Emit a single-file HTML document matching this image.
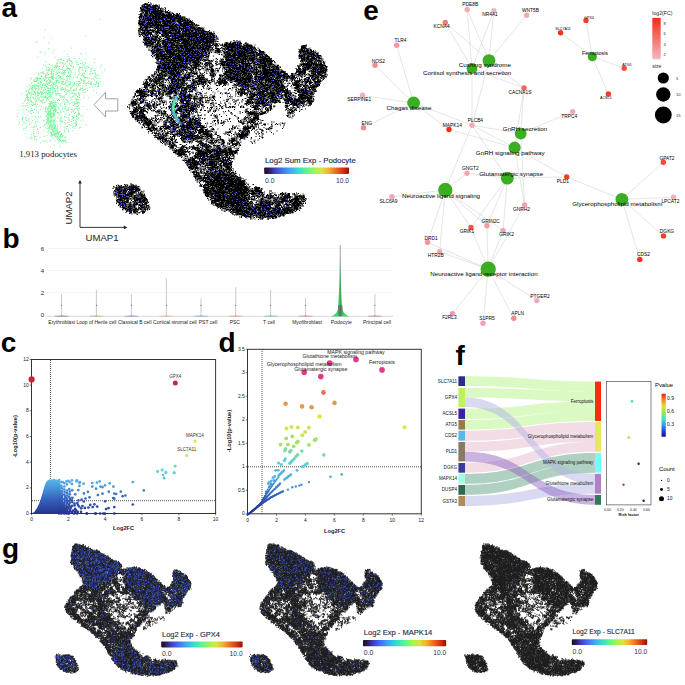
<!DOCTYPE html><html><head><meta charset="utf-8"><title>figure</title><style>html,body{margin:0;padding:0;background:#fff;width:685px;height:685px;overflow:hidden}</style></head><body><svg width="685" height="685" viewBox="0 0 685 685" style="position:absolute;left:0;top:0">
<defs>
<linearGradient id="turbo" x1="0" x2="1" y1="0" y2="0">
<stop offset="0" stop-color="#1c0f1c"/><stop offset="0.05" stop-color="#2a1a55"/><stop offset="0.12" stop-color="#3d3fc0"/>
<stop offset="0.2" stop-color="#4668f0"/><stop offset="0.3" stop-color="#3ea6f5"/><stop offset="0.4" stop-color="#35dcd0"/>
<stop offset="0.5" stop-color="#5af590"/><stop offset="0.6" stop-color="#a5f550"/><stop offset="0.68" stop-color="#d8e43a"/>
<stop offset="0.76" stop-color="#f5b030"/><stop offset="0.84" stop-color="#f07020"/><stop offset="0.92" stop-color="#d83a10"/>
<stop offset="1" stop-color="#8c1408"/></linearGradient>
<linearGradient id="redleg" x1="0" x2="0" y1="0" y2="1"><stop offset="0" stop-color="#ff2a1a"/><stop offset="1" stop-color="#f2b8c2"/></linearGradient>
<linearGradient id="pval" x1="0" x2="0" y1="0" y2="1"><stop offset="0" stop-color="#ff1a10"/><stop offset="0.15" stop-color="#f58a20"/><stop offset="0.3" stop-color="#e8e030"/><stop offset="0.45" stop-color="#90e860"/><stop offset="0.6" stop-color="#40e0d0"/><stop offset="0.75" stop-color="#3090f0"/><stop offset="0.9" stop-color="#2030d0"/><stop offset="1" stop-color="#101080"/></linearGradient>
<linearGradient id="cloud" x1="0" x2="0" y1="1" y2="0"><stop offset="0" stop-color="#27358f"/><stop offset="0.4" stop-color="#3460bd"/><stop offset="0.8" stop-color="#4a9bdc"/><stop offset="1" stop-color="#5ab6e6"/></linearGradient>
</defs>
<path id="um" d="M148 2.5h1M150 3h1M145 3.5h1m.5 0h1M144 4h1m1.5 0h1m3.5 0h1M143.5 4.5h5m.5 0h2M142 5h2m2 0h5.5m1.5 0h1m1 0h2m1.5 0h1M141.5 5.5h1m1.5 0h1m2 0h3m2.5 0h1m.5 0h2.5m.5 0h1M142 6h1.5m.5 0h1.5m.5 0h5m1 0h5.5m1.5 0h1M141.5 6.5h7.5m.5 0h2m1 0h4m1 0h1M142.5 7h2.5m.5 0h3.5m.5 0h5.5m1 0h4M140 7.5h1m.5 0h1m1.5 0h4m2.5 0h4m.5 0h1m1 0h2.5m5 0h1M141 8h3m1.5 0h2m1 0h7.5m.5 0h1m.5 0h2m1 0h1M140 8.5h2m1.5 0h1m1 0h4.5m.5 0h1m1 0h1.5m.5 0h2.5m.5 0h2m.5 0h1m1.5 0h1m1.5 0h1M140.5 9h1.5m.5 0h11m.5 0h1m1.5 0h1m4 0h1M141 9.5h4m1 0h2m.5 0h10m1.5 0h1m3.5 0h1M140.5 10h1.5m1.5 0h1.5m.5 0h6m.5 0h7.5m1 0h3.5M141 10.5h2m.5 0h8m.5 0h4m.5 0h5m3.5 0h1m2 0h1M140.5 11h10m1.5 0h5.5m2 0h3.5M139.5 11.5h1m4 0h4m.5 0h1m.5 0h8.5m.5 0h4m1 0h2m.5 0h1m1.5 0h1M141 12h2m.5 0h1m.5 0h3m1 0h1m.5 0h4m.5 0h9.5m.5 0h1m.5 0h1.5M142.5 12.5h1.5m1 0h3m.5 0h1.5m.5 0h7.5m.5 0h3.5m3 0h5m.5 0h1M145 13h2m.5 0h1m1 0h1m.5 0h1m.5 0h1m1.5 0h1.5m.5 0h5.5m5.5 0h1m3 0h1M140.5 13.5h1.5m1.5 0h17.5m.5 0h3m3.5 0h2m1.5 0h2.5m2.5 0h1m1.5 0h1M140 14h2.5m1 0h1m.5 0h3m1.5 0h1m1.5 0h1.5m.5 0h6m2.5 0h1.5m1 0h6m5 0h2m1 0h1M138.5 14.5h1m.5 0h2m2 0h2m1.5 0h1m1.5 0h3m1 0h13m1 0h4m1 0h2m1.5 0h2M139.5 15h3m1 0h2m.5 0h4m1.5 0h1m.5 0h2m.5 0h5m1 0h1.5m.5 0h1.5m1.5 0h2.5m.5 0h2m2 0h1m.5 0h4.5M140 15.5h2.5m1.5 0h3.5m.5 0h3m.5 0h7m.5 0h1m.5 0h12m.5 0h1m.5 0h4.5m1 0h1M140 16h3.5m.5 0h1m1 0h2.5m1.5 0h2m1.5 0h1.5m2 0h2m.5 0h3m1.5 0h5.5m.5 0h1.5m1 0h2m.5 0h5M139 16.5h3.5m.5 0h4m.5 0h1m.5 0h1m.5 0h1m.5 0h5m.5 0h3.5m1 0h2m.5 0h1.5m.5 0h4m.5 0h3.5m1.5 0h5m1.5 0h1M139.5 17h2.5m1.5 0h1.5m1 0h5m.5 0h1m.5 0h2m2 0h3.5m.5 0h12m.5 0h3m.5 0h2m2 0h1.5m1 0h2M138.5 17.5h2m.5 0h1m1 0h1m1.5 0h1m.5 0h2.5m1 0h4m.5 0h2.5m.5 0h2.5m.5 0h5m1 0h6.5m.5 0h3.5m1 0h3m.5 0h1m.5 0h1M139 18h1m.5 0h2.5m2 0h7.5m1.5 0h4.5m1 0h1m1.5 0h4.5m1 0h2.5m.5 0h1m.5 0h13.5M139 18.5h1m1.5 0h2.5m.5 0h5m.5 0h5.5m.5 0h1m.5 0h6m.5 0h1m.5 0h2m.5 0h5m.5 0h8.5m.5 0h1.5m.5 0h1m.5 0h1M139.5 19h1.5m1 0h6m1 0h3m.5 0h1.5m1 0h3.5m1 0h3m1.5 0h4.5m.5 0h2m.5 0h4m.5 0h9m.5 0h3m.5 0h1M139.5 19.5h1m1.5 0h2m.5 0h1m1.5 0h7.5m.5 0h5.5m.5 0h3m1 0h10.5m2.5 0h1m.5 0h6m1.5 0h1M139 20h5m.5 0h9.5m1 0h3m.5 0h3m.5 0h2m1.5 0h10.5m.5 0h2m.5 0h1m.5 0h1.5m.5 0h2m2 0h3M138.5 20.5h2m2 0h2.5m1 0h7.5m.5 0h1.5m.5 0h3m2.5 0h4m.5 0h10m.5 0h4.5m1 0h4.5m.5 0h2m.5 0h1.5M139 21h1m.5 0h1m.5 0h1m.5 0h6m1 0h10.5m1 0h13m.5 0h1m.5 0h3.5m1 0h4m1 0h2.5m3 0h1M139 21.5h3m.5 0h2.5m2 0h4m.5 0h1.5m1 0h4.5m.5 0h2m.5 0h3.5m.5 0h6m.5 0h2.5m1 0h10.5m.5 0h1.5m1 0h3M138 22h2.5m.5 0h4.5m1 0h2m.5 0h2m1 0h6.5m.5 0h1m.5 0h11.5m1 0h3m.5 0h5m1.5 0h4.5m.5 0h1m1.5 0h1M139 22.5h1m1.5 0h19.5m2.5 0h9m1.5 0h1.5m2.5 0h3.5m2 0h10M138 23h1.5m.5 0h3m.5 0h8m.5 0h3m2 0h1m.5 0h2.5m.5 0h1m.5 0h2.5m.5 0h3m.5 0h3.5m5.5 0h2.5m.5 0h1m.5 0h1.5m.5 0h3m3.5 0h2M138 23.5h5m.5 0h2m.5 0h2.5m.5 0h5m1 0h6m1 0h6.5m.5 0h2m2 0h2m3 0h4m1 0h6.5m1.5 0h1.5m1 0h1.5M138.5 24h7.5m.5 0h3m1.5 0h1.5m.5 0h3.5m.5 0h1m1 0h1.5m2 0h2.5m1 0h2m1 0h1m.5 0h2.5m1.5 0h3m1 0h7.5m.5 0h8.5M139 24.5h5.5m.5 0h1m.5 0h7.5m.5 0h5.5m.5 0h1.5m.5 0h1m.5 0h4.5m2 0h1m.5 0h2m1 0h2m.5 0h1.5m.5 0h4m.5 0h1m.5 0h7.5m.5 0h2m.5 0h1M138.5 25h2m2 0h11m.5 0h1.5m.5 0h2.5m.5 0h3m2.5 0h6.5m1 0h1.5m.5 0h4m3 0h2.5m.5 0h8m1.5 0h1m3 0h1M140 25.5h1m.5 0h3.5m.5 0h2m.5 0h1.5m.5 0h20m.5 0h2.5m.5 0h2.5m.5 0h3m.5 0h10.5m1.5 0h1.5m1.5 0h1.5m1 0h2M140 26h1m.5 0h1m1.5 0h1.5m.5 0h4m1 0h2.5m.5 0h8.5m.5 0h3m1 0h1m1 0h2.5m.5 0h1.5m.5 0h1m.5 0h1m.5 0h5.5m.5 0h12m1 0h2M140.5 26.5h2m1.5 0h8.5m1 0h1m.5 0h9.5m.5 0h2m.5 0h7m.5 0h3m1 0h1m2 0h10m.5 0h1m1 0h1M139.5 27h2.5m1 0h1m.5 0h7m2 0h2m.5 0h2m.5 0h1m2 0h3.5m2.5 0h2.5m.5 0h4.5m.5 0h2.5m.5 0h6m.5 0h8.5m2 0h1M140 27.5h2m.5 0h1m.5 0h4m1.5 0h1.5m.5 0h2m1.5 0h4m.5 0h2m1 0h1.5m5 0h2.5m.5 0h2.5m.5 0h2m.5 0h1m.5 0h1m.5 0h4m.5 0h1.5m.5 0h2m1 0h2.5m.5 0h2m1.5 0h1m.5 0h2m.5 0h1M140 28h4m1.5 0h4.5m4.5 0h2m1 0h2m.5 0h1m.5 0h2m1 0h4m.5 0h6.5m.5 0h4m.5 0h1m.5 0h7.5m.5 0h9m.5 0h1m1.5 0h1m.5 0h1M138.5 28.5h1.5m.5 0h3m1.5 0h2.5m6.5 0h1m.5 0h2.5m.5 0h3m1 0h1.5m.5 0h3.5m.5 0h7m1.5 0h9m.5 0h1m1 0h3m.5 0h4m1 0h5m.5 0h1M138.5 29h2.5m.5 0h1.5m1 0h4m1.5 0h1m2 0h1.5m3 0h7m.5 0h1m.5 0h7.5m.5 0h7m1 0h14m.5 0h1.5m1 0h3m1 0h1M139.5 29.5h6.5m.5 0h1m2.5 0h1m.5 0h1m2.5 0h1m1.5 0h1.5m1 0h2m.5 0h2.5m.5 0h1m2 0h2m1 0h5m.5 0h3m1 0h1.5m.5 0h1m1 0h4m.5 0h1.5m1.5 0h1m.5 0h6.5m.5 0h2M138.5 30h1m1 0h10m3.5 0h1m2 0h1m.5 0h1m1.5 0h6m.5 0h3.5m1 0h1.5m1 0h4m.5 0h1m2.5 0h1.5m1 0h1m.5 0h5m.5 0h2m1 0h1m1 0h7.5M138 30.5h1.5m2 0h4m.5 0h9.5m1 0h7.5m.5 0h3.5m2 0h10.5m.5 0h1m1 0h6m.5 0h3.5m.5 0h1m.5 0h1m.5 0h8m4.5 0h1M138 31h3m1 0h1m.5 0h1m.5 0h1m1 0h2m.5 0h1m6.5 0h9.5m.5 0h3m2 0h2.5m.5 0h5m2 0h6m.5 0h2m.5 0h3.5m.5 0h1m.5 0h1m1 0h3m.5 0h2m.5 0h1M138.5 31.5h1m4 0h2m1 0h3m2.5 0h2.5m.5 0h4.5m2.5 0h5m1.5 0h3m1 0h1m1.5 0h6m1 0h8.5m.5 0h2.5m1.5 0h2m.5 0h2m1.5 0h1.5m.5 0h4.5m.5 0h1M140 32h1m1.5 0h3m1 0h2.5m1.5 0h3.5m1 0h1.5m1 0h2m2 0h3.5m.5 0h6m2.5 0h6.5m1.5 0h1m1 0h3m.5 0h2.5m1 0h1m.5 0h2m.5 0h2.5m.5 0h1.5m.5 0h6m1 0h1.5m.5 0h1m.5 0h1m1.5 0h1.5M138.5 32.5h1m1.5 0h1.5m.5 0h2m.5 0h2.5m.5 0h3.5m1.5 0h1m1.5 0h5m2 0h4.5m.5 0h4.5m1 0h1m1 0h1m.5 0h3.5m2 0h1m1 0h2m2.5 0h2.5m1 0h5m1.5 0h1m.5 0h5m1 0h1m1.5 0h1.5m.5 0h1M139 33h1m.5 0h1m.5 0h3.5m.5 0h4m1 0h1m2.5 0h1.5m.5 0h2.5m.5 0h1m1 0h2m1 0h2.5m.5 0h6.5m.5 0h1m.5 0h4m1 0h3m1 0h15m.5 0h1m.5 0h1m3 0h5.5M138.5 33.5h1m2 0h4m.5 0h1.5m.5 0h4m4.5 0h1.5m1 0h2m1.5 0h1m.5 0h4m.5 0h7.5m.5 0h14.5m.5 0h11m.5 0h2m.5 0h1m.5 0h6.5m.5 0h1M142 34h1.5m.5 0h2m.5 0h1m.5 0h3m4 0h2.5m5 0h6.5m.5 0h2.5m.5 0h1.5m1 0h4.5m1 0h1m.5 0h2m.5 0h1m1.5 0h2m.5 0h2.5m.5 0h2m.5 0h3m.5 0h15M139 34.5h1m.5 0h1.5m2 0h4m1 0h3.5m3.5 0h1m4 0h2m.5 0h1m.5 0h2.5m.5 0h1m1 0h1m1.5 0h4m.5 0h3.5m1 0h1m.5 0h1m.5 0h3m.5 0h4.5m.5 0h1m.5 0h4.5m1 0h4m.5 0h4.5m.5 0h4M138.5 35h1m.5 0h1m1 0h2m1 0h1.5m.5 0h2.5m3 0h1m.5 0h1m1.5 0h2.5m2.5 0h1m1 0h5.5m1.5 0h6m.5 0h2m.5 0h5.5m.5 0h3.5m.5 0h10m.5 0h11m.5 0h4M142 35.5h1m2 0h3m2 0h1m1 0h1m4 0h1.5m3 0h7m1 0h2m.5 0h1.5m.5 0h4.5m.5 0h1.5m.5 0h22m.5 0h2.5m1 0h1m2 0h1.5m.5 0h3M140 36h1m3 0h4.5m1.5 0h1m1.5 0h2m.5 0h2m6 0h1m1 0h5.5m1 0h18.5m.5 0h6m1.5 0h1m1 0h5.5m1.5 0h4m1 0h1m.5 0h1.5m.5 0h1.5M139 36.5h1m3 0h1m.5 0h1m1.5 0h2m3.5 0h1.5m.5 0h3.5m1.5 0h1m1 0h3m.5 0h2m.5 0h1m.5 0h7.5m1 0h2.5m.5 0h3.5m.5 0h2m.5 0h10.5m1 0h13.5m1 0h1m2 0h1M143 37h4.5m.5 0h1.5m.5 0h3.5m.5 0h4m.5 0h1m.5 0h1m3.5 0h5m1 0h2.5m.5 0h3.5m.5 0h6.5m1 0h9m4 0h13m.5 0h4m1 0h1M145 37.5h5m1.5 0h1m2 0h3.5m1.5 0h1m4 0h1.5m.5 0h1.5m.5 0h1m2.5 0h1m1.5 0h8m.5 0h1m4 0h5m.5 0h1m.5 0h4m.5 0h9.5m.5 0h3m.5 0h2m.5 0h1M144 38h1m1 0h1m1 0h1.5m1.5 0h1m.5 0h1.5m.5 0h3m1 0h1m1 0h1m4 0h4m3 0h1.5m.5 0h11m.5 0h2m.5 0h9m1 0h1.5m1 0h9m.5 0h3m.5 0h1.5m2 0h1M143.5 38.5h3.5m.5 0h2m.5 0h3.5m1 0h1.5m2 0h2m1 0h1m1 0h1m2 0h4.5m1 0h7.5m1.5 0h3m1 0h1.5m1 0h5m1.5 0h1.5m.5 0h3m.5 0h8m.5 0h4.5m.5 0h1.5m2.5 0h1M144 39h3m.5 0h2m.5 0h4.5m.5 0h2m.5 0h1m.5 0h1m1.5 0h1m.5 0h1.5m1.5 0h2.5m1 0h3.5m.5 0h5m1 0h1m.5 0h1m1.5 0h2m.5 0h5m.5 0h3.5m.5 0h1.5m1.5 0h1.5m2.5 0h9m.5 0h3m1 0h2M143 39.5h1.5m.5 0h12m2 0h2m3 0h5.5m1 0h3m1 0h1.5m2 0h8.5m1 0h3m.5 0h1m1 0h2m1 0h3.5m.5 0h13.5m.5 0h1.5M144.5 40h2.5m.5 0h2.5m.5 0h3m.5 0h4.5m8 0h4.5m.5 0h1m.5 0h1m3.5 0h1m.5 0h2m.5 0h4m.5 0h2m.5 0h2.5m.5 0h5.5m.5 0h12.5m.5 0h4m1 0h1M143.5 40.5h2m.5 0h2m2 0h5.5m.5 0h1m.5 0h3m1 0h4m.5 0h1m.5 0h15m.5 0h16.5m.5 0h5.5m.5 0h3.5m.5 0h2.5m.5 0h1.5m19 0h1m2 0h1M145 41h11m5.5 0h5m1 0h1m.5 0h3m1 0h13.5m.5 0h2m1 0h1m.5 0h1.5m1.5 0h1m.5 0h2m1 0h2.5m.5 0h3m1.5 0h4.5m.5 0h1m.5 0h1m.5 0h2m17 0h1m5 0h1M145.5 41.5h1m.5 0h6.5m1.5 0h1m.5 0h1m.5 0h1m.5 0h2m1.5 0h1m.5 0h2m.5 0h1.5m.5 0h2m1.5 0h4m.5 0h1m1.5 0h1.5m2 0h5m.5 0h1.5m.5 0h10.5m.5 0h13m1 0h1m.5 0h1.5m12 0h1m7 0h1M142.5 42h1m.5 0h2.5m1 0h5.5m1.5 0h1m1.5 0h1m1 0h1m2 0h10m1 0h1.5m.5 0h2m.5 0h2m2.5 0h7.5m.5 0h2m1.5 0h2.5m.5 0h6m.5 0h4.5m.5 0h4.5m.5 0h1m.5 0h1m18.5 0h5m.5 0h1M143 42.5h1m1 0h2m.5 0h3.5m1 0h4m1 0h2m3 0h4.5m1 0h6m2 0h4m2 0h3m.5 0h5m1.5 0h1m.5 0h5m.5 0h3.5m.5 0h9m1 0h1.5m11.5 0h2m2.5 0h1m2 0h3m1 0h2.5m.5 0h1m4.5 0h1M144 43h2.5m2 0h5m3.5 0h1.5m.5 0h1.5m.5 0h2m.5 0h1m1 0h1m.5 0h4m2 0h4m.5 0h1m2.5 0h1m.5 0h4.5m1 0h2m1 0h1.5m1.5 0h7m.5 0h1m1 0h6.5m1 0h2m2 0h1m8.5 0h1m1 0h1m1 0h1m.5 0h1m.5 0h3.5m1.5 0h3m1 0h1m4 0h1M144 43.5h9.5m3.5 0h2m3 0h2m1 0h4m.5 0h1m.5 0h2m.5 0h1.5m2 0h1m.5 0h1.5m.5 0h5.5m.5 0h4m.5 0h2.5m.5 0h3.5m1 0h2.5m1 0h1m.5 0h6.5m.5 0h1m1.5 0h1.5m1.5 0h1m.5 0h1m7 0h6m.5 0h2.5m.5 0h1m1 0h1m.5 0h3.5m3 0h1m.5 0h1M145 44h1m.5 0h1m1.5 0h1.5m.5 0h1m1 0h1.5m.5 0h2m.5 0h1m.5 0h2m1 0h10.5m4 0h1m.5 0h1.5m.5 0h1.5m.5 0h6m.5 0h11.5m2 0h1m1.5 0h4m.5 0h2m1 0h2.5m.5 0h1m3 0h1m2 0h1m1.5 0h6m1.5 0h4.5m1 0h3m3.5 0h5M144.5 44.5h3m1 0h1m1 0h2.5m2.5 0h3m1.5 0h1m1.5 0h2m.5 0h3.5m2.5 0h4m1.5 0h1m1 0h1.5m.5 0h1m2 0h8.5m1 0h2.5m1.5 0h3m.5 0h6m.5 0h3.5m3 0h1m1 0h2.5m4 0h1m1 0h10m.5 0h3.5m.5 0h2m2.5 0h1m2 0h2M144 45h5m1 0h4m.5 0h4m.5 0h1m4 0h1m1 0h4m.5 0h10m3.5 0h5.5m.5 0h3.5m1.5 0h1m.5 0h1m.5 0h2m1 0h2m.5 0h6.5m2 0h2m.5 0h3.5m2 0h2m.5 0h1m.5 0h7m.5 0h1m.5 0h3.5m1 0h4.5m1 0h1m2.5 0h2m.5 0h3m2.5 0h1m50 0h1.5M146.5 45.5h5m3.5 0h1.5m.5 0h1m.5 0h2.5m.5 0h1m1 0h7m.5 0h6.5m1 0h7.5m.5 0h1m1 0h2.5m2 0h10m.5 0h4.5m.5 0h4.5m1 0h2.5m1 0h1.5m1.5 0h1m.5 0h1m1 0h16.5m3.5 0h8.5m50.5 0h3M146.5 46h2.5m1 0h1m1 0h1m1 0h2m1.5 0h1.5m.5 0h1.5m2 0h3.5m1 0h5m1 0h6.5m1 0h9.5m.5 0h1.5m1 0h1.5m1 0h16m4 0h1m6 0h1m.5 0h18m1 0h1m.5 0h6.5m49.5 0h6M146.5 46.5h1m2 0h1m1 0h2.5m.5 0h1m.5 0h4m.5 0h2m.5 0h5.5m.5 0h3.5m3 0h2m2.5 0h3m.5 0h5m1.5 0h1m.5 0h2.5m.5 0h4m.5 0h2.5m1 0h2m1 0h5m4.5 0h1m1.5 0h1m4 0h1m.5 0h11m.5 0h6m.5 0h2.5m1.5 0h4.5m.5 0h1.5m48.5 0h4M147 47h1m1.5 0h1m1.5 0h1m.5 0h1m.5 0h8.5m.5 0h6.5m.5 0h3m1 0h15m.5 0h1m.5 0h1m2 0h2.5m1.5 0h2m.5 0h1m.5 0h1m1 0h4m.5 0h1.5m2 0h1m1 0h2.5m7 0h4.5m.5 0h1.5m1 0h2m2.5 0h10.5m1 0h3m1 0h3m46.5 0h1m.5 0h3.5M152 47.5h1m1 0h2.5m4 0h3m1 0h5.5m.5 0h4.5m.5 0h3.5m.5 0h6m.5 0h2.5m.5 0h1m.5 0h5m1 0h2m.5 0h9m.5 0h2.5m.5 0h1m3 0h1m4.5 0h1.5m2.5 0h1.5m.5 0h9.5m.5 0h4.5m1 0h3.5m.5 0h2m1.5 0h3.5m.5 0h1m46 0h4.5M148.5 48h1m1.5 0h2m.5 0h6m.5 0h1.5m2 0h2m.5 0h5.5m.5 0h1m.5 0h2m1 0h3m1 0h3m.5 0h6.5m.5 0h1m.5 0h9m1 0h2m1 0h1m.5 0h3.5m.5 0h2m10.5 0h1m.5 0h1m1 0h13.5m.5 0h12.5m1.5 0h1m1.5 0h1m42.5 0h3.5m.5 0h1m3.5 0h1M153.5 48.5h1.5m.5 0h4m5 0h1.5m.5 0h2.5m.5 0h1.5m.5 0h2m3 0h2m.5 0h2m.5 0h8m.5 0h6m.5 0h4m.5 0h8m3 0h1m2 0h4.5m.5 0h1.5m1 0h2m1.5 0h7m1.5 0h1m.5 0h2m1 0h15.5m.5 0h1m45 0h3.5m.5 0h2.5m1 0h1M150.5 49h1m2 0h1m1.5 0h3m.5 0h1.5m1 0h13.5m.5 0h1m.5 0h5m.5 0h2.5m1 0h4m.5 0h5m.5 0h14m1 0h1m2 0h1m.5 0h3m3 0h1m1 0h3m2 0h8m1 0h2m1.5 0h8.5m.5 0h5m3 0h1m41 0h2m1.5 0h1.5m.5 0h1m.5 0h1M148.5 49.5h1m2.5 0h1m.5 0h9.5m2 0h1m1 0h20m.5 0h3.5m.5 0h2m5 0h1m1 0h5.5m.5 0h2.5m.5 0h1m1 0h1m.5 0h1m3 0h3m3.5 0h9.5m1.5 0h4.5m2 0h1m.5 0h5.5m.5 0h2m.5 0h2m2.5 0h1.5m2 0h1m38.5 0h1m1 0h2.5m1 0h1m1.5 0h1.5m1.5 0h2M152 50h1.5m2 0h1.5m1 0h1m1.5 0h2.5m.5 0h5m1 0h1m2 0h4m.5 0h1m.5 0h10m.5 0h1m1 0h5.5m.5 0h5m3 0h1.5m.5 0h2m1 0h2.5m4 0h1.5m.5 0h1.5m4.5 0h1.5m2 0h8.5m1 0h7m.5 0h1m.5 0h1.5m1 0h7m3 0h1m39.5 0h6M148.5 50.5h1m1 0h5m.5 0h4.5m4.5 0h6.5m1 0h1m.5 0h1.5m.5 0h1m.5 0h3m.5 0h1.5m1 0h1m.5 0h2m.5 0h9m.5 0h2m.5 0h1.5m1 0h1m.5 0h2.5m.5 0h2.5m.5 0h1m2 0h1m1.5 0h4.5m1 0h1m.5 0h1m5 0h6.5m.5 0h1.5m1 0h3.5m1 0h7.5m.5 0h1m.5 0h2.5m3.5 0h1m.5 0h2m38.5 0h1m.5 0h4m1 0h3m.5 0h2.5m1 0h1M150.5 51h3m.5 0h10m.5 0h4.5m.5 0h4m1.5 0h1m.5 0h1m1.5 0h1.5m.5 0h2.5m1.5 0h14m1 0h3.5m4.5 0h1m1 0h1.5m3 0h1m1 0h1m1 0h2.5m1.5 0h1m.5 0h2m.5 0h1.5m.5 0h2m2 0h13m.5 0h1m.5 0h2m.5 0h5.5m.5 0h1m2.5 0h1m38.5 0h2.5m.5 0h4.5m.5 0h1.5m4.5 0h1m1 0h1M151 51.5h3.5m.5 0h2.5m.5 0h1m.5 0h2m.5 0h2m.5 0h1m.5 0h11.5m.5 0h7.5m.5 0h11.5m.5 0h3m.5 0h4.5m.5 0h1m1 0h1m6 0h1m.5 0h3.5m2.5 0h1m2 0h4m.5 0h2.5m.5 0h11.5m.5 0h2.5m.5 0h1m1.5 0h3m1 0h1.5m2 0h5.5m34.5 0h3m.5 0h6.5m1 0h1m.5 0h3M151.5 52h3m.5 0h1m.5 0h1.5m3 0h1m.5 0h3m1.5 0h9m.5 0h1m.5 0h1.5m.5 0h4.5m.5 0h2m.5 0h2m.5 0h1.5m1 0h3.5m1 0h3m2.5 0h1m.5 0h1.5m1 0h1m1 0h1m1 0h1m1 0h1m1 0h1m1 0h3m1 0h1m2.5 0h1m2 0h3m2 0h12m.5 0h2m.5 0h2m.5 0h7.5m3 0h4.5m34.5 0h6.5m1.5 0h3.5m.5 0h1m1 0h2m.5 0h1M152 52.5h4m1 0h1m.5 0h4m1 0h1m1.5 0h8.5m4 0h2m1.5 0h1m.5 0h2.5m1 0h1.5m.5 0h1.5m.5 0h2m.5 0h3m.5 0h3m1 0h1m.5 0h4.5m.5 0h1m.5 0h1m1 0h1m2.5 0h2m1.5 0h1.5m1 0h1m2 0h5m.5 0h1m.5 0h1m1 0h1m.5 0h6m1 0h6m.5 0h1m.5 0h6m.5 0h2.5m1 0h5.5m35.5 0h1.5m1.5 0h1m1 0h1m.5 0h3m.5 0h2m1 0h1m1 0h1m1.5 0h1M151.5 53h2.5m1.5 0h1.5m.5 0h3.5m.5 0h1.5m1 0h1m2 0h8m1 0h2.5m1 0h4.5m.5 0h1m1.5 0h3m1 0h5m.5 0h5m.5 0h2m.5 0h1m.5 0h1m8.5 0h1m.5 0h1m.5 0h1.5m3.5 0h5.5m1 0h2.5m2.5 0h2m.5 0h1m.5 0h6m1.5 0h1m1 0h1.5m1 0h5m4 0h1.5m1 0h1.5m.5 0h1m33 0h2.5m.5 0h1m1 0h4m.5 0h5.5m.5 0h1M152.5 53.5h1.5m2 0h1.5m1 0h4m3 0h1m.5 0h1.5m.5 0h6.5m.5 0h3m.5 0h1m1 0h3m.5 0h13m1.5 0h3m2.5 0h2m1 0h2m14 0h1m2 0h3m.5 0h1m.5 0h4m.5 0h9m1 0h5.5m.5 0h2m1.5 0h1m.5 0h3m1 0h3.5m35 0h1m1.5 0h1m.5 0h2m1 0h4m.5 0h2.5m2 0h2.5M152 54h3m1.5 0h2m.5 0h1.5m1.5 0h4.5m.5 0h6.5m.5 0h3m1.5 0h1m.5 0h6.5m1.5 0h7m1.5 0h9.5m.5 0h1m1.5 0h1m12.5 0h1m2 0h5.5m2.5 0h12.5m.5 0h1m3 0h2.5m3.5 0h8.5m36 0h1m1 0h4.5m1.5 0h5.5m.5 0h2.5M152 54.5h1m2 0h4.5m.5 0h2.5m.5 0h4m.5 0h9.5m.5 0h2.5m1.5 0h2m1.5 0h6.5m.5 0h2m2 0h3m.5 0h5m1.5 0h1.5m11 0h1.5m1 0h1m2.5 0h2m.5 0h4.5m.5 0h10.5m.5 0h3.5m1 0h1m2 0h4.5m.5 0h2.5m.5 0h4.5m1 0h1m.5 0h1.5m32 0h1m2.5 0h2.5m.5 0h2m1 0h6.5m1 0h2M156 55h4.5m.5 0h8.5m1 0h4.5m1 0h1.5m.5 0h2m1 0h2m.5 0h1m1.5 0h2m.5 0h1m.5 0h1m1 0h11m.5 0h1m1 0h2m.5 0h1.5m12 0h1m2.5 0h6m1 0h1m.5 0h1m.5 0h7.5m1 0h1.5m.5 0h8.5m.5 0h1m.5 0h7m.5 0h1m.5 0h1.5m32.5 0h4.5m.5 0h1m.5 0h4.5m.5 0h3m.5 0h1m.5 0h3.5M151 55.5h1m1.5 0h2m.5 0h3m1 0h6m.5 0h1.5m1 0h5.5m.5 0h1m.5 0h5m.5 0h5.5m.5 0h4.5m.5 0h13.5m1.5 0h1m16 0h1m.5 0h1m.5 0h4.5m.5 0h13.5m1 0h2m.5 0h1m.5 0h4m1 0h3m2.5 0h1m2 0h3m30.5 0h4.5m.5 0h2m1 0h1m.5 0h1m1.5 0h6m.5 0h4M154 56h1m1 0h4m.5 0h7.5m2 0h3.5m1 0h8m.5 0h1m.5 0h1m2 0h6m1 0h1m3 0h1m1 0h2.5m3.5 0h1m1 0h1m3.5 0h1m9 0h2m1 0h2.5m1 0h4m.5 0h2.5m.5 0h7.5m.5 0h1m.5 0h6.5m2.5 0h1m.5 0h1m1 0h3.5m1 0h3.5m32.5 0h4.5m2 0h4.5m.5 0h5.5m.5 0h2.5m1 0h1M152 56.5h1m3 0h3m.5 0h12.5m.5 0h9m.5 0h1.5m.5 0h2m.5 0h2.5m.5 0h1.5m.5 0h2m1 0h1.5m.5 0h1m1 0h4m.5 0h1m1.5 0h3.5m15 0h1.5m.5 0h3.5m1 0h5m1.5 0h6m.5 0h4.5m.5 0h1m1 0h1.5m1.5 0h2m.5 0h1m2 0h2m1 0h2m1 0h4m29.5 0h4.5m1 0h1m2 0h5m.5 0h3.5m.5 0h1m.5 0h1.5m1 0h1M152.5 57h1m2 0h6m.5 0h3m1 0h5m1 0h1m.5 0h1m2 0h3.5m.5 0h2m.5 0h20m5 0h1m14 0h1m1 0h7m1 0h3m1 0h1m1 0h3.5m1.5 0h5m.5 0h1m.5 0h6m2 0h1m2 0h4.5m2.5 0h1m29.5 0h7m5 0h1.5m.5 0h2m.5 0h1.5m1 0h1M155.5 57.5h2.5m.5 0h1m.5 0h1m.5 0h5m1.5 0h4m1 0h8.5m1.5 0h1m1.5 0h1m.5 0h14.5m2 0h2.5m.5 0h1m17 0h1.5m.5 0h1m.5 0h3.5m.5 0h3.5m.5 0h4m1.5 0h1m.5 0h1.5m.5 0h1m1 0h1.5m.5 0h1.5m1.5 0h4m3 0h4m.5 0h3m.5 0h1m.5 0h1.5m30.5 0h5m.5 0h3.5m2 0h3.5m1 0h4M156.5 58h1m.5 0h10.5m.5 0h1m1.5 0h1m.5 0h10.5m2.5 0h2m.5 0h8m.5 0h1.5m.5 0h1m1 0h2.5m3 0h1m.5 0h1m14.5 0h1m.5 0h3.5m.5 0h1.5m1 0h5m2 0h7m1 0h1.5m1.5 0h3.5m1 0h1.5m.5 0h2.5m1.5 0h10m28.5 0h2m1 0h3m1 0h1m.5 0h2.5m1 0h3m.5 0h1m1.5 0h1m.5 0h4M155 58.5h1m.5 0h1m.5 0h2.5m.5 0h8m1 0h1m1 0h10.5m.5 0h1m1 0h3.5m1.5 0h2.5m.5 0h2m.5 0h6.5m14 0h1m9 0h1.5m.5 0h1m2.5 0h1m.5 0h3m.5 0h4.5m1.5 0h5m1 0h6m1 0h2m2 0h1m1.5 0h8.5m.5 0h1m27 0h1.5m.5 0h2.5m.5 0h1m1 0h4.5m1 0h5m1.5 0h3M156.5 59h2m.5 0h4m.5 0h5m1.5 0h1m1 0h8.5m1 0h3.5m.5 0h6.5m1 0h8.5m2 0h1m1 0h2.5m7.5 0h1m3.5 0h1m.5 0h1.5m2 0h1m.5 0h3m.5 0h2m.5 0h1.5m.5 0h8.5m1 0h1.5m1.5 0h2m.5 0h3m1.5 0h3m1 0h1.5m.5 0h11m30.5 0h13.5m1 0h1.5m1 0h1.5m.5 0h3M156.5 59.5h2.5m2.5 0h2.5m.5 0h1.5m.5 0h1.5m.5 0h2m.5 0h1m1 0h2m.5 0h1m1 0h6.5m.5 0h1m.5 0h2m1 0h1.5m1 0h2m.5 0h1m1 0h3m1.5 0h1m1 0h3m2 0h1m8.5 0h1m3 0h1m1 0h1m1.5 0h8.5m1.5 0h2.5m1.5 0h4.5m.5 0h3m1 0h1.5m.5 0h5m.5 0h2m.5 0h10.5m.5 0h2m29.5 0h1m.5 0h3.5m1 0h2m.5 0h3m1 0h2m.5 0h1M156.5 60h2.5m1 0h8m.5 0h2.5m3 0h1.5m.5 0h1m.5 0h8.5m.5 0h4m.5 0h4m3.5 0h2m1 0h2m.5 0h2.5m.5 0h1m5 0h1m7.5 0h2m2 0h5m2 0h3.5m.5 0h1m.5 0h1.5m.5 0h2.5m1 0h3m2 0h2m.5 0h3m3.5 0h2m1 0h1m.5 0h2m.5 0h1m.5 0h1m1 0h3.5m30 0h3m1.5 0h3.5m1 0h1.5m.5 0h1m1.5 0h2.5m.5 0h2m.5 0h1M157 60.5h2m1.5 0h1m1 0h2m2 0h4.5m.5 0h4m.5 0h2.5m.5 0h9m.5 0h4.5m.5 0h1m.5 0h4m1 0h1.5m.5 0h1m1.5 0h2.5m1 0h2m1 0h1m8.5 0h1.5m4 0h11m.5 0h2m2 0h2.5m1 0h1m1 0h2m1 0h4.5m1 0h1m1 0h1m1 0h12.5m.5 0h1.5m26.5 0h2.5m.5 0h2m.5 0h1m1.5 0h2m.5 0h2m2.5 0h1m.5 0h3.5m1 0h1M160 61h1m.5 0h12.5m1.5 0h2m1.5 0h5m.5 0h4.5m1 0h1m.5 0h1m.5 0h2m.5 0h1.5m1.5 0h1m4 0h1.5m2.5 0h5.5m3 0h1m2 0h1m1 0h2.5m1 0h1m.5 0h3m.5 0h14m3 0h2.5m4.5 0h1m1.5 0h2m.5 0h3.5m.5 0h1.5m2.5 0h1.5m.5 0h5m28 0h2m1 0h1m.5 0h6m.5 0h4m.5 0h4m1.5 0h1M156.5 61.5h1m.5 0h1m.5 0h2m2.5 0h1m.5 0h2.5m1.5 0h1.5m1 0h1m.5 0h2m1 0h1.5m.5 0h1m.5 0h3.5m.5 0h7m1.5 0h3.5m1.5 0h2m4 0h1m7 0h1m2.5 0h1m4 0h1.5m.5 0h5.5m1 0h1m1 0h5m.5 0h1m.5 0h1m.5 0h1.5m.5 0h5.5m1 0h1m2 0h1m.5 0h2m.5 0h1.5m1 0h2m.5 0h13.5m1 0h1m25 0h1m1 0h1m.5 0h1m1.5 0h1m1.5 0h4m2 0h1.5m.5 0h1m2 0h2m1.5 0h1M159 62h2m.5 0h1m1 0h1.5m.5 0h1m.5 0h2.5m.5 0h1.5m1 0h2m1 0h5m1 0h5m1.5 0h5.5m1 0h1m1 0h4m4.5 0h1m2.5 0h3m4 0h1m.5 0h1m1.5 0h6m1 0h1.5m1 0h5m.5 0h8.5m5 0h2.5m1 0h1.5m1.5 0h2m2 0h3m2 0h1m.5 0h1.5m.5 0h5m29 0h1m3 0h1.5m.5 0h1m.5 0h4m2.5 0h2m1 0h4m2.5 0h1M155.5 62.5h1m3 0h4m1 0h8.5m.5 0h8m.5 0h1m1 0h2.5m1.5 0h2.5m1.5 0h7.5m.5 0h1m4.5 0h2.5m.5 0h1.5m6.5 0h1m4 0h5m.5 0h9.5m1.5 0h6m1 0h1.5m1.5 0h1m2.5 0h2m.5 0h1.5m1 0h1m2 0h1.5m.5 0h5m.5 0h1m1.5 0h2.5m2.5 0h1m31.5 0h2m.5 0h3.5m1 0h1.5m2.5 0h2m.5 0h2m.5 0h1.5M156 63h9.5m.5 0h1m.5 0h3m2.5 0h5.5m.5 0h12m1.5 0h1m1.5 0h1m.5 0h2.5m1.5 0h2m3 0h3m.5 0h1m.5 0h1m9.5 0h2.5m.5 0h1m.5 0h10.5m.5 0h1.5m1.5 0h1m.5 0h5m1 0h1m.5 0h1m3 0h1m1.5 0h1m.5 0h1m.5 0h1m.5 0h3.5m4 0h4m.5 0h1m2 0h1m26.5 0h2m1 0h1m1 0h7m1 0h2m1.5 0h2m2.5 0h1M156.5 63.5h5m1.5 0h3m1.5 0h1.5m.5 0h1.5m.5 0h2m2.5 0h2m.5 0h2.5m.5 0h5.5m.5 0h2.5m.5 0h1m2.5 0h4m2 0h1m1 0h1m1.5 0h2.5m1 0h1m.5 0h2.5m3 0h1.5m3 0h5.5m1 0h2.5m.5 0h1.5m1 0h2m.5 0h4.5m2.5 0h11m1 0h2m2 0h1m.5 0h9m1 0h4m28.5 0h1.5m.5 0h2.5m.5 0h9.5m.5 0h1m1.5 0h3.5m1 0h2M157.5 64h1m2 0h11.5m.5 0h4m.5 0h7.5m1.5 0h2m.5 0h2m2 0h2m1 0h4.5m2 0h1m2 0h1m1 0h1.5m.5 0h1m1 0h1m4 0h1m1 0h2m1 0h2m1 0h3m.5 0h1m1 0h3m.5 0h3m.5 0h1m.5 0h2m1.5 0h1m1 0h1.5m.5 0h1m.5 0h1.5m1 0h1m1 0h1m3 0h1m2.5 0h1m.5 0h3.5m1 0h5.5m.5 0h1.5m27 0h1.5m2.5 0h2.5m1 0h2m.5 0h12m2 0h1.5M158 64.5h1.5m2 0h21m1 0h2m.5 0h1.5m1.5 0h1m2.5 0h1m1 0h5.5m1.5 0h1m1.5 0h1m1.5 0h1.5m1.5 0h1m1 0h1m4 0h1.5m2.5 0h4.5m.5 0h11m2 0h2m2 0h1.5m1 0h3m.5 0h2m3 0h1m.5 0h5.5m.5 0h1.5m1 0h5m.5 0h3m.5 0h2m26 0h11.5m1 0h1m.5 0h8.5M158.5 65h3m.5 0h3m.5 0h2.5m1.5 0h2m1 0h2m.5 0h7m.5 0h4.5m2.5 0h1.5m.5 0h1m1 0h2m2 0h1m1 0h1m4 0h5.5m2 0h1m2.5 0h1.5m5 0h13.5m.5 0h2m1.5 0h1m.5 0h6.5m2 0h1m3 0h1.5m.5 0h5m1 0h1m3 0h3m1 0h2m.5 0h2m1.5 0h1m1 0h1m21 0h1m.5 0h1m1 0h1.5m1 0h3m1 0h3.5m1 0h11.5M158.5 65.5h2.5m1 0h4.5m1.5 0h1m.5 0h1m.5 0h1.5m.5 0h3.5m1 0h6.5m.5 0h1.5m.5 0h1m2.5 0h2.5m.5 0h6.5m5.5 0h2m2 0h1m.5 0h1m1 0h1m6.5 0h1m.5 0h4m.5 0h12.5m.5 0h2m.5 0h1m.5 0h7.5m2.5 0h1.5m3 0h1m1.5 0h7m1 0h1m.5 0h1m3.5 0h1m2 0h2m18.5 0h1m2.5 0h1.5m.5 0h1m.5 0h3m.5 0h4m1 0h1m1 0h3.5m.5 0h7M157 66h2m.5 0h5m1 0h2m.5 0h2m.5 0h5m2 0h8m.5 0h2m1.5 0h3m1 0h6m.5 0h1m2 0h1m1 0h1m.5 0h1.5m4 0h2m8.5 0h2.5m.5 0h3.5m.5 0h5.5m.5 0h2.5m1.5 0h1m1 0h1m1 0h1m1 0h6.5m.5 0h3.5m2.5 0h7m2 0h4.5m.5 0h1m.5 0h2m.5 0h1.5m19 0h1m.5 0h2.5m2.5 0h1m.5 0h7m2.5 0h1m.5 0h2.5m1 0h4.5M157 66.5h3.5m3 0h13.5m1 0h1.5m.5 0h5.5m.5 0h1m4 0h1m1.5 0h1m.5 0h3.5m1 0h2m1 0h1m3 0h1m2 0h1m.5 0h2m15 0h1.5m.5 0h1m1.5 0h4m2 0h5.5m.5 0h3m1 0h1m1 0h1.5m1.5 0h1m1.5 0h1m1.5 0h2m.5 0h6.5m2 0h1m1 0h3m.5 0h3.5m1 0h1m17.5 0h1m.5 0h1m1.5 0h1m.5 0h1m.5 0h6.5m1 0h1m1 0h1m.5 0h1m.5 0h1m1 0h3.5m2 0h2.5M157 67h2m.5 0h2.5m.5 0h4m1 0h5.5m1 0h4m3.5 0h2m1.5 0h4m2 0h1m2.5 0h2.5m4.5 0h1m1.5 0h1.5m3.5 0h1m.5 0h2m7.5 0h1m2 0h1m1 0h1m1 0h3.5m.5 0h2m.5 0h4m1.5 0h1.5m1.5 0h6m.5 0h1.5m.5 0h1.5m1 0h1.5m1 0h2m.5 0h6m.5 0h3m.5 0h2.5m1.5 0h1m.5 0h2m1.5 0h1m24 0h8.5m1.5 0h3m.5 0h4m.5 0h2.5m.5 0h3m.5 0h1M157 67.5h5m.5 0h3.5m.5 0h5.5m.5 0h9.5m.5 0h5m.5 0h2m1.5 0h5.5m7.5 0h1m4 0h2m8 0h1m2.5 0h2m1 0h4.5m1 0h4m.5 0h5.5m.5 0h1.5m.5 0h3m1.5 0h1.5m1 0h2m.5 0h1m1 0h1.5m.5 0h8m1.5 0h3m.5 0h1.5m1.5 0h1m1 0h3.5m1 0h1m17 0h1.5m4 0h7m1 0h4.5m.5 0h1.5m1 0h5m.5 0h2.5M157 68h5.5m1.5 0h4m.5 0h2m.5 0h1m.5 0h1m1 0h6.5m.5 0h3m1 0h1.5m.5 0h3.5m1 0h1m1.5 0h1m.5 0h1m.5 0h2m2.5 0h1m1.5 0h1m1 0h1m3 0h2m10 0h1m2 0h2m1.5 0h2.5m2 0h3m1 0h12.5m.5 0h2.5m.5 0h1m.5 0h1m.5 0h1m2.5 0h5.5m1.5 0h1.5m3 0h4m1 0h3.5m19 0h1m4 0h1m1 0h2m1.5 0h1.5m.5 0h4m1 0h3.5m2.5 0h4.5M158 68.5h2.5m.5 0h15m1.5 0h1.5m1.5 0h3.5m.5 0h2m.5 0h1m2.5 0h1m1 0h2m.5 0h2.5m4 0h1m.5 0h1m3 0h1m3.5 0h1.5m3 0h1.5m1.5 0h1m4 0h1m3.5 0h2.5m1 0h18.5m.5 0h1.5m1.5 0h1.5m.5 0h1m2.5 0h1m1.5 0h4.5m2.5 0h1m3 0h1.5m1 0h3.5m16.5 0h1m1.5 0h3m1 0h2m.5 0h1.5m1 0h2m.5 0h1m.5 0h1m1 0h4m1 0h7m.5 0h1M156 69h1m.5 0h1m.5 0h9.5m.5 0h4m.5 0h1.5m1.5 0h6.5m.5 0h3m.5 0h1.5m1.5 0h2.5m.5 0h1m2 0h1m1 0h1m2.5 0h1m3 0h2.5m.5 0h2m.5 0h2.5m1.5 0h1m1 0h1m.5 0h1m2.5 0h1m.5 0h2.5m1.5 0h4m1 0h1m2 0h2m1.5 0h3m.5 0h6m.5 0h2.5m.5 0h2m.5 0h2.5m.5 0h1m1 0h1.5m1 0h1m.5 0h1m.5 0h3.5m1 0h1.5m.5 0h2.5m.5 0h1.5m1 0h2m17 0h1m1 0h1m.5 0h1m1.5 0h2.5m1 0h6m.5 0h1m.5 0h3.5m.5 0h4m.5 0h4.5M156 69.5h3m.5 0h1.5m1.5 0h9.5m.5 0h1.5m.5 0h2.5m.5 0h1m.5 0h1m1.5 0h4m3 0h3m1 0h1.5m1 0h1m2 0h3m5.5 0h1.5m.5 0h5.5m11 0h2m1.5 0h3.5m.5 0h1m.5 0h6.5m1.5 0h4.5m1 0h2m1 0h1m2.5 0h4m5 0h7m.5 0h4.5m.5 0h4m1 0h1m15 0h1.5m.5 0h1.5m.5 0h1m1.5 0h3.5m1 0h1m3.5 0h4m.5 0h2.5m.5 0h3m.5 0h4.5M156.5 70h1m.5 0h1m.5 0h2m.5 0h5.5m.5 0h4m1 0h5m.5 0h1.5m1 0h1m.5 0h1.5m1.5 0h1m2.5 0h1m8 0h1m.5 0h1m3 0h1m1 0h1m1 0h1m2 0h1m.5 0h1.5m12.5 0h3.5m1.5 0h2m1.5 0h1m.5 0h5.5m.5 0h1m.5 0h1m1.5 0h1.5m5.5 0h1.5m4 0h1m1.5 0h3m.5 0h7.5m.5 0h1.5m1 0h5m1.5 0h1m14 0h1.5m.5 0h3m1.5 0h2m1 0h2.5m3 0h3.5m.5 0h3.5m.5 0h1m.5 0h2.5m1 0h2.5M158 70.5h1m1.5 0h4m.5 0h14m1 0h1.5m.5 0h1m1.5 0h2m4 0h3m2 0h1m14 0h4m1 0h1m.5 0h2m7 0h1.5m.5 0h6m.5 0h1.5m4 0h9.5m.5 0h1m.5 0h1m1 0h1m.5 0h2.5m.5 0h1m1 0h1m1 0h1m.5 0h5m1 0h4.5m.5 0h1m.5 0h2.5m3 0h1m14 0h1m.5 0h3m1 0h4m4.5 0h1.5m1 0h1m1 0h3.5m.5 0h2m.5 0h3.5m.5 0h1.5M156 71h2m.5 0h1.5m.5 0h12.5m.5 0h6m.5 0h4m2 0h2m2 0h3.5m1.5 0h1m3 0h1m4.5 0h1m.5 0h1.5m.5 0h1m1.5 0h1m.5 0h1.5m8.5 0h1m1 0h1m1 0h1.5m1 0h3.5m.5 0h1.5m.5 0h6.5m1 0h3.5m.5 0h1m1 0h1m1 0h2m.5 0h4m1.5 0h3m1 0h17.5m.5 0h3.5m13 0h1.5m.5 0h2.5m.5 0h2.5m.5 0h1.5m3 0h1.5m1.5 0h1.5m1 0h3.5m1 0h3m.5 0h1m1 0h3M154.5 71.5h1m2.5 0h1m2 0h6m1 0h2.5m.5 0h5.5m1 0h2m1.5 0h1m1 0h1m7 0h1m1 0h1m2.5 0h1m13 0h3.5m.5 0h1m2 0h1m6.5 0h4.5m.5 0h6m.5 0h3.5m.5 0h4.5m1 0h2m1 0h1m.5 0h3.5m2 0h1m.5 0h3.5m.5 0h1m.5 0h4m.5 0h2m1.5 0h6m.5 0h2m1 0h4m11.5 0h7m.5 0h2.5m2.5 0h1.5m.5 0h5.5m1.5 0h6.5m.5 0h1.5M155.5 72h1m1.5 0h1m2 0h5m.5 0h1.5m.5 0h4m.5 0h1m1 0h3m1 0h3m4.5 0h1m3.5 0h1m2 0h1.5m15.5 0h1m.5 0h1m4 0h1m7 0h2.5m.5 0h10.5m2 0h2.5m.5 0h8.5m.5 0h2.5m1 0h7.5m.5 0h7.5m.5 0h4m.5 0h2m1.5 0h5m11.5 0h1m.5 0h2.5m1.5 0h1.5m7 0h1m.5 0h1m.5 0h1.5m.5 0h8m.5 0h2M154 72.5h1m1 0h1m1 0h1.5m1 0h2m.5 0h2m2.5 0h4.5m.5 0h8m1 0h1m3.5 0h1m1.5 0h3m1 0h1m2.5 0h1.5m2 0h1m3.5 0h1m4.5 0h1m1 0h1.5m12 0h2.5m.5 0h4.5m2 0h5m1 0h1m.5 0h4.5m3.5 0h1m.5 0h2m.5 0h4.5m2 0h1.5m.5 0h14m.5 0h2m1 0h5.5m10.5 0h2m.5 0h5m.5 0h2m5.5 0h1m.5 0h1m1 0h1m.5 0h5.5m.5 0h3.5M157.5 73h1m2.5 0h1m.5 0h1m1.5 0h2m.5 0h2.5m.5 0h10m2.5 0h1.5m3 0h2.5m1 0h4.5m4 0h1m5.5 0h1m4 0h1m1 0h2m.5 0h1m7 0h5m1 0h2m.5 0h2.5m.5 0h1.5m.5 0h4.5m1 0h7.5m.5 0h1m.5 0h1.5m.5 0h3.5m2 0h1.5m2 0h13.5m1 0h1m1.5 0h1.5m1.5 0h2m10 0h2m1 0h2.5m.5 0h1m.5 0h2.5m4.5 0h1m1 0h4.5m.5 0h4.5m.5 0h1m.5 0h3M154 73.5h1m.5 0h1m2.5 0h3.5m2.5 0h1m.5 0h1m.5 0h12m2.5 0h1m2 0h1m2.5 0h1.5m1.5 0h5.5m2.5 0h1m1.5 0h1m3 0h1m2 0h1.5m1.5 0h1m.5 0h1m8.5 0h3m3 0h8m1 0h3.5m1 0h4m1 0h3m2.5 0h2m.5 0h2m2 0h2m.5 0h6.5m.5 0h4m.5 0h2m.5 0h5.5m2 0h3.5m3.5 0h2m2 0h1m2.5 0h3m1.5 0h2.5m2 0h1m2.5 0h1m.5 0h1.5m.5 0h1.5m1 0h3.5m1 0h1.5m2.5 0h1M154 74h2m3 0h1m1 0h1m.5 0h1m.5 0h2.5m2.5 0h6m.5 0h3m.5 0h2m1 0h1m4.5 0h1m.5 0h2.5m2 0h2m.5 0h2m3 0h2m7.5 0h1m.5 0h2m9 0h1.5m.5 0h5.5m.5 0h1m1.5 0h7.5m.5 0h3.5m2 0h2.5m1.5 0h1m5.5 0h4m.5 0h5m1 0h6m.5 0h3.5m.5 0h3m1 0h2m.5 0h1.5m.5 0h1m4.5 0h2.5m.5 0h1m1.5 0h2.5m.5 0h3m.5 0h1m5.5 0h2.5m1 0h1.5m1 0h1m.5 0h1.5m.5 0h1m.5 0h1m.5 0h1M153.5 74.5h1.5m1.5 0h1.5m.5 0h2m.5 0h2m.5 0h1.5m1.5 0h1m2 0h1m.5 0h6m.5 0h4m3 0h2m.5 0h3m4 0h1.5m.5 0h1m4.5 0h1m7.5 0h1.5m1 0h1.5m1 0h1m3.5 0h1m3.5 0h3.5m.5 0h1m.5 0h2m1 0h8m.5 0h9.5m.5 0h1m1 0h1m.5 0h2.5m.5 0h3.5m.5 0h6.5m.5 0h1m.5 0h6.5m.5 0h4.5m1.5 0h3m.5 0h1.5m3.5 0h1.5m2.5 0h1m.5 0h3.5m1.5 0h1m1 0h1m1 0h1m1.5 0h1.5m2.5 0h4m1 0h4m3 0h2M151 75h2.5m3.5 0h2.5m.5 0h7.5m.5 0h12m1 0h1m1 0h1m.5 0h6m.5 0h1.5m6.5 0h2m3 0h1m5 0h6m3.5 0h1m.5 0h1m2.5 0h1m.5 0h2.5m.5 0h3m.5 0h1m1 0h1m1 0h6m2 0h1m1.5 0h3.5m.5 0h1m2 0h3.5m1 0h2.5m1 0h1.5m1 0h1m.5 0h7.5m.5 0h1m.5 0h2m.5 0h9m4 0h2m4.5 0h2m.5 0h3m2.5 0h1m1 0h2.5m.5 0h1m2.5 0h3.5m.5 0h4m2 0h1.5m1.5 0h1M152 75.5h1m4 0h6.5m.5 0h2.5m3.5 0h1.5m.5 0h1.5m.5 0h3m.5 0h1m1 0h1m3.5 0h1m.5 0h1m.5 0h3.5m2 0h1m3.5 0h1m.5 0h2m1 0h2.5m5.5 0h6m3.5 0h2.5m.5 0h2m2 0h2.5m1 0h1m2 0h1m1 0h4m.5 0h2m1 0h1m.5 0h2.5m.5 0h2m1 0h2.5m4 0h1m3.5 0h2m1.5 0h4.5m.5 0h5.5m2 0h1m.5 0h7m1.5 0h1m.5 0h1m1.5 0h3m.5 0h1.5m4 0h1m4 0h1m4 0h5.5m.5 0h1m1 0h1m.5 0h5.5M151.5 76h1m.5 0h2m.5 0h1m1 0h7m.5 0h3m.5 0h4.5m.5 0h6.5m4.5 0h5.5m1.5 0h2m4 0h1m1 0h1m.5 0h1m8.5 0h4.5m7.5 0h1m.5 0h1m.5 0h6.5m1 0h3m.5 0h1m1 0h3m2 0h6m1 0h1m.5 0h1m2 0h3.5m1.5 0h3.5m.5 0h6m2.5 0h9.5m1 0h6.5m.5 0h1m.5 0h3m1.5 0h1m.5 0h1.5m.5 0h1m1 0h2m8 0h2.5m.5 0h3m.5 0h1m.5 0h1m1.5 0h1.5m.5 0h2.5M149 76.5h1m1.5 0h1m.5 0h1m2 0h1m1.5 0h1m1 0h3.5m.5 0h1.5m3 0h10m.5 0h1.5m3 0h5m.5 0h2m1 0h1m1 0h1m1.5 0h3m1 0h1m.5 0h1m9 0h1.5m6 0h1.5m.5 0h1m2 0h1m.5 0h4.5m.5 0h5m.5 0h2m1 0h1m1.5 0h1m.5 0h2m.5 0h4.5m.5 0h1.5m1.5 0h7.5m.5 0h4m.5 0h3.5m1.5 0h3m.5 0h1m1 0h5m.5 0h3.5m.5 0h3m1.5 0h3.5m5.5 0h1.5m2 0h1.5m4 0h1.5m1 0h1.5m1 0h1m1 0h2.5m2 0h2.5m1 0h2M147.5 77h1.5m6.5 0h1m1.5 0h1m1 0h5m3 0h1.5m1 0h9m.5 0h4m1 0h5m2.5 0h1m5 0h2m1 0h1m.5 0h1.5m7 0h1m.5 0h1.5m4.5 0h2.5m2.5 0h7m.5 0h7.5m.5 0h11.5m.5 0h1m1.5 0h3.5m2 0h4m.5 0h1m.5 0h3m.5 0h1m.5 0h1.5m.5 0h4m.5 0h1.5m.5 0h2m2.5 0h3m.5 0h2.5m.5 0h1m.5 0h3m3 0h1m10 0h1m1.5 0h5.5m.5 0h1m1 0h1m1 0h6M149 77.5h1.5m2 0h1m1.5 0h2m.5 0h5.5m5 0h8.5m1 0h2m1 0h5.5m.5 0h4m6 0h1m.5 0h6.5m7 0h1m12 0h2m1 0h7.5m1 0h2.5m.5 0h1m.5 0h6.5m.5 0h1m.5 0h3m2.5 0h1.5m.5 0h1m.5 0h10m.5 0h4m2 0h4m.5 0h2m.5 0h1m.5 0h2m.5 0h1m.5 0h1m.5 0h1.5m1 0h4.5m.5 0h1m4.5 0h1m3.5 0h4m1 0h2m1 0h5m1 0h1.5m1.5 0h1M148 78h1m4.5 0h1m.5 0h2m1.5 0h4m6 0h5m1.5 0h1.5m.5 0h1m.5 0h1m2 0h7.5m3.5 0h1m4 0h1m1 0h5.5m6 0h1m7 0h1.5m1 0h2.5m1 0h2m1 0h7.5m.5 0h9m.5 0h4.5m2 0h1m.5 0h1m.5 0h2.5m1.5 0h10m.5 0h1m.5 0h1.5m.5 0h1m.5 0h5.5m2 0h6.5m.5 0h6.5m3.5 0h1m1.5 0h1m6 0h1m1.5 0h1m.5 0h3.5m.5 0h2m1.5 0h1m1.5 0h1m.5 0h1M148.5 78.5h1m.5 0h1m2.5 0h1m2 0h1m.5 0h7m2.5 0h4m.5 0h3m2 0h2m3 0h3m1 0h3m.5 0h1m4.5 0h6.5m1 0h1m2 0h1m7.5 0h1m3.5 0h2.5m2 0h1m2 0h3m1 0h3.5m.5 0h4m.5 0h3m.5 0h10.5m2 0h2.5m1 0h1m.5 0h6m.5 0h1.5m.5 0h2.5m.5 0h1m.5 0h1m1.5 0h4m.5 0h1.5m3 0h1m.5 0h3m2 0h5.5m1 0h1m1 0h1m4 0h2m2 0h2m1 0h2m1 0h2.5m.5 0h1.5m2.5 0h1m1.5 0h1M147 79h1m5.5 0h5m.5 0h1m1 0h3m1.5 0h1m1.5 0h1.5m1 0h1m.5 0h4m1 0h7m1.5 0h2m4 0h1.5m2.5 0h1m1.5 0h1m.5 0h1m.5 0h3.5m.5 0h1m1 0h1m3.5 0h1.5m5.5 0h1m1 0h1m.5 0h2m.5 0h1m1 0h1m.5 0h3m2 0h3m.5 0h6m.5 0h2.5m.5 0h2.5m1 0h1m1 0h1m1 0h2m1 0h1m1 0h1m.5 0h1m2 0h2m.5 0h3m.5 0h3m.5 0h1m1.5 0h6.5m1.5 0h1m2 0h1.5m2 0h6m9.5 0h3m.5 0h1m2 0h7.5m.5 0h1m1.5 0h2M145.5 79.5h1.5m.5 0h1m.5 0h2.5m.5 0h1m1 0h1.5m1.5 0h5.5m2 0h1m1.5 0h1m2.5 0h5m.5 0h1m1 0h3.5m.5 0h3m.5 0h2m5 0h2m4.5 0h4.5m.5 0h1m1 0h1m4 0h2.5m4.5 0h1.5m.5 0h1m.5 0h3.5m.5 0h1m3 0h11.5m1 0h9m3 0h3.5m.5 0h5.5m1 0h2m.5 0h8.5m.5 0h3.5m1.5 0h3m1.5 0h1.5m4.5 0h2.5m5 0h1m.5 0h1.5m1.5 0h2m1.5 0h2m.5 0h1m1.5 0h3.5m2 0h2m3.5 0h1M144.5 80h1m.5 0h1m2 0h1.5m2 0h4.5m.5 0h3m2.5 0h1.5m.5 0h2.5m3.5 0h11m1 0h1m2 0h2m1 0h1m3 0h2.5m2 0h3m1.5 0h3m.5 0h1m.5 0h1m6 0h1m3.5 0h2.5m.5 0h2.5m.5 0h1.5m1 0h2m.5 0h2m.5 0h1m1.5 0h5.5m1 0h2m1 0h9m2.5 0h2m1 0h1.5m.5 0h3.5m.5 0h11m.5 0h4m1.5 0h2m.5 0h1m1 0h2m4.5 0h1m.5 0h1m2 0h1m3.5 0h1m2.5 0h2m.5 0h1m1.5 0h1m2.5 0h1.5m3 0h1.5m.5 0h1M146 80.5h1m2 0h1m.5 0h2m.5 0h1m1.5 0h1.5m.5 0h1m.5 0h1.5m2 0h1m4.5 0h1m1.5 0h15m.5 0h1m3 0h1m1 0h1.5m2 0h1m1 0h3m.5 0h1m3.5 0h1m.5 0h1.5m.5 0h1.5m.5 0h1m.5 0h1m3.5 0h1m1.5 0h1m.5 0h5m1.5 0h1m1 0h2.5m3 0h8.5m1 0h2m.5 0h6.5m2 0h3m.5 0h1.5m1 0h1.5m1.5 0h6.5m.5 0h10m2.5 0h1.5m.5 0h1.5m2 0h1m1 0h1.5m1 0h1.5m1 0h1.5m.5 0h2.5m3 0h1m2 0h2m1 0h1m1.5 0h2m2.5 0h1m.5 0h1m.5 0h1M146 81h1.5m2 0h1.5m1.5 0h1.5m.5 0h5m1 0h1m1 0h1.5m2 0h1m1.5 0h1m2 0h1.5m.5 0h2m.5 0h9m4.5 0h1m1.5 0h3m1.5 0h1m.5 0h4.5m1.5 0h2m1 0h1.5m2.5 0h1m4.5 0h1m3 0h2.5m1.5 0h1.5m4 0h2.5m.5 0h1m1.5 0h1.5m.5 0h11.5m1.5 0h3m1.5 0h2.5m3.5 0h1m.5 0h1m1.5 0h2m.5 0h1m.5 0h1m.5 0h1m.5 0h4m1.5 0h2m2 0h2m2.5 0h1m7 0h5.5m2.5 0h1m2 0h1m.5 0h1m.5 0h3.5m2 0h2.5m1 0h5M145.5 81.5h2m2 0h1m.5 0h1m.5 0h5.5m.5 0h1.5m1 0h2m8 0h8m1.5 0h2m.5 0h2.5m7.5 0h1.5m.5 0h2m1 0h4m.5 0h4m2 0h1m2.5 0h1m.5 0h1m3.5 0h5m.5 0h3.5m2.5 0h1m3.5 0h5.5m.5 0h6.5m1.5 0h3m1 0h5.5m.5 0h2.5m.5 0h1m3.5 0h1.5m.5 0h12m.5 0h2m1 0h1m2.5 0h1m3.5 0h1m3 0h2.5m.5 0h2m.5 0h1m1 0h2m.5 0h5m.5 0h1m2.5 0h7M143 82h1m1 0h1m.5 0h1.5m2.5 0h1m1.5 0h1m1 0h2m1 0h2m1.5 0h1m.5 0h1m5 0h1m1 0h4.5m1 0h3m.5 0h1.5m.5 0h2m6.5 0h1m2 0h4.5m1.5 0h1m.5 0h6m1.5 0h1m4.5 0h1m2 0h1.5m.5 0h8.5m4.5 0h1m2 0h1m2 0h2.5m.5 0h1m1 0h7m1.5 0h4.5m.5 0h1m1 0h3m.5 0h1.5m1 0h2m2.5 0h10.5m9 0h1m2 0h1m3 0h3.5m2 0h1m.5 0h1m.5 0h4.5m.5 0h1.5m3 0h1m.5 0h5M144.5 82.5h2m.5 0h1.5m5.5 0h1m.5 0h1.5m3 0h1.5m2 0h1m.5 0h1m3 0h1m1 0h4m1.5 0h2.5m2 0h1m.5 0h1m.5 0h1m1.5 0h1m5 0h5.5m1.5 0h1m.5 0h5m2 0h3.5m5 0h1m1 0h3m.5 0h6m2 0h2m5.5 0h3m1 0h1.5m.5 0h4.5m.5 0h2m1 0h3m.5 0h1.5m.5 0h1m1.5 0h2.5m1 0h1m.5 0h2m1 0h1.5m.5 0h1.5m.5 0h7m1.5 0h2m.5 0h1m10 0h2m.5 0h3m.5 0h1m1.5 0h1m2.5 0h2.5m1 0h4m2 0h3m.5 0h1.5M146.5 83h1.5m.5 0h1m.5 0h1.5m3.5 0h1m.5 0h2m.5 0h1m2 0h1m4.5 0h1m2.5 0h3m1 0h1m.5 0h3m.5 0h1m1 0h2.5m6.5 0h5.5m1.5 0h7.5m1 0h1m7 0h1m.5 0h1m1 0h9.5m8.5 0h2m.5 0h3m1 0h2m1 0h2m.5 0h1m.5 0h2m3.5 0h2m2 0h2.5m.5 0h1m3 0h1m.5 0h2.5m.5 0h1.5m1 0h4.5m.5 0h4m.5 0h1m8.5 0h1m1 0h5m5.5 0h2.5m1.5 0h2m.5 0h1m2 0h7M143.5 83.5h4.5m1.5 0h1m2 0h1m1 0h4.5m.5 0h2.5m8 0h4.5m1 0h4m1.5 0h1m.5 0h1m1 0h2m5 0h1m.5 0h1.5m2.5 0h1m1 0h1m1.5 0h2.5m1.5 0h1m2.5 0h1m8 0h2.5m.5 0h1m1 0h3.5m7 0h1m2 0h5m1 0h5m5 0h2m1 0h1m1 0h5.5m1.5 0h1.5m2.5 0h5m1.5 0h4m2 0h1m2.5 0h1m2 0h1m.5 0h1.5m2 0h1m1 0h3m1.5 0h1m5 0h1m3 0h2m2.5 0h1m.5 0h2M143 84h1m2 0h1.5m1.5 0h1m2 0h1m.5 0h1.5m1.5 0h1.5m2.5 0h2m.5 0h1m4.5 0h1m2 0h2m1 0h2m1.5 0h3.5m.5 0h2m.5 0h1m.5 0h1m5.5 0h1m1 0h1m3 0h4m.5 0h1m1.5 0h1m3.5 0h1m3.5 0h2m2 0h3m2 0h3.5m1 0h1m8.5 0h2m.5 0h9.5m.5 0h2m2 0h1.5m1 0h1m1.5 0h1.5m2 0h3.5m1 0h1.5m.5 0h6m.5 0h5m1 0h1.5m4.5 0h1m3.5 0h1m.5 0h1.5m1.5 0h1m.5 0h1m1.5 0h3m1 0h1m.5 0h1m7 0h1m.5 0h4M142.5 84.5h2m1 0h4.5m1 0h1m1.5 0h1m1.5 0h1m2 0h1m.5 0h1m.5 0h2.5m6.5 0h2.5m.5 0h2m1 0h1.5m1 0h2m.5 0h1.5m2.5 0h1m4 0h1m1 0h1m3 0h2.5m2.5 0h2m1 0h1m13.5 0h2m2.5 0h1m9 0h2m.5 0h3m1 0h3.5m.5 0h5m1 0h1.5m3 0h2m.5 0h3m.5 0h3m1 0h3m.5 0h1m.5 0h2m1.5 0h1m.5 0h4m.5 0h1m.5 0h1.5m10 0h7m.5 0h1m.5 0h1m2.5 0h1m3 0h1.5m1.5 0h1.5m2 0h1m.5 0h3M144 85h1m.5 0h1.5m2.5 0h1m1 0h1m1 0h1m2 0h1m1.5 0h1m1 0h1.5m1 0h2.5m4 0h1m.5 0h1m.5 0h1m.5 0h9m.5 0h1m.5 0h1m1.5 0h1m.5 0h4m.5 0h1m1 0h1m4.5 0h1m4.5 0h1m15.5 0h2.5m1.5 0h1m5 0h1m.5 0h1m3 0h6.5m.5 0h2m1.5 0h5m1.5 0h1m1 0h1m1 0h2m.5 0h1m1 0h2.5m.5 0h1m.5 0h2m2.5 0h1m1 0h2m.5 0h2m1 0h3.5m9 0h1.5m.5 0h6m1 0h1m1 0h1.5m1 0h1m4.5 0h1m1.5 0h4M144 85.5h1m.5 0h2m.5 0h2m.5 0h1m.5 0h4m2.5 0h5.5m3 0h1m1 0h10.5m2 0h1m.5 0h2m1.5 0h5m.5 0h2.5m1 0h1m7 0h1.5m2.5 0h1.5m7 0h2.5m.5 0h1m3 0h1m1 0h1m6.5 0h1m2.5 0h2m2 0h3m2 0h1.5m.5 0h2.5m2 0h2.5m.5 0h1m2 0h2m1 0h1m1 0h6.5m.5 0h4m.5 0h1.5m.5 0h4m.5 0h3.5m3.5 0h1m2.5 0h1m1 0h7m2.5 0h2.5m1 0h2m2 0h2m.5 0h2.5m.5 0h3m.5 0h1M144 86h2m.5 0h3m2.5 0h2m.5 0h2m2.5 0h1m.5 0h1.5m.5 0h3m3 0h10.5m.5 0h2.5m5.5 0h6m4.5 0h1m5 0h1m28.5 0h3.5m1 0h3m1 0h4.5m1.5 0h2m1 0h3m.5 0h1m.5 0h2m1 0h4.5m.5 0h7.5m.5 0h5m.5 0h6.5m3 0h1m8.5 0h1m.5 0h1m.5 0h2.5m1.5 0h1m.5 0h1m1.5 0h2m.5 0h1.5m1 0h2.5m.5 0h2M144 86.5h1m.5 0h1.5m5 0h2m3 0h1m1.5 0h1m1.5 0h1m2 0h1m1.5 0h1m.5 0h4m.5 0h2m.5 0h2.5m.5 0h3m4.5 0h1.5m.5 0h2m.5 0h2m1 0h1m3 0h1m3 0h1.5m3.5 0h1m14 0h1m15.5 0h1m2 0h1m1 0h5m1 0h3.5m.5 0h1m2.5 0h1.5m1 0h1m1 0h4m3 0h3m2 0h2m.5 0h1m.5 0h1.5m.5 0h1m.5 0h4m1.5 0h1m3 0h1m4 0h4m.5 0h1m2 0h2m1.5 0h1m3 0h1m.5 0h6.5M144.5 87h2m.5 0h1m1.5 0h2.5m1.5 0h1m8 0h2m4.5 0h12m.5 0h3m1.5 0h3.5m.5 0h3.5m2.5 0h1m6 0h1m5.5 0h1m30 0h2m.5 0h6m1.5 0h1m1 0h2.5m2 0h2.5m1.5 0h2.5m.5 0h2m1 0h1m.5 0h2m.5 0h1m1 0h6m.5 0h4.5m.5 0h2.5m9.5 0h4m4 0h2.5m.5 0h2m1 0h3.5m.5 0h2M143.5 87.5h3.5m3 0h1m.5 0h2m3.5 0h2m2.5 0h1m.5 0h1m.5 0h2.5m1 0h1m.5 0h12m.5 0h2m.5 0h1.5m.5 0h9.5m7 0h1m28 0h1m1 0h1m.5 0h1.5m5.5 0h1m.5 0h2m2 0h1.5m1 0h1.5m1.5 0h1.5m.5 0h1m.5 0h1.5m1 0h2.5m1.5 0h7.5m1.5 0h1m1 0h3.5m.5 0h5m.5 0h1m9.5 0h5m2.5 0h1m1.5 0h2m1.5 0h7m.5 0h1M141.5 88h1m4 0h1.5m1.5 0h1m.5 0h1m2.5 0h1m2 0h1m2 0h1m1.5 0h3.5m.5 0h1.5m.5 0h1m1 0h6.5m6 0h1m1 0h1.5m1.5 0h6m1.5 0h1m9.5 0h1m.5 0h1m23 0h1.5m8 0h2.5m1 0h2m.5 0h1.5m1.5 0h2.5m1.5 0h4m1 0h2m.5 0h1m.5 0h1m.5 0h1.5m.5 0h2.5m1.5 0h1m.5 0h12.5m6.5 0h1m1 0h2.5m.5 0h2m6.5 0h2m.5 0h1m2.5 0h3m1.5 0h1M139 88.5h1m5 0h1m6.5 0h2m.5 0h1m2.5 0h2m1.5 0h1m3 0h1m.5 0h3m.5 0h6m.5 0h2.5m.5 0h2m1 0h3.5m.5 0h1m2 0h1m2 0h2m8 0h1m4.5 0h1m.5 0h1m5.5 0h1m11 0h2m6.5 0h1m1.5 0h1.5m.5 0h2m1.5 0h3.5m1.5 0h5.5m1.5 0h3m1 0h1m.5 0h5m1 0h1m.5 0h4m1.5 0h1.5m.5 0h2m.5 0h1m1 0h3m1.5 0h1m7 0h2.5m1 0h1.5m2.5 0h1m1 0h2m1 0h1m.5 0h1m1 0h1m1 0h1.5M139 89h2m4.5 0h2.5m4 0h2.5m3.5 0h1m2.5 0h2m.5 0h1m3 0h7m.5 0h3.5m2.5 0h1.5m.5 0h5m1 0h1m1.5 0h3m.5 0h1m10 0h1m17 0h1m10 0h1.5m3 0h1m1.5 0h2m6.5 0h5m.5 0h1m1 0h2m1 0h2m.5 0h1.5m.5 0h2.5m.5 0h2.5m1 0h1m2 0h1.5m.5 0h3.5m.5 0h2.5m10.5 0h1m1 0h1.5m1 0h3m1 0h3m1.5 0h1m2.5 0h5M139 89.5h1m1 0h1m1 0h2m1 0h2.5m5 0h1m4.5 0h2.5m2 0h1m1 0h1m1 0h2m.5 0h3.5m1.5 0h3m3 0h2m1 0h4m1 0h2m1 0h2m7 0h1m6 0h1.5m6.5 0h1m11 0h1m6.5 0h1m1.5 0h1.5m.5 0h7m.5 0h1m4.5 0h4.5m1 0h1.5m1 0h8m1.5 0h1m.5 0h1m.5 0h1.5m.5 0h3m1 0h4m1.5 0h3m8.5 0h1m.5 0h1m2 0h3m1 0h2m2 0h2m1 0h1m1 0h2M137 90h1m4.5 0h3m1 0h1m1 0h1m1.5 0h3.5m1 0h1m.5 0h1m3 0h1m1.5 0h2m.5 0h3m1 0h1.5m1 0h3m.5 0h1m4 0h1m1.5 0h1m.5 0h2.5m1.5 0h1m.5 0h1m.5 0h1m.5 0h2.5m.5 0h1m30.5 0h1m2.5 0h1m3.5 0h1m1 0h3.5m.5 0h3m1.5 0h1m.5 0h2m.5 0h2m1 0h1m1 0h1m.5 0h4m.5 0h5.5m1 0h2m1.5 0h1.5m.5 0h1m.5 0h4m.5 0h1m2 0h1.5m1.5 0h1m10.5 0h7m.5 0h1.5m4 0h1m.5 0h2.5m1 0h1M136.5 90.5h6m5.5 0h1m1 0h1m1.5 0h3m3.5 0h1m2.5 0h4m2.5 0h7m2 0h1.5m1.5 0h4.5m6 0h1m2 0h1m15.5 0h1m28.5 0h2m2 0h1m1.5 0h1m4.5 0h1m2.5 0h1m.5 0h2m2.5 0h3.5m.5 0h2m1.5 0h1.5m1.5 0h2m.5 0h2m1 0h10.5m1 0h1m3.5 0h2.5m1.5 0h1m.5 0h1m.5 0h3.5m.5 0h3m.5 0h1m3 0h1.5m.5 0h1M136 91h1m.5 0h3.5m.5 0h2.5m1.5 0h1.5m1 0h5m1.5 0h1m2 0h2.5m2 0h1m.5 0h3.5m2 0h2.5m.5 0h1.5m.5 0h4m.5 0h1m1 0h1m.5 0h5m1.5 0h1m.5 0h2m25.5 0h1m17 0h2m3 0h1.5m.5 0h2.5m2.5 0h3m3 0h1m3 0h3.5m1 0h4.5m.5 0h1m2 0h4.5m1 0h1m.5 0h1m.5 0h1m.5 0h8.5m.5 0h1m5.5 0h1m.5 0h3.5m1.5 0h5m1 0h3m2.5 0h2m.5 0h1M135.5 91.5h9.5m.5 0h1m1 0h2m1.5 0h2.5m1 0h2m1 0h1.5m1.5 0h1m2.5 0h2.5m1 0h9m2 0h1m1 0h1m1.5 0h1m1.5 0h1.5m1 0h5m2.5 0h1m41 0h1m.5 0h1m1.5 0h1.5m1 0h1m3.5 0h1m.5 0h1m1 0h1m2.5 0h1m3 0h8m2.5 0h1.5m3 0h1m.5 0h5m1.5 0h6m.5 0h1m7 0h3m.5 0h2m.5 0h3.5m1 0h1m1 0h1m.5 0h1m1.5 0h3M138 92h8.5m.5 0h1m.5 0h1m1 0h1m1 0h1m2.5 0h1m1.5 0h2.5m1.5 0h3.5m1.5 0h1m1 0h1m.5 0h1m.5 0h1.5m.5 0h1m5 0h3m1 0h1.5m3.5 0h1m1 0h1.5m4.5 0h1m14 0h1m21.5 0h1m2 0h6m3 0h2.5m1 0h1.5m4.5 0h8.5m1 0h1m1 0h1.5m.5 0h4m1 0h5m.5 0h1m.5 0h2.5m1 0h4m.5 0h1m11.5 0h1m.5 0h7m.5 0h1.5M136 92.5h2m.5 0h5m1 0h1m2.5 0h1m1 0h1m.5 0h2m4.5 0h2.5m2 0h1m2 0h1m1 0h5.5m1 0h3.5m2.5 0h2.5m1 0h1m1 0h2m10 0h1m1 0h1m20 0h1m4 0h1m10.5 0h1m.5 0h1.5m.5 0h2.5m1 0h1m.5 0h1m3.5 0h1m.5 0h1m1 0h2m1 0h1m.5 0h2m.5 0h4m2.5 0h1.5m.5 0h6m1.5 0h2m3.5 0h1m1 0h5m.5 0h1m1 0h1m1 0h1m3 0h11m2.5 0h2.5M134.5 93h1m1.5 0h3.5m2 0h2.5m1 0h1m3.5 0h3.5m1.5 0h1.5m1.5 0h2m1 0h1m.5 0h1m3 0h2m1 0h2m6 0h1m1 0h6.5m2.5 0h1m6.5 0h1m1.5 0h2m5 0h1m7.5 0h1m9 0h1m.5 0h1m2 0h1m8 0h1m.5 0h6.5m.5 0h2.5m1 0h1m5.5 0h2m.5 0h5m2 0h1m.5 0h7m3 0h2.5m1 0h1m3 0h4m1 0h1m3.5 0h1m5 0h3m.5 0h5.5m.5 0h3.5m.5 0h1M135 93.5h1m3.5 0h6m5.5 0h2.5m.5 0h1m.5 0h1m1.5 0h2m2.5 0h1m2.5 0h6m.5 0h1m1 0h2.5m3 0h3.5m.5 0h2m9 0h2m3 0h2m2.5 0h1m14.5 0h1m4 0h1m1.5 0h1.5m8.5 0h1.5m1.5 0h1.5m.5 0h2m.5 0h3m2.5 0h2.5m.5 0h1.5m2 0h4m.5 0h2.5m.5 0h2m1 0h7.5m1 0h3.5m1.5 0h1m2.5 0h4.5m.5 0h1m.5 0h1m3 0h2m5.5 0h6m1 0h3M134.5 94h1.5m3 0h1m.5 0h2.5m.5 0h3m.5 0h1m5 0h2.5m3.5 0h2m.5 0h3m.5 0h1m1 0h2.5m.5 0h1m5.5 0h2.5m.5 0h3m.5 0h1m.5 0h1.5m.5 0h1m1.5 0h1m32 0h1m3.5 0h1m7.5 0h1.5m3.5 0h3m1 0h2m.5 0h1m1.5 0h2m.5 0h1m.5 0h3.5m3 0h1.5m.5 0h2.5m.5 0h2m.5 0h3m1 0h1m.5 0h1.5m.5 0h1m1 0h1m.5 0h1m.5 0h1m4 0h1m.5 0h1m2 0h2m8 0h5.5m.5 0h1m.5 0h2m.5 0h1m.5 0h3.5M135 94.5h1m3 0h3.5m1 0h3.5m1.5 0h1m1.5 0h2m1 0h1m.5 0h1m1.5 0h1.5m1 0h1m1 0h1m2.5 0h2m.5 0h1m1 0h1m4 0h1m2.5 0h3.5m.5 0h3m2.5 0h2.5m5 0h1m1.5 0h1m11 0h1m26.5 0h1m.5 0h1m.5 0h1m2 0h1.5m1.5 0h1m1.5 0h8.5m1 0h2.5m.5 0h3m.5 0h1m1 0h1.5m.5 0h1m1 0h4m1 0h1m1.5 0h1m.5 0h2m1.5 0h3.5m1 0h3m1 0h1m4.5 0h6.5m.5 0h3m1.5 0h1.5m1.5 0h1M134.5 95h1.5m2.5 0h6.5m2 0h2m1 0h1m3.5 0h1.5m4.5 0h1m.5 0h1m2 0h1m1 0h1m1 0h1m3.5 0h3.5m2.5 0h1m.5 0h5.5m.5 0h3.5m.5 0h2.5m1.5 0h1.5m1 0h1m1.5 0h2.5m11.5 0h1m15 0h1m9 0h3m3.5 0h1.5m1 0h8m.5 0h4.5m.5 0h2m2 0h1m1.5 0h6.5m1.5 0h2.5m.5 0h2.5m.5 0h4m1 0h1m.5 0h1.5m8 0h1.5m.5 0h9m1 0h2.5M134.5 95.5h1m1.5 0h4m.5 0h4m1 0h3m.5 0h2.5m1 0h1m1.5 0h2m1 0h1m2.5 0h1.5m10 0h2.5m2 0h1m.5 0h2m.5 0h1m.5 0h1.5m2 0h4m10 0h1m3 0h1m33.5 0h1m5.5 0h1m3.5 0h4.5m.5 0h1m1 0h1m1 0h3m.5 0h4m2 0h1m.5 0h4.5m1 0h2m2.5 0h2m1.5 0h3m.5 0h1m.5 0h1m2 0h2m3.5 0h1m1 0h7.5m.5 0h2m.5 0h1M136 96h2.5m1.5 0h4.5m3 0h1.5m6 0h3m3.5 0h1m4 0h2.5m1 0h1m2 0h1m5.5 0h6.5m.5 0h1m1 0h3.5m2 0h1m1 0h1m7 0h1m4.5 0h1m1.5 0h2m13 0h1m7 0h1m3.5 0h2.5m7.5 0h4.5m.5 0h1m1.5 0h1m1 0h3.5m1 0h1m.5 0h1.5m.5 0h4.5m.5 0h2m1 0h1.5m.5 0h2m2.5 0h1.5m.5 0h4m3 0h2m2.5 0h1m3 0h5.5m.5 0h2m1.5 0h2M133.5 96.5h1.5m1 0h1m3 0h7m4 0h2m3 0h1m4.5 0h1m6.5 0h2m8 0h2.5m.5 0h8.5m.5 0h1m.5 0h1m1 0h1m1.5 0h1m3.5 0h1m10 0h2.5m14 0h1m1.5 0h1m5 0h1m12 0h4.5m2 0h1m1 0h2m.5 0h4.5m2 0h2.5m.5 0h2.5m.5 0h2m2 0h1m.5 0h3m2.5 0h2m1 0h2m4.5 0h2m2.5 0h4.5m1 0h2m.5 0h1m1.5 0h3m1 0h1M132.5 97h1m.5 0h1m5.5 0h3.5m1.5 0h1m12 0h1m.5 0h2.5m7.5 0h1m.5 0h1m1.5 0h1m3.5 0h4m.5 0h2m1 0h2.5m1 0h1m1 0h1m1 0h3m3 0h1m1.5 0h1m4 0h1m3.5 0h1m2 0h1m14.5 0h1m15.5 0h1.5m.5 0h5m2.5 0h2m1.5 0h1m1 0h3.5m1 0h1.5m.5 0h2m.5 0h3.5m1.5 0h1m2 0h1m1 0h1m.5 0h1.5m2.5 0h1.5m1.5 0h1m.5 0h1m1 0h1m5 0h1.5m1.5 0h1m1.5 0h3m.5 0h2m.5 0h3.5M133.5 97.5h1m5.5 0h1.5m1.5 0h1m12 0h1m2.5 0h2m8 0h1.5m.5 0h1m4.5 0h1m1 0h7m1 0h3.5m3 0h1m5.5 0h1m.5 0h3m1 0h2m1.5 0h1m2 0h2m6 0h1m27 0h1m.5 0h4m2 0h1m.5 0h1m.5 0h6.5m2.5 0h1m.5 0h1m1 0h6m4.5 0h1m2.5 0h3.5m.5 0h2.5m6.5 0h11m.5 0h1m.5 0h1M137.5 98h1m1.5 0h3m1.5 0h1m13 0h1m.5 0h1m1.5 0h1m7.5 0h1m1 0h2m7.5 0h2m.5 0h6.5m2.5 0h2.5m.5 0h1m.5 0h4m1 0h1m.5 0h1m4 0h1m.5 0h1m1.5 0h1m12.5 0h1m3 0h1m16.5 0h1.5m.5 0h3m7 0h3.5m.5 0h1m1 0h7.5m.5 0h2.5m1 0h1.5m.5 0h1m1 0h1m2 0h1m.5 0h1m1 0h3m1.5 0h2.5m2.5 0h9.5m1 0h3M137 98.5h1m1 0h1.5m.5 0h1.5m2 0h1m8.5 0h1m.5 0h1m1 0h5m7 0h1.5m.5 0h1m5 0h1.5m2 0h1m.5 0h1m1 0h2.5m.5 0h4.5m.5 0h5m1 0h1m1 0h2m6 0h1m3.5 0h1m15.5 0h1m14 0h2m3 0h1m1 0h3m1.5 0h1m.5 0h4.5m1.5 0h1.5m1.5 0h1m1.5 0h4m1.5 0h4m1 0h2.5m1.5 0h1m2.5 0h3.5m.5 0h2m1 0h1.5m3 0h2m.5 0h1m.5 0h3.5m.5 0h6m.5 0h1M132.5 99h1m3 0h1m1.5 0h2.5m.5 0h2m12.5 0h1m1.5 0h1.5m1 0h1m7 0h1m.5 0h1m2.5 0h1m2.5 0h1m1 0h3.5m.5 0h2m1.5 0h3.5m4.5 0h1m2 0h1m1 0h2m4.5 0h1m40.5 0h9m1.5 0h5.5m.5 0h1m1.5 0h1m1 0h2m1 0h3m1 0h1.5m4.5 0h2.5m.5 0h4m1 0h1m3 0h1m.5 0h8m.5 0h2m1 0h4M131.5 99.5h1m2 0h2m2 0h2.5m1.5 0h2m8 0h1m4.5 0h2m17.5 0h1m2.5 0h2.5m.5 0h1.5m2.5 0h1m4 0h2.5m2 0h1m1.5 0h1m8.5 0h1m3.5 0h1m11.5 0h1m.5 0h1m3.5 0h1m8.5 0h1m4 0h1m.5 0h1m.5 0h2m.5 0h1.5m1 0h2.5m.5 0h1m1 0h2m1 0h1.5m1 0h3m1.5 0h1m.5 0h4.5m.5 0h1m7 0h3m.5 0h5m1.5 0h5.5m.5 0h3m1 0h1m1.5 0h4m2 0h1M137.5 100h3.5m1.5 0h2m1 0h1m8.5 0h1m2.5 0h1m1.5 0h1m10.5 0h1m1 0h1m3 0h8.5m1 0h1m.5 0h1.5m5 0h1.5m1 0h2m.5 0h2m2 0h1m3.5 0h1m1 0h1m13.5 0h2.5m5.5 0h1m1.5 0h2.5m3.5 0h1m4.5 0h3m.5 0h1m1 0h2m1 0h2.5m.5 0h7.5m.5 0h1m1.5 0h1m1.5 0h3m3 0h2m4 0h4m.5 0h1m.5 0h2m.5 0h3m1 0h3.5m1.5 0h2m.5 0h1m1.5 0h3.5m.5 0h1.5m1 0h1M133 100.5h1m2 0h1.5m1.5 0h1m3 0h1.5m2 0h1m13.5 0h1m.5 0h1m16.5 0h1m.5 0h5m.5 0h4m3 0h1.5m3.5 0h3m5 0h2.5m2 0h2m1.5 0h1m7.5 0h1m11 0h1m10.5 0h3m1 0h1m5 0h1m1.5 0h1m1 0h6.5m2.5 0h1m.5 0h7.5m4.5 0h7.5m2 0h6.5m.5 0h1m2 0h1m1.5 0h4m.5 0h2M131.5 101h2m1 0h2m4 0h4m.5 0h1m5 0h2m6 0h2m3 0h1m.5 0h1m8.5 0h1m1 0h1m2.5 0h4m.5 0h5.5m10 0h2m2.5 0h2m34.5 0h1m3 0h3.5m.5 0h2.5m2.5 0h10m.5 0h1.5m2.5 0h6m2 0h1m1 0h1m5.5 0h2m1 0h6.5m1.5 0h4.5m1 0h3.5m.5 0h1m.5 0h4.5m1 0h1M131.5 101.5h1m.5 0h3m.5 0h1m2.5 0h1m.5 0h2.5m5 0h1m3.5 0h1m2 0h1m2 0h1m1 0h1.5m7 0h1m1.5 0h1m6.5 0h1m.5 0h2.5m2 0h3m5 0h1m1.5 0h1m2 0h1m1.5 0h1m23 0h2m7.5 0h1m9 0h1m1 0h3.5m1 0h1m3.5 0h1m.5 0h6.5m1.5 0h1m1 0h1m1.5 0h3m1.5 0h2m1 0h1m.5 0h1m5.5 0h3m1 0h3.5m.5 0h1.5m.5 0h6m.5 0h2m.5 0h1m1.5 0h6M130.5 102h1m.5 0h2.5m6 0h2.5m13.5 0h1m4.5 0h1.5m.5 0h1m.5 0h1m2.5 0h1m.5 0h1m.5 0h1m1 0h1m6.5 0h2.5m1.5 0h2.5m.5 0h2m1 0h1m3 0h1m.5 0h1m.5 0h1m.5 0h1m.5 0h2m2.5 0h1m.5 0h2m3 0h1m6.5 0h1m12 0h2m.5 0h1m5 0h1m3.5 0h5.5m.5 0h1.5m.5 0h3m.5 0h2.5m.5 0h1m.5 0h1.5m1.5 0h1m3.5 0h4.5m.5 0h1m3 0h1m5 0h2.5m1 0h1.5m.5 0h2.5m1 0h5m2 0h4m1 0h1m1 0h2.5m.5 0h2.5M131 102.5h5.5m1 0h1m1.5 0h3.5m1.5 0h1m.5 0h1.5m3 0h1m2 0h1m7 0h3m10.5 0h1m4 0h3.5m2 0h2.5m5 0h1.5m3 0h1m.5 0h1m2 0h1m1.5 0h1.5m6 0h1m11 0h1m21 0h5m.5 0h2.5m1 0h1.5m.5 0h8.5m1 0h2.5m.5 0h1m1.5 0h5m1.5 0h2m1.5 0h1m1.5 0h1m.5 0h1m.5 0h1m1 0h7m.5 0h2m.5 0h3m1 0h1m3.5 0h2.5M131 103h1m1 0h2m2 0h1m1.5 0h1m1 0h1m1 0h1m2 0h1m2 0h1m5 0h1m2 0h1m.5 0h1.5m1 0h2m1.5 0h1m5.5 0h1m5.5 0h1m.5 0h1m.5 0h1.5m3 0h6m1 0h1m2 0h1m1 0h1m.5 0h1m1.5 0h1m4 0h1m2.5 0h1.5m3 0h1m12 0h1m9.5 0h1m7 0h3.5m.5 0h2m2 0h6.5m1 0h1m.5 0h3m4.5 0h1m14 0h1m3 0h7m.5 0h2m1.5 0h3m3.5 0h1m1.5 0h1.5M130.5 103.5h6.5m2.5 0h1.5m6.5 0h1m.5 0h1m4 0h1m18 0h1m1 0h1m1 0h1m2.5 0h1m1 0h7m2 0h2m1 0h2m3.5 0h1.5m8.5 0h2m3.5 0h1m4 0h1m3 0h1m9.5 0h1m9 0h3.5m1.5 0h1m1 0h1m1.5 0h10.5m1 0h1.5m1 0h1m1 0h1m3 0h1m9.5 0h4m2 0h6m1.5 0h4.5m.5 0h1m3 0h1m.5 0h3M132.5 104h2m.5 0h2m.5 0h1m6.5 0h4m3 0h2m.5 0h1m.5 0h1m2 0h1.5m10.5 0h3m2 0h1.5m6 0h3.5m3 0h1m1 0h1m2 0h1m.5 0h1m1.5 0h1.5m11 0h3m15.5 0h1m13 0h1m4.5 0h1m.5 0h1m1 0h1m2 0h1m.5 0h1m1 0h1m2 0h2m1 0h1m1 0h1m17 0h1m2.5 0h1m2 0h8.5m1.5 0h2m2 0h1m2 0h3M128.5 104.5h1m2 0h5m1.5 0h1.5m5 0h4m1 0h1m2.5 0h2m2 0h1m.5 0h2m2.5 0h1m1.5 0h1m4 0h1.5m1.5 0h1m1.5 0h1.5m5 0h1m.5 0h2m1 0h3.5m3.5 0h1m1 0h1m3.5 0h3m14.5 0h2m5 0h1m8.5 0h1m10 0h1.5m1 0h1.5m7.5 0h1.5m1 0h1m1 0h2m1 0h5m1.5 0h1m18 0h7.5m.5 0h1m4.5 0h1m6 0h1M129 105h2m.5 0h5m1 0h2m6 0h2m.5 0h2.5m1.5 0h2.5m1.5 0h1m1.5 0h1m11 0h2m.5 0h1m.5 0h1m.5 0h2m2.5 0h1.5m2 0h3.5m.5 0h1m2 0h3.5m1.5 0h2m.5 0h1.5m10 0h1m2 0h1m11.5 0h1m11.5 0h1m7.5 0h1m5.5 0h1m1 0h3.5m3 0h1m2 0h1.5m.5 0h4.5m15.5 0h1.5m5 0h1m.5 0h1.5m.5 0h1m.5 0h1.5m.5 0h1.5m3 0h2.5m.5 0h1m.5 0h2M132 105.5h2m.5 0h1m2.5 0h1.5m4.5 0h1m.5 0h1m.5 0h4m.5 0h1m.5 0h1m.5 0h1m1.5 0h1m5 0h1m7 0h2.5m2 0h1m.5 0h2m2.5 0h3.5m1 0h3m.5 0h1m.5 0h2.5m1 0h2m1 0h1m2.5 0h2.5m10 0h1m5.5 0h1m2.5 0h1m22 0h1m3 0h1m.5 0h1m1.5 0h2.5m.5 0h2.5m2.5 0h6m1 0h2m13.5 0h3m.5 0h1.5m2.5 0h1m.5 0h1m.5 0h2.5m3 0h1m1 0h1m5.5 0h1M131.5 106h1m5.5 0h1m5.5 0h1m.5 0h2.5m.5 0h1.5m3 0h1m1.5 0h1m12 0h5m.5 0h3m2.5 0h1m.5 0h7m2.5 0h5m2.5 0h1.5m2.5 0h1m7.5 0h1m7 0h1m5 0h1m15 0h1m.5 0h1m10 0h3.5m.5 0h1m4 0h1m.5 0h1.5m5 0h1.5m1 0h2.5m9 0h1.5m1 0h1m4.5 0h1.5m2 0h1m5.5 0h1m4.5 0h1M127 106.5h1m4.5 0h1m2.5 0h1.5m2 0h1m2.5 0h1.5m2 0h3m2 0h1m.5 0h1m14 0h2m1.5 0h1m.5 0h3.5m.5 0h1m1.5 0h9.5m.5 0h1m.5 0h5m1 0h1m4.5 0h1m.5 0h1m7.5 0h1m2.5 0h1m3.5 0h1m.5 0h1m6 0h1.5m1.5 0h2m6 0h1m2 0h1m6 0h1m2 0h1m.5 0h4m1 0h2m2 0h2m4 0h2.5m1.5 0h1m11.5 0h2.5m8.5 0h1m.5 0h1m4 0h1M129 107h1m8 0h2.5m6.5 0h3.5m.5 0h1m1 0h3.5m3.5 0h1m9 0h1.5m.5 0h1.5m1 0h2m1.5 0h1m1.5 0h1.5m2 0h3m1 0h3.5m4.5 0h1m2 0h1m14.5 0h1m9.5 0h2m3 0h1m.5 0h1.5m.5 0h2m5.5 0h1m9.5 0h1m2 0h4m4 0h1m5.5 0h1m.5 0h1.5m1.5 0h1m11 0h1m.5 0h1m4.5 0h1.5m3.5 0h1m1 0h1m1.5 0h1M127.5 107.5h1m5 0h2m.5 0h1.5m1.5 0h4m.5 0h1m3.5 0h2.5m2.5 0h1m2 0h1m6.5 0h1m1.5 0h1m1.5 0h7.5m3 0h7.5m1.5 0h1.5m.5 0h4m3.5 0h1m8.5 0h1m2 0h3m8 0h1m4.5 0h1m.5 0h1.5m.5 0h1m1 0h1m1 0h1m5 0h1m1.5 0h2m7 0h7m4.5 0h1m2 0h1m1.5 0h1m.5 0h1.5m13.5 0h1.5m4 0h1m1.5 0h2m2 0h2M129 108h1m2.5 0h1m2 0h4.5m.5 0h1m1 0h1m.5 0h1.5m2.5 0h1m5 0h1m6.5 0h1m3.5 0h1m2 0h1.5m.5 0h3m3 0h1m.5 0h1.5m1.5 0h15m4.5 0h1.5m.5 0h1m3 0h1m8.5 0h1m5 0h1m30.5 0h3m4.5 0h1m2.5 0h1m.5 0h1m3 0h1m14.5 0h2m2.5 0h1m.5 0h2m1.5 0h1m2.5 0h1M134.5 108.5h2.5m1 0h1.5m1 0h1m1.5 0h1.5m1 0h1m1 0h1m.5 0h1m.5 0h1.5m2 0h1m6 0h1m3.5 0h1m2.5 0h1m1.5 0h1m.5 0h1m4 0h4m3 0h1m.5 0h8.5m1 0h1m14 0h1m4 0h1m2 0h1m1.5 0h1.5m24.5 0h1m5.5 0h2.5m1 0h1m.5 0h1m5 0h1m1 0h1.5m1 0h2.5m16 0h1m6.5 0h1M129 109h1m3.5 0h2m.5 0h1m2 0h3.5m.5 0h2.5m4 0h1.5m3.5 0h1.5m12.5 0h1m1.5 0h2m2.5 0h1m1 0h6m1 0h4.5m.5 0h6.5m13 0h1m3.5 0h1m1.5 0h1.5m29 0h1m6.5 0h1m.5 0h3.5m1.5 0h1m.5 0h1m2 0h1m.5 0h2m2.5 0h1.5m14 0h1m2.5 0h1m.5 0h2m1 0h1m9.5 0h1M133 109.5h1m1 0h3.5m2 0h1.5m.5 0h1.5m3 0h1m2 0h1m19.5 0h1m.5 0h3m2 0h3m.5 0h1m1 0h6m1.5 0h5m1.5 0h1m3 0h1.5m8.5 0h1m22.5 0h1m10.5 0h1m3.5 0h1m2.5 0h5.5m1 0h1m4 0h1m1 0h1.5m1.5 0h1m15 0h1m1.5 0h2m.5 0h1m2.5 0h2m4.5 0h1.5M133.5 110h4m.5 0h1m1 0h1.5m.5 0h1m5 0h1m3.5 0h1.5m4 0h3m9.5 0h1m2 0h1m1.5 0h1m1 0h4m1.5 0h5m2 0h3.5m1 0h1m.5 0h1m3 0h1m8.5 0h1m4 0h1m2 0h1m26.5 0h2m10.5 0h1.5m6.5 0h3.5m15.5 0h1m4 0h1m3.5 0h2m3 0h1M133 110.5h3.5m.5 0h2m1 0h2.5m.5 0h3m5 0h1m2 0h1m2 0h1m6 0h1m5 0h3.5m.5 0h6.5m.5 0h1m1.5 0h5.5m.5 0h4.5m1.5 0h1m3.5 0h1.5m2.5 0h2m3.5 0h1m3 0h1m.5 0h1.5m11.5 0h1m23.5 0h1m7 0h1m4.5 0h3m1 0h1m16.5 0h1m1.5 0h1m.5 0h1.5m1 0h1m1 0h1M134.5 111h1.5m6 0h1m1 0h2m5.5 0h1m.5 0h1m2.5 0h1.5m.5 0h2m.5 0h1.5m.5 0h1m7 0h4.5m3.5 0h4.5m1 0h5.5m.5 0h1m1 0h2m13 0h2m35 0h3m7 0h1m.5 0h1m5 0h1m2.5 0h1m1 0h1.5m18.5 0h1m.5 0h1m1 0h3.5M129.5 111.5h2m.5 0h6m1 0h3.5m.5 0h1m.5 0h1m.5 0h1.5m7.5 0h1.5m1 0h2.5m1 0h1m1.5 0h3m5 0h2.5m.5 0h1m.5 0h1m2 0h3m.5 0h1m2.5 0h1m2 0h2m1 0h1.5m1 0h1m.5 0h1m12.5 0h1m2.5 0h1m1 0h1m7 0h1m1 0h1m2.5 0h1m10 0h1m5 0h3.5m1 0h1.5m1 0h1m.5 0h1m.5 0h1m1 0h1m2 0h2m2 0h1.5m25 0h3m5 0h1M130.5 112h1m1 0h4.5m.5 0h1m.5 0h2m.5 0h1.5m3 0h1m8.5 0h1m.5 0h1m1.5 0h1m3.5 0h1m6.5 0h2m.5 0h3.5m6 0h1.5m1 0h1m.5 0h1m8.5 0h1m9.5 0h1m5.5 0h1m31 0h1m1 0h1m1 0h1m.5 0h1m1 0h1m6 0h1m.5 0h1m.5 0h1m2 0h2m19 0h1m.5 0h1m1 0h2M131.5 112.5h1m.5 0h3m3 0h1.5m.5 0h2.5m3.5 0h1m10.5 0h1m1.5 0h1m3 0h1m5.5 0h2m.5 0h4m2.5 0h1m1 0h2.5m1 0h1.5m.5 0h2m1 0h1m3 0h1m.5 0h1m2 0h1m7.5 0h1m22 0h1m10 0h1m2 0h1m2 0h7m.5 0h1m2.5 0h1m2.5 0h3.5m22.5 0h3m2 0h1M130.5 113h3.5m.5 0h4m.5 0h4.5m3.5 0h1m8.5 0h1m.5 0h1m1.5 0h5m7 0h1m1 0h2m.5 0h1m3 0h1m.5 0h1.5m1 0h1.5m.5 0h2m2 0h1m1 0h1m29.5 0h1m5.5 0h1m8.5 0h1.5m6 0h11.5m1 0h1m.5 0h5m21 0h2m1 0h3M130 113.5h4.5m2.5 0h1.5m.5 0h1.5m1 0h2.5m15 0h1m1 0h5.5m5 0h4m2 0h1m1 0h1m2 0h1.5m3 0h3m22 0h1m18.5 0h1m14 0h1m.5 0h10m.5 0h1m.5 0h5m.5 0h1m23 0h1.5m1.5 0h1M131 114h2m3.5 0h1m2 0h4.5m17 0h1m1 0h2m.5 0h1m9.5 0h1.5m2.5 0h1.5m.5 0h3m3 0h1m1.5 0h1m.5 0h1.5m3.5 0h1m50.5 0h2m1.5 0h7.5m.5 0h3.5m24 0h1m1 0h1M131.5 114.5h2m.5 0h2m.5 0h1m2 0h1m1 0h1m.5 0h2m17.5 0h1m1 0h1m1.5 0h1m3 0h1m1.5 0h1m7 0h8.5m29 0h1m11.5 0h1m16 0h1m.5 0h3m.5 0h2m.5 0h1m.5 0h1m1 0h3M132 115h2m.5 0h2m2.5 0h2.5m.5 0h3.5m11.5 0h1.5m2 0h2m4.5 0h1m1.5 0h1m3 0h1m.5 0h1m4.5 0h3.5m.5 0h2m2 0h2m7.5 0h1m2 0h1m2 0h1.5m5.5 0h1m1.5 0h1.5m1 0h1m29.5 0h2m5 0h4m2 0h1m27.5 0h1m.5 0h1m2 0h1m.5 0h1M131.5 115.5h1m.5 0h1m2 0h2m.5 0h4.5m.5 0h1.5m9.5 0h2m2 0h1m1.5 0h1m1.5 0h1m1 0h2m2.5 0h1m1 0h1m1.5 0h1m.5 0h1m4.5 0h6.5m.5 0h1.5m4.5 0h1m2 0h1.5m.5 0h1.5m9.5 0h1m3.5 0h1m10 0h1m7 0h1m14 0h1m4 0h5m27.5 0h2M132 116h1.5m2.5 0h3.5m.5 0h5.5m9.5 0h1m1 0h1m5 0h1m3.5 0h2m5 0h1m4.5 0h2.5m.5 0h2.5m1 0h3.5m2.5 0h1m4 0h1m15 0h1m.5 0h1m1 0h1m17 0h1m12 0h1m1.5 0h2m.5 0h1m.5 0h4.5m33 0h1M132 116.5h2m2 0h4.5m.5 0h4m10 0h1m7 0h1m1.5 0h1.5m1 0h1m3.5 0h1m1 0h1m5 0h7m.5 0h1.5m4.5 0h1m19.5 0h1.5m.5 0h1m3.5 0h1m23 0h1m9 0h1.5m.5 0h1.5m28.5 0h1.5m4 0h1M132 117h1m1.5 0h2.5m.5 0h5.5m.5 0h3.5m8.5 0h1m10 0h3.5m1 0h1m1 0h1m1.5 0h1m1 0h2m.5 0h1m.5 0h7m.5 0h1m1.5 0h2.5m4 0h1.5m15.5 0h1m20.5 0h1m9.5 0h1m1 0h1m4 0h4.5m31 0h1.5M132.5 117.5h1.5m1 0h3m.5 0h1m1 0h6.5m8 0h1m4 0h2m5 0h2.5m.5 0h1.5m5 0h1m1.5 0h1m2 0h4.5m1 0h1m1 0h1m3 0h1m21.5 0h1m21 0h1m5.5 0h1m.5 0h2m2 0h1m2 0h5.5m30 0h1M134.5 118h4m1 0h7m4.5 0h1m.5 0h1.5m9.5 0h1m3 0h2.5m.5 0h1.5m.5 0h2.5m3 0h2.5m1 0h1m.5 0h1.5m.5 0h3m.5 0h1.5m5 0h1.5m1.5 0h1.5m.5 0h1m13.5 0h1m28.5 0h1m3 0h1m4.5 0h3m.5 0h2m32.5 0h1M135.5 118.5h1m1.5 0h4m.5 0h5.5m4.5 0h1.5m.5 0h1m.5 0h1m1 0h1m4 0h2m1.5 0h1.5m2.5 0h2.5m4.5 0h1m1 0h1m1.5 0h2m4 0h1m1 0h1m1 0h2m1 0h3m4 0h1m1.5 0h1m7 0h1m3 0h1m11.5 0h1.5m7.5 0h1m6 0h1m2 0h1m1.5 0h1m1.5 0h6M134.5 119h4.5m1.5 0h1.5m1.5 0h5m.5 0h1m1 0h1m8.5 0h1.5m5 0h3.5m1 0h1m4.5 0h1m1.5 0h6m.5 0h1.5m2 0h2.5m.5 0h1m1 0h2m1.5 0h2.5m3.5 0h1m12 0h1m19 0h1m5 0h4.5m1.5 0h1m1 0h3m.5 0h1m.5 0h2.5M135 119.5h1m.5 0h1.5m2.5 0h1.5m.5 0h2m1 0h3m2.5 0h1m3 0h1m1 0h1m.5 0h1m.5 0h1m5.5 0h1.5m2.5 0h3m6 0h3m1.5 0h1m4 0h2.5m.5 0h3.5m3 0h1m26 0h1m2.5 0h1m11.5 0h1m1.5 0h1m5 0h1m.5 0h1m.5 0h2.5m1.5 0h2.5M137.5 120h1m1 0h2m3 0h1m.5 0h3m.5 0h1.5m1 0h1m2.5 0h1m5.5 0h1m2.5 0h1m4 0h1.5m1 0h1m6.5 0h5m1 0h1m1.5 0h2m.5 0h1m1 0h2.5m.5 0h1m1 0h1m18.5 0h1m8 0h1m16.5 0h1m2.5 0h1m.5 0h1m1.5 0h4.5m.5 0h1m2 0h1M137 120.5h2.5m1 0h3m.5 0h4m.5 0h2.5m1 0h1.5m1.5 0h2m8.5 0h1m.5 0h1.5m1.5 0h2m1 0h1m.5 0h1m2 0h1m1 0h5.5m4 0h2.5m1 0h2m1 0h3m1.5 0h1m12.5 0h2.5m1 0h1.5m2.5 0h1m16 0h1m1 0h1m5 0h1m2.5 0h1m.5 0h2m.5 0h1.5m1.5 0h1m4 0h2M135.5 121h1m.5 0h1m3.5 0h4m1 0h2m.5 0h2m3 0h1.5m3.5 0h1m.5 0h1m2.5 0h1.5m.5 0h2m1.5 0h1m1 0h3m4.5 0h1m1.5 0h1.5m.5 0h1.5m1.5 0h9.5m.5 0h4m13.5 0h1m2 0h1m5.5 0h1m15.5 0h2.5m.5 0h1.5m1.5 0h1m3 0h3m.5 0h1M137 121.5h1m3.5 0h1m2 0h3m.5 0h3.5m4.5 0h1m6.5 0h1m1 0h1m2 0h3m1 0h2.5m.5 0h1m3 0h1m.5 0h2m2 0h2m2 0h8.5m16.5 0h1m8.5 0h1m3 0h1m1.5 0h1m7 0h1m.5 0h1m4 0h1m2 0h1m.5 0h1m1 0h2.5m1.5 0h1m2 0h1M138.5 122h1.5m3.5 0h1.5m.5 0h1.5m.5 0h4.5m.5 0h1m1 0h1m2.5 0h1.5m4 0h1m4 0h6.5m4.5 0h4.5m.5 0h2m.5 0h2m3 0h6.5m.5 0h1m12 0h1.5m3.5 0h2m2 0h1m1 0h1m14.5 0h1m1.5 0h1m1 0h1.5m2.5 0h1m.5 0h4.5m.5 0h1.5m5.5 0h1m9.5 0h1.5m1 0h1M139 122.5h1m1 0h1.5m2 0h4.5m.5 0h2.5m5 0h1m7 0h2.5m1 0h2m1 0h2m.5 0h2m3 0h3m1.5 0h2.5m.5 0h14m17.5 0h1m3.5 0h1.5m15.5 0h3m5 0h3m.5 0h4M138.5 123h1.5m3 0h1m.5 0h6.5m.5 0h1m1.5 0h1m2.5 0h1m4.5 0h1.5m.5 0h1m3.5 0h1m1.5 0h3.5m2 0h5.5m4 0h2m1 0h3.5m.5 0h3.5m.5 0h1m1 0h1m6 0h1m10 0h1m1.5 0h2.5m1 0h1m16 0h1m.5 0h2m2.5 0h1m7 0h1m1 0h1m1.5 0h1m.5 0h1m18.5 0h1m.5 0h1m1.5 0h1M143.5 123.5h8.5m13.5 0h1m4 0h2m3.5 0h1m1.5 0h1m1 0h1.5m.5 0h2m1.5 0h1m.5 0h1m.5 0h5.5m.5 0h1m.5 0h5m3.5 0h1m4.5 0h1m3.5 0h1m4.5 0h1.5m20 0h2m.5 0h1m1.5 0h1m2 0h1m2 0h1m.5 0h1m1 0h1m2 0h1m4 0h1m10.5 0h1m5 0h1.5M140 124h1m4.5 0h8m2 0h1m7.5 0h3m3 0h1m.5 0h5.5m.5 0h1m2 0h1m.5 0h1m3 0h6.5m.5 0h2.5m.5 0h5m5.5 0h1m10 0h1m4.5 0h1m18 0h1.5m3 0h2m3 0h1m3 0h3m5 0h1m3 0h1m3 0h1m6 0h1m4 0h1.5M142.5 124.5h2m1 0h5.5m1 0h1m.5 0h1m9 0h3m3 0h3m.5 0h3.5m.5 0h2m2 0h3m2.5 0h10m.5 0h2m1 0h1m41.5 0h1m8 0h1.5m1 0h3.5m5.5 0h3m5 0h1m3 0h1m1 0h1M142.5 125h1.5m1.5 0h1m.5 0h3m2 0h2.5m1 0h1m8 0h2m3.5 0h4.5m1 0h1m.5 0h1m2.5 0h2m.5 0h2m.5 0h1m.5 0h4m.5 0h3m1.5 0h1m.5 0h3.5m11.5 0h1m1.5 0h1m34.5 0h1m3 0h2.5m.5 0h1.5m21 0h1M143 125.5h1.5m2 0h3.5m2 0h2.5m1 0h1m8 0h1.5m.5 0h1m3.5 0h3m1.5 0h3m1.5 0h1m.5 0h3.5m.5 0h9.5m2.5 0h5m19.5 0h1m9.5 0h1m13.5 0h1m4 0h1m8.5 0h1m2 0h1m6 0h1m11 0h1M144 126h1m2 0h2.5m1 0h3m1 0h1m7 0h2.5m2 0h2m.5 0h5.5m1.5 0h1m.5 0h1.5m2 0h6.5m2 0h4m1 0h1m.5 0h4.5m.5 0h3.5m1 0h1m29 0h1m1.5 0h1m5 0h2m.5 0h2m.5 0h4m1 0h1M144 126.5h1m3 0h1m2.5 0h1m.5 0h1m4 0h1m1.5 0h5.5m.5 0h1m.5 0h4.5m.5 0h2.5m3 0h1m.5 0h10.5m.5 0h1.5m.5 0h1m1 0h1m.5 0h1m.5 0h2.5m1 0h2.5m6 0h2m20 0h1m10.5 0h1m.5 0h1m1 0h1.5m2 0h3m2 0h1m15 0h1M141.5 127h1m5 0h2m3 0h2m5 0h1m2.5 0h1m1 0h3m.5 0h3m1 0h1.5m1 0h3.5m2 0h4.5m.5 0h1m1 0h4m2.5 0h3.5m1 0h1.5m.5 0h2.5m6 0h1m22 0h1.5m.5 0h2m7 0h1m.5 0h2m.5 0h1.5m1 0h3m.5 0h2.5m.5 0h1m1 0h1m11 0h2.5m10.5 0h1M142 127.5h1m1.5 0h1m.5 0h1m.5 0h1.5m.5 0h1m.5 0h4m5 0h1m2 0h1m1.5 0h4m.5 0h1m2 0h1m.5 0h5m2 0h12m.5 0h5.5m.5 0h6.5m27 0h1m9 0h3.5m.5 0h3.5m2 0h1.5m9 0h1m4.5 0h1M141.5 128h1m7 0h1m.5 0h1m.5 0h2.5m1 0h1.5m4 0h1m2 0h1m.5 0h4.5m2 0h4m1 0h1m3 0h4m.5 0h11m3 0h1m.5 0h3m7.5 0h1m19 0h1m1 0h2m1 0h1m5 0h4.5m.5 0h1.5m3 0h2m3.5 0h1m9.5 0h1M148 128.5h3m.5 0h1m.5 0h4.5m2.5 0h2.5m1.5 0h6m2.5 0h4m4 0h3.5m2.5 0h4.5m.5 0h3.5m.5 0h1.5m3.5 0h2.5m10 0h1m17 0h1m2 0h1m2.5 0h1m4 0h3m.5 0h5m2 0h2m10.5 0h1m2 0h1m.5 0h2.5m9.5 0h1M147.5 129h3m1.5 0h1m.5 0h1m.5 0h1m4 0h2m1.5 0h1m.5 0h2.5m1.5 0h3.5m1 0h1m1 0h1m2 0h1m1 0h2.5m.5 0h2m.5 0h7m1 0h1m1.5 0h1.5m4 0h2m3 0h1m3 0h1m.5 0h1m4 0h1m10.5 0h1m2 0h1m.5 0h1m5 0h1m2.5 0h6m2.5 0h2m.5 0h1m4.5 0h1m6.5 0h2m1.5 0h1M146.5 129.5h5m1.5 0h1m.5 0h2.5m3 0h2m3.5 0h1m2 0h1.5m2.5 0h3.5m3 0h1m.5 0h5.5m.5 0h4.5m.5 0h5.5m2 0h4.5m1 0h3m4.5 0h2.5m14.5 0h1m1.5 0h1m11.5 0h4.5m3.5 0h1m3.5 0h1m2 0h1.5m.5 0h1m3.5 0h1m1 0h1.5M149.5 130h2m2.5 0h4m.5 0h3m2 0h1m5.5 0h1m.5 0h1m.5 0h2.5m3 0h1m2 0h1m.5 0h1m.5 0h1.5m2 0h1m4 0h1m.5 0h1m1.5 0h1m.5 0h5m1.5 0h2.5m3 0h1m2 0h1m28 0h2m1.5 0h1m14.5 0h1M150 130.5h3.5m.5 0h1m1.5 0h1m1 0h1m2.5 0h1m1 0h1m7 0h2.5m2 0h2m.5 0h1.5m1 0h2m.5 0h1m1.5 0h2m1 0h1m4 0h1.5m1 0h7m1.5 0h1m2 0h1m29 0h2.5m1.5 0h1m1 0h1.5m1.5 0h2m1.5 0h1m3.5 0h1m5 0h2M149.5 131h1m.5 0h2m11 0h1m2 0h1m2 0h1.5m.5 0h2m1 0h1m3 0h2m.5 0h2m.5 0h2m1 0h2.5m2 0h1m3.5 0h1m1 0h1.5m.5 0h4m1 0h7.5m17.5 0h1m.5 0h1m8.5 0h1m1 0h1m.5 0h1m1 0h2m.5 0h1m12.5 0h1m6 0h1m6 0h1M148 131.5h1m1.5 0h1.5m5.5 0h1m3 0h1.5m1.5 0h1m3 0h2m2 0h2.5m1 0h1.5m1 0h2.5m.5 0h1m1 0h3m2 0h2.5m.5 0h2.5m1 0h1.5m2 0h8m.5 0h2.5m1 0h1m.5 0h1m16 0h1.5m8.5 0h1m2 0h1m1 0h1m1 0h1m.5 0h2m12 0h1M154 132h1m1 0h1m1 0h1.5m1 0h2m5 0h1m1.5 0h3m4 0h4.5m2.5 0h3.5m.5 0h1m.5 0h1m3 0h1m4 0h2m.5 0h2.5m1 0h4m1 0h1m2 0h1m1 0h1m.5 0h1m8 0h2m.5 0h2.5m5 0h1m4 0h1m.5 0h8.5m4 0h1m2 0h2m7 0h1M152.5 132.5h1m2 0h1m8 0h1m1 0h2m2 0h2.5m.5 0h1m4.5 0h1m1 0h2.5m.5 0h5m.5 0h3.5m1 0h1m.5 0h1.5m1 0h6.5m1 0h3m18.5 0h1m.5 0h2.5m10.5 0h2.5m3 0h1m1 0h1m11 0h1m9 0h1M148 133h1m3 0h1m1 0h1m1 0h1m2 0h1m3 0h1m3 0h1m4 0h1m2.5 0h2.5m.5 0h3.5m1.5 0h1m1 0h3m1 0h6m3.5 0h2m2 0h1m.5 0h4m1 0h1m4.5 0h2m8.5 0h1m1 0h1.5m5.5 0h2m4.5 0h2m.5 0h1m.5 0h2m1.5 0h1.5m11.5 0h1M151.5 133.5h1m1.5 0h3.5m.5 0h1m3 0h1m2 0h4.5m1 0h1m5.5 0h3.5m1 0h1m.5 0h1.5m.5 0h3m.5 0h7m3 0h2.5m2 0h3m.5 0h2.5m2 0h1m11.5 0h1m1 0h1m4.5 0h1m5.5 0h1m.5 0h1m1 0h7.5m7 0h1m2.5 0h1M155 134h1m.5 0h1m.5 0h3m2 0h1m6.5 0h1m2.5 0h3.5m.5 0h4.5m1 0h1m.5 0h3m.5 0h6.5m3 0h1.5m2 0h6.5m.5 0h2m4 0h1.5m19.5 0h1m1 0h2m1 0h1m.5 0h4.5m.5 0h1m8 0h1m1 0h1m2.5 0h2.5m9 0h1M157.5 134.5h1.5m1 0h1m1 0h1m2.5 0h1.5m3 0h1.5m.5 0h2m.5 0h1m.5 0h7m1 0h3m1 0h1.5m.5 0h1m.5 0h1m.5 0h1m3 0h1m3.5 0h1m.5 0h6.5m.5 0h2.5m2 0h1m.5 0h1m7.5 0h1m1.5 0h1m5 0h1m2 0h1.5m.5 0h10.5M155 135h1m2.5 0h1m1 0h4.5m.5 0h2.5m5 0h1.5m.5 0h5.5m.5 0h2m1 0h1m1 0h4.5m.5 0h2.5m3.5 0h1m2 0h1m2.5 0h1m.5 0h2m1.5 0h1m1 0h1m16.5 0h2m4 0h1m2.5 0h1m1 0h8.5m.5 0h1M153.5 135.5h2.5m.5 0h1m.5 0h1m1.5 0h1m1.5 0h1.5m1 0h1.5m6 0h2m5 0h4m.5 0h1m1 0h7m.5 0h3m.5 0h1m1.5 0h1m.5 0h1m3.5 0h2.5m.5 0h3m.5 0h1m3.5 0h2m10 0h1m6.5 0h1.5m1 0h8.5M155 136h2.5m5.5 0h4m.5 0h1m6 0h1m1.5 0h1m3 0h4m.5 0h5m.5 0h5m.5 0h2.5m2 0h1.5m1.5 0h1m1.5 0h5m7.5 0h1m11 0h1m5.5 0h1m1 0h1.5m1 0h5.5m11.5 0h1m1.5 0h1.5M158.5 136.5h2.5m.5 0h2m1.5 0h1m4 0h1m1 0h3.5m3 0h1.5m1.5 0h1m1 0h7m1 0h3.5m.5 0h1m.5 0h1m.5 0h1.5m1.5 0h2.5m.5 0h1.5m1 0h5.5m7.5 0h1m14.5 0h1m.5 0h1.5m.5 0h5.5m1 0h1m9 0h1m3 0h1M154.5 137h1.5m2 0h1m1 0h3m.5 0h1m6 0h1m.5 0h1m9.5 0h3m.5 0h7m.5 0h3m.5 0h4.5m4.5 0h1m2.5 0h3m4.5 0h1m.5 0h1m.5 0h1m13 0h1m2.5 0h1m1 0h3m.5 0h4M154.5 137.5h1m.5 0h8.5m9.5 0h1m6 0h2.5m.5 0h3.5m.5 0h2.5m.5 0h2m2 0h3.5m1 0h3m3 0h1m.5 0h1.5m1.5 0h2.5m6 0h1m16 0h1m3 0h4m3.5 0h1m3 0h1m9.5 0h2M157 138h1m.5 0h1m1.5 0h4.5m.5 0h1.5m1 0h4.5m8 0h2m.5 0h8m.5 0h5.5m.5 0h2m.5 0h1m.5 0h1m.5 0h1m2 0h1.5m2.5 0h2m4.5 0h1m1.5 0h1.5m10.5 0h3m1.5 0h2.5m1.5 0h5m6 0h1m10 0h1M157.5 138.5h7.5m.5 0h1m1 0h1m.5 0h1m1.5 0h1.5m1 0h1m5 0h2.5m.5 0h4m.5 0h1.5m1.5 0h5m.5 0h1m.5 0h2.5m.5 0h1.5m.5 0h1m2 0h1m1.5 0h1.5m1.5 0h1.5m.5 0h1.5m5.5 0h1m10 0h1m.5 0h1m.5 0h1m5.5 0h2m16.5 0h1M157 139h3m1.5 0h1.5m.5 0h3.5m4 0h2.5m8 0h1m.5 0h3m2 0h1.5m1 0h1m1 0h2.5m.5 0h1m.5 0h2.5m1 0h2m1 0h2m1 0h1m1 0h1m4 0h1m1 0h1.5m3.5 0h1m7 0h1m1 0h1m.5 0h5m3 0h1m2.5 0h2m5 0h1M160 139.5h1m1 0h1.5m.5 0h3m3 0h3.5m1 0h1m.5 0h1m4 0h1m.5 0h1.5m.5 0h1m.5 0h1m1 0h1m.5 0h1.5m.5 0h1m.5 0h1m1 0h1.5m7 0h1m2.5 0h1m2.5 0h1m1 0h1m4.5 0h1m.5 0h2m.5 0h1.5m8 0h3.5m4.5 0h1.5M158.5 140h1m5 0h2m1.5 0h1m2 0h2m9.5 0h2m3 0h1m1.5 0h1m2 0h2m2 0h1m2.5 0h1m4.5 0h2.5m3 0h1m.5 0h1m3 0h1m1.5 0h1m.5 0h2.5m5.5 0h1m1.5 0h3.5m1 0h1.5m1.5 0h2m13.5 0h1m2 0h1M160.5 140.5h1m.5 0h1m1.5 0h3m3.5 0h1.5m2.5 0h1m5.5 0h1.5m8.5 0h1m.5 0h1m6.5 0h1m1 0h1m6 0h1.5m.5 0h1.5m1.5 0h3m2 0h1m1 0h3m4 0h1m1 0h5M163 141h1m3.5 0h4m.5 0h1m1.5 0h2m5.5 0h2m.5 0h2m.5 0h1m.5 0h1m2 0h1.5m2.5 0h2.5m.5 0h3m4.5 0h1m4 0h2m1.5 0h1m1 0h1m.5 0h1m3 0h2m5 0h5m1 0h2.5m16 0h1M160 141.5h1m1 0h1m.5 0h1m.5 0h1m1 0h1m1 0h2m3.5 0h1m8 0h2m3 0h3m4 0h2m.5 0h4m3.5 0h1m1 0h1m2 0h2m1.5 0h1m1 0h1m4.5 0h3m5 0h4.5m3.5 0h1m12 0h1m2.5 0h1M160 142h1m2 0h2.5m.5 0h1m1.5 0h2m1.5 0h1.5m.5 0h2m6.5 0h3.5m2.5 0h1m.5 0h1m1 0h1m4.5 0h1m1 0h1.5m.5 0h1m6.5 0h1m2 0h1m1 0h1m.5 0h2m1 0h1m2.5 0h1.5m6 0h2m2.5 0h1m1 0h1m.5 0h1.5m1.5 0h1M161 142.5h1m1 0h1m2.5 0h1m1.5 0h1.5m1 0h2m2.5 0h2m6 0h1m1.5 0h1m1.5 0h1m7.5 0h1m2 0h2m5.5 0h1m1 0h2m.5 0h2m1 0h1m2.5 0h1.5m1 0h3.5m2.5 0h1m2.5 0h2m4 0h1.5m1 0h1m11 0h1M165.5 143h1.5m1.5 0h2m1.5 0h1m1.5 0h1m13.5 0h1m1 0h1m6.5 0h2m.5 0h3m2 0h1m2 0h5m1 0h1m2 0h1m2.5 0h2.5m12 0h3m15.5 0h1M162 143.5h1m6 0h2m1 0h2m25 0h2.5m.5 0h2m1.5 0h1m4 0h1m1 0h1.5m7.5 0h3m3 0h1m.5 0h1.5m1 0h2m1 0h3m1.5 0h1m12 0h1M164 144h2.5m.5 0h1m.5 0h2m1 0h3m25 0h1m.5 0h1m2 0h2m4.5 0h1m1.5 0h1.5m5 0h1m2 0h1m3.5 0h1m1 0h1m2.5 0h6M168.5 144.5h1.5m.5 0h1m2 0h2m4 0h2m4.5 0h1m11 0h1m1 0h3m.5 0h3.5m1 0h1m2.5 0h1m8.5 0h1m.5 0h1m5 0h1.5m2 0h4m.5 0h1m2 0h1M165 145h1.5m3 0h2.5m.5 0h1m.5 0h1.5m22 0h1.5m2 0h4m1.5 0h2m5.5 0h1m1.5 0h1m4 0h1m1 0h1m11 0h2m1 0h1.5M169.5 145.5h1m.5 0h4m.5 0h1m5.5 0h1m1.5 0h1m7.5 0h1m2.5 0h2m2 0h4.5m.5 0h2m1 0h2m2.5 0h3m1.5 0h2.5m3 0h1m.5 0h1m5 0h2.5m2 0h2m2.5 0h1.5M169.5 146h1.5m.5 0h2.5m1.5 0h1.5m5.5 0h3m6 0h1m1 0h1m7 0h2.5m1 0h3m5 0h1m1.5 0h3m1 0h1m6 0h1m5.5 0h1m1.5 0h1M168 146.5h1m.5 0h1m.5 0h2m.5 0h1m1 0h1m5 0h2.5m5 0h1m3 0h1.5m5 0h1m1.5 0h1.5m.5 0h1m1 0h5.5m5 0h2m1 0h1m2 0h1m1 0h1m4 0h1m3.5 0h1M171 147h2.5m2.5 0h1m4 0h2m1 0h1m.5 0h1m4 0h3.5m2.5 0h2m4 0h1m1.5 0h1m.5 0h3m.5 0h2m2 0h1.5m.5 0h1m1 0h1m3.5 0h1m1 0h1m2 0h1m1 0h2m2.5 0h1m3.5 0h1M169.5 147.5h4.5m3.5 0h1m1 0h1m.5 0h1m1 0h1m1 0h2m1.5 0h1m1 0h1m.5 0h6.5m1.5 0h1m.5 0h1m2 0h2.5m.5 0h2m6.5 0h4.5m5.5 0h1m5.5 0h1M170 148h3.5m6.5 0h1m.5 0h3m2.5 0h1m1.5 0h1m1.5 0h1m.5 0h1.5m.5 0h2m.5 0h1.5m2.5 0h1m2 0h4m1.5 0h1m1 0h2m2.5 0h2.5m2 0h1m1 0h1m1 0h2m.5 0h3.5m5 0h1M172.5 148.5h1m1.5 0h1m4.5 0h3m2.5 0h1m2 0h1m2 0h1m.5 0h3m.5 0h3m2 0h1.5m2.5 0h1.5m2 0h1m4 0h1m1 0h4.5m3 0h2m2 0h3.5m3 0h1m2.5 0h1M169.5 149h1m1 0h2m1 0h1m3 0h4.5m3 0h3m3.5 0h2.5m3 0h2m1 0h1m3 0h4.5m3 0h1m1.5 0h1.5m.5 0h3m.5 0h1m2 0h1m.5 0h1.5m1 0h4m4.5 0h2.5M176 149.5h1m1.5 0h4.5m.5 0h2m5.5 0h1.5m2 0h2m.5 0h1.5m5.5 0h1m1 0h3.5m1.5 0h2.5m.5 0h2m.5 0h1m1 0h3m1 0h1m1 0h2m1 0h4M172.5 150h1m.5 0h1m2 0h4.5m.5 0h2.5m.5 0h1m9 0h1m1 0h1m.5 0h3.5m1 0h1m.5 0h2.5m.5 0h1.5m.5 0h8.5m1.5 0h1m.5 0h3m.5 0h2.5m.5 0h3m.5 0h1m5 0h1M172.5 150.5h1m1 0h2.5m.5 0h6.5m3 0h1m8 0h6m3 0h1.5m.5 0h4m1 0h6m1 0h4.5m.5 0h3m1.5 0h3.5m.5 0h1m1 0h4.5M174 151h11.5m11.5 0h14m.5 0h2m.5 0h5m.5 0h2.5m.5 0h9m.5 0h1.5m3 0h1M173.5 151.5h1m.5 0h2.5m.5 0h3m.5 0h1.5m.5 0h5m.5 0h1.5m7.5 0h6.5m1 0h1m.5 0h1m.5 0h4.5m.5 0h2m.5 0h11m.5 0h9.5M176.5 152h1m.5 0h7.5m2 0h1m4 0h1m3 0h2.5m.5 0h4.5m.5 0h1m.5 0h5m1 0h1m.5 0h1m3.5 0h5.5m.5 0h3.5m.5 0h8m.5 0h1M173 152.5h3.5m1 0h3m.5 0h3m.5 0h2m1.5 0h1.5m2 0h1m3 0h1m1 0h3.5m.5 0h6m.5 0h4m2.5 0h1m.5 0h5.5m.5 0h4m.5 0h6.5m1.5 0h3M174.5 153h1m2.5 0h4.5m.5 0h1.5m8.5 0h1m2 0h1m1 0h2.5m.5 0h3.5m1.5 0h1.5m1 0h1m1 0h1m1.5 0h1.5m1.5 0h1.5m1.5 0h5m2 0h1.5m1 0h8.5M175.5 153.5h1m.5 0h5m.5 0h2.5m4.5 0h1m2 0h1m1.5 0h1m1 0h11m1 0h2m3 0h2.5m.5 0h4.5m3.5 0h3m1 0h1.5m.5 0h2.5m.5 0h2M175.5 154h5m.5 0h4m.5 0h1m2.5 0h1.5m4.5 0h1m1.5 0h8m.5 0h2m1 0h1.5m1.5 0h1m.5 0h7m.5 0h2.5m.5 0h2.5m.5 0h1m.5 0h5.5m3 0h1M177 154.5h8.5m.5 0h1m8.5 0h10m.5 0h1m.5 0h1.5m1.5 0h2.5m.5 0h1m.5 0h2.5m.5 0h2.5m1 0h1m1.5 0h4m1 0h2.5m.5 0h2M177.5 155h4.5m.5 0h1.5m.5 0h2m2.5 0h1m5 0h10.5m1.5 0h1m3 0h4m.5 0h2.5m.5 0h3m1 0h1m1 0h1m1 0h2.5m.5 0h1m1.5 0h2.5M178.5 155.5h3m12.5 0h2m1 0h1m.5 0h2.5m.5 0h3.5m1 0h2m1.5 0h4m2 0h6m1 0h1.5m1.5 0h3m1.5 0h1m2 0h1M179 156h3.5m1.5 0h2.5m.5 0h1m5.5 0h3m.5 0h2m.5 0h2.5m.5 0h2m.5 0h1m1.5 0h1m1.5 0h9m2 0h2m2.5 0h1m.5 0h1m3.5 0h3M177.5 156.5h1m6.5 0h1.5m.5 0h1m6.5 0h3m.5 0h7m.5 0h9m.5 0h3.5m.5 0h1m4.5 0h1m.5 0h1.5m1.5 0h1M181.5 157h1m4.5 0h1m4 0h1m.5 0h1m.5 0h1m.5 0h1m1 0h1m.5 0h1m1 0h1m1 0h1m3.5 0h2m1 0h1m1 0h6m1.5 0h2m.5 0h1m3 0h1m2 0h1m2 0h1.5M181 157.5h1m8 0h1m.5 0h1.5m2 0h3m.5 0h1m.5 0h1m1 0h3m2 0h1.5m1 0h7m1 0h2.5m2.5 0h5.5m1 0h1M183.5 158h1m1 0h1m2 0h1m.5 0h2m2 0h1.5m1.5 0h1.5m1.5 0h1m2 0h1.5m.5 0h1.5m1 0h1m1 0h4.5m.5 0h4.5m1 0h1.5m1 0h1.5m4 0h2m3 0h1M185 158.5h1.5m1 0h1m3.5 0h2m.5 0h2m1 0h1m.5 0h5.5m.5 0h2m2 0h1m1 0h1m2.5 0h1m.5 0h4m.5 0h1m.5 0h1.5m1.5 0h1m1.5 0h6M184.5 159h1m4 0h5.5m2.5 0h3m2 0h2.5m2.5 0h3m.5 0h1.5m.5 0h2m1 0h3m.5 0h1.5m.5 0h1m2.5 0h1m1 0h2.5m1.5 0h1m1.5 0h1M188 159.5h3m.5 0h3.5m4 0h1m1 0h5m.5 0h8m.5 0h4.5m2.5 0h2m.5 0h1.5m.5 0h3M182.5 160h1m.5 0h1.5m.5 0h1.5m1 0h6.5m5.5 0h1m.5 0h11m1 0h3m.5 0h3.5m.5 0h1m.5 0h3m.5 0h1m.5 0h2M182.5 160.5h1.5m1 0h2m.5 0h3.5m.5 0h3.5m.5 0h1m2.5 0h7m1 0h1m1.5 0h1m1 0h1m1 0h1m4 0h1m.5 0h2.5m.5 0h5m1 0h2M184 161h1m1 0h5m.5 0h6m1.5 0h6m1.5 0h1m3 0h8.5m3.5 0h1m2 0h1m4 0h1M187 161.5h3.5m1.5 0h1.5m.5 0h3.5m.5 0h1.5m1 0h3.5m.5 0h1m3.5 0h4.5m.5 0h2m.5 0h1m1 0h6m.5 0h4m1.5 0h1m.5 0h1M186 162h7.5m.5 0h5.5m.5 0h1m1 0h2m.5 0h1.5m.5 0h10.5m.5 0h1.5m1.5 0h1m1 0h3m6 0h1M185 162.5h2.5m1 0h5.5m.5 0h4m1.5 0h4m1 0h1.5m1.5 0h7m.5 0h1m1 0h1m3 0h3m.5 0h2m1.5 0h3.5M185 163h10m.5 0h4m1 0h2m.5 0h1m3 0h1m.5 0h1m.5 0h5.5m.5 0h2m.5 0h1m1.5 0h1m.5 0h1.5m.5 0h7M187.5 163.5h8.5m.5 0h3.5m1.5 0h3.5m.5 0h10m.5 0h1m3 0h2m1 0h4.5m.5 0h2m.5 0h1.5M187.5 164h1m1.5 0h1.5m.5 0h2m1 0h5.5m1.5 0h1m3 0h2.5m.5 0h6m1.5 0h1m.5 0h2.5m3.5 0h6.5M186.5 164.5h1m1 0h4m.5 0h5m.5 0h3m1.5 0h1m1.5 0h1m1 0h1m.5 0h8m1.5 0h1m.5 0h1.5m1.5 0h6.5m.5 0h2M186.5 165h2.5m.5 0h2.5m.5 0h6m1.5 0h1m3 0h1m.5 0h1m1 0h1m1.5 0h2.5m.5 0h1.5m2 0h1m1 0h1m2 0h1m.5 0h1m.5 0h4.5m.5 0h1M187 165.5h2m1 0h1.5m1 0h1m.5 0h2m.5 0h1m2.5 0h1m4 0h8m1 0h3m2.5 0h2m1 0h2.5m.5 0h1m.5 0h1.5m1 0h2M187.5 166h1m1 0h1m.5 0h4.5m.5 0h1m2.5 0h2m.5 0h1m2 0h1m.5 0h1m3.5 0h6m2 0h3m1 0h4m.5 0h1m1.5 0h1M189 166.5h6m.5 0h2m4.5 0h1m.5 0h1m.5 0h1m6 0h3.5m1.5 0h2m1 0h2.5m2 0h5.5m1 0h1M188 167h4m.5 0h4m4.5 0h1m.5 0h2m.5 0h1m1 0h1m.5 0h1m.5 0h5m.5 0h1m1.5 0h1m.5 0h1m.5 0h1m2.5 0h5M188 167.5h6m.5 0h3.5m.5 0h1m7 0h3m.5 0h8m3 0h1m3.5 0h5m.5 0h1M188.5 168h6m.5 0h2m.5 0h1.5m1 0h1m3.5 0h1m1.5 0h4m2 0h1m3.5 0h6m1.5 0h4m1.5 0h1M189 168.5h1m.5 0h3.5m.5 0h4m6 0h1.5m2.5 0h1m1 0h3m1.5 0h1m.5 0h2m2.5 0h1m1 0h1m3 0h4m1.5 0h1M189.5 169h1m.5 0h2.5m3 0h2m.5 0h5m6 0h5m.5 0h2.5m1 0h3m1 0h1m.5 0h1m.5 0h1m1 0h1.5m.5 0h1.5M190.5 169.5h1m.5 0h1m1.5 0h1.5m7 0h1m.5 0h1m2.5 0h6m.5 0h1m3.5 0h1m.5 0h1m1 0h1.5m.5 0h1m.5 0h4.5m.5 0h1M190.5 170h1m2 0h1m2.5 0h1.5m1.5 0h2m2 0h1m.5 0h2m1.5 0h3.5m.5 0h1m.5 0h2m.5 0h1.5m1.5 0h1m1.5 0h1m1 0h4m.5 0h1m.5 0h1m1.5 0h1M189 170.5h1m5.5 0h1m7 0h1m3 0h1m1.5 0h2.5m2.5 0h1m2 0h4.5m1 0h1.5m.5 0h1m2.5 0h1m.5 0h2M194.5 171h1m.5 0h1.5m1 0h1m.5 0h2m8 0h3.5m1.5 0h2m2.5 0h2m1 0h1m.5 0h2.5m1.5 0h3M192.5 171.5h2.5m.5 0h1.5m3 0h1m5 0h3.5m1 0h1m2 0h1m.5 0h3.5m.5 0h1m.5 0h3m.5 0h3.5m.5 0h1m.5 0h1m4.5 0h1M190.5 172h1m2.5 0h1m.5 0h1m3.5 0h5m1 0h1m7 0h1m.5 0h2m1 0h1m1 0h4m1.5 0h1m1 0h1m.5 0h1m1.5 0h1.5M192 172.5h3.5m.5 0h3.5m1 0h1.5m2 0h1m2 0h1m.5 0h1m.5 0h1m.5 0h2m.5 0h2m.5 0h1m1 0h2.5m1 0h2.5m2.5 0h3m1 0h3M193 173h1m.5 0h1m.5 0h2.5m2.5 0h1.5m1.5 0h3m2.5 0h1m.5 0h1m.5 0h2m1 0h1m2.5 0h4.5m1.5 0h1.5m.5 0h2.5m2.5 0h2m.5 0h1.5M193.5 173.5h1m1.5 0h1m.5 0h2m1 0h1m1 0h1m1 0h3m.5 0h2.5m.5 0h2m1.5 0h1m.5 0h1m.5 0h3.5m1 0h3m1.5 0h1m2 0h2.5m2.5 0h2M193.5 174h1m3.5 0h2m3 0h1.5m1 0h5m.5 0h1m1 0h3m.5 0h2m.5 0h7m.5 0h1.5m.5 0h2m2 0h2M193.5 174.5h3.5m.5 0h1.5m6 0h1.5m3 0h6.5m1 0h5m.5 0h5.5m.5 0h2.5m.5 0h1m1 0h1.5M193.5 175h1m.5 0h5m6 0h3m.5 0h5m.5 0h2m1.5 0h1m1 0h4m2 0h5m2.5 0h2m3 0h1M195.5 175.5h2.5m.5 0h2m2 0h1m.5 0h2m.5 0h2.5m.5 0h3m.5 0h2m1 0h5m1 0h8m1 0h3m1 0h1.5M194 176h3m1.5 0h4m1.5 0h1m.5 0h1m1 0h1.5m1 0h1m.5 0h1m.5 0h14m1 0h3m.5 0h2.5m2 0h1M193.5 176.5h8m2 0h1.5m2 0h1m.5 0h1.5m1 0h2.5m1 0h6m.5 0h1.5m2.5 0h4m1 0h6m.5 0h1.5M195 177h2.5m.5 0h1m.5 0h2m5.5 0h3m.5 0h11m1.5 0h1.5m.5 0h6.5m2.5 0h1m.5 0h1.5m.5 0h1m1 0h1.5M194.5 177.5h2m3 0h1m.5 0h1m.5 0h6.5m.5 0h5.5m.5 0h8m.5 0h2m.5 0h6m1 0h1m1 0h1m.5 0h3.5M196 178h6.5m1 0h2m.5 0h6m.5 0h18m.5 0h1.5m.5 0h2m2 0h3m.5 0h1M195 178.5h1m1.5 0h4.5m.5 0h4.5m.5 0h3.5m2.5 0h9m1 0h14m1 0h1m1 0h1m1 0h1M198 179h1.5m1.5 0h1.5m.5 0h1m1 0h1.5m.5 0h2.5m.5 0h2.5m1 0h4m.5 0h1m1.5 0h1.5m1 0h3.5m1.5 0h4.5m.5 0h1m1 0h1m.5 0h5M196.5 179.5h1.5m1.5 0h1m1 0h1m.5 0h1m1 0h1.5m.5 0h4m.5 0h2m.5 0h5m.5 0h2m2 0h10.5m.5 0h2m.5 0h2.5m.5 0h1m4.5 0h1M195 180h1m1 0h1.5m1 0h1m1.5 0h2m.5 0h1m1.5 0h3.5m.5 0h1m2.5 0h6.5m.5 0h1.5m.5 0h1.5m1.5 0h1m1.5 0h8m1.5 0h2m3 0h1M196.5 180.5h1m3 0h3m1 0h2m3.5 0h2.5m.5 0h11.5m.5 0h1m.5 0h3m.5 0h11.5m.5 0h3M199 181h2.5m1 0h5.5m1 0h2.5m.5 0h3m.5 0h4.5m.5 0h1.5m1.5 0h1.5m1 0h4m.5 0h3m.5 0h1m.5 0h1.5m1.5 0h1.5m.5 0h3.5m.5 0h1M200 181.5h1m2.5 0h12m1 0h4m.5 0h3m.5 0h2m2 0h9m.5 0h4m.5 0h2M196.5 182h2m4.5 0h1m1 0h1m1 0h2m.5 0h5m1.5 0h1m1 0h1.5m1 0h4m1 0h1m.5 0h4.5m.5 0h13.5M199 182.5h1m6 0h4m.5 0h1m.5 0h6m.5 0h4m1 0h2m1.5 0h2m.5 0h1m.5 0h6m1 0h7M205 183h2.5m.5 0h1m.5 0h4m.5 0h10m.5 0h2m.5 0h1m1 0h5m.5 0h8.5m.5 0h1.5m1 0h1M130.5 183.5h1m68 0h1m6.5 0h7m.5 0h1m.5 0h1m.5 0h2.5m.5 0h1.5m1 0h22.5M205 184h1m1 0h2m.5 0h8m.5 0h6.5m1 0h2m.5 0h2.5m.5 0h2m.5 0h3.5m.5 0h2.5m1.5 0h3m3 0h1M124 184.5h1m1.5 0h1m3 0h1m1 0h1m66.5 0h1m.5 0h1m1.5 0h1m.5 0h7m.5 0h1m.5 0h11.5m.5 0h1m1.5 0h17m1.5 0h1m4 0h1.5M117.5 185h1m6.5 0h1m5 0h2m2.5 0h1m63.5 0h1m4 0h10m.5 0h9.5m2 0h5.5m.5 0h2m.5 0h1.5m1 0h2m.5 0h1m1.5 0h1m4 0h1M116 185.5h1m1 0h1m2 0h1m3 0h1m1 0h1m3.5 0h3m66 0h1.5m1 0h2m.5 0h3m1.5 0h7m.5 0h6.5m2 0h7m.5 0h2.5m.5 0h8M118 186h3m3.5 0h4m1 0h4.5m.5 0h2.5m62 0h2m3.5 0h1.5m1 0h2m1 0h2.5m1 0h3m1.5 0h1m.5 0h11.5m.5 0h8m.5 0h5.5m.5 0h1M113.5 186.5h1m4 0h1.5m.5 0h1m1.5 0h1m.5 0h1m3.5 0h1.5m.5 0h3.5m.5 0h1m.5 0h1m.5 0h1.5m61 0h1.5m.5 0h2m1 0h1m1 0h3m1.5 0h1.5m1 0h4.5m1 0h10.5m.5 0h1.5m.5 0h2.5m.5 0h3.5m.5 0h3m.5 0h2.5m.5 0h1m2 0h1m5 0h1M113 187h1m2 0h2m.5 0h1m.5 0h8.5m.5 0h2m.5 0h1.5m1 0h4m.5 0h1m64 0h2.5m1 0h2m.5 0h1m1.5 0h1m1 0h20.5m1 0h5.5m.5 0h3.5m.5 0h2m1 0h1m5.5 0h1M114.5 187.5h1m.5 0h2.5m.5 0h1m.5 0h3m1.5 0h1m2 0h1.5m1 0h1.5m.5 0h4.5m66 0h6m2 0h3m.5 0h1m.5 0h1.5m.5 0h3m.5 0h8m.5 0h3.5m.5 0h8m1 0h4.5m1 0h1m4.5 0h1m.5 0h4.5M115.5 188h7.5m.5 0h15.5m65.5 0h1.5m1 0h3m.5 0h1m1 0h2.5m2 0h7.5m.5 0h3m.5 0h4.5m.5 0h1.5m.5 0h3m.5 0h1m2 0h6m6 0h1m1.5 0h2.5M112.5 188.5h1m2.5 0h2m1 0h1m.5 0h1m2.5 0h1m.5 0h1.5m1 0h1m.5 0h1m.5 0h8m65 0h3m.5 0h1.5m.5 0h5.5m1 0h1.5m1 0h5m1 0h3.5m.5 0h2m.5 0h1m1.5 0h1m.5 0h1m.5 0h6.5m1 0h4.5m3 0h1.5m2 0h2m.5 0h2.5m1 0h1M115 189h1m.5 0h2.5m1.5 0h1.5m.5 0h1m.5 0h4m1.5 0h3m.5 0h5m1 0h1.5m63.5 0h1m1 0h2.5m.5 0h4m.5 0h2.5m1 0h5.5m.5 0h1m1 0h2.5m.5 0h1m.5 0h11.5m1.5 0h2m.5 0h2.5m.5 0h2.5m2 0h1m.5 0h1m.5 0h3m2 0h2.5M115.5 189.5h4.5m.5 0h1m1 0h1m1 0h2m.5 0h8.5m.5 0h2.5m.5 0h1m63.5 0h5.5m1.5 0h3.5m2.5 0h5m.5 0h1m1.5 0h24.5m5.5 0h4.5M115 190h6.5m.5 0h5m2 0h2m2 0h1m.5 0h1.5m.5 0h4m62 0h5m1 0h1m1 0h5m.5 0h3.5m1 0h6m1 0h1m1 0h2m.5 0h10.5m.5 0h3m4 0h3m2 0h6.5M114 190.5h1m2 0h2.5m1 0h6.5m2 0h1m.5 0h1.5m.5 0h1m1.5 0h2.5m.5 0h2m63.5 0h2.5m.5 0h4.5m1 0h4.5m.5 0h1.5m.5 0h3m.5 0h2m1 0h1m1.5 0h2m.5 0h11.5m.5 0h2.5m.5 0h2.5m.5 0h1.5m1 0h2m.5 0h7m.5 0h1M114.5 191h2m.5 0h1.5m.5 0h3m1.5 0h4m1.5 0h4m2.5 0h1m.5 0h1m.5 0h1m1 0h1m2 0h1m59.5 0h4.5m1 0h5m2 0h7m1 0h2m.5 0h1m.5 0h2m.5 0h1m.5 0h2.5m1.5 0h2.5m.5 0h2m.5 0h1m.5 0h1m1 0h3.5m1 0h6m1 0h2.5m1 0h1m7.5 0h3M113.5 191.5h1m.5 0h6.5m1 0h3m.5 0h1m1 0h1m1.5 0h5.5m.5 0h1m4 0h1m61 0h1m.5 0h3m1 0h2.5m1 0h8.5m.5 0h4.5m.5 0h1m.5 0h10.5m1 0h3m.5 0h4m1 0h1m.5 0h1m.5 0h3m1 0h6.5M115 192h8m1 0h2m2 0h1m.5 0h1m1.5 0h2m.5 0h2.5m1 0h1m2 0h1m.5 0h1m62 0h6.5m1.5 0h6m1 0h5.5m.5 0h1m1 0h3.5m1 0h2.5m2.5 0h2m.5 0h6.5m1 0h2m.5 0h1m3 0h1.5m1 0h1m.5 0h3.5m2 0h1M115.5 192.5h1m.5 0h3m.5 0h1.5m1 0h1m.5 0h2m2.5 0h7m2 0h1m1 0h1m62.5 0h8m1 0h1m1.5 0h13m.5 0h1.5m2 0h3.5m.5 0h12m.5 0h1m2.5 0h3m1.5 0h7m18.5 0h1M113 193h1m.5 0h6m.5 0h2m.5 0h1m2.5 0h1.5m2 0h6m1.5 0h1m.5 0h1m2 0h1m60 0h1m.5 0h2.5m.5 0h3.5m.5 0h5m.5 0h7m.5 0h1.5m1 0h1m2 0h4m.5 0h13m3 0h1m.5 0h1.5m1.5 0h5m8.5 0h1m1.5 0h2m1 0h1m6 0h1m2 0h2m9.5 0h1M114.5 193.5h1m2 0h4.5m1 0h3m1.5 0h6m5 0h3m63.5 0h4m1 0h9.5m1 0h4.5m1.5 0h8m1 0h2m.5 0h7.5m1 0h1.5m1 0h7.5m1.5 0h2.5m1 0h1.5m7 0h1.5m8.5 0h2.5m.5 0h1m1 0h1m2 0h2m2.5 0h1m.5 0h1m3 0h1M114 194h7m1 0h1m1.5 0h2m1 0h1m1 0h4m2.5 0h1.5m3 0h1m.5 0h1m1 0h1m59.5 0h1m1 0h14m1 0h1.5m.5 0h2m.5 0h1.5m1 0h1m.5 0h3m.5 0h2m.5 0h5m1 0h5m.5 0h2m1.5 0h2m.5 0h1m1 0h3.5m2.5 0h1m1 0h1.5m4.5 0h1.5m10.5 0h1.5m.5 0h1m2.5 0h2.5m4.5 0h1m1.5 0h1m5 0h1M116 194.5h1m.5 0h4m2 0h9m6 0h2m.5 0h1.5m1 0h1.5m60 0h5m.5 0h2.5m.5 0h3m1 0h4m1 0h4m3 0h5.5m1 0h3.5m1.5 0h3.5m1 0h1m1 0h2m1.5 0h3m.5 0h1m3 0h1.5m.5 0h1.5m1 0h1m3 0h1m2.5 0h1m2.5 0h1m.5 0h1m3.5 0h1m1 0h2m1.5 0h1m1 0h2.5m2.5 0h1m1 0h1M113.5 195h1m.5 0h2m1.5 0h3m1.5 0h1m.5 0h5.5m.5 0h2m.5 0h1m1.5 0h7.5m62 0h4m1 0h1m.5 0h1.5m.5 0h2.5m1 0h4.5m.5 0h3m1.5 0h2m1 0h17m.5 0h2m3 0h1m1.5 0h2m2 0h1m2 0h2m5 0h1.5m8 0h2m.5 0h2.5m1 0h3m.5 0h2m4 0h2m1 0h1.5m2 0h1m2.5 0h1M116.5 195.5h1m.5 0h8.5m.5 0h2m.5 0h3m1.5 0h2.5m1 0h1m2 0h4.5m60 0h4m2 0h1.5m1.5 0h8m.5 0h3m1 0h7m.5 0h1.5m.5 0h3.5m1 0h3m.5 0h4m1 0h1m3.5 0h1m1.5 0h2m2 0h1m.5 0h2m2.5 0h6.5m.5 0h1m1 0h2m5 0h1m2 0h1m.5 0h3.5m4.5 0h1m3.5 0h1m.5 0h1m1 0h1.5M114 196h1m3 0h8m.5 0h1m1 0h1m.5 0h2m.5 0h1m1.5 0h1m.5 0h1m1 0h7m60 0h1m2.5 0h2m1 0h1m2 0h4m1 0h1.5m.5 0h1.5m.5 0h2m1 0h2m.5 0h7.5m.5 0h8.5m1.5 0h1m.5 0h1m2.5 0h1.5m.5 0h1m.5 0h1m.5 0h1.5m.5 0h1m2.5 0h1.5m3.5 0h1m.5 0h3m1 0h1m7 0h1m1.5 0h3.5m.5 0h2m5 0h2.5m.5 0h1.5m1.5 0h1.5m1 0h1M116.5 196.5h1m1 0h8.5m2 0h3m2 0h1m2.5 0h1m2.5 0h2.5m62.5 0h3m2 0h3.5m.5 0h6m.5 0h4m.5 0h2m.5 0h11.5m1 0h2m1 0h2m2.5 0h1m1.5 0h1m.5 0h3m1 0h1m.5 0h2.5m1 0h2m2.5 0h1m.5 0h1m1 0h2m.5 0h1.5m4.5 0h1m2.5 0h1m1 0h4.5m.5 0h3m4 0h7m.5 0h1.5M116 197h1m.5 0h6m1 0h5m2 0h5.5m.5 0h2m1 0h3m.5 0h1.5m64 0h1m.5 0h1m1 0h3.5m1 0h4m.5 0h1.5m.5 0h4m.5 0h2.5m1 0h3m.5 0h2.5m.5 0h3.5m.5 0h5m.5 0h2.5m1.5 0h1m4.5 0h2.5m2 0h1m1.5 0h1m.5 0h1m.5 0h2m.5 0h1.5m.5 0h1.5m2.5 0h1m3 0h1.5m1.5 0h1m1.5 0h3m3.5 0h1m1 0h2m1 0h1.5m.5 0h6M117.5 197.5h4m1 0h2m1 0h2m6.5 0h3.5m3 0h1m.5 0h3.5m64 0h2m1 0h2m1 0h6.5m.5 0h3m.5 0h1m.5 0h3m1 0h1.5m.5 0h12m.5 0h1.5m1 0h1m1 0h1m2.5 0h1m2 0h1m1.5 0h1m3.5 0h3m1 0h1m1 0h2.5m2 0h1m1.5 0h2.5m1 0h1.5m1.5 0h4m.5 0h2m.5 0h1m3.5 0h3m1.5 0h5.5M118.5 198h2m.5 0h9m.5 0h1m.5 0h6.5m.5 0h2m.5 0h4.5m61 0h1m2.5 0h3.5m1 0h1.5m.5 0h3m.5 0h2.5m.5 0h2m1 0h2.5m1 0h3.5m1.5 0h1m1 0h5.5m.5 0h4.5m.5 0h2.5m11 0h2.5m.5 0h2m.5 0h1m1 0h7.5m1.5 0h1m1 0h1m1 0h6m2 0h1m2.5 0h1m1 0h1m.5 0h1m.5 0h4M119 198.5h2.5m.5 0h7.5m.5 0h1.5m1.5 0h14m60 0h1.5m2.5 0h5.5m1 0h4m1.5 0h16.5m.5 0h2.5m1 0h6m1.5 0h1.5m1 0h1m1.5 0h1m4 0h2.5m4.5 0h1m.5 0h1.5m2.5 0h2m1 0h1.5m1.5 0h1m1 0h3.5m.5 0h1m.5 0h1m.5 0h1m4.5 0h5m1 0h4m1 0h1M116 199h1m1 0h1m.5 0h1m.5 0h7m.5 0h1.5m4 0h1.5m1 0h4m1 0h1m1 0h3.5m63.5 0h1m2 0h3.5m.5 0h8m.5 0h1.5m.5 0h7.5m.5 0h1m.5 0h10m1 0h1m4.5 0h2m2 0h1m1 0h1m6 0h1m.5 0h2.5m3 0h2m3 0h1m.5 0h6m3 0h1m1.5 0h2m.5 0h2m1.5 0h3m1.5 0h2.5m1 0h1M117 199.5h5m1 0h3.5m1 0h1m3 0h1m1 0h2m.5 0h5m.5 0h1m.5 0h2m.5 0h2m62.5 0h1.5m2.5 0h11m1.5 0h2m1 0h3m.5 0h1.5m.5 0h1m.5 0h1m.5 0h10.5m.5 0h1.5m.5 0h3.5m6 0h2.5m.5 0h1.5m.5 0h1m7 0h4m2 0h1m.5 0h2.5m.5 0h1.5m1 0h1m1.5 0h1m1 0h8m1.5 0h5M117.5 200h3m1 0h2m2.5 0h3m5 0h6.5m.5 0h7m60 0h1m.5 0h1m1.5 0h1m2 0h2m1.5 0h1m.5 0h1m.5 0h14.5m1 0h2m1 0h3m.5 0h4m.5 0h1m2 0h1.5m1 0h1m4.5 0h1.5m2 0h1.5m4 0h1.5m2 0h1m1 0h2m2 0h1.5m.5 0h1m.5 0h3m1 0h3m3.5 0h1.5m.5 0h7m1 0h1m1 0h1M116 200.5h1.5m2 0h3m1 0h1m2 0h2m2.5 0h1m2 0h7.5m.5 0h4m65.5 0h9m.5 0h8.5m.5 0h1m.5 0h8.5m.5 0h5.5m1 0h1m5.5 0h1m1 0h1m1 0h1m2 0h1.5m3 0h2.5m3 0h1m1.5 0h2m.5 0h1.5m1.5 0h1m2.5 0h5m.5 0h1m.5 0h3.5m1 0h1m.5 0h2.5m.5 0h1m2.5 0h1m2.5 0h1M116.5 201h8.5m.5 0h1m.5 0h2m5.5 0h1.5m3.5 0h1m.5 0h7m63 0h5.5m.5 0h5m1 0h7.5m.5 0h12.5m.5 0h4.5m8 0h1m2 0h1m1 0h8m.5 0h1m3 0h1.5m.5 0h2m2.5 0h2.5m3 0h2.5m1 0h4m1 0h2.5m.5 0h1m2.5 0h1.5m.5 0h2.5M117 201.5h1m.5 0h1m1.5 0h2m1 0h4m4.5 0h2m.5 0h1m3 0h2m.5 0h3.5m2 0h1m63.5 0h1.5m1 0h5.5m1.5 0h2m.5 0h1m2 0h5.5m.5 0h6.5m1 0h2m.5 0h2m1 0h3.5m1 0h2.5m4 0h1m1 0h1m1 0h1.5m.5 0h1m.5 0h1m1 0h1.5m1 0h2m2 0h1m1.5 0h1m1.5 0h8m.5 0h1.5m.5 0h1.5m.5 0h3m1 0h7m1 0h3M116 202h1.5m3 0h3m.5 0h3m1 0h1m1 0h1m1.5 0h5m.5 0h1m1 0h4m.5 0h1m1 0h2m62.5 0h1m1 0h4m2 0h1m1 0h2m.5 0h4.5m.5 0h13.5m.5 0h7m1.5 0h1m6.5 0h1m.5 0h7.5m.5 0h1m1 0h2m1.5 0h5m.5 0h5m1 0h1m1.5 0h1m2 0h1.5m1.5 0h8m1.5 0h1M117.5 202.5h2.5m.5 0h5m.5 0h2.5m2 0h1m3 0h1m.5 0h1.5m1 0h3m1 0h1.5m.5 0h3m.5 0h1m62.5 0h4.5m3.5 0h4.5m.5 0h1m.5 0h15.5m.5 0h1m1 0h3.5m1.5 0h1m.5 0h1m.5 0h1m2.5 0h1.5m2.5 0h4m1.5 0h6m.5 0h1.5m1 0h1m2 0h1m.5 0h1m1 0h3m1.5 0h1m1 0h1m1 0h2.5m1.5 0h5m1 0h2.5M118.5 203h3m.5 0h1m.5 0h1.5m3.5 0h2.5m1.5 0h1m1 0h1m.5 0h2.5m2.5 0h1.5m1.5 0h1.5m.5 0h1m64 0h1m2 0h2m.5 0h1m.5 0h1.5m.5 0h4m1 0h8.5m1 0h1m1 0h2.5m.5 0h1.5m.5 0h6m2 0h2.5m7.5 0h1m2 0h7.5m1.5 0h9m1 0h1.5m2 0h2m1.5 0h2m1 0h1.5m1 0h3.5m1 0h1m.5 0h1m.5 0h1m2.5 0h1M116 203.5h1m2 0h2m.5 0h1m.5 0h3m3.5 0h1m3.5 0h1.5m.5 0h2m4 0h1m1.5 0h3m63.5 0h1m.5 0h1m2 0h3m.5 0h1m.5 0h3m1.5 0h1.5m.5 0h12m.5 0h1m.5 0h1.5m.5 0h6.5m.5 0h2m.5 0h1m4 0h1m1.5 0h3.5m2 0h2.5m.5 0h1.5m2 0h2m1 0h6.5m4 0h2m4 0h11m.5 0h1m1 0h1M119 204h2m1 0h6.5m.5 0h1m1 0h1m1 0h1m1.5 0h2.5m1.5 0h1.5m.5 0h1m1.5 0h3m64.5 0h2.5m.5 0h3.5m.5 0h13m1 0h3m1.5 0h5.5m3 0h2m.5 0h3m1.5 0h1m2 0h2m.5 0h7m.5 0h4.5m1 0h1.5m.5 0h1m1.5 0h1m.5 0h4m1 0h2m2 0h1m1.5 0h1.5m1.5 0h1.5m.5 0h8M118.5 204.5h2.5m.5 0h2m1 0h2m2 0h2.5m1.5 0h1m.5 0h4m.5 0h1.5m.5 0h1m.5 0h2m.5 0h2m68.5 0h1m.5 0h6m.5 0h1m.5 0h2m1 0h2.5m.5 0h4m1.5 0h4.5m.5 0h1.5m.5 0h3m1 0h3.5m1 0h1m2 0h1m.5 0h3m1 0h4m.5 0h8.5m3.5 0h4m4 0h4m.5 0h2.5m.5 0h3.5m1 0h3m2 0h1M120 205h7m1.5 0h2m.5 0h1m.5 0h2m1 0h1.5m1.5 0h1m4 0h1m4 0h1m65.5 0h7.5m.5 0h1.5m1 0h5m.5 0h3m1.5 0h1.5m.5 0h7.5m.5 0h5m1.5 0h1m1 0h2m2 0h12m1.5 0h1.5m1 0h1.5m.5 0h1m.5 0h1m.5 0h2m3 0h1m1 0h3m4 0h4.5m1.5 0h1m2 0h1M118 205.5h1m.5 0h1m.5 0h3m1 0h1.5m3 0h2m1.5 0h2.5m3 0h4.5m1.5 0h1m.5 0h3m64.5 0h1m1 0h3.5m1 0h2m.5 0h2m.5 0h3.5m1 0h7m.5 0h3m.5 0h8m3 0h1.5m2 0h1.5m1 0h1m.5 0h11.5m5 0h6m1.5 0h2m1.5 0h3m1 0h2m.5 0h8.5m1 0h1M122 206h2.5m.5 0h1m.5 0h4.5m1 0h1m.5 0h2m6.5 0h2.5m1.5 0h1m1 0h1m68 0h1m.5 0h3m1 0h1m1 0h2m2 0h1m1 0h22.5m2.5 0h1m1 0h1m1.5 0h4.5m.5 0h2m1 0h3m4 0h3.5m.5 0h1m1 0h1m1 0h1m4 0h1.5m1.5 0h4.5m.5 0h3.5M120 206.5h1m1 0h2m1.5 0h6.5m1.5 0h2m4.5 0h2.5m1.5 0h1m1.5 0h1m1 0h1m67 0h2m.5 0h7.5m1.5 0h1m1.5 0h1m.5 0h2.5m.5 0h4m1 0h1.5m.5 0h1.5m3 0h3m1 0h1m.5 0h3.5m.5 0h2.5m1 0h1m1.5 0h3m.5 0h5.5m4 0h1.5m1 0h1.5m2 0h1m1.5 0h1m2 0h1m4.5 0h1m1 0h3m.5 0h1.5m1.5 0h1m1 0h1M119.5 207h1m1.5 0h9m.5 0h3.5m3 0h1m2 0h1.5m.5 0h4m1.5 0h1m68.5 0h3.5m.5 0h2.5m1 0h3m1 0h2m1 0h1m1.5 0h1.5m.5 0h3m.5 0h3.5m1.5 0h1.5m.5 0h3m1 0h5.5m1 0h1.5m1.5 0h8.5m.5 0h1m2.5 0h5m2.5 0h2m1 0h2m.5 0h3m2 0h1m.5 0h1m.5 0h1.5m.5 0h1m1 0h1M120.5 207.5h1m.5 0h3m2.5 0h2m1 0h1m1 0h1m.5 0h1.5m3.5 0h1m.5 0h4m1.5 0h1m.5 0h1m69.5 0h1m2 0h1.5m3 0h3m.5 0h1.5m1.5 0h6m.5 0h3m.5 0h5m.5 0h1m.5 0h2.5m1 0h3m.5 0h5.5m.5 0h2m.5 0h2.5m.5 0h1.5m.5 0h2.5m.5 0h1m2 0h3m.5 0h1.5m.5 0h2m1 0h3.5m.5 0h4.5m1.5 0h4m2 0h1M122.5 208h6.5m.5 0h2m.5 0h1m1 0h1m.5 0h1.5m1 0h3.5m2 0h3m1 0h3m66.5 0h1m2 0h1.5m.5 0h1.5m.5 0h1.5m1 0h1m2 0h1m.5 0h14m.5 0h1.5m1 0h1.5m.5 0h1m1 0h4m1.5 0h4.5m.5 0h9.5m.5 0h1m1.5 0h3m5 0h2.5m1 0h2.5m.5 0h1.5m1.5 0h1m.5 0h2.5m1 0h3.5M123 208.5h5m1 0h3.5m.5 0h1m1 0h2m1 0h1m.5 0h2m1 0h1m1 0h1m1.5 0h1m72 0h1m1.5 0h2m.5 0h1m1.5 0h1m2.5 0h3.5m.5 0h3m1 0h2m.5 0h2m.5 0h1.5m1 0h11m.5 0h3m1 0h8.5m1 0h9.5m1.5 0h1.5m.5 0h5m1 0h1m2 0h4.5m2.5 0h1M122.5 209h1m1 0h2m1 0h3m.5 0h1m1.5 0h1.5m.5 0h2m.5 0h1m1 0h2m.5 0h1m.5 0h2.5m1 0h1m75 0h4m2 0h4.5m.5 0h8.5m.5 0h1m1 0h1.5m1 0h5m.5 0h5m1 0h1m2.5 0h2.5m1.5 0h4m1.5 0h1.5m.5 0h2m.5 0h3.5m1.5 0h11.5m1 0h1m1 0h1.5m1.5 0h1M122 209.5h1m2 0h1m.5 0h4.5m1 0h2.5m.5 0h1m.5 0h1.5m.5 0h1m.5 0h3m1 0h2.5m.5 0h1m1 0h1m71.5 0h1m3.5 0h3m.5 0h14.5m.5 0h1m.5 0h1m.5 0h10m.5 0h2.5m1 0h2m1.5 0h5.5m3 0h5m.5 0h2m1 0h4m.5 0h4m.5 0h2m.5 0h2m.5 0h2.5M122.5 210h1m2 0h7m1 0h5m3.5 0h2.5m.5 0h1m1 0h1m77.5 0h6m.5 0h6m.5 0h4m3.5 0h2.5m1 0h1m1 0h4m.5 0h5.5m.5 0h4m.5 0h1m.5 0h2m1.5 0h2.5m.5 0h2.5m.5 0h4.5m.5 0h7m1.5 0h1m1.5 0h2M126.5 210.5h4m.5 0h1m.5 0h3m2 0h1m83 0h1m3.5 0h1m2.5 0h1.5m1 0h3.5m.5 0h7m.5 0h4m1 0h1.5m.5 0h1m.5 0h5.5m.5 0h3.5m.5 0h3.5m1 0h1m.5 0h1m2 0h10.5m1 0h4m.5 0h5m.5 0h2m1.5 0h1m2 0h1M126.5 211h1m2 0h3m2 0h2.5m4 0h3m.5 0h1.5m77.5 0h2m3 0h1m3.5 0h1m1.5 0h8.5m2 0h1m2.5 0h1m1 0h3m.5 0h1.5m3 0h2.5m3 0h18.5m.5 0h7.5m.5 0h1M126 211.5h1m.5 0h1m.5 0h1m.5 0h1m1.5 0h2m.5 0h2.5m2.5 0h1m.5 0h1.5m.5 0h1m79.5 0h1m4 0h1m.5 0h1.5m1 0h1m1 0h6m.5 0h7.5m.5 0h6.5m2 0h3m1 0h1.5m1 0h1.5m.5 0h1m.5 0h3.5m1.5 0h2m.5 0h4m1 0h2.5m.5 0h1m.5 0h6m.5 0h1m.5 0h1m.5 0h1M129 212h3m1.5 0h4m5 0h2.5m86 0h2m.5 0h2.5m3 0h4m.5 0h1.5m.5 0h5m1 0h6m.5 0h7.5m1 0h2m.5 0h2m.5 0h1m1 0h5.5m1 0h9.5m.5 0h2M125.5 212.5h1m3.5 0h1.5m1.5 0h3m1.5 0h1m.5 0h1.5m1.5 0h3m85 0h1.5m1.5 0h6m2 0h9m1 0h1.5m1.5 0h3.5m.5 0h5m.5 0h2.5m2 0h1m.5 0h1m.5 0h2m.5 0h2m.5 0h4m.5 0h2m1 0h4.5m.5 0h1m1 0h1m.5 0h1.5M129.5 213h2.5m1.5 0h1.5m3.5 0h1m2.5 0h1.5m88.5 0h1.5m2 0h7m.5 0h12m.5 0h1m1.5 0h5.5m3.5 0h1.5m1 0h2.5m.5 0h2m1.5 0h4.5m1 0h4m.5 0h1.5m2 0h2m1 0h1M129 213.5h1m5.5 0h1m6 0h1m88 0h1m4.5 0h1.5m.5 0h2m.5 0h6.5m.5 0h1m.5 0h3m.5 0h2.5m1 0h3.5m1.5 0h4.5m.5 0h3.5m1 0h1.5m1.5 0h3m.5 0h1m1 0h2.5m.5 0h2.5m.5 0h3m.5 0h1M131.5 214h1m4.5 0h1m94.5 0h1m1.5 0h7m.5 0h6.5m1.5 0h3m2 0h1.5m1 0h1.5m1 0h2.5m.5 0h5.5m1 0h2.5m.5 0h3.5m1 0h1m.5 0h5m.5 0h1M136.5 214.5h1m95 0h1m3 0h2m.5 0h3m.5 0h3m2 0h1m.5 0h4m1.5 0h1m1 0h3m.5 0h1m1.5 0h3.5m1 0h1.5m.5 0h1m2.5 0h2m1.5 0h1m1 0h1m1 0h1m1 0h2m.5 0h1M234 215h1m.5 0h2m1 0h1m1 0h1m.5 0h1m1 0h5.5m1 0h1m1 0h2m1 0h6.5m.5 0h3.5m.5 0h1m1 0h2.5m1 0h1m.5 0h2.5m.5 0h1.5m.5 0h1m.5 0h3.5M241.5 215.5h6m2.5 0h1.5m2 0h2m.5 0h1m2.5 0h5.5m1.5 0h1m.5 0h1m1.5 0h2m1.5 0h2m1.5 0h1m1 0h3m.5 0h1.5M242.5 216h1m.5 0h2.5m1.5 0h1.5m.5 0h4m1 0h3m.5 0h1.5m1.5 0h1m1 0h2m1 0h1.5m1 0h5m.5 0h2m3 0h1.5m1.5 0h2M241 216.5h1m2 0h1m.5 0h5.5m6.5 0h1m1.5 0h1.5m.5 0h1m1 0h1m.5 0h11.5m1.5 0h2M239 217h1.5m4.5 0h1.5m3 0h2m1 0h1m2.5 0h1m2.5 0h1m1.5 0h4m1.5 0h6m.5 0h3.5m1 0h1M241 217.5h1m3.5 0h1m2 0h1m.5 0h1m3 0h1m1 0h1m.5 0h4m1 0h1m1 0h2m1 0h1m3 0h2.5m1 0h2M246.5 218h1m2.5 0h2m1 0h1m5 0h2m.5 0h1m.5 0h1m3.5 0h1m1 0h1m2 0h1m2 0h1M262 218.5h1m4.5 0h1m1 0h1m1.5 0h2m.5 0h1M250 219h1m.5 0h1m2 0h1m4.5 0h2m6 0h1M258 219.5h1m8.5 0h1" stroke="#000" stroke-width="1" fill="none"/>
<path d="M146 5.5h2M144 8.5h1m5 0h2M156 9.5h1M150 10.5h1m1 0h1M142 13.5h1m9 0h1m14 0h1m2 0h1M148 15.5h1m5 0h1M144 16.5h1m3 0h1M144 17.5h1M164 18.5h1m7 0h1m10 0h1M152 19.5h1m14 0h1m15 0h1m1 0h1M142 20.5h2m8 0h1m4 0h1m7 0h1m9 0h1M176 21.5h1m6 0h2M145 22.5h1m20 0h1m6 0h2M144 23.5h1m12 0h1m18 0h1m5 0h1M144 24.5h1m33 0h1M148 25.5h1m40 0h1M149 26.5h1m5 0h1m12 0h1m18 0h2M151 27.5h1m12 0h1m10 0h1M162 28.5h1m15 0h1m9 0h2M144 29.5h1m17 0h1m7 0h1m21 0h2m5 0h1M184 30.5h1m11 0h1M138 31.5h1m1 0h1m1 0h1m34 0h1m9 0h1M197 32.5h1m6 0h1M147 33.5h1m43 0h1m16 0h1M146 34.5h1m2 0h1m2 0h1m20 0h1m3 0h1M165 35.5h1m24 0h1M148 36.5h1m18 0h1m3 0h1m26 0h1m6 0h1m6 0h1M190 37.5h1m11 0h1m5 0h1m6 0h1M166 38.5h1m23 0h1m9 0h1m10 0h1M164 39.5h1m22 0h1m11 0h1m8 0h1M153 40.5h1m26 0h1m8 0h1m6 0h1M152 41.5h1m15 0h2m24 0h1m6 0h1M181 42.5h1m15 0h1m40 0h1M156 43.5h1m3 0h1m7 0h1m59 0h1M155 44.5h1m13 0h1m29 0h1m8 0h1m18 0h1M151 45.5h2m45 0h1m2 0h1m26 0h1M168 46.5h1m14 0h1m11 0h1m3 0h1m25 0h1m10 0h1m1 0h1M162 47.5h1m3 0h1m16 0h1m6 0h1m16 0h1m33 0h1M156 48.5h1m13 0h1m13 0h1m16 0h1m28 0h1m2 0h1m12 0h1m5 0h1M154 49.5h1m11 0h1m7 0h1m2 0h1m1 0h2m55 0h1m3 0h1m1 0h1m10 0h1m54 0h1M153 50.5h1m40 0h1m3 0h1m1 0h1m37 0h1m4 0h1M152 51.5h1m2 0h1m27 0h1m36 0h1m8 0h1m6 0h1m13 0h1M162 52.5h1m19 0h1m10 0h1m42 0h1M165 53.5h1m24 0h1m45 0h1m25 0h1M152 54.5h1m43 0h1m7 0h1m32 0h1m13 0h1m64 0h1M165 55.5h1m5 0h1m14 0h1m12 0h1m105 0h1m6 0h1M173 56.5h2m7 0h1m54 0h1m21 0h1m1 0h1M167 57.5h1m8 0h1m5 0h1m63 0h1m4 0h1m14 0h2m34 0h1M192 58.5h1m7 0h1m29 0h1m78 0h1M182 59.5h1m5 0h1m44 0h1m22 0h1m11 0h1M158 60.5h1m1 0h1m88 0h1m15 0h1M158 61.5h1m37 0h1m36 0h1m2 0h1m3 0h1m14 0h1m6 0h1m52 0h1M161 62.5h1m26 0h2m63 0h1m2 0h1m46 0h1m17 0h1M159 63.5h1m5 0h1m4 0h1m9 0h1m42 0h1m11 0h1m22 0h1m7 0h1m43 0h1m12 0h1M158 64.5h1m19 0h1m4 0h1m41 0h1m4 0h1m1 0h1m7 0h1m20 0h1m5 0h1M169 65.5h1m27 0h1m53 0h1M162 66.5h2m2 0h1m67 0h1m9 0h1m16 0h1m43 0h1M171 67.5h1m10 0h1m78 0h1M160 68.5h1m22 0h2m56 0h1m5 0h2m70 0h1M164 69.5h1m2 0h1m42 0h1m24 0h1m16 0h1m71 0h1M163 70.5h1m1 0h1m1 0h1m13 0h1m45 0h1m10 0h1m4 0h1m11 0h1m21 0h1m21 0h1m16 0h1M161 71.5h1m12 0h1m56 0h1m53 0h1M154 72.5h1m14 0h1m19 0h1m46 0h1m42 0h1m17 0h1M175 73.5h1m59 0h1m36 0h2M176 74.5h1m1 0h1m60 0h1m1 0h1m3 0h1m1 0h1m26 0h1m5 0h1M161 75.5h1m1 0h1m6 0h1m43 0h1m62 0h1m36 0h1m4 0h1M159 76.5h1m3 0h1m22 0h1m49 0h1m8 0h1m15 0h2m10 0h1m8 0h1M177 77.5h2m59 0h1m6 0h1m11 0h1m11 0h1m5 0h1M161 78.5h1m23 0h1m3 0h1m34 0h1m34 0h1m34 0h1m9 0h1M163 79.5h1m20 0h1m1 0h1m48 0h1m28 0h1m14 0h1m6 0h1m6 0h1M174 80.5h1m2 0h1m3 0h1m6 0h1m14 0h1m43 0h1m3 0h1m20 0h1M180 81.5h2m60 0h1m10 0h1m23 0h1M195 82.5h1m4 0h1m54 0h1m15 0h1M154 83.5h2m4 0h1m34 0h1m6 0h1m34 0h1m14 0h1m3 0h1m2 0h1m51 0h1m4 0h1M169 84.5h1m6 0h1m2 0h1m15 0h1m58 0h1m14 0h1M172 85.5h1m18 0h1m3 0h1m54 0h1m10 0h1m14 0h1M173 86.5h1m1 0h1m13 0h1m54 0h1m8 0h2m16 0h1m7 0h1M155 87.5h1m6 0h1m12 0h1m11 0h1m56 0h1m6 0h2m12 0h1m12 0h1m36 0h1M169 88.5h1m6 0h1m85 0h1m8 0h1m29 0h1M146 89.5h1m26 0h1m2 0h1m5 0h1m4 0h1m76 0h1m4 0h1m2 0h1M158 90.5h1m13 0h1m22 0h1m69 0h1m11 0h1m1 0h1m24 0h1M157 91.5h1m127 0h1m3 0h1m20 0h1M182 92.5h1m86 0h1m10 0h1m20 0h1M154 93.5h1m6 0h1m22 0h1m62 0h1m27 0h1M154 94.5h1m12 0h1m13 0h1m16 0h1m52 0h1m29 0h1M180 95.5h1m71 0h1m9 0h1m43 0h1M260 96.5h1m19 0h1m1 0h1m4 0h1m7 0h1m7 0h1M141 97.5h1m16 0h1m20 0h1m82 0h1m1 0h1m4 0h1M142 98.5h1m36 0h1m8 0h1m86 0h1m14 0h1M193 99.5h1m70 0h2m5 0h1m38 0h1M201 100.5h1m47 0h1m36 0h1M192 101.5h1m67 0h1m9 0h1M260 102.5h1m30 0h1m3 0h1M141 103.5h1m158 0h1M133 104.5h1m12 0h1m25 0h1m25 0h1m67 0h1m1 0h1m23 0h1M175 105.5h1m123 0h1M150 106.5h1m32 0h1m8 0h1M178 107.5h1m19 0h1m57 0h1M185 108.5h1M187 109.5h1M173 110.5h1m10 0h1M185 111.5h1m37 0h1M156 112.5h1m20 0h1M187 113.5h1M140 114.5h1M187 115.5h2M171 116.5h1m79 0h1M161 117.5h2M143 118.5h1m44 0h2M146 120.5h1m38 0h1M192 121.5h3M193 122.5h1m2 0h1M183 123.5h1m9 0h1M163 124.5h1m29 0h1M168 125.5h1m22 0h1m1 0h1M170 126.5h1m14 0h1m2 0h1M175 127.5h1M159 128.5h1m14 0h1m7 0h1m20 0h1M188 129.5h2M173 130.5h1m1 0h1M177 131.5h1M238 132.5h1M186 133.5h2m5 0h1M185 134.5h1m2 0h1M158 137.5h1m1 0h1m23 0h1M186 138.5h1m1 0h2M240 139.5h1M222 142.5h1M223 144.5h1M170 145.5h1m60 0h1M216 147.5h2M215 149.5h1M221 150.5h1M214 152.5h1m4 0h1M213 154.5h1M199 155.5h1M215 157.5h1M203 158.5h1M191 159.5h1M201 160.5h1M190 161.5h1m36 0h1M208 162.5h1M188 163.5h1m2 0h1m7 0h1m8 0h1M192 167.5h1M211 169.5h1M212 170.5h1M210 171.5h1M218 172.5h1M216 173.5h1M221 176.5h1m5 0h1M196 177.5h1m14 0h1M230 178.5h1m4 0h1M200 180.5h1M209 183.5h1M132 185.5h1M225 186.5h1M117 187.5h1m7 0h1m104 0h1M118 188.5h1m9 0h1M126 189.5h1m78 0h1M122 190.5h1M116 191.5h1m5 0h1m109 0h1m9 0h1M115 192.5h2m18 0h1m121 0h2M117 193.5h2m20 0h1M119 194.5h2m3 0h1m81 0h1m6 0h2M115 195.5h1m6 0h1m7 0h1m98 0h1m39 0h1M126 196.5h1m110 0h1M119 197.5h1m19 0h1m74 0h1m1 0h1m11 0h1m12 0h1M119 198.5h1m15 0h1m7 0h1m131 0h1m25 0h1M125 199.5h1m4 0h1m106 0h1m7 0h1m18 0h1m9 0h1m27 0h1M141 200.5h1m90 0h1M119 201.5h1m1 0h1m114 0h1m9 0h1M120 202.5h1m123 0h1m18 0h1m21 0h1m1 0h1M123 203.5h1m146 0h1M120 204.5h1m3 0h1m124 0h1m16 0h2m27 0h1M126 205.5h1m156 0h2M123 206.5h2m2 0h1m119 0h1m6 0h1m13 0h1M126 207.5h2m126 0h1m38 0h1M127 208.5h1m104 0h1m20 0h1m3 0h1m6 0h1M132 209.5h1m9 0h1m99 0h1m34 0h1M128 210.5h1m14 0h1m112 0h1m23 0h1m1 0h1M259 211.5h1m6 0h1m1 0h1M133 212.5h1m109 0h1M263 213.5h1M246 214.5h1m10 0h1m12 0h1M255 215.5h1M273 217.5h1" stroke="#3238c8" stroke-width="1.0" fill="none"/>
<path d="M150 4.5h1M157 7.5h1M144 8.5h1M146 9.5h1M144 13.5h1m3 0h1M165 14.5h1M161 16.5h1M151 17.5h1M142 18.5h1M154 19.5h1m13 0h2M160 20.5h1m10 0h1M147 21.5h1m1 0h1M146 22.5h1m6 0h1M145 23.5h1m13 0h1m18 0h1M151 24.5h1M159 26.5h1m17 0h1m8 0h1M181 27.5h2M141 28.5h1m36 0h1M143 29.5h1m22 0h1m34 0h1M177 30.5h1M143 31.5h1m15 0h1m33 0h1M160 32.5h1M181 33.5h1M170 34.5h1m7 0h1m22 0h1M199 35.5h1M145 36.5h1m1 0h1m28 0h1M193 37.5h1M150 38.5h1m63 0h1M150 39.5h1m67 0h1M152 40.5h1m13 0h1m37 0h1M176 41.5h1m15 0h1M144 42.5h1M208 43.5h1m29 0h1M168 44.5h1m10 0h1m25 0h1M167 45.5h1m1 0h1M151 46.5h1m6 0h1m2 0h1M146 47.5h1m41 0h1m15 0h1m36 0h1M168 48.5h1m11 0h1m48 0h1M155 49.5h1m26 0h1m1 0h1m8 0h1m31 0h1m24 0h1M194 50.5h1m58 0h1m4 0h1M172 51.5h1m18 0h1m7 0h1m56 0h1M204 52.5h1M232 53.5h1m31 0h1M188 54.5h1m11 0h1m2 0h1m48 0h1M167 55.5h1m138 0h1M173 56.5h1m16 0h1m123 0h1M160 57.5h1m2 0h1m68 0h1m15 0h1m6 0h1M184 58.5h1m8 0h1M165 59.5h1m36 0h1m36 0h1M184 60.5h1M167 61.5h1m9 0h1m1 0h1m8 0h1M159 62.5h1m24 0h1m41 0h1m92 0h1M189 63.5h1m48 0h1m20 0h1m41 0h1m17 0h1M170 64.5h1m14 0h1m47 0h1m29 0h1M184 65.5h1m59 0h1M171 66.5h1m31 0h1m18 0h1m30 0h1M244 67.5h1m80 0h1M181 68.5h2m72 0h1M160 69.5h1m1 0h1m7 0h1M168 70.5h1m8 0h1m1 0h1m94 0h1m1 0h1m42 0h1M174 71.5h1m4 0h1m91 0h1M175 72.5h1m74 0h1M188 73.5h1m92 0h1m1 0h1M169 74.5h1m71 0h1m19 0h1m41 0h1M180 75.5h1m5 0h2M171 76.5h2m4 0h1m2 0h1m94 0h1M172 77.5h1m2 0h1m68 0h1m69 0h1M151 78.5h1m87 0h1m14 0h1m57 0h1M223 79.5h1m52 0h1m1 0h1M165 80.5h1m7 0h1m60 0h1m21 0h1m16 0h1m48 0h1M177 81.5h1m84 0h1M173 82.5h1m17 0h1M171 83.5h1m15 0h1m58 0h1m22 0h2M161 84.5h1m10 0h1m19 0h1m47 0h1M175 85.5h1m75 0h1M161 86.5h1m9 0h1m100 0h2m11 0h1M174 87.5h1m16 0h1m42 0h1m17 0h1m18 0h1M192 88.5h1m53 0h1M157 89.5h1m5 0h1m15 0h1m83 0h1M144 90.5h1m20 0h1m6 0h1m84 0h1M177 91.5h1m24 0h1M275 92.5h1m32 0h1M150 93.5h1m22 0h1m5 0h1M175 94.5h1m82 0h1m46 0h1m3 0h1M186 95.5h1M182 96.5h1m91 0h1m1 0h1M179 97.5h1m2 0h2M253 98.5h1m2 0h1M189 99.5h1m6 0h1m4 0h1M232 100.5h1m31 0h1M185 101.5h1M298 102.5h1m8 0h1M170 103.5h1M145 104.5h1m31 0h1m6 0h1M170 105.5h1M183 106.5h1M181 107.5h1m7 0h1M187 108.5h1M175 110.5h1M173 111.5h1m88 0h1M265 113.5h1M182 114.5h1M166 115.5h1M135 116.5h1M217 117.5h1M175 118.5h1M193 120.5h1M170 121.5h1m54 0h1M164 122.5h1M192 123.5h1M171 124.5h1M178 125.5h1m15 0h1M198 126.5h1M195 127.5h1M169 128.5h1m20 0h1M194 129.5h1M172 130.5h1M192 132.5h1M244 133.5h1M178 134.5h1M194 137.5h1M164 138.5h1m22 0h1M230 141.5h1M201 144.5h1M228 146.5h1M202 149.5h1M228 151.5h1M233 153.5h1M202 156.5h1M207 158.5h1M200 160.5h1M225 161.5h1M215 162.5h1M189 163.5h1M188 165.5h1M220 169.5h1M225 171.5h1M227 176.5h1M210 177.5h1M210 178.5h1M233 180.5h1M234 183.5h1M207 186.5h1M117 187.5h1m113 0h1M134 188.5h1M126 189.5h1M127 190.5h1M117 191.5h1m11 0h1M115 192.5h1m5 0h1m114 0h1M117 193.5h1M224 194.5h1m7 0h1m12 0h1M124 195.5h1M122 196.5h1M119 197.5h1m18 0h1m161 0h1M129 198.5h1m95 0h1m21 0h1M123 199.5h1m102 0h1m59 0h1m13 0h1M138 200.5h1M121 201.5h1m15 0h1M243 202.5h1m29 0h1M277 203.5h1m2 0h1M229 204.5h1m13 0h1m18 0h1M135 205.5h1M253 206.5h2m12 0h1M140 207.5h1m92 0h1m51 0h1M133 208.5h1m118 0h1m23 0h1M256 209.5h1m8 0h1M254 210.5h1m21 0h1M250 211.5h1m37 0h1M245 213.5h1M246 214.5h1M281 215.5h1M262 219.5h1" stroke="#4c5ee8" stroke-width="1.0" fill="none"/>
<path d="M176.5 97C173 102 171.8 107.5 173 112C175 117 177.5 120.5 181 124" stroke="#4f9af0" stroke-width="2.8" fill="none" stroke-linecap="round" opacity="0.75" stroke-dasharray="2.5 0.8"/>
<path d="M176 98.5C173.4 103 172.4 107.5 173.4 111.5C174.4 114.5 175.5 116.5 177 118.5" stroke="#3cd0c4" stroke-width="2.3" fill="none" stroke-linecap="round"/>
<path d="M175.4 100.5C173.6 104 173 107.5 173.6 111" stroke="#5af08c" stroke-width="2.0" fill="none" stroke-linecap="round"/>
<path d="M76.5 543.38h1M74.5 543.88h1.5M74.5 544.38h3.5m.5 0h2m2.5 0h1M74.5 544.88h3m1 0h1m2.5 0h1.5M74 545.38h4.5m.5 0h3.5m.5 0h1M73 545.88h2m1 0h8m1 0h1M72 546.38h14M72.5 546.88h7.5m.5 0h5m2.5 0h1M72.5 547.38h13.5M72.5 547.88h10m.5 0h6M72.5 548.38h9.5m.5 0h5.5m.5 0h2.5M72 548.88h1.5m1 0h15m.5 0h1M72 549.38h2m.5 0h7.5m.5 0h7m.5 0h2M71.5 549.88h1m1 0h15.5m1 0h3m.5 0h1m1.5 0h1.5M72 550.38h8.5m.5 0h6m2 0h4m2.5 0h2M73 550.88h2m.5 0h13.5m.5 0h5.5m.5 0h3M73 551.38h4.5m.5 0h6.5m1 0h14.5M71.5 551.88h18.5m.5 0h9.5M71.5 552.38h28.5M71.5 552.88h29.5M71.5 553.38h1m.5 0h12m.5 0h8.5m1 0h7M71 553.88h10m.5 0h13.5m.5 0h7.5m.5 0h1M71 554.38h2m1 0h3m.5 0h27M71 554.88h1.5m.5 0h9m.5 0h12.5m.5 0h8.5M70.5 555.38h2.5m.5 0h21.5m1 0h1m.5 0h8.5M71 555.88h4m.5 0h10.5m.5 0h6.5m1 0h12.5m.5 0h1.5M70.5 556.38h21.5m.5 0h3m.5 0h6m1 0h2m1.5 0h2M71.5 556.88h6.5m.5 0h17.5m.5 0h8.5m.5 0h1.5m.5 0h1M71 557.38h1.5m1 0h17.5m.5 0h4m.5 0h11.5m.5 0h1M72 557.88h4.5m1.5 0h3m.5 0h14.5m1.5 0h13M71.5 558.38h3.5m1 0h1.5m1.5 0h1.5m2 0h28.5M71 558.88h8m1 0h2.5m1 0h4.5m.5 0h8.5m1 0h9m.5 0h1.5m.5 0h1.5M71 559.38h9m.5 0h10m1.5 0h1.5m.5 0h2m.5 0h12m.5 0h3.5M71.5 559.88h9.5m.5 0h4.5m.5 0h3m.5 0h1m.5 0h4.5m.5 0h10m1 0h5.5M71 560.38h7m.5 0h18.5m1 0h4m.5 0h11.5M70.5 560.88h2m1 0h2.5m.5 0h13.5m.5 0h7.5m.5 0h3m.5 0h10.5m1 0h3.5M71 561.38h4.5m1 0h9m.5 0h2.5m.5 0h3.5m.5 0h22m.5 0h1m1.5 0h1M70.5 561.88h7.5m.5 0h2m1 0h7m.5 0h4m.5 0h12m.5 0h1m.5 0h1m.5 0h5.5m.5 0h2.5m.5 0h1M70 562.38h1.5m1 0h6m1.5 0h4.5m1 0h7m.5 0h6m.5 0h11.5m.5 0h8M70 562.88h9.5m3 0h37.5M71 563.38h1.5m.5 0h6.5m1 0h4m1 0h2m.5 0h10m1.5 0h5.5m.5 0h14.5M71 563.88h9.5m1 0h1.5m1 0h1m.5 0h1.5m.5 0h13.5m.5 0h9.5m.5 0h1m.5 0h8M71 564.38h1.5m.5 0h2m1.5 0h2m.5 0h7m.5 0h2m.5 0h17m.5 0h15M75 564.88h3m.5 0h4m.5 0h2m.5 0h1m1 0h18.5m1 0h3m.5 0h11M73.5 565.38h14m.5 0h13m.5 0h6m1 0h12m.5 0h1M73 565.88h3m.5 0h10m.5 0h34.5M74 566.38h1m1 0h7m.5 0h12.5m.5 0h6m.5 0h9m.5 0h10M74 566.88h1m.5 0h11.5m.5 0h18m.5 0h6m.5 0h4.5m.5 0h3m.5 0h1m11.5 0h1.5m1 0h1M73.5 567.38h1m1 0h8m.5 0h3.5m.5 0h4.5m.5 0h6m.5 0h12m1 0h5m1.5 0h2.5m5 0h1m4.5 0h3.5m.5 0h1M73.5 567.88h24.5m.5 0h2m.5 0h10m.5 0h8m.5 0h1m6.5 0h1m.5 0h4m1 0h2.5m1 0h2.5M74 568.38h3m1 0h3.5m1.5 0h8m1 0h24.5m1 0h3m3 0h1m3 0h3.5m.5 0h3.5m.5 0h1.5m1.5 0h2M74 568.88h1m.5 0h10m2 0h5m1 0h13.5m.5 0h12.5m1 0h1m3.5 0h2m.5 0h8m1 0h4M74.5 569.38h1m.5 0h29m.5 0h11.5m.5 0h6.5m.5 0h2.5m.5 0h14m.5 0h1m1 0h1M75.5 569.88h11.5m.5 0h9m.5 0h27.5m.5 0h11m.5 0h3.5m.5 0h3m.5 0h2m28 0h1m.5 0h2M77 570.38h1m.5 0h1.5m.5 0h44m.5 0h19.5m1.5 0h1m27.5 0h3.5M76 570.88h7m.5 0h10.5m.5 0h12.5m.5 0h11.5m.5 0h1m1.5 0h1.5m1.5 0h7.5m1.5 0h11m28 0h4m.5 0h1m.5 0h1M78.5 571.38h15m1.5 0h12.5m.5 0h4m.5 0h1.5m1 0h3m1 0h2m.5 0h23.5m.5 0h1m27 0h5.5m1 0h1M78.5 571.88h26.5m2.5 0h10.5m1.5 0h7m.5 0h17.5m.5 0h3m25 0h7.5M78 572.38h7m.5 0h10.5m.5 0h10.5m1 0h6.5m.5 0h3m.5 0h4m.5 0h1m.5 0h2m.5 0h22.5m23.5 0h2m.5 0h2m2.5 0h1M77.5 572.88h1m1.5 0h7m.5 0h20m1 0h9m1.5 0h5.5m1 0h1m.5 0h19.5m.5 0h2.5m23 0h5.5m.5 0h1m.5 0h2M78.5 573.38h14.5m.5 0h10.5m.5 0h11m.5 0h1.5m.5 0h4m.5 0h17m.5 0h5.5m1 0h2m.5 0h2.5m21 0h11M79.5 573.88h8m.5 0h18.5m.5 0h3m.5 0h2m.5 0h5.5m.5 0h1.5m.5 0h9m1 0h14m.5 0h3.5m.5 0h2.5m20.5 0h12M79 574.38h18m.5 0h5m.5 0h11.5m1.5 0h1.5m3.5 0h1m.5 0h2m1 0h3m1.5 0h13.5m1 0h7m21.5 0h2m.5 0h8M78.5 574.88h3.5m.5 0h6m1 0h10.5m1.5 0h16.5m3.5 0h2.5m.5 0h4.5m.5 0h22m21.5 0h9m.5 0h1.5m1 0h1M79.5 575.38h4m.5 0h16m.5 0h14m.5 0h2m5.5 0h1m1 0h5.5m.5 0h9.5m.5 0h1m.5 0h2.5m1 0h5.5m.5 0h2.5m18.5 0h9.5m2 0h3M80 575.88h4.5m1 0h15.5m.5 0h14m.5 0h1m8.5 0h28m18.5 0h6.5m1 0h7.5M80 576.38h2m.5 0h29m1.5 0h2m1 0h1m7 0h18m.5 0h10.5m.5 0h1m17.5 0h5m1 0h9.5M79.5 576.88h1.5m1.5 0h3m.5 0h3.5m.5 0h6.5m1.5 0h17.5m1 0h1m5.5 0h1.5m.5 0h4.5m.5 0h16.5m.5 0h8m18.5 0h14M81.5 577.38h1m1.5 0h31.5m1.5 0h1m2 0h1m1 0h1m.5 0h1m.5 0h9.5m.5 0h7m2.5 0h1m.5 0h8.5m19 0h4m.5 0h4.5m.5 0h5M81.5 577.88h10m2 0h4m.5 0h11m.5 0h1.5m.5 0h1m3 0h2m2.5 0h1m1.5 0h2.5m1 0h2m.5 0h3.5m.5 0h16.5m.5 0h6m17.5 0h1m.5 0h10.5m.5 0h2.5M82 578.38h1m.5 0h4m.5 0h23.5m2 0h4m6 0h7.5m.5 0h13.5m.5 0h3m.5 0h7m17 0h4.5m1 0h9.5M82 578.88h1m2 0h12m.5 0h6.5m.5 0h9m.5 0h4.5m3 0h1m.5 0h17m.5 0h16m16.5 0h6m.5 0h8.5M82.5 579.38h1m.5 0h6m1 0h1.5m.5 0h18.5m.5 0h5m.5 0h1m.5 0h1m1 0h1m1.5 0h14.5m.5 0h1m1 0h1m.5 0h8.5m.5 0h6.5m15.5 0h16M82 579.88h1m.5 0h3m.5 0h7m1.5 0h15.5m2 0h1m.5 0h3.5m2 0h1m1.5 0h8.5m.5 0h8m.5 0h6.5m.5 0h11m16 0h9.5m.5 0h5M82.5 580.38h10m.5 0h4m.5 0h1.5m.5 0h7m.5 0h9.5m3.5 0h2.5m.5 0h2.5m.5 0h17.5m.5 0h1m.5 0h11.5m.5 0h1m15 0h1m.5 0h1.5m.5 0h13M81.5 580.88h1m1 0h6.5m.5 0h12m.5 0h8m1 0h1.5m.5 0h3.5m1 0h3m2 0h12.5m.5 0h6m1 0h1.5m.5 0h11m2.5 0h1m13 0h10.5m.5 0h4m1 0h1M82.5 581.38h11.5m.5 0h3m.5 0h5m.5 0h1m2 0h4.5m1 0h6.5m1 0h1.5m2 0h9.5m.5 0h4m.5 0h16m.5 0h1m.5 0h2m14.5 0h3m1 0h5.5m.5 0h7m.5 0h1M83 581.88h2m.5 0h4m.5 0h2m.5 0h4.5m.5 0h5m.5 0h1.5m.5 0h5.5m.5 0h6.5m4.5 0h6.5m.5 0h15m1 0h8.5m.5 0h2.5m1.5 0h1m12.5 0h3m.5 0h7m.5 0h8.5M82.5 582.38h22.5m.5 0h3.5m.5 0h1m1 0h6.5m5 0h14.5m.5 0h11.5m.5 0h8m.5 0h2m11.5 0h1m.5 0h1m1 0h7m1.5 0h4.5m.5 0h2M82.5 582.88h1m.5 0h16.5m.5 0h1m.5 0h8.5m2 0h5.5m4.5 0h2m1 0h7m1.5 0h8m1 0h9m1 0h1m.5 0h1m.5 0h5.5m9.5 0h2m.5 0h8.5m.5 0h7.5M83 583.38h16.5m.5 0h2m1 0h2m.5 0h5m1 0h7.5m5.5 0h1m.5 0h15.5m.5 0h2.5m.5 0h9.5m.5 0h4m.5 0h1.5m10 0h1m.5 0h19M83.5 583.88h13.5m.5 0h9.5m.5 0h2m.5 0h2.5m1 0h6.5m5 0h11.5m1 0h5m1.5 0h2.5m.5 0h14.5m11.5 0h1m.5 0h4m.5 0h12M82.5 584.38h1m1.5 0h16.5m.5 0h6m1 0h2m2.5 0h4m1 0h2m1 0h1m2 0h37.5m8.5 0h9m1 0h10M83.5 584.88h22m.5 0h1m.5 0h3m3.5 0h1.5m1.5 0h5m2.5 0h5m1.5 0h4.5m.5 0h4.5m.5 0h3m.5 0h5m.5 0h13m7 0h8m1 0h2m1.5 0h7m.5 0h1.5M82 585.38h1.5m1 0h13m1 0h3m1 0h1m.5 0h3m1 0h3.5m2 0h2.5m.5 0h3.5m5 0h10m1 0h6.5m1 0h5m.5 0h2m.5 0h4.5m.5 0h6.5m1 0h1m5.5 0h10m1 0h6.5m.5 0h2.5M81.5 585.88h8m.5 0h4m.5 0h5.5m3 0h2m.5 0h1m1 0h1m4.5 0h7m5.5 0h3.5m.5 0h6.5m.5 0h5.5m1 0h8m.5 0h6m.5 0h1.5m.5 0h4.5m5.5 0h5.5m1 0h1m.5 0h1m.5 0h10m.5 0h1M80.5 586.38h9m1 0h11m.5 0h7m2.5 0h2m1.5 0h1m.5 0h2m2.5 0h1.5m2.5 0h7m.5 0h4.5m1 0h5.5m1.5 0h14m1 0h3m.5 0h1.5m4.5 0h1m1 0h5.5m1 0h2.5m.5 0h10M79.5 586.88h2.5m1 0h16m1 0h6m.5 0h2m1.5 0h2m3 0h2m1 0h2m1 0h1m.5 0h2m1 0h7.5m1 0h5m.5 0h4.5m1 0h4.5m1.5 0h3m.5 0h4m.5 0h7m1.5 0h1m.5 0h1m.5 0h11m.5 0h7.5M79.5 587.38h2.5m.5 0h16.5m.5 0h3.5m.5 0h2m.5 0h3m.5 0h3m2.5 0h5.5m.5 0h1m.5 0h1.5m1 0h17m1 0h15.5m.5 0h6.5m1.5 0h3.5m.5 0h5m.5 0h4m.5 0h1.5m.5 0h4m.5 0h2m.5 0h1M79.5 587.88h2.5m.5 0h22.5m1.5 0h1m2.5 0h3m3 0h4m2 0h2m1 0h11m.5 0h1.5m.5 0h1.5m.5 0h1m.5 0h22.5m2 0h21m.5 0h1.5M78.5 588.38h9m.5 0h1m1 0h1m.5 0h7m1 0h7m1 0h1m.5 0h4m2.5 0h4.5m2.5 0h11.5m.5 0h3.5m.5 0h15.5m.5 0h18m1 0h5.5m.5 0h4.5m3 0h3M81 588.88h24.5m1.5 0h1m2 0h2.5m3 0h1m.5 0h3m2 0h1m1 0h9.5m1 0h12.5m.5 0h5.5m1 0h1.5m.5 0h14m.5 0h1m.5 0h5.5m1.5 0h5.5m.5 0h1.5m1 0h2m1 0h1M77.5 589.38h1m1 0h3m.5 0h13m1 0h3.5m.5 0h2.5m.5 0h1m2.5 0h2m.5 0h3.5m2.5 0h4.5m1.5 0h7m.5 0h13.5m1 0h18.5m2 0h6.5m1 0h1m.5 0h2.5m.5 0h2m2 0h5.5m.5 0h3.5M76 589.88h5.5m1.5 0h1m.5 0h4.5m.5 0h10.5m.5 0h6m1 0h7m2.5 0h1.5m3.5 0h21m.5 0h4.5m.5 0h22m3 0h1m1.5 0h7.5m1 0h2.5m1.5 0h1M76 590.38h11.5m1 0h2.5m1 0h11.5m1.5 0h2m1 0h1m.5 0h3m.5 0h2.5m2 0h2.5m2 0h5.5m.5 0h32m.5 0h10m.5 0h1m1 0h1m1.5 0h9.5m.5 0h2.5M75.5 590.88h13m1.5 0h9.5m.5 0h2.5m1 0h1m1.5 0h7m1.5 0h1m1.5 0h1.5m1 0h1m2 0h1m1 0h2.5m1 0h11m.5 0h2m.5 0h1.5m.5 0h1.5m.5 0h1.5m.5 0h11.5m.5 0h1.5m1.5 0h3m.5 0h7.5m1 0h12.5M74.5 591.38h1m.5 0h6m.5 0h3.5m1 0h1.5m1 0h1m1 0h7.5m.5 0h1m1 0h1m2 0h5m.5 0h5.5m1.5 0h4m.5 0h1m.5 0h5m1 0h21.5m.5 0h11.5m1.5 0h2m1.5 0h5.5m1 0h1m1 0h3m1.5 0h1m.5 0h5.5M74.5 591.88h11.5m5 0h10m.5 0h1m1.5 0h15.5m.5 0h2.5m1 0h2m.5 0h2m1 0h1m.5 0h16m1 0h4m2.5 0h7.5m3.5 0h11m.5 0h5.5m.5 0h5M74 592.38h1.5m.5 0h3.5m1 0h6.5m4 0h8.5m.5 0h2m2 0h4.5m1 0h7m2 0h11m2 0h2.5m.5 0h12m.5 0h4m.5 0h3.5m.5 0h9m1 0h3m.5 0h6m.5 0h1m.5 0h2m.5 0h2.5m.5 0h4M74 592.88h3.5m2.5 0h3.5m.5 0h4.5m3 0h4m.5 0h6m2 0h5.5m.5 0h7m3 0h7.5m.5 0h1m.5 0h1m1 0h2m.5 0h11.5m.5 0h8.5m.5 0h8.5m3 0h1m.5 0h7.5m1 0h10.5M74.5 593.38h5m1.5 0h1.5m3 0h2m1 0h1m1 0h1.5m.5 0h1m.5 0h4m.5 0h2m.5 0h1m2 0h10.5m5.5 0h9m2.5 0h24m.5 0h6.5m2 0h2.5m2 0h4.5m3 0h8m.5 0h1M74 593.88h1m.5 0h2m1.5 0h9.5m1.5 0h7.5m1.5 0h1.5m2.5 0h3m.5 0h4m1 0h3m.5 0h1m5.5 0h2m1.5 0h1.5m.5 0h3m.5 0h16m1 0h10m.5 0h6.5m3.5 0h3.5m.5 0h3.5m.5 0h1.5m.5 0h4m1 0h3M75 594.38h1.5m.5 0h1.5m1.5 0h3m.5 0h1.5m.5 0h4.5m1 0h6.5m.5 0h2m1 0h7.5m2.5 0h2.5m1 0h1m.5 0h2m4.5 0h2m1.5 0h1m2.5 0h1m.5 0h11m.5 0h5m.5 0h4m.5 0h1m1 0h2.5m.5 0h7.5m.5 0h2m1 0h2.5m1 0h2.5m.5 0h1.5m.5 0h5m.5 0h2.5m.5 0h1M73.5 594.88h1m1.5 0h2.5m1 0h6.5m1.5 0h13.5m.5 0h7m1 0h1m1.5 0h1.5m1.5 0h1m1 0h1m4.5 0h1m5.5 0h2m.5 0h1.5m2 0h5m.5 0h2m.5 0h12m.5 0h9m.5 0h1m2 0h1m2.5 0h8m.5 0h1m1.5 0h2.5M74 595.38h2.5m.5 0h1.5m.5 0h3m.5 0h1m1 0h2.5m1.5 0h5m.5 0h2.5m1 0h1m.5 0h1m.5 0h6m.5 0h1.5m3 0h2.5m16 0h1m.5 0h2m2 0h5m.5 0h4m.5 0h11m1.5 0h6.5m3.5 0h2.5m1 0h3m1 0h10M72 595.88h14m1 0h11.5m.5 0h8m1 0h1m4 0h2m1 0h1.5m2 0h1m.5 0h1.5m3 0h1m5 0h1m.5 0h7.5m.5 0h25m1.5 0h2m.5 0h8m1.5 0h5M71.5 596.38h4m1 0h1.5m1.5 0h2.5m1.5 0h2m.5 0h1.5m.5 0h10m.5 0h4.5m.5 0h5m4.5 0h1m14.5 0h2m2 0h1m.5 0h19m1.5 0h11m5 0h1m3 0h10M70 596.88h4.5m.5 0h1.5m.5 0h1m2.5 0h1m1 0h3.5m.5 0h2m1 0h4.5m.5 0h3m.5 0h5m2 0h3m7 0h1.5m.5 0h1m10 0h1m2.5 0h1.5m.5 0h1m.5 0h5m1 0h3.5m.5 0h21.5m2.5 0h14.5M69.5 597.38h3.5m.5 0h6.5m.5 0h1m1 0h2m.5 0h1.5m1.5 0h2m.5 0h5m1 0h1m.5 0h4.5m.5 0h3m1 0h1m8.5 0h1m1.5 0h1m5.5 0h1m2 0h2m1 0h4.5m.5 0h6.5m.5 0h3.5m1 0h18m4 0h14.5M70.5 597.88h5m1 0h1m2 0h1.5m1 0h4.5m1.5 0h2m.5 0h5m1 0h5.5m1.5 0h2.5m3 0h2m5 0h3m9.5 0h3m1.5 0h6m.5 0h5m.5 0h6.5m1 0h6m.5 0h9m3 0h1m1 0h7.5m.5 0h2.5M69.5 598.38h10.5m.5 0h2.5m.5 0h19m.5 0h4.5m.5 0h1.5m6 0h4.5m3 0h1m2.5 0h1m1 0h1m4.5 0h13m.5 0h5m.5 0h14.5m3.5 0h1m.5 0h10.5M69 598.88h14.5m.5 0h4.5m.5 0h3m.5 0h1.5m.5 0h2m.5 0h5.5m.5 0h1.5m1.5 0h4.5m.5 0h1m4.5 0h3m2.5 0h1m1 0h2m2 0h3m2.5 0h6m1 0h3m.5 0h2m.5 0h13.5m.5 0h1m.5 0h5m3.5 0h1m.5 0h1m.5 0h9M69.5 599.38h1m.5 0h8.5m.5 0h3m2 0h11m.5 0h5.5m1 0h1.5m3 0h2m4.5 0h1m4 0h1.5m4.5 0h7m.5 0h9m.5 0h9.5m1 0h1m.5 0h8.5m.5 0h5m1 0h8.5m.5 0h4.5M67.5 599.88h2.5m.5 0h6m.5 0h1m.5 0h1m.5 0h1.5m1 0h5.5m1 0h3.5m.5 0h1m.5 0h7.5m1 0h1.5m1 0h1m1 0h2.5m.5 0h1m1.5 0h2m3 0h2.5m4.5 0h3m1 0h1.5m2 0h1m1 0h1.5m.5 0h18.5m.5 0h11.5m.5 0h2m1 0h1m1 0h6m.5 0h1.5m.5 0h1.5M68 600.38h13.5m1 0h2.5m2 0h1m.5 0h6.5m1 0h6m1.5 0h1.5m.5 0h3.5m1 0h1.5m.5 0h2m4 0h3m6 0h1m2 0h1m4.5 0h2m4 0h16.5m1 0h2.5m.5 0h9m1.5 0h9.5M71 600.88h5.5m2 0h1m1.5 0h1m.5 0h2.5m.5 0h2m1 0h3m1.5 0h2m.5 0h1.5m.5 0h7.5m1.5 0h2m.5 0h6m.5 0h3m.5 0h1m9.5 0h1.5m8 0h11.5m1 0h1m.5 0h5.5m.5 0h9.5m2.5 0h10m.5 0h1M68 601.38h2m1 0h4.5m4 0h2m2.5 0h3.5m.5 0h1m.5 0h5m2 0h16m1.5 0h5.5m7 0h2m.5 0h2m6 0h1m1.5 0h1.5m1 0h17m.5 0h3.5m.5 0h5.5m2 0h8m.5 0h1m.5 0h1M66.5 601.88h1m1.5 0h7.5m6.5 0h2m.5 0h1m2 0h1m.5 0h4.5m2 0h8.5m.5 0h8.5m.5 0h1m2 0h1.5m4 0h1m6 0h1m6 0h1m1.5 0h40m.5 0h2.5M68.5 602.38h7.5m5.5 0h1m1 0h3.5m3 0h1m2 0h1m1 0h1m1.5 0h7m1.5 0h2m1.5 0h4m1 0h2.5m.5 0h2m8.5 0h2.5m1 0h2.5m2.5 0h1m.5 0h1m.5 0h3m.5 0h7.5m.5 0h12m2 0h4m.5 0h1.5m.5 0h11M67.5 602.88h3m.5 0h4.5m2.5 0h1m1.5 0h1m1 0h1m.5 0h2.5m1.5 0h1m.5 0h1m2 0h2.5m2.5 0h7m1 0h6m.5 0h1m1.5 0h1m.5 0h1.5m1 0h1m9 0h1.5m2.5 0h1m4 0h1m.5 0h3m1.5 0h3.5m.5 0h5m1 0h6.5m2.5 0h5m.5 0h7m.5 0h8.5M66 603.38h4.5m1 0h4m1 0h1m.5 0h1m1.5 0h1.5m1.5 0h1m8.5 0h1m1 0h1m.5 0h1m.5 0h3.5m1 0h4m1 0h1m.5 0h1m1 0h3m11.5 0h1m1.5 0h1m1 0h2.5m4 0h9.5m.5 0h1m1 0h13m2 0h1m.5 0h2.5m.5 0h14M65.5 603.88h4.5m.5 0h5.5m1 0h1m.5 0h1m.5 0h2.5m1 0h6m3.5 0h2m1.5 0h8m1.5 0h1m.5 0h3m2.5 0h1.5m1.5 0h1.5m2.5 0h1m2.5 0h1m1 0h1m.5 0h1.5m2 0h2m.5 0h1m5 0h3.5m1 0h1m.5 0h15.5m3 0h1m1 0h16M66.5 604.38h5m.5 0h5.5m1.5 0h1m2.5 0h1m1 0h2.5m1 0h4.5m.5 0h1m1 0h1m1.5 0h8m1 0h1m1 0h2m.5 0h2m3 0h2.5m.5 0h3.5m2 0h1m2.5 0h2m2.5 0h1m5 0h12m.5 0h1.5m2 0h5m5 0h2m.5 0h7.5m.5 0h2m1 0h4M65.5 604.88h6m1 0h3m.5 0h1m1 0h3m1.5 0h1m1.5 0h2m.5 0h3m.5 0h2.5m1 0h1.5m2 0h5.5m.5 0h5m1.5 0h1.5m4.5 0h2m.5 0h1.5m2.5 0h1m2 0h2m6.5 0h1m2.5 0h2m1 0h3.5m.5 0h5.5m.5 0h6m2 0h2m3 0h12.5m1 0h4.5M64.5 605.38h1.5m.5 0h3m1 0h3.5m1.5 0h1.5m.5 0h1m.5 0h1m1.5 0h1m1 0h1m.5 0h1m1.5 0h1.5m3 0h5m.5 0h1m1 0h7.5m1 0h1.5m2 0h1m4 0h2m1 0h1.5m1.5 0h2.5m1.5 0h1m10.5 0h1m.5 0h2.5m1 0h10.5m12 0h2.5m.5 0h8.5m1 0h2.5M66 605.88h2m.5 0h4.5m1 0h1.5m.5 0h4.5m.5 0h1.5m1 0h1m.5 0h1.5m5 0h5.5m.5 0h8m.5 0h6.5m4 0h1m1 0h1m2.5 0h1.5m2.5 0h1m3.5 0h1m2 0h2m3.5 0h1m.5 0h1m3.5 0h3m.5 0h7m1 0h2m6 0h3m1 0h6m1 0h6M65 606.38h7.5m3 0h3m.5 0h3m4 0h1m3 0h13.5m.5 0h3.5m1 0h1m.5 0h1m1.5 0h1.5m3.5 0h1m1 0h1m1.5 0h2.5m.5 0h1.5m2 0h1m2.5 0h1.5m4.5 0h1m1 0h1.5m1 0h6m.5 0h7m8.5 0h1m.5 0h1.5m2 0h4.5m.5 0h1.5m2 0h3.5M64 606.88h5m.5 0h1m.5 0h1m4 0h4.5m1 0h1m2.5 0h2m2.5 0h2m1.5 0h15m2 0h1m.5 0h1m1.5 0h1m2.5 0h3m.5 0h1m.5 0h1m.5 0h1.5m1.5 0h1m2.5 0h1m2.5 0h4.5m1 0h2m1 0h1m.5 0h7m1 0h1m1 0h2.5m8 0h1m2.5 0h3m1 0h1m4.5 0h1M64 607.38h4.5m.5 0h5m1 0h1m.5 0h3m1 0h2m2.5 0h1m.5 0h1m2 0h1m1 0h3m1 0h1.5m1 0h5m1 0h2m1.5 0h1.5m2 0h3.5m2 0h2.5m.5 0h1m1 0h3m3 0h1.5m1.5 0h3m1.5 0h1m8 0h3.5m3 0h5.5m9 0h1m1 0h2.5m1.5 0h2.5m1.5 0h1M66 607.88h2.5m.5 0h2.5m2 0h9.5m6 0h4.5m.5 0h13m.5 0h1.5m1.5 0h1.5m.5 0h1m1 0h1.5m1 0h1.5m1 0h2m2 0h3.5m4.5 0h1m.5 0h1m3 0h1.5m1 0h1m2 0h8m.5 0h1m.5 0h3.5m8.5 0h6m.5 0h1.5m1.5 0h1M66.5 608.38h8m2 0h1m1 0h3.5m3 0h1m.5 0h1m.5 0h5.5m2 0h12m11.5 0h1m2.5 0h1.5m.5 0h3m4.5 0h2m.5 0h1m.5 0h1m.5 0h1m.5 0h1m1.5 0h1m2 0h2.5m.5 0h5m.5 0h3m8.5 0h7M65 608.88h11.5m.5 0h1m2 0h2.5m.5 0h1m2.5 0h1m2.5 0h1m.5 0h2.5m.5 0h1m.5 0h7m1.5 0h3.5m1.5 0h2m1 0h1m.5 0h1.5m.5 0h2m.5 0h2.5m2 0h2m1.5 0h2m10.5 0h1.5m1.5 0h1m1.5 0h1m1 0h9m9.5 0h1m1 0h4.5m2.5 0h1M65 609.38h11.5m.5 0h1m3.5 0h3.5m1.5 0h1m4.5 0h3m.5 0h1m1 0h4.5m.5 0h1m.5 0h1m1 0h2.5m1 0h1.5m4 0h1m3.5 0h3.5m2 0h1.5m12 0h1m5 0h2.5m1 0h1.5m.5 0h5.5m10.5 0h5m1.5 0h1M65.5 609.88h5m.5 0h6.5m2.5 0h1m.5 0h3m1 0h2m3.5 0h3m.5 0h10.5m.5 0h2.5m1.5 0h2m2 0h1m1 0h2.5m4 0h1.5m.5 0h2.5m2.5 0h1m8 0h1m1.5 0h5.5m.5 0h1m4 0h3m10.5 0h5M66 610.38h11.5m4 0h2.5m.5 0h1.5m1.5 0h1m4 0h15m1 0h1.5m4.5 0h3m.5 0h1.5m2 0h3.5m5 0h2m6.5 0h1.5m1 0h1m1 0h3.5m1 0h6.5m13.5 0h4m.5 0h1M65.5 610.88h1.5m1 0h1m2 0h4m1 0h1.5m6.5 0h5m3 0h3.5m2 0h2.5m1.5 0h2.5m2.5 0h1m3 0h1m3.5 0h2.5m.5 0h1.5m2.5 0h3m13.5 0h3.5m.5 0h2.5m.5 0h3.5m1 0h2.5m13 0h3.5m.5 0h1M66 611.38h5m.5 0h4m.5 0h1m6.5 0h1m.5 0h1m1 0h2m4 0h2.5m.5 0h1m2 0h1m.5 0h4m2 0h3.5m1 0h1m.5 0h1m.5 0h3m1 0h2m1 0h1m1 0h1m.5 0h2m4 0h1m5 0h13.5m.5 0h1.5m16 0h3.5M66 611.88h5.5m.5 0h1.5m.5 0h2.5m1 0h1m2.5 0h1m.5 0h5m.5 0h2.5m1 0h5m.5 0h5m.5 0h1m9 0h1m2 0h2m1.5 0h1m.5 0h1m15 0h1m1 0h2.5m.5 0h9m2 0h1m12 0h2M66 612.38h3.5m.5 0h1m.5 0h4.5m4.5 0h8m.5 0h3m.5 0h2m.5 0h1m1.5 0h8.5m2.5 0h1m3 0h1m5 0h1m2.5 0h1.5m16 0h1m.5 0h5.5m1 0h1.5m1.5 0h1m14.5 0h1m2.5 0h1M68 612.88h1.5m.5 0h7m3 0h1m1 0h2.5m.5 0h7m.5 0h2.5m2.5 0h1m.5 0h7m1.5 0h1m4.5 0h1m3.5 0h3.5m.5 0h2m17 0h7.5m17 0h3.5M67 613.38h8.5m5 0h2.5m1.5 0h1.5m.5 0h7m.5 0h2m1.5 0h7.5m.5 0h2.5m.5 0h1.5m1 0h1m7.5 0h1m2.5 0h1m5 0h1m3.5 0h1m4.5 0h2m1.5 0h6m17 0h1m2.5 0h1M69 613.88h8m3.5 0h2m2.5 0h1.5m2 0h5m1.5 0h1m.5 0h9.5m.5 0h3.5m.5 0h1.5m7 0h1m.5 0h1m7 0h1m5 0h1m2.5 0h5.5m1 0h3.5M68 614.38h11.5m.5 0h1m1.5 0h1m2 0h1m2 0h5m2 0h6m1 0h5m.5 0h1.5m.5 0h1m.5 0h1m6 0h1m1 0h1m.5 0h1m5.5 0h1m1.5 0h1m1.5 0h2m2.5 0h3.5m.5 0h5.5M69 614.88h9m5 0h1m.5 0h3m1 0h3.5m.5 0h1m4 0h1m.5 0h2m.5 0h8.5m.5 0h1m.5 0h1m5.5 0h1m1 0h1m1 0h1m7 0h1m4.5 0h6m.5 0h5m1 0h1M72.5 615.38h1.5m.5 0h5m1 0h3.5m1 0h1m1.5 0h3m.5 0h1.5m1 0h1m2.5 0h3.5m.5 0h9.5m.5 0h1m7.5 0h1.5m.5 0h2m2.5 0h1.5m3.5 0h1m2.5 0h1m1 0h3.5m.5 0h6m.5 0h1M70 615.88h1m.5 0h7.5m1.5 0h1m2 0h1m2.5 0h1.5m.5 0h6.5m1.5 0h3.5m.5 0h1m1.5 0h4m.5 0h3.5m6 0h1m4 0h2.5m2 0h1m2 0h1m3 0h1m.5 0h2.5m.5 0h8m2 0h1M70.5 616.38h1.5m1 0h7m.5 0h2m1.5 0h1.5m1.5 0h10.5m.5 0h12.5m2.5 0h1.5m2.5 0h3m1 0h1m1.5 0h1m.5 0h3m1 0h1m4 0h4.5m3 0h3.5m1.5 0h1m1 0h1M70 616.88h3m.5 0h6.5m2 0h1m1.5 0h1m1.5 0h3m.5 0h4.5m.5 0h1.5m.5 0h13m6.5 0h2m1 0h4.5m.5 0h1m2 0h1m6 0h1m.5 0h1.5m4 0h1.5m1.5 0h1.5m12 0h1m2 0h1m.5 0h1M74 617.38h6.5m7 0h2.5m.5 0h20m3 0h1m8 0h3.5m3.5 0h1m4 0h4m.5 0h3m.5 0h3.5m.5 0h2m1.5 0h1m.5 0h1.5m5.5 0h1m2.5 0h1M71 617.88h1m1.5 0h7.5m6.5 0h8.5m1 0h4.5m.5 0h9m4 0h1m2 0h1m5 0h1m9 0h1m1 0h4.5m.5 0h2m2 0h7.5m10.5 0h1M72.5 618.38h9m4 0h1m1 0h1.5m.5 0h4m.5 0h1.5m.5 0h2m1 0h15.5m16 0h1m2.5 0h1m2 0h2m1 0h1m1 0h1m1 0h2.5m5 0h1m1.5 0h1.5m1.5 0h1m1.5 0h2.5M72.5 618.88h9m1.5 0h1m2.5 0h10m1.5 0h17.5m1.5 0h1m6.5 0h1m5.5 0h1m6.5 0h7.5m1 0h1m2.5 0h2m2.5 0h1m5.5 0h1m1.5 0h1M73.5 619.38h3.5m.5 0h5.5m1.5 0h28.5m2.5 0h1m14 0h3m.5 0h1m2.5 0h4m.5 0h4m2.5 0h1m1.5 0h1m3.5 0h2m2.5 0h1M74.5 619.88h1m1.5 0h4.5m.5 0h15.5m.5 0h14.5m5.5 0h1m11 0h1m.5 0h1m1 0h1m3 0h3.5m.5 0h3.5m4 0h1m3 0h1m.5 0h1m1.5 0h1M77 620.38h13.5m1 0h3.5m2 0h15.5m.5 0h1m5 0h1m9 0h5.5m2.5 0h5.5m.5 0h1.5m.5 0h1m2.5 0h1m5 0h1m8 0h1M77.5 620.88h1.5m1.5 0h3m1 0h7.5m.5 0h2m1 0h6m1 0h11m3.5 0h2m10.5 0h5m2.5 0h7.5m3.5 0h1m.5 0h1m1 0h1m3.5 0h1M77 621.38h2m.5 0h3.5m1.5 0h10.5m1 0h3m1 0h1m.5 0h7.5m.5 0h7m.5 0h2m8.5 0h1m2 0h1.5m.5 0h3m1 0h5.5m3.5 0h1m.5 0h4m.5 0h1m.5 0h1.5M77 621.88h1.5m.5 0h3m.5 0h5.5m1 0h6m1 0h1m.5 0h4m.5 0h1m2 0h1.5m.5 0h1m.5 0h3m1.5 0h2.5m.5 0h1m.5 0h2m8 0h1m1.5 0h1m3.5 0h2m.5 0h5m.5 0h2.5m3.5 0h2m1.5 0h1M76.5 622.38h1.5m.5 0h4.5m1 0h1.5m.5 0h1m.5 0h3m.5 0h3m2 0h9.5m.5 0h10.5m.5 0h3m3 0h1m2 0h2.5m1.5 0h1.5m3 0h7.5m4 0h1m1 0h3m3.5 0h1M79 622.88h6m.5 0h1m.5 0h1.5m.5 0h3.5m.5 0h23m1.5 0h1m.5 0h2.5m.5 0h1m2.5 0h4m3.5 0h1.5m.5 0h5m.5 0h2m4 0h1m.5 0h2m4.5 0h1m1 0h1M78.5 623.38h1m1.5 0h5.5m2 0h2.5m1 0h3m.5 0h12.5m1 0h8.5m.5 0h3m2 0h1m1.5 0h4m5 0h6.5m4.5 0h2.5m1 0h1m5.5 0h1M80.5 623.88h1m1 0h3.5m1 0h2m1.5 0h1m.5 0h13m.5 0h2.5m.5 0h8m2.5 0h1.5m1 0h1.5m3.5 0h2.5m.5 0h1m1.5 0h1m1.5 0h7m8 0h1m2 0h1M81 624.38h7m1 0h1.5m1 0h18.5m.5 0h9m6 0h1m2 0h2m1.5 0h1m.5 0h1m1.5 0h4m.5 0h1m6 0h1m.5 0h1.5M81.5 624.88h5.5m.5 0h1m.5 0h1.5m1 0h12.5m.5 0h2m.5 0h4m3.5 0h4.5m.5 0h1.5m.5 0h1m3 0h1.5m1 0h2.5m.5 0h1m.5 0h2m.5 0h5.5m4.5 0h1m6 0h1M81 625.38h8.5m1.5 0h7m.5 0h3.5m1 0h6.5m.5 0h8m3 0h1.5m7.5 0h1m.5 0h2m.5 0h6m7.5 0h3M81 625.88h8.5m2 0h3m4 0h5m.5 0h6m.5 0h1m1 0h2m1 0h3m2.5 0h1m.5 0h1m5.5 0h2m1 0h1m1.5 0h4.5m.5 0h1m5 0h1m2 0h1M80.5 626.38h1m.5 0h1m.5 0h4m.5 0h1m1 0h1m.5 0h1m5 0h15m.5 0h2m.5 0h3m.5 0h1m1.5 0h1.5m.5 0h1m5.5 0h1m.5 0h3m.5 0h4.5m10.5 0h1M83 626.88h6.5m.5 0h2m1 0h1m3.5 0h6.5m1 0h4.5m.5 0h1m.5 0h1m2 0h5m.5 0h1m2.5 0h1.5m4 0h4.5m1 0h3m5.5 0h2m2 0h1M83.5 627.38h7m1.5 0h2.5m4 0h3.5m1 0h4m1.5 0h2.5m.5 0h1m2.5 0h4m1 0h2m.5 0h1m.5 0h2m3.5 0h4.5m1 0h1.5m8 0h1M85 627.88h3m1 0h1m.5 0h2m1 0h2m2.5 0h7.5m1.5 0h3m.5 0h2m.5 0h1m1 0h1m.5 0h5m1 0h1m.5 0h1.5m2.5 0h1m1 0h7m6 0h3M85.5 628.38h2.5m1 0h3.5m.5 0h3m3 0h5.5m1.5 0h3.5m.5 0h3.5m1.5 0h11m2 0h1m.5 0h7m6.5 0h2m.5 0h1M86.5 628.88h2.5m.5 0h1.5m.5 0h5m3 0h4m.5 0h1m2.5 0h1m.5 0h4m1 0h2m.5 0h6.5m.5 0h3m1 0h9m8 0h1m.5 0h1M87 629.38h5.5m1 0h2.5m5 0h4m1.5 0h3m1 0h2m.5 0h1m2.5 0h3.5m.5 0h2.5m.5 0h2m2.5 0h3.5m1.5 0h4m6 0h1M87.5 629.88h1m.5 0h6m2 0h3.5m6 0h1m2 0h5.5m1.5 0h2m1 0h1m2.5 0h1m2.5 0h3m1 0h3.5m1 0h1m7.5 0h1M89.5 630.38h5m3 0h2m2.5 0h1m1 0h3m.5 0h1m1 0h5m1.5 0h3.5m.5 0h1m.5 0h1m.5 0h1m.5 0h1m1 0h1.5m2 0h3m1 0h3M88.5 630.88h1m1.5 0h2.5m1 0h1.5m1 0h4m4 0h2.5m.5 0h4.5m.5 0h6m1 0h1.5m4 0h1m.5 0h4m1 0h1.5m1 0h1M90.5 631.38h5.5m1.5 0h3.5m.5 0h1m2.5 0h5.5m.5 0h7.5m.5 0h7m1.5 0h1.5m.5 0h1.5m1 0h1m2 0h1M90 631.88h5.5m.5 0h5.5m3 0h5.5m1.5 0h6m1.5 0h3m.5 0h1.5m.5 0h6.5m1.5 0h2m.5 0h1M91.5 632.38h4.5m.5 0h5.5m.5 0h4.5m.5 0h4m1 0h4.5m1.5 0h1.5m.5 0h2.5m.5 0h7.5m1.5 0h3M91 632.88h9.5m.5 0h4.5m1.5 0h4m.5 0h5m1.5 0h13m2.5 0h1.5M91.5 633.38h9.5m1.5 0h1m.5 0h2m.5 0h5m.5 0h15.5m.5 0h5m1 0h1M93.5 633.88h9.5m3.5 0h4.5m.5 0h10.5m.5 0h12M93.5 634.38h7m.5 0h1m4 0h1m.5 0h17m1 0h8.5M94 634.88h11m1.5 0h9m.5 0h1.5m1.5 0h14m.5 0h1M94 635.38h7.5m2.5 0h1.5m1.5 0h6m2.5 0h1m.5 0h2m1 0h12.5m.5 0h2M95 635.88h9m1 0h13.5m1 0h14m.5 0h1M96 636.38h6.5m.5 0h1m2 0h2.5m.5 0h10m.5 0h14M95 636.88h3.5m1 0h1m1 0h1.5m3 0h10.5m.5 0h10.5m.5 0h3m1.5 0h1M95 637.38h1m.5 0h2m2.5 0h27.5m1.5 0h2.5M96.5 637.88h1m1.5 0h2m.5 0h9m.5 0h1.5m1 0h18.5M98 638.38h1.5m.5 0h4m.5 0h3.5m.5 0h1m.5 0h4m.5 0h8.5m.5 0h2m.5 0h6M100.5 638.88h2m1 0h3.5m.5 0h1m1 0h2m.5 0h3m.5 0h7.5m.5 0h3m.5 0h3m1.5 0h1M100 639.38h1.5m1.5 0h4m1.5 0h11.5m.5 0h2m1 0h5M101 639.88h7.5m1 0h4.5m.5 0h12m.5 0h3.5M99.5 640.38h1m.5 0h20.5m.5 0h3.5m.5 0h4.5M100 640.88h9.5m.5 0h17.5m1 0h2M99.5 641.38h9.5m.5 0h4.5m1 0h15.5M101.5 641.88h20m.5 0h8.5M100.5 642.38h12.5m.5 0h11.5m.5 0h5M101 642.88h10m.5 0h1m.5 0h1m.5 0h16.5M102 643.38h5.5m2.5 0h1.5m1.5 0h11m.5 0h4m.5 0h1M102 643.88h6m2.5 0h1.5m.5 0h1.5m3 0h11.5m1 0h2.5M103 644.38h7m.5 0h1m.5 0h2m1 0h6.5m.5 0h7.5M103.5 644.88h1.5m.5 0h6.5m.5 0h5m.5 0h5m1 0h8M103 645.38h6.5m.5 0h1m1.5 0h1.5m1 0h7.5m.5 0h4.5m.5 0h1.5m.5 0h2M105 645.88h2m1 0h2m.5 0h1.5m.5 0h3m1.5 0h6m1 0h7.5M105.5 646.38h5.5m1 0h3.5m2.5 0h12m.5 0h1.5M105 646.88h2.5m1 0h1m.5 0h3.5m1 0h4m.5 0h1m.5 0h5.5m1 0h5m.5 0h1M105 647.38h6.5m.5 0h1.5m1.5 0h2.5m1 0h2.5m1 0h2m.5 0h5.5m1.5 0h1.5M104.5 647.88h2m.5 0h14.5m.5 0h10m.5 0h1.5M106 648.38h1.5m.5 0h2.5m1.5 0h9m.5 0h1.5m.5 0h1.5m1 0h7M106 648.88h4.5m2 0h10m.5 0h7.5m.5 0h2.5m.5 0h1M106 649.38h6m.5 0h18.5m.5 0h3M106.5 649.88h5m.5 0h3.5m1 0h18m1 0h1M107 650.38h8.5m.5 0h8m.5 0h7m1 0h3M107 650.88h30.5M107 651.38h6m.5 0h1.5m1.5 0h5m.5 0h16M107.5 651.88h3.5m1 0h3m.5 0h3m.5 0h4.5m1 0h12m.5 0h1m1.5 0h1M107.5 652.38h3m1 0h3m.5 0h16m.5 0h3m.5 0h4M108.5 652.88h3.5m1 0h19.5m.5 0h6.5M107.5 653.38h1.5m.5 0h1.5m1.5 0h5m.5 0h2m.5 0h17.5m4.5 0h1M58 653.88h1m49.5 0h3m.5 0h1m1 0h9m.5 0h3.5m.5 0h12M56 654.38h1m11.5 0h1m39 0h1m.5 0h1.5m1 0h1.5m.5 0h15m.5 0h9m.5 0h1M56 654.88h2.5m.5 0h1.5m2 0h1m1 0h4.5m40.5 0h3m1 0h27.5M55.5 655.38h2m2 0h1m1 0h1m.5 0h7.5m39 0h9m.5 0h2m.5 0h18m1.5 0h1M56.5 655.88h3.5m1.5 0h1m.5 0h7.5m1 0h1m37.5 0h11.5m.5 0h10.5m.5 0h5m.5 0h4m3 0h3M56 656.38h5.5m.5 0h11.5m38 0h3m.5 0h1m.5 0h3m.5 0h1m.5 0h5m.5 0h9.5m.5 0h4m3.5 0h3.5M54.5 656.88h1m.5 0h4.5m.5 0h13m38.5 0h17m1 0h6m1 0h3m.5 0h1.5m2 0h2.5m1 0h1.5M56 657.38h14.5m.5 0h2m39.5 0h12m.5 0h11.5m1 0h2.5m1 0h7.5m1 0h1M55 657.88h18m38.5 0h19m.5 0h4.5m.5 0h6.5m1 0h7.5M56.5 658.38h7m1 0h10.5m36 0h1m.5 0h14.5m.5 0h12.5m.5 0h8.5M56 658.88h8m.5 0h1m.5 0h2.5m.5 0h2m1.5 0h1.5m37.5 0h37.5m.5 0h1m4.5 0h1m8.5 0h1M56 659.38h8.5m1 0h3.5m1 0h2.5m.5 0h2m36.5 0h7m.5 0h9m.5 0h4.5m1 0h4.5m.5 0h4.5m.5 0h5.5m1.5 0h1m1 0h1m.5 0h1.5m9 0h1M55.5 659.88h9.5m.5 0h4m2 0h3.5m38.5 0h14m1 0h6.5m.5 0h4.5m.5 0h4m.5 0h6.5m2.5 0h2.5m2.5 0h1m1.5 0h2.5m.5 0h1m2 0h1m1 0h1M56 660.38h12m3 0h1m1.5 0h2m36.5 0h6.5m.5 0h9m.5 0h10m.5 0h12.5m2 0h4m.5 0h1m2 0h2m2.5 0h3m1 0h1m1 0h1m1 0h1.5M56 660.88h1m1 0h12m1.5 0h1m.5 0h3.5m36.5 0h14m.5 0h20m1.5 0h2m3.5 0h2.5m.5 0h2m2 0h13m.5 0h2M57.5 661.38h12.5m.5 0h5.5m37.5 0h31.5m1 0h2m.5 0h2m.5 0h7m.5 0h5m.5 0h6.5m.5 0h2m1.5 0h1.5M55.5 661.88h3m1 0h10m1 0h5.5m38 0h27m.5 0h15.5m1 0h1m1.5 0h2m1 0h4.5m1.5 0h7.5M56 662.38h1m.5 0h15m.5 0h2.5m39.5 0h1.5m1 0h2m.5 0h2.5m.5 0h4.5m.5 0h11.5m1.5 0h2m.5 0h3m1.5 0h1m2 0h1m2 0h5m.5 0h6m.5 0h10.5M56.5 662.88h1m1 0h13.5m.5 0h4m37.5 0h1m1 0h29.5m1 0h5.5m1 0h6.5m.5 0h7m1 0h2.5m.5 0h6.5M57 663.38h3m.5 0h5.5m2 0h5m.5 0h4m36.5 0h2m.5 0h2.5m.5 0h1m.5 0h22.5m1.5 0h9m.5 0h2.5m1.5 0h7.5m1 0h2m1 0h7M57 663.88h9.5m1.5 0h4.5m1 0h3.5m38 0h1m.5 0h11m.5 0h6m.5 0h10m1 0h1m.5 0h1.5m.5 0h3m.5 0h1m.5 0h23.5M56 664.38h6.5m1 0h1m.5 0h1m1 0h4m1 0h1.5m.5 0h2.5m39.5 0h6.5m1.5 0h8.5m.5 0h9m.5 0h1m1 0h7m.5 0h12.5m2 0h8.5m.5 0h1.5M56.5 664.88h9m.5 0h3.5m.5 0h1m.5 0h2.5m.5 0h3m39 0h7m.5 0h9m.5 0h6.5m.5 0h2.5m1 0h1.5m1 0h1m.5 0h2.5m.5 0h9.5m.5 0h5m.5 0h8.5m1 0h1M57 665.38h19.5m.5 0h1.5m38 0h1m.5 0h4m.5 0h18m.5 0h2.5m1 0h2m.5 0h3m.5 0h16.5m2 0h7m.5 0h1M57.5 665.88h3m.5 0h10m1.5 0h5.5m39 0h1.5m.5 0h3m.5 0h38.5m.5 0h2.5m.5 0h1.5m1 0h10.5M59 666.38h9m1.5 0h4m2 0h1.5m40.5 0h16m1 0h9.5m.5 0h2m.5 0h13.5m.5 0h6m.5 0h2m1 0h5.5m1.5 0h1M57.5 666.88h14m.5 0h3m.5 0h1.5m41.5 0h3m.5 0h20.5m1 0h2m1 0h1.5m.5 0h28M58.5 667.38h6m1.5 0h1m.5 0h5.5m1 0h4.5m39.5 0h1m.5 0h5m.5 0h4.5m.5 0h12.5m.5 0h4m1 0h7.5m.5 0h5m2.5 0h2m.5 0h4.5m1 0h3.5M59 667.88h8m.5 0h4.5m1.5 0h5.5m41 0h1.5m.5 0h6m.5 0h13.5m.5 0h2.5m.5 0h9.5m.5 0h5.5m.5 0h2m.5 0h11M60 668.38h10m1 0h5.5m44.5 0h1m.5 0h5.5m1 0h46.5M59.5 668.88h7m1 0h3m1.5 0h6.5m42 0h1.5m.5 0h1m.5 0h3.5m.5 0h3.5m.5 0h11.5m.5 0h2m1.5 0h1.5m1 0h7.5m.5 0h4m.5 0h4m2 0h6M60 669.38h2m1 0h8.5m1 0h3.5m.5 0h1m.5 0h1m41.5 0h1m.5 0h1m1 0h3.5m1 0h2m.5 0h6m1 0h2m.5 0h2m.5 0h3m1 0h2.5m.5 0h21.5m.5 0h3M63 669.88h1.5m.5 0h2m1 0h5.5m1 0h4m43.5 0h2m1 0h3.5m1 0h26m.5 0h17M62.5 670.38h1.5m.5 0h6.5m.5 0h1.5m.5 0h2m1 0h1.5m45.5 0h3.5m.5 0h10m.5 0h3.5m.5 0h16m.5 0h14M63.5 670.88h2.5m.5 0h2.5m.5 0h8m48 0h1m.5 0h3m.5 0h16.5m.5 0h8m.5 0h16.5M63 671.38h2m.5 0h5m1 0h5m48.5 0h1m2 0h8m.5 0h6.5m.5 0h7m.5 0h4m.5 0h15M65 671.88h4.5m1.5 0h1m1.5 0h3m54 0h7m.5 0h3m.5 0h25m.5 0h2M66 672.38h1.5m.5 0h1m.5 0h1.5m1.5 0h2.5m50.5 0h1m5 0h11.5m.5 0h23.5m1 0h1.5M70 672.88h1.5m3 0h1m55 0h2m1.5 0h3m.5 0h2m1 0h6m.5 0h1m1.5 0h16m.5 0h1.5M71.5 673.38h1m59.5 0h1.5m1 0h3m1 0h6m.5 0h4.5m.5 0h13.5m.5 0h1M130.5 673.88h1m.5 0h1m.5 0h14.5m.5 0h1m.5 0h10.5m.5 0h2.5M135 674.38h1m1.5 0h3m3.5 0h5.5m.5 0h1m.5 0h10M138 674.88h6m2 0h2.5m.5 0h3m1 0h8M141 675.38h2.5m1.5 0h1m2.5 0h2.5m1.5 0h1m1.5 0h2.5m1 0h1M147.5 675.88h2m3 0h1.5M147 676.38h1" stroke="#000" stroke-width="0.75" fill="none"/>
<path d="M80.5 545.88h1M77.5 546.38h1m1 0h1M72.5 546.88h1m9.5 0h1M77.5 547.38h1m8.5 0h1M74.5 547.88h2m6 0h1m4.5 0h1M81.5 548.38h1M77.5 548.88h1m9.5 0h1M78.5 549.38h2m4 0h1.5M75.5 549.88h1m11 0h1M82 550.38h1m10.5 0h1M72.5 550.88h1m5 0h1m2 0h1m9 0h1M82 551.38h1m13 0h1M71.5 551.88h1.5m7.5 0h1m2.5 0h1m2 0h1m1 0h1m3 0h1.5m.5 0h1M72 552.38h1m9.5 0h1m1.5 0h1M73 552.88h1m1.5 0h1.5m3 0h3.5M73 553.38h1m.5 0h1m1.5 0h1m10 0h1m6 0h1.5m3.5 0h1M71 553.88h1m9 0h1.5m7 0h1m1 0h1.5m1 0h1m2 0h3M75 554.38h1.5m1 0h1m.5 0h1m1 0h1m1.5 0h1m5.5 0h1m.5 0h1m9.5 0h1M74.5 554.88h1m5 0h1m3.5 0h1m2 0h1.5m5 0h1m.5 0h1m5.5 0h1M78 555.38h1m4.5 0h1m4 0h1m.5 0h1m8.5 0h1M79.5 555.88h1m6.5 0h1m1 0h1m7 0h1m2 0h1M72 556.38h1m6.5 0h1m6 0h2m2.5 0h1m1.5 0h1m4 0h1m1.5 0h1m3 0h1M71 556.88h2m1 0h1m7.5 0h1m2 0h1m7 0h1m6 0h1m.5 0h1.5m1 0h1M71.5 557.38h1m3.5 0h1m6 0h1m.5 0h1m6.5 0h1m3 0h1m4.5 0h1m1 0h1.5M76 557.88h1m2.5 0h1m3.5 0h2.5m3 0h2.5m11 0h1.5m2.5 0h1M72.5 558.38h1m3 0h1m4.5 0h1m2 0h1m4.5 0h1m2 0h2m1 0h1M75 558.88h1.5m9 0h1m4 0h1m8 0h1m.5 0h2M73 559.38h1m6.5 0h1m6 0h1m7 0h1m4 0h1m5 0h1.5m1.5 0h1M77.5 559.88h1m3.5 0h1m12 0h1m1.5 0h1M77.5 560.38h1m12.5 0h1m7.5 0h1m8.5 0h1M70.5 560.88h1m2 0h1m7.5 0h1m.5 0h2m1 0h1m9 0h1m.5 0h1m.5 0h1m4.5 0h1m1 0h1m1 0h1M71.5 561.38h1m5 0h1m9 0h2m4 0h4m4 0h1m4 0h1M71.5 561.88h1m4 0h1m.5 0h1m7.5 0h1m6 0h1m1 0h1.5m1 0h1m2.5 0h1.5m3.5 0h1m6 0h1M75 562.38h2.5m6 0h1m3 0h1m2.5 0h1m1 0h1m2.5 0h1.5m1 0h2m5.5 0h1m7 0h1m2.5 0h1M79.5 562.88h1m7.5 0h1m1 0h2m3 0h1m7.5 0h1.5m3 0h1.5m4.5 0h1.5m2 0h1M77.5 563.38h1m8.5 0h2m1.5 0h1m1.5 0h2m2 0h1m6.5 0h1m5.5 0h1m4.5 0h1M89 563.88h1m3.5 0h3m8.5 0h1m3.5 0h1m3 0h1M77.5 564.38h1m.5 0h1m13.5 0h1m6 0h1m10 0h1M75 564.88h1m6.5 0h1m7.5 0h1m4.5 0h1m8 0h1.5m9 0h2.5M81.5 565.38h1m8 0h1m6.5 0h2.5m5 0h1m1.5 0h1m1 0h1m3.5 0h1.5m.5 0h1M76 565.88h1m17 0h1.5m2.5 0h2m14.5 0h1.5m2.5 0h1M85 566.38h2.5m4 0h1m8 0h1m3 0h1m7.5 0h3M78 566.88h1m2.5 0h1.5m10 0h1m.5 0h1m3 0h1m2.5 0h1m7 0h1.5m1.5 0h1.5M76.5 567.38h2m.5 0h1.5m3 0h1m3.5 0h2m1 0h1m9 0h1m3.5 0h1m4.5 0h1m.5 0h1m1 0h1m3.5 0h2M86 567.88h1m.5 0h3m9.5 0h1m5 0h1m5.5 0h2m2 0h1m.5 0h1m13.5 0h1M75 568.38h1m2 0h1m2 0h1m7 0h1.5m1.5 0h1m5 0h1m2 0h1m.5 0h1m.5 0h1m2.5 0h1m20 0h1m4.5 0h1M77.5 568.88h1m2 0h1m1 0h1m10 0h1m1 0h1m1.5 0h1m4 0h1m6 0h1m.5 0h1m.5 0h1m1 0h1m1.5 0h1m10 0h1m1 0h1M79 569.38h1m8.5 0h1m2.5 0h1m.5 0h1m3.5 0h2.5m1.5 0h1.5m1.5 0h1.5m1.5 0h2m3.5 0h1m9.5 0h1m4 0h1m2.5 0h1M75.5 569.88h1m.5 0h1m4 0h1m4.5 0h1m3 0h1m1.5 0h1m2 0h1m.5 0h2.5m6.5 0h2m1 0h1m4 0h2M82.5 570.38h1m1 0h1m2.5 0h2.5m.5 0h1m1 0h1m4.5 0h1m11.5 0h1.5m1 0h2m1 0h1m2 0h1m5 0h1m3 0h1m2 0h1M82 570.88h1m16.5 0h2m4 0h1m1.5 0h1m1 0h1m3 0h1m1 0h1.5m10.5 0h1m9 0h1m2.5 0h1M80.5 571.38h1m6.5 0h1m9 0h1.5m.5 0h2m.5 0h1m23.5 0h1m.5 0h1m4.5 0h3m.5 0h1m36 0h2.5m1.5 0h1M83 571.88h1.5m6.5 0h1m2 0h2.5m2.5 0h1m5.5 0h1m2 0h1m1 0h1m15.5 0h1m.5 0h1m3.5 0h1m5.5 0h3m.5 0h1m3 0h1M83.5 572.38h1m1 0h1m3.5 0h1m8.5 0h1m3.5 0h1m10 0h1m12 0h1m15 0h1m1.5 0h1m25.5 0h1m5.5 0h1M83.5 572.88h1m7.5 0h1m3 0h2m6 0h1m4.5 0h1m.5 0h1m10 0h1m2.5 0h1m1 0h1m11.5 0h1M84.5 573.38h2.5m16 0h2m1 0h2m13.5 0h1m2.5 0h1m2.5 0h1m3 0h1m1 0h1m1.5 0h1m7 0h1m30 0h1M82.5 573.88h1m11 0h1m5 0h1m2 0h1m5 0h1m22.5 0h1m3.5 0h1m2 0h1m1 0h1m6.5 0h1m21.5 0h1m3 0h1m.5 0h1M82.5 574.38h1.5m4 0h1m8 0h1m5 0h1m2.5 0h1m1 0h2m23.5 0h1m1.5 0h1m2.5 0h1m1.5 0h1m4 0h1m26 0h1.5m5.5 0h1M80 574.88h1m2 0h1m8 0h1m.5 0h1m8 0h1m2 0h1.5m1 0h1m1.5 0h1m.5 0h1m.5 0h1m.5 0h1m6 0h1m2.5 0h1m1.5 0h1m4 0h1m4 0h1m4.5 0h1m33 0h1m2 0h1M83 575.38h1m.5 0h1m4 0h1m6 0h1m3.5 0h1m3.5 0h1m21.5 0h1m4.5 0h1m.5 0h1m14.5 0h1.5m21 0h1m9 0h1m.5 0h1M91.5 575.88h1m2.5 0h1m.5 0h1m.5 0h1m1 0h1m1 0h1m2.5 0h1m2 0h1m23 0h1m.5 0h1m7 0h1.5m3.5 0h1m25 0h2m7 0h1m1 0h1M94.5 576.38h1.5m1.5 0h2.5m1 0h1m10.5 0h1m16.5 0h1.5m3.5 0h1m1 0h2.5m9.5 0h1m31 0h1m.5 0h1M89 576.88h1m1.5 0h1m1.5 0h1m1 0h2m2 0h1m5 0h2m19 0h1m4.5 0h1m3 0h1m.5 0h1m4.5 0h1m4.5 0h1m3 0h1m21 0h1m1 0h1M82.5 577.38h1m4 0h1.5m6 0h1m2 0h3m2.5 0h1m1 0h1.5m21.5 0h1m8 0h1m.5 0h1m2.5 0h1m1.5 0h1m7 0h1m20 0h1m1 0h1m2.5 0h1M92 577.88h1m1.5 0h1m5 0h1m6 0h1m27 0h1m1.5 0h1m2.5 0h1m37 0h2M85.5 578.38h1m2.5 0h1m10.5 0h1m2.5 0h1m3.5 0h1.5m23 0h1m.5 0h1m14.5 0h2m27.5 0h1.5m.5 0h1M92 578.88h2m1.5 0h1m1 0h1m.5 0h1m8 0h1m.5 0h2m15.5 0h1m1 0h1m3 0h1m8 0h1m10.5 0h1m20.5 0h1m5.5 0h1m3 0h1M84.5 579.38h1m.5 0h1m4.5 0h1m14.5 0h1m1.5 0h1m16 0h1m3.5 0h1m4.5 0h1m2.5 0h1m1.5 0h1m4.5 0h1m2 0h1.5m24 0h1M84 579.88h2.5m1.5 0h3m3.5 0h1m9 0h1m21 0h2m4 0h1m12 0h1m1.5 0h1m25.5 0h1m2 0h2m2 0h1M85 580.38h1m3 0h2m2.5 0h1m.5 0h1m8 0h1m.5 0h2m18.5 0h2m2 0h1m2.5 0h1m5.5 0h1m5 0h1m7 0h2m25.5 0h1m1.5 0h1M82.5 580.88h1m14.5 0h1m16.5 0h1m10.5 0h1m10 0h1m4 0h1m9 0h1.5m1 0h1m17 0h1m11 0h1M95 581.38h1m5 0h1m4.5 0h1m1 0h1m17.5 0h1m3.5 0h1m8 0h1m6.5 0h1m3 0h1m27 0h1M96 581.88h1m3 0h1m.5 0h1m1.5 0h1m19 0h1m3 0h1m2 0h1m2 0h1m.5 0h2m1 0h1m7.5 0h2m28 0h1m1 0h1m3.5 0h1m1.5 0h1m.5 0h1M84.5 582.38h1m3.5 0h1m.5 0h1m.5 0h2m9.5 0h1m10 0h1m10.5 0h1m3.5 0h1m5.5 0h1m5.5 0h1m8.5 0h1m20 0h1m11 0h1.5M84.5 582.88h1m1.5 0h1m6.5 0h1m3.5 0h1m1 0h1m24.5 0h1m2.5 0h1.5m6.5 0h1.5m2 0h1m34.5 0h1M83 583.38h1m7 0h2m3.5 0h1m3 0h1m28.5 0h1m4 0h1m8.5 0h1m10.5 0h1.5m26 0h1m3.5 0h1M85.5 583.88h1m5.5 0h1m1.5 0h1m4.5 0h1m27 0h2m14 0h1m1.5 0h1m3.5 0h1m3 0h1m19 0h1m6 0h3.5m3.5 0h1M87 584.38h1m.5 0h1m39 0h1m.5 0h1m9 0h1m9.5 0h2m24.5 0h1m5.5 0h1m2.5 0h2M85.5 584.88h1m2 0h1m3 0h2m1 0h1m40.5 0h2m2 0h1m11 0h1m1.5 0h1m14.5 0h1.5m2.5 0h1m8.5 0h1m2 0h1M86 585.38h1m.5 0h1m3 0h1m2 0h1m35 0h2m1 0h1m2 0h1m10 0h1m8.5 0h2.5m16.5 0h1m4 0h1m5 0h1M89 585.88h1m.5 0h1m2 0h2m48.5 0h1m8 0h1m2.5 0h1m15.5 0h1M90 586.38h1.5m.5 0h1m35.5 0h1m5 0h1m3.5 0h1m11.5 0h1m3.5 0h1m18 0h1m6 0h1m3 0h1m1.5 0h1M80 586.88h1m11 0h1m1 0h1m.5 0h1m34.5 0h1m.5 0h2m1 0h1m4 0h1m6 0h1m1 0h1m3 0h1m27.5 0h1m1 0h1M86 587.38h1m5 0h1m3 0h1m21.5 0h1m26 0h1m5 0h1m10.5 0h1m9.5 0h2m3.5 0h1m4.5 0h1m.5 0h1M92 587.88h1m38 0h1m4.5 0h1.5m1 0h1m15 0h1m2 0h1m17 0h1m8.5 0h1m3 0h1M91 588.38h1m13 0h1m22.5 0h1m12 0h1m4.5 0h1m20.5 0h1m11 0h1m4.5 0h1M129.5 588.88h1m3 0h1m.5 0h1m1 0h1m1 0h1m6.5 0h1m1.5 0h1m2 0h1m.5 0h1m2.5 0h1m2.5 0h1m4 0h1m17.5 0h1m1 0h1M90 589.38h1m5 0h1m11.5 0h1m22 0h1m3.5 0h1m4.5 0h1m13.5 0h1m7 0h1.5m17.5 0h2M134.5 589.88h1m3.5 0h1m2 0h1m5 0h1m.5 0h1m1 0h1m5 0h1m9.5 0h1m13 0h1m5.5 0h1M109 590.38h1m1 0h1m26 0h1m1.5 0h1m8 0h2m1 0h1m2 0h1.5m8 0h1m5 0h1m2 0h1m1 0h1M93.5 590.88h1m15.5 0h1m18 0h1.5m5 0h1m3.5 0h1.5m3 0h1m1.5 0h1m5.5 0h1m6.5 0h1m6 0h1m3 0h1m.5 0h1m3 0h1.5m2.5 0h1m.5 0h1M111.5 591.38h1m26.5 0h1m7 0h1m.5 0h2m17 0h1m3.5 0h1m4.5 0h1m6 0h1M121.5 591.88h1m26 0h1m7 0h1.5m13.5 0h1m10.5 0h1M106.5 592.38h1m8 0h1m24 0h1m14.5 0h1m1.5 0h1m10 0h1m3 0h1m3 0h1m4 0h2M96.5 592.88h1m36 0h1m13 0h1m4 0h1m2 0h1m21 0h1m2.5 0h1m.5 0h1M136 593.38h1.5m19 0h1m12 0h1m6.5 0h1m4 0h1M109.5 593.88h1m.5 0h1m25.5 0h1m1 0h1m3 0h1m1.5 0h1m2 0h1m1.5 0h1m2 0h1m4 0h1M74 594.38h1m62 0h1m11.5 0h1m3.5 0h1m5 0h1m1.5 0h1m7 0h1M140 594.88h1m18 0h2m24 0h1M93.5 595.38h1m43 0h1m2.5 0h1m8 0h1m1.5 0h1m3 0h1m.5 0h1m3.5 0h2m12.5 0h1M104.5 595.88h1m28 0h1m13.5 0h1m2.5 0h1m5 0h2m3 0h1m8.5 0h1M100 596.38h1m45 0h1m3.5 0h1m.5 0h1m1 0h2m1.5 0h1.5m1 0h1m11.5 0h1M92 596.88h1m10.5 0h1m33 0h1m6.5 0h1m2.5 0h1m12 0h1m9 0h2m1.5 0h1m2 0h1M94 597.38h1m45.5 0h1m3.5 0h1m4.5 0h3m26 0h1m1 0h1M98.5 597.88h1m.5 0h1m2.5 0h1m50 0h1m1 0h1.5m1.5 0h1m2 0h1m7.5 0h1m2 0h1.5M136 598.38h1m6.5 0h1.5m22 0h1m3 0h1m3.5 0h1.5M136 598.88h1m12.5 0h1m8 0h1m15.5 0h1M78 599.38h1m56.5 0h1m6 0h1m7 0h1m11 0h1m12 0h1M75 599.88h1m59.5 0h1m15 0h1m1.5 0h2.5m.5 0h1m8.5 0h1m14 0h1M143 600.38h2.5m21 0h1m6 0h1m1 0h1m2 0h1m2 0h1M72.5 600.88h1m75.5 0h1m1.5 0h1m10 0h1m1 0h1m10 0h1.5m1 0h1M126.5 601.38h1m20.5 0h1m27.5 0h1m4 0h1M84.5 601.88h1m5.5 0h1m51.5 0h1m4.5 0h2m3 0h1m1 0h1m2.5 0h1m5.5 0h1m5.5 0h1m2.5 0h1m1 0h1M93 602.38h1m7 0h1m46 0h1m7 0h1M71 602.88h1m79.5 0h1m1.5 0h1m1 0h1m.5 0h1m9.5 0h1m6.5 0h1m1.5 0h1m1 0h1M104 603.38h1m63 0h1m3 0h2M73 603.88h1m37 0h1m30.5 0h1m3.5 0h1m7 0h1m13 0h1m.5 0h1m1.5 0h1M150 604.38h1m5.5 0h1m10 0h1.5m3 0h1m7 0h1M148.5 604.88h1m8 0h1m1 0h1m12.5 0h1m3 0h1m.5 0h1M145.5 605.38h1m26 0h1M169 605.88h1M93.5 606.38h1M170.5 606.88h1M68.5 607.38h1m1.5 0h1m14.5 0h1m7.5 0h1m52 0h1M93 607.88h1m8 0h1M99 608.88h1m5.5 0h1m65 0h1M154 609.38h1M147 610.88h1m2 0h1M149 611.38h1M104.5 612.38h1m39.5 0h1M67.5 612.88h1M142.5 613.38h1M103.5 614.38h1M76 615.38h1m26 0h1M102.5 615.88h1M76 616.88h1M99 617.38h1m2 0h1m40.5 0h1M99.5 618.88h1M98 619.38h1.5m2.5 0h1m7.5 0h1M89 619.88h1M108 620.88h2M139 621.38h1M94.5 621.88h1m20 0h1m20.5 0h1M79 622.38h1m33 0h1M100.5 622.88h1m4 0h1M103.5 623.38h1m1.5 0h1M84 623.88h1M136 624.38h1M138 624.88h1M135 625.38h1M85.5 625.88h1m.5 0h1m13.5 0h1m4.5 0h1m5 0h1M86 626.38h1M122 626.88h1M94 627.38h1M110.5 628.88h1m18.5 0h1M103.5 629.38h1M119 629.88h1M95 630.38h1M92.5 631.88h1M114 632.38h1M114 633.38h1m.5 0h1M94.5 634.38h1.5m4 0h1m9.5 0h1m7.5 0h1M95.5 634.88h1m33.5 0h1M111.5 635.88h1m12.5 0h1M98.5 636.38h1M108 637.88h1m4.5 0h1m15 0h1M106.5 638.38h1m5 0h1M119.5 639.38h1m.5 0h1m.5 0h1m1 0h1M106 639.88h1m20 0h1M104 640.88h1m14 0h1M108 641.38h1m9.5 0h1M116.5 641.88h1m1.5 0h1M110.5 642.38h1m6 0h1M122.5 642.88h1.5M119 643.38h1m4 0h1M123.5 643.88h1m3.5 0h1M117 644.38h1m2.5 0h1m5.5 0h2.5M124.5 645.38h1M117.5 645.88h1m2 0h1M119 646.38h1M122 646.88h1M118.5 647.38h2m7.5 0h1M108.5 648.88h1m18 0h1m.5 0h1M123.5 649.38h1m3 0h1M116.5 649.88h1m2.5 0h1m6.5 0h1M118.5 650.38h1m1 0h1m1 0h1m3 0h1m3.5 0h1M123 650.88h2m6.5 0h1m1 0h1M117 651.38h1m1 0h1.5m1.5 0h1m6 0h1M114 651.88h1m6 0h1m8.5 0h1m5.5 0h1M121.5 652.38h1.5m6 0h1m4 0h1.5M115.5 652.88h1m7.5 0h1m.5 0h1m9 0h1M120.5 653.38h2m11.5 0h1m.5 0h1M118.5 653.88h1.5m3 0h1m10 0h1M122.5 654.38h1m7.5 0h2M113.5 654.88h1m2 0h1m5 0h1.5m9.5 0h1m1.5 0h1m1 0h1M113.5 655.38h1m1 0h1m1.5 0h2m3.5 0h1M67.5 655.88h1m45.5 0h1m5 0h1M55.5 656.38h1m1 0h1.5m4 0h1m2 0h1m55 0h1m8 0h1M57.5 656.88h1.5m.5 0h1m4.5 0h1.5m1.5 0h1m60 0h1m6 0h1M57 657.38h1.5m6 0h1m2 0h1m45.5 0h1m1.5 0h1m17.5 0h1m9 0h1.5M56 657.88h1m1 0h1m3.5 0h2m51.5 0h1.5m7.5 0h1m2.5 0h1M57 658.38h1m.5 0h1m1.5 0h1m.5 0h1m6.5 0h1m42.5 0h1m1 0h2m8.5 0h1m14 0h1m6 0h1M57.5 658.88h1m.5 0h1m.5 0h1m2 0h1m59.5 0h1m.5 0h1m5.5 0h1m12 0h1M57.5 659.38h1m9 0h1m45.5 0h1m9 0h1m3.5 0h1m6.5 0h2M57 659.88h1m10 0h1m3 0h1m49 0h1.5m1 0h1m5.5 0h1m1 0h1m3 0h1m6 0h1M66 660.38h1m5.5 0h1m42.5 0h1m.5 0h1m6 0h1m11.5 0h1m1.5 0h1.5M58 660.88h1m1 0h1m2 0h1m2 0h1m2 0h1m44 0h1m4.5 0h1m22.5 0h1m21.5 0h1m1 0h1M74 661.38h1m39 0h1m.5 0h1m12.5 0h1m6 0h1m.5 0h1m12.5 0h1M60 661.88h1m1 0h1m5 0h1.5m3.5 0h1m58.5 0h1m.5 0h1m11 0h1m7.5 0h2m8.5 0h1m6 0h1M65.5 662.38h1m1 0h1.5m46 0h1m.5 0h1m.5 0h1m16.5 0h1m12 0h1m14.5 0h1M70 662.88h1.5m50.5 0h1.5m12 0h1.5m.5 0h1m12.5 0h1M70.5 663.38h1m46 0h1m7 0h1m8 0h1m1.5 0h1m1.5 0h1m20 0h2m2 0h1m9.5 0h1M58 663.88h1m2.5 0h1m.5 0h1m8.5 0h2m45 0h1m1 0h1.5m10.5 0h1m1 0h1m2 0h1m10 0h1m16.5 0h1m6.5 0h1M58 664.38h1m2 0h2m10 0h1m48.5 0h1m3 0h1m6 0h1m17.5 0h1m7.5 0h2.5m8.5 0h1M59.5 664.88h3m56 0h1m4.5 0h1m1 0h1m7.5 0h1m1.5 0h1.5m2 0h1m8 0h1m13 0h1M67.5 665.38h1m1 0h1m2 0h1m49 0h1m4.5 0h1m23.5 0h1m17.5 0h1m2.5 0h1M59.5 665.88h1.5m.5 0h1m7.5 0h1.5m1 0h1m2 0h1m53 0h1m3 0h1m4 0h1m1.5 0h1m11.5 0h1M59 666.38h1m10.5 0h1m50.5 0h1m10.5 0h2m1.5 0h1m11 0h1m5.5 0h1m3.5 0h1m3 0h1m.5 0h1m5.5 0h1M66 666.88h1m4 0h1m50 0h1m6 0h1m20.5 0h1m1 0h1.5m4 0h1M63.5 667.38h3m60 0h1m.5 0h1m5 0h1m5 0h1m8 0h1.5m3.5 0h1m5.5 0h1m11.5 0h1M62 667.88h1m1.5 0h1m6 0h1m49 0h1m2 0h1m3 0h1m3 0h2m7 0h1m5 0h1m8.5 0h1.5m12.5 0h1M69 668.38h1m72.5 0h1m8.5 0h1m4.5 0h1m8.5 0h1M63 668.88h2m63 0h1m2 0h1m20.5 0h1m8 0h1m2 0h1M62.5 669.38h1m61.5 0h1m7 0h1m22.5 0h1m8 0h1M64 669.88h1m61 0h1m8.5 0h1m2 0h1m2 0h1m9 0h1m3 0h1m1 0h1m11 0h1M64.5 670.38h1m61 0h1m21 0h1m12.5 0h1M148.5 670.88h1m2.5 0h1m5.5 0h1m1.5 0h1m2.5 0h1.5M65.5 671.38h1m73.5 0h2m9.5 0h1m7.5 0h1m3.5 0h1M66.5 671.88h1m73.5 0h1m9 0h2m1 0h1m2.5 0h1m2.5 0h1m.5 0h1M135 672.38h2.5m11.5 0h1m3 0h1m.5 0h1m1.5 0h1m6 0h1m2 0h1M159.5 672.88h1M137 673.38h1m6.5 0h1m11 0h2M138.5 673.88h1m5 0h1M150 674.38h1M140.5 674.88h1" stroke="#2c3fc4" stroke-width="0.75" fill="none"/>
<path d="M78.5 544.88h1M76 546.88h1m7 0h1M78 547.88h1M77.5 548.88h1M80 549.38h1m3 0h1M90 550.38h1M81.5 550.88h1M78 551.38h1m12 0h1M77 551.88h2m10 0h1M84 552.38h1M75.5 552.88h1m11 0h1m.5 0h1M84 553.38h1m13.5 0h1M74.5 553.88h1m13 0h1m1.5 0h1m7 0h1M75 554.38h1m10 0h1m13.5 0h1M81 554.88h1m6 0h1m7 0h1M78 555.38h1M96.5 555.88h2M77 556.38h1m5.5 0h1m4.5 0h1M79 556.88h1m2 0h1.5M77.5 557.38h1m7.5 0h1m.5 0h1M77.5 557.88h1m21 0h2m2 0h1M75 558.38h1m16 0h1m12 0h1M71 558.88h1m18.5 0h1m13 0h1M81 559.38h1m28 0h1M85.5 559.88h1m9.5 0h1M94.5 560.38h1m13.5 0h1M76.5 560.88h1m18.5 0h1m6.5 0h1M85.5 561.38h2m11.5 0h1m6 0h1m.5 0h1M72 561.88h1m.5 0h1m24 0h1m2.5 0h1M86.5 562.38h1m3 0h1.5m15 0h1M77 562.88h1m7.5 0h1m7 0h1.5m19.5 0h1m1 0h1M90.5 563.38h1m11.5 0h1m10 0h1m1.5 0h1M106.5 563.88h1m10 0h1M77.5 564.38h1m25.5 0h1m1 0h1M88 564.88h1m24 0h1M82 565.38h1m27.5 0h1m1 0h1m4.5 0h1M76 565.88h1m3 0h1m28 0h1m6 0h1M80.5 566.38h1m15.5 0h1m19.5 0h1M78.5 566.88h1m19 0h1m6 0h1M80 567.38h1m5.5 0h1m7.5 0h1m3.5 0h1M81.5 567.88h1m6.5 0h1m25.5 0h1m14.5 0h1M77.5 568.38h1m3.5 0h1m23 0h1m24.5 0h1M82 568.88h1m25 0h2m5 0h1m13 0h1M102 569.38h1m.5 0h1m10.5 0h1m10.5 0h1m2.5 0h1m2.5 0h1M91 569.88h1m8 0h1m1.5 0h1m4.5 0h1m10.5 0h1m14 0h1M98.5 570.38h2m.5 0h1m31.5 0h1m6 0h1M83.5 570.88h1m11.5 0h1m4.5 0h1m13.5 0h1m15.5 0h1m41 0h1M89.5 571.38h1m15 0h1m20 0h1m19.5 0h1m29 0h1M80.5 571.88h1m23.5 0h1m.5 0h1m20.5 0h1m9 0h1m35 0h1.5M85 572.38h1m20 0h1m9 0h1M92.5 572.88h1m16 0h1m32.5 0h1M102.5 573.38h1m1.5 0h1m1 0h1m17 0h1m10 0h1m2.5 0h1M82 573.88h1m2.5 0h1m16 0h1m30.5 0h1m14.5 0h1M79.5 574.38h2m1 0h1m30.5 0h1m10 0h1m4 0h1m5 0h1M82 574.88h1m15 0h1m5.5 0h1m5.5 0h1m26 0h1.5M93.5 575.38h1m43.5 0h1m42 0h1M83 575.88h1m19 0h1m2 0h1m35.5 0h1m9 0h1m30 0h1M86.5 576.38h2m.5 0h1m14.5 0h1m21.5 0h1m7.5 0h1m47 0h1M84.5 576.88h1m4.5 0h1m36 0h2m1.5 0h1m42 0h1m4.5 0h1M84.5 577.38h1m7.5 0h1m15 0h1m.5 0h1m41 0h1M94.5 577.88h1m10 0h1m3.5 0h1m23 0h1M83.5 578.38h1m51.5 0h1m37 0h2M95 578.88h1m3.5 0h1m3.5 0h1m30 0h1m45.5 0h1M109 579.38h1m28 0h1m4.5 0h1m33.5 0h1m5.5 0h1m.5 0h1M86 579.88h1m1.5 0h1.5m1.5 0h1m2.5 0h1m38 0h1m6 0h1M87 580.38h1m4 0h1m9.5 0h1.5m11.5 0h1m29.5 0h1m29 0h1M98.5 580.88h2m54 0h1M97.5 581.38h1m7 0h1m1.5 0h1M91.5 581.88h1m2 0h1m31.5 0h1m10.5 0h1m41.5 0h1.5M85.5 582.38h1m41.5 0h1m19 0h1m25.5 0h1m7.5 0h1M86 582.88h1m11.5 0h1m6.5 0h1m31.5 0h1m37.5 0h1M89.5 583.38h1m55.5 0h1m12 0h1m25 0h1M98 583.88h1m6 0h1m44 0h1m36.5 0h2M85 584.38h1m12 0h1m76.5 0h1.5M89 584.88h1m.5 0h1m46.5 0h1m5.5 0h1m44 0h1M86 585.38h1m33 0h1m18 0h1m11.5 0h1m33.5 0h1M96 585.88h1m36.5 0h1m46 0h1m3 0h1M96 586.38h1m36 0h1m20 0h1m28.5 0h1M87 586.88h1m7 0h1m35 0h1m21 0h1m20.5 0h1M133 587.38h1m17.5 0h1m3.5 0h1m14.5 0h1M93.5 587.88h1m59.5 0h1m7.5 0h1m18.5 0h1M92.5 588.38h1m48 0h1m41.5 0h1M96.5 588.88h1m40 0h1m19.5 0h1m1 0h1M94 589.38h1m33 0h1m51.5 0h1M84.5 589.88h1m62 0h1m5 0h1m27.5 0h1M136.5 590.38h1m1.5 0h1m13.5 0h1m26.5 0h1m3 0h1M98 590.88h1m40.5 0h1m6 0h1m2 0h1m7.5 0h1m26.5 0h1M181.5 591.38h1M136.5 591.88h1m49 0h1M146 592.38h1m10.5 0h1m20.5 0h1m4.5 0h1M158.5 592.88h1m24 0h1.5M137.5 593.38h1m13.5 0h1M156.5 593.88h1m.5 0h1m1 0h1M146 594.38h1m25.5 0h1M132.5 594.88h1m20.5 0h1m14 0h1M144 595.38h1m27 0h1M102.5 595.88h1m49 0h1m26.5 0h1M101 596.38h1m38.5 0h1m7 0h1m3.5 0h1M105.5 596.88h1m36.5 0h1m31 0h1m6 0h1M141 597.38h1m32.5 0h1M144.5 597.88h1m2.5 0h1m6 0h1m26 0h1M99 598.38h1m58 0h1M71 598.88h1m84 0h1M151.5 599.38h1M141.5 599.88h1m6 0h1m10 0h1m21 0h1M82 600.38h1m91 0h2M159.5 600.88h1m6.5 0h1M153 601.38h1M67.5 601.88h1m74.5 0h1m13.5 0h1m14 0h1M144 602.38h1m10 0h1M119 602.88h1m31 0h1.5M164.5 603.38h1m15 0h1M73.5 603.88h1m100.5 0h1m3 0h1M142.5 604.38h1m27 0h1M148.5 604.88h1m22.5 0h1M152 605.88h1M85.5 606.88h1M148.5 607.38h1M95 607.88h1M152 608.88h1M92 609.38h1M102 611.88h1M69 612.88h1M106 615.38h1M104.5 616.88h1M99.5 618.38h1M87 619.38h1M93.5 620.88h1M110.5 621.38h1M97.5 621.88h1M91.5 622.88h1M113.5 623.38h1M104.5 624.88h1M116 625.88h1M134.5 626.38h1M102.5 627.38h1M133.5 629.38h1M119 631.88h1M111 633.88h1M99 634.38h1M96.5 634.88h1M128 635.88h1M117 637.88h1M129 638.38h1M127.5 639.38h1M111.5 640.38h1M103.5 641.38h1M121 641.88h1M105 642.88h1M119 643.38h1M127.5 644.38h1M117 644.88h1M125 645.88h1M119.5 647.38h1m2 0h1M115.5 648.88h1M117 649.38h1M113.5 649.88h1M132 650.38h1M118 650.88h1m11.5 0h1M128.5 651.38h1M121.5 651.88h1m9.5 0h1M127.5 652.38h1M115.5 652.88h1m18.5 0h1M116 653.38h1M116.5 653.88h1m3.5 0h1M119 654.38h1M59 654.88h1m62 0h2M118.5 655.38h1M130.5 655.88h1M56.5 656.38h2m8 0h1M59.5 656.88h1m8.5 0h1m43.5 0h1M58 657.38h1m4 0h1m70 0h1M59.5 657.88h1m61 0h1m11.5 0h1M58 658.38h1m63 0h1m16.5 0h2M66.5 658.88h1m46.5 0h1m31.5 0h1M60 659.38h1M59.5 659.88h1m12 0h1m41 0h1m5 0h1M59 660.38h1m54.5 0h2m15.5 0h1M63.5 660.88h1m59.5 0h1M60 661.38h1m3.5 0h1m4.5 0h1M63 661.88h1m71.5 0h1m2 0h1m29 0h1M62.5 662.38h1m63.5 0h1m8 0h1m16.5 0h1M64 662.88h1m68.5 0h1m39.5 0h1M65 663.38h1m73.5 0h1m15 0h1M61 663.88h1m12.5 0h1m74.5 0h1m18.5 0h1M60 664.38h2.5m5 0h1m70.5 0h1M62.5 664.88h1m64.5 0h1m5 0h1m1.5 0h1M70 665.38h1m58 0h1m9.5 0h1M73 665.88h1m53 0h1m1.5 0h1m8.5 0h1m10 0h1M68.5 666.38h1m68 0h1m4 0h1m17 0h1M135 666.88h1m4 0h1M60 667.38h1.5m88 0h1m3.5 0h1m3 0h1M76 667.88h1m56 0h1m7 0h1m8 0h1M64.5 668.38h1m94.5 0h1M73.5 668.88h1m90 0h1M62 669.38h1m8 0h1m55.5 0h1M152 669.88h1m11.5 0h1M157.5 670.38h1M130 670.88h1m19 0h1M133 671.38h1m30 0h1m1.5 0h1M68 671.88h1m81 0h1M150.5 672.38h1m8.5 0h1m2 0h1M156 672.88h1M137.5 673.38h1M149 674.38h1" stroke="#4672e2" stroke-width="0.75" fill="none"/>
<path d="M269 543.88h2.5m1 0h2M268.5 544.38h1.5m.5 0h2m1 0h1M267.5 544.88h2m.5 0h2m.5 0h4m.5 0h2M268 545.38h1.5m1 0h9M267 545.88h1.5m.5 0h10M268 546.38h11.5M267.5 546.88h1m.5 0h1.5m.5 0h8m1.5 0h2M267 547.38h11.5m.5 0h1m2 0h1.5M267 547.88h8m.5 0h3.5m.5 0h1m.5 0h1M267.5 548.38h8m.5 0h4m.5 0h2m.5 0h2M267.5 548.88h16m1.5 0h1M266 549.38h8.5m.5 0h6.5m.5 0h4.5M268 549.88h18.5M266.5 550.38h1m1 0h6.5m1 0h4m.5 0h2.5m.5 0h2m1.5 0h4.5M266 550.88h4.5m1 0h3m.5 0h6.5m.5 0h5.5m1 0h1m.5 0h2M266.5 551.38h7m1.5 0h11.5m.5 0h6M266.5 551.88h27.5M266 552.38h1.5m1 0h17.5m.5 0h6m.5 0h1.5m1 0h1M266.5 552.88h28.5M265.5 553.38h2m.5 0h5m.5 0h7m.5 0h2.5m.5 0h13M266.5 553.88h2.5m.5 0h7.5m.5 0h3.5m.5 0h12m1.5 0h1m1 0h1M269 554.38h11m.5 0h4m.5 0h12.5M266.5 554.88h1m.5 0h14.5m.5 0h4m.5 0h1m1 0h1m.5 0h7m.5 0h1M265 555.38h14m.5 0h17m.5 0h3M265 555.88h1m.5 0h20.5m.5 0h4.5m.5 0h5m.5 0h1m.5 0h2M267 556.38h3m.5 0h31M265.5 556.88h11.5m.5 0h4.5m.5 0h1m.5 0h14m1 0h2.5M265.5 557.38h16m1 0h21.5M265.5 557.88h8.5m.5 0h1m.5 0h5.5m.5 0h4m.5 0h2.5m1.5 0h14M265.5 558.38h37m1 0h1.5M265 558.88h14m.5 0h2.5m1 0h4m.5 0h12m.5 0h2.5m1 0h2M266.5 559.38h7m1 0h1.5m1 0h7m.5 0h12.5m.5 0h3m1 0h4M266.5 559.88h6m.5 0h20.5m.5 0h11.5m.5 0h1.5M266 560.38h6m.5 0h6m2 0h12m.5 0h5m1 0h9.5M265.5 560.88h1m.5 0h3.5m.5 0h1m.5 0h7.5m.5 0h14.5m.5 0h6m.5 0h5.5m.5 0h1m1.5 0h1M265.5 561.38h2.5m1 0h36m.5 0h2m.5 0h2m.5 0h1M265.5 561.88h4m.5 0h5m1 0h25m.5 0h2m.5 0h1.5m.5 0h3m.5 0h3.5M265 562.38h1.5m.5 0h8.5m.5 0h1m.5 0h30.5m.5 0h5M266 562.88h9m.5 0h7.5m.5 0h13m.5 0h16.5M266 563.38h2.5m1 0h4.5m.5 0h5.5m.5 0h11.5m.5 0h9m.5 0h5.5m.5 0h5M265 563.88h1.5m1.5 0h1m.5 0h6.5m1 0h6.5m1 0h9.5m.5 0h2m.5 0h14m1 0h2.5M265.5 564.38h3.5m.5 0h27.5m.5 0h15.5m.5 0h1M266 564.88h1m1.5 0h1.5m.5 0h1.5m1.5 0h2m.5 0h19m.5 0h5m.5 0h1m.5 0h1m.5 0h9.5M266 565.38h1m1.5 0h4.5m.5 0h10.5m.5 0h4.5m.5 0h5m2.5 0h18M269 565.88h24m1 0h9m.5 0h10.5M268 566.38h9m1 0h1m.5 0h3m.5 0h31.5M268.5 566.88h11m1 0h10.5m.5 0h22m.5 0h2m10 0h1.5M268.5 567.38h8m.5 0h3.5m1 0h32m10.5 0h1.5m2 0h3M269 567.88h7.5m.5 0h24m.5 0h4.5m.5 0h4.5m1.5 0h1.5m6.5 0h2.5m.5 0h6m1 0h1M270 568.38h6m.5 0h2.5m.5 0h10m.5 0h11.5m1 0h5.5m.5 0h5.5m4 0h1m1 0h6m1 0h2m2 0h1.5M269.5 568.88h10m.5 0h7.5m.5 0h6.5m.5 0h11m.5 0h2.5m.5 0h3m1.5 0h2m1.5 0h1.5m.5 0h11.5m.5 0h2.5M270.5 569.38h10m1 0h32.5m3.5 0h12m1 0h6.5m30 0h3.5M269.5 569.88h4.5m1.5 0h25.5m.5 0h9.5m.5 0h3.5m.5 0h1m1.5 0h1.5m.5 0h11.5m.5 0h6m27 0h1m1 0h1m1 0h1M270.5 570.38h2.5m.5 0h1m.5 0h6m.5 0h9.5m.5 0h4.5m.5 0h3m.5 0h15.5m.5 0h21m28 0h4.5M271.5 570.88h19.5m.5 0h17m.5 0h6.5m1 0h21m27.5 0h4m1 0h1M273.5 571.38h1m.5 0h4.5m1 0h3.5m1 0h5.5m.5 0h7.5m2 0h8m.5 0h2m1 0h22.5m.5 0h2.5m28.5 0h2m1.5 0h1M273.5 571.88h8.5m.5 0h31.5m1 0h1m2 0h2m.5 0h8.5m.5 0h1m.5 0h10m23.5 0h1m.5 0h3m2.5 0h1M271.5 572.38h2m.5 0h6m.5 0h8m.5 0h8m.5 0h11.5m1 0h1m1.5 0h2m1 0h1.5m.5 0h20m.5 0h1.5m1 0h1.5m24 0h1.5m2 0h3.5M273 572.88h8.5m.5 0h29m.5 0h4m.5 0h4.5m.5 0h1m1 0h5.5m.5 0h1.5m.5 0h11.5m22 0h4.5m.5 0h3.5M273.5 573.38h15.5m.5 0h15m.5 0h6.5m.5 0h7.5m.5 0h7.5m.5 0h15m22 0h4.5m.5 0h3.5M273.5 573.88h2m1 0h13m.5 0h13m.5 0h6m1.5 0h1.5m1 0h1m.5 0h1.5m1 0h2m.5 0h19m.5 0h5m20 0h4m.5 0h4m.5 0h3M274 574.38h6.5m.5 0h2.5m.5 0h20m1 0h5.5m2.5 0h25m.5 0h3.5m.5 0h1m21.5 0h5m.5 0h3.5m.5 0h1M273.5 574.88h3.5m.5 0h6m.5 0h21m.5 0h5m4.5 0h2.5m.5 0h15.5m1 0h7.5m.5 0h1.5m21 0h9.5m.5 0h2M273.5 575.38h1m1.5 0h6m.5 0h25.5m.5 0h2m5 0h2.5m.5 0h5.5m.5 0h17m.5 0h1.5m1 0h1m19 0h4.5m.5 0h6m.5 0h1m.5 0h1M274.5 575.88h20m.5 0h10.5m.5 0h4.5m5.5 0h1m1 0h1.5m.5 0h5m.5 0h8.5m.5 0h2.5m.5 0h8.5m18.5 0h2.5m.5 0h10.5M274 576.38h1m.5 0h3m.5 0h1m.5 0h8m.5 0h6m.5 0h6.5m1 0h4.5m.5 0h2m8 0h5m.5 0h15m1.5 0h6m18.5 0h4.5m.5 0h9M274.5 576.88h6m.5 0h6.5m.5 0h19m.5 0h2m7.5 0h9.5m.5 0h5m.5 0h3.5m.5 0h10m.5 0h1m17 0h13.5M276 577.38h2.5m.5 0h28m1.5 0h1.5m3 0h1m2.5 0h1m.5 0h1m.5 0h4m.5 0h23.5m17.5 0h5.5m2.5 0h1m1 0h4M275.5 577.88h5.5m.5 0h4.5m1 0h10.5m1 0h7.5m2 0h2m3 0h1m1.5 0h1m.5 0h11m.5 0h1m.5 0h2m1 0h6.5m.5 0h8m16.5 0h1m.5 0h5m.5 0h8.5M276 578.38h21m.5 0h7.5m.5 0h2m2 0h1m4 0h1m.5 0h1.5m.5 0h14m.5 0h4m.5 0h11m18.5 0h7.5m.5 0h5.5M277.5 578.88h10.5m.5 0h12m.5 0h2m.5 0h3.5m.5 0h4m3.5 0h1.5m.5 0h1.5m.5 0h9.5m.5 0h2m.5 0h1.5m.5 0h1.5m.5 0h4.5m.5 0h9m16 0h14.5M276.5 579.38h7.5m1 0h1.5m.5 0h1m.5 0h9.5m.5 0h3.5m2 0h8m.5 0h3m1.5 0h2.5m.5 0h12m.5 0h2.5m1 0h2m1.5 0h1m1 0h8m16.5 0h2.5m.5 0h5m.5 0h5.5M276.5 579.88h11m.5 0h16.5m.5 0h3m.5 0h2m.5 0h1m.5 0h1m2 0h1m.5 0h3m.5 0h8m1 0h7.5m.5 0h11.5m18 0h4.5m.5 0h2m.5 0h6M276.5 580.38h3.5m.5 0h10m.5 0h12m.5 0h1m.5 0h6.5m3.5 0h13.5m.5 0h7.5m.5 0h11m2 0h1m14.5 0h3.5m.5 0h5.5m1 0h5.5M276 580.88h1m.5 0h26m.5 0h1m3 0h4m1 0h2m.5 0h6.5m.5 0h3.5m.5 0h7.5m.5 0h5.5m1 0h1.5m.5 0h3.5m.5 0h3m16 0h4.5m.5 0h3.5m.5 0h6M278.5 581.38h2m.5 0h16m.5 0h15m1 0h1m1.5 0h19.5m.5 0h1m.5 0h12.5m15 0h1m.5 0h15M277.5 581.88h8.5m1.5 0h6.5m.5 0h1m1 0h3.5m.5 0h4.5m1 0h1m.5 0h4.5m1 0h1.5m3 0h18.5m.5 0h3m.5 0h8m1 0h3.5m11 0h1m.5 0h1m.5 0h15.5M278 582.38h10m1 0h8m.5 0h1.5m.5 0h5m1 0h4.5m6 0h3.5m.5 0h2m.5 0h15m.5 0h12.5m.5 0h2m10.5 0h18M277.5 582.88h17m.5 0h3.5m.5 0h1m.5 0h2.5m.5 0h1.5m1 0h1m1 0h2m1 0h1m5.5 0h10m.5 0h16m.5 0h8.5m11.5 0h2.5m.5 0h5.5m1 0h8.5M277 583.38h25m.5 0h1.5m1.5 0h4m1.5 0h1.5m1.5 0h1m1 0h9m.5 0h13.5m1 0h13.5m10 0h15m.5 0h3.5M277.5 583.88h18m.5 0h5.5m7 0h3.5m.5 0h2m2 0h1m1 0h9m.5 0h8.5m.5 0h2.5m.5 0h6.5m1.5 0h5.5m9 0h6.5m.5 0h13M276.5 584.38h1.5m.5 0h17m1.5 0h3m1 0h4m1 0h5m1.5 0h3.5m2.5 0h19m1 0h14.5m1 0h1m7.5 0h19.5M276.5 584.88h2m1 0h7.5m.5 0h12m.5 0h1m1 0h1.5m.5 0h2m1 0h1m.5 0h4.5m.5 0h2m2.5 0h1m.5 0h17m.5 0h1.5m1 0h15.5m7.5 0h9.5m.5 0h10M276.5 585.38h5m.5 0h1m.5 0h12m1.5 0h3.5m.5 0h1m5 0h3m.5 0h2.5m4 0h1m.5 0h22.5m.5 0h10.5m1 0h3m7.5 0h6m.5 0h7m.5 0h5M275.5 585.88h13m.5 0h5m2.5 0h4.5m.5 0h1m3 0h1m.5 0h2m1 0h3.5m3.5 0h1m.5 0h12.5m.5 0h3m1 0h5.5m.5 0h15m6 0h6.5m.5 0h11.5M275.5 586.38h2m1 0h14.5m4 0h2m.5 0h1.5m.5 0h2m.5 0h1m3 0h1m1.5 0h2.5m1.5 0h1.5m.5 0h1m.5 0h6.5m.5 0h6.5m1 0h4.5m.5 0h1m.5 0h14m.5 0h2.5m.5 0h1m3 0h2m.5 0h7m.5 0h4m.5 0h1.5m.5 0h4M274.5 586.88h7m.5 0h1m1 0h12m1 0h1m1.5 0h2m2.5 0h1.5m4 0h1.5m.5 0h2.5m1 0h1m1.5 0h11m.5 0h4m1 0h7m.5 0h9m1 0h5m4 0h1m1 0h11m.5 0h8M274 587.38h2.5m.5 0h2m.5 0h1.5m1 0h3.5m.5 0h3.5m.5 0h2m2 0h8.5m1 0h3.5m1.5 0h5m1.5 0h2.5m1 0h15m1 0h5m.5 0h10m.5 0h1m.5 0h7.5m.5 0h2.5m1 0h6.5m.5 0h1m.5 0h7.5m.5 0h1.5M273.5 587.88h3m.5 0h3.5m.5 0h2m.5 0h7.5m.5 0h2.5m.5 0h5.5m1 0h1m3 0h2m1 0h1.5m.5 0h4m1.5 0h1m1.5 0h3m.5 0h3m1 0h4m1 0h1m.5 0h2.5m.5 0h4m.5 0h3.5m.5 0h8m.5 0h6.5m.5 0h9.5m1 0h1m.5 0h11.5M272 588.38h1m1 0h4m.5 0h17m.5 0h3.5m.5 0h1m1 0h4m3 0h4m5 0h11.5m.5 0h6m.5 0h9.5m.5 0h16m.5 0h1m1 0h1m.5 0h2m.5 0h9.5m.5 0h2m.5 0h1M271.5 588.88h1.5m1 0h8.5m.5 0h16.5m1 0h6.5m2.5 0h3m2.5 0h1m1 0h1.5m1 0h19m.5 0h2m.5 0h25.5m1.5 0h1.5m1.5 0h5m.5 0h5M271.5 589.38h1m1 0h1.5m.5 0h6.5m1 0h2m.5 0h2m1 0h3m.5 0h7m2 0h2.5m.5 0h3m7.5 0h23.5m.5 0h20m1 0h3.5m3 0h1.5m.5 0h11m.5 0h2M270.5 589.88h2.5m.5 0h8.5m1 0h4m1 0h3.5m.5 0h7.5m1 0h1m.5 0h5m.5 0h1m4 0h1m6.5 0h42.5m.5 0h1m1.5 0h5.5m.5 0h9M270.5 590.38h3m1 0h8.5m1.5 0h1m.5 0h10.5m.5 0h1.5m1 0h8m3 0h1m.5 0h1m1.5 0h17.5m.5 0h3.5m1.5 0h20.5m1 0h4m.5 0h3m2 0h1.5m.5 0h1m.5 0h2.5m.5 0h5.5M269.5 590.88h9.5m1 0h1.5m.5 0h1.5m.5 0h11m1.5 0h12.5m1.5 0h2.5m1 0h1m2 0h3.5m.5 0h2m.5 0h18.5m.5 0h11.5m.5 0h3m2.5 0h7m1 0h11M269.5 591.38h6.5m.5 0h6m1.5 0h1m.5 0h9.5m.5 0h1m1 0h4m1 0h5m2 0h1m.5 0h2m1 0h35.5m.5 0h5m.5 0h3m1 0h1m2.5 0h3m2 0h1m.5 0h5.5m.5 0h3.5M269 591.88h6m1 0h3m.5 0h2m4 0h9.5m2.5 0h2m.5 0h4.5m.5 0h5m1.5 0h1m.5 0h10.5m.5 0h13m.5 0h2.5m1.5 0h14m1 0h1m1.5 0h1.5m1 0h6m.5 0h11.5M268 592.38h1m1 0h2m.5 0h8m.5 0h1m3 0h6m.5 0h3.5m2.5 0h11m.5 0h2.5m.5 0h9.5m2.5 0h1m.5 0h3.5m.5 0h1m.5 0h1m1 0h2.5m.5 0h16.5m.5 0h2m3.5 0h1m.5 0h6m.5 0h1.5m1.5 0h3m2 0h4.5M268.5 592.88h9m.5 0h3m.5 0h1m2 0h7.5m.5 0h3m1 0h1m1 0h10m1 0h2.5m1.5 0h8.5m2.5 0h1m.5 0h1m1 0h8m.5 0h5.5m1 0h13m4 0h5m.5 0h1.5m2.5 0h4m.5 0h4M269 593.38h3.5m1.5 0h4.5m2 0h1.5m1 0h1m1.5 0h11m1 0h2m2.5 0h2m.5 0h5.5m3 0h5.5m.5 0h2.5m1 0h1m1.5 0h9.5m1 0h1m.5 0h8m.5 0h8.5m6 0h1.5m.5 0h11m1 0h3.5M268 593.88h1m.5 0h7m.5 0h6m.5 0h14m.5 0h5m1.5 0h2m1 0h3m4 0h2.5m1 0h1.5m4.5 0h10m.5 0h10m1 0h1.5m.5 0h9.5m3 0h2m.5 0h4m1 0h2.5m1.5 0h1m1 0h5M267.5 594.38h5.5m1 0h3m2 0h4m.5 0h8.5m.5 0h2m1.5 0h7.5m1.5 0h1m2.5 0h2m2.5 0h1m1.5 0h2m1 0h1m2 0h1m.5 0h1m.5 0h3.5m1.5 0h6.5m.5 0h8m1 0h11m1 0h1.5m1.5 0h6m.5 0h3m.5 0h2m1.5 0h2M267.5 594.88h1.5m1 0h2.5m1.5 0h1.5m.5 0h17m.5 0h2.5m.5 0h4.5m3.5 0h1.5m1 0h1m1 0h2m12 0h1m.5 0h2m.5 0h7m.5 0h3.5m.5 0h2m1 0h2.5m1 0h13m1.5 0h1m1 0h3.5m1.5 0h3m.5 0h7.5M270 595.38h3m.5 0h2.5m.5 0h2.5m.5 0h3.5m2 0h8.5m.5 0h9m3.5 0h1m.5 0h1m7 0h1m10 0h2m.5 0h10m1 0h5m1 0h1m.5 0h9.5m2 0h1m1 0h4.5m.5 0h9.5M265.5 595.88h2m.5 0h3m1 0h1m.5 0h4.5m1.5 0h22.5m7 0h1m11 0h1.5m6.5 0h1m1 0h1m.5 0h6m.5 0h19m2 0h1m.5 0h15.5M266.5 596.38h2.5m1 0h3m.5 0h3m1 0h2m1.5 0h11m.5 0h4m2 0h3m6 0h1.5m1 0h1m11 0h1.5m1.5 0h1m.5 0h1m1 0h27.5m.5 0h1m.5 0h1m3.5 0h5m.5 0h2m1 0h4.5M265.5 596.88h3.5m1.5 0h2.5m1 0h2.5m4 0h1m1.5 0h10m.5 0h1.5m.5 0h7m4.5 0h2m11.5 0h1m1.5 0h1m.5 0h9.5m1 0h14m1.5 0h5.5m1.5 0h1m1 0h1m.5 0h3m.5 0h7m1 0h3M265 597.38h5.5m.5 0h9.5m.5 0h7.5m.5 0h2m.5 0h3m.5 0h3.5m2 0h1m3.5 0h1m3 0h2m4 0h1m4 0h1m4 0h2m.5 0h7m2 0h2.5m.5 0h14.5m.5 0h3.5m.5 0h1m3.5 0h6m1 0h5.5M264.5 597.88h11m.5 0h7.5m1.5 0h5.5m1 0h5m.5 0h3.5m1 0h1m8 0h1.5m3.5 0h1m9.5 0h7m1 0h4m.5 0h1.5m.5 0h6m.5 0h1.5m1 0h10m2.5 0h2m1 0h8m1 0h1M264.5 598.38h26m.5 0h8.5m5.5 0h1.5m1 0h1m2 0h1.5m1.5 0h1m2 0h1m1.5 0h1m1 0h1m2 0h1.5m.5 0h2m1.5 0h4.5m1 0h21.5m.5 0h3m2 0h4.5m.5 0h2.5m.5 0h3.5m1 0h1M265 598.88h2.5m.5 0h2.5m.5 0h3.5m.5 0h2m.5 0h4m.5 0h5.5m1 0h2m.5 0h5m1 0h1m1.5 0h6.5m5 0h1m2 0h1m1.5 0h1m2 0h4.5m4.5 0h2m.5 0h3m.5 0h3m.5 0h13m.5 0h8m2 0h3m1.5 0h5.5m1 0h1M263.5 599.38h1.5m.5 0h7m1 0h5m1 0h2m1.5 0h16m3 0h1m.5 0h1.5m4.5 0h1m2 0h1m5.5 0h2.5m.5 0h1.5m2.5 0h11.5m.5 0h1m.5 0h3.5m1.5 0h10m.5 0h1m.5 0h6.5m.5 0h6m.5 0h1m.5 0h2M263 599.88h4.5m.5 0h9m2 0h6m.5 0h1m2 0h2m.5 0h7m.5 0h1m3.5 0h2.5m1.5 0h1m1.5 0h2.5m6.5 0h1m3.5 0h1.5m1 0h1m.5 0h1m2 0h14.5m.5 0h1m.5 0h5m.5 0h1m.5 0h8.5m2 0h4.5m.5 0h1.5m1 0h2.5M263 600.38h7.5m1.5 0h1.5m.5 0h8m1 0h2.5m1.5 0h3m.5 0h8.5m1.5 0h2m1.5 0h1m1 0h1m2 0h1.5m9.5 0h1m3 0h1m1 0h2m1 0h1m1 0h3m.5 0h24.5m.5 0h1m1 0h2m.5 0h10.5M263.5 600.88h1m.5 0h1m.5 0h1.5m1 0h1m1 0h4.5m1 0h1m.5 0h1.5m.5 0h1.5m2 0h2.5m.5 0h1.5m.5 0h1m1 0h5m.5 0h3m1.5 0h1.5m1 0h9.5m7.5 0h1m11.5 0h7m.5 0h4m1.5 0h5.5m1 0h8m.5 0h1m2 0h7m.5 0h1m.5 0h2M263 601.38h7m3 0h1m1.5 0h1m.5 0h2.5m3.5 0h1.5m.5 0h3m2 0h9m.5 0h3m1 0h3m1 0h2.5m.5 0h2.5m7 0h1.5m5 0h1.5m1.5 0h1m1.5 0h7m2 0h2.5m1.5 0h9m.5 0h2m.5 0h5m1 0h9.5M261.5 601.88h1.5m.5 0h2m1 0h1.5m.5 0h1.5m7 0h1m.5 0h2m4 0h1m.5 0h1.5m3 0h7.5m1 0h1.5m.5 0h2m.5 0h2.5m1 0h1m.5 0h1m2 0h1.5m9.5 0h1.5m2.5 0h2m4.5 0h1m.5 0h4m1 0h11.5m.5 0h5m1 0h5m.5 0h1m1 0h1.5m.5 0h7.5M261.5 602.38h1m1.5 0h6m8 0h1m.5 0h2.5m2.5 0h1.5m1 0h1m1 0h4m1 0h2m1 0h1m1 0h8.5m1.5 0h1m.5 0h2m7.5 0h1m1 0h1m.5 0h1m2 0h2m1.5 0h2m.5 0h14.5m.5 0h7.5m.5 0h5m.5 0h13.5M260.5 602.88h1m.5 0h1m.5 0h1.5m1 0h4.5m2 0h2m1 0h1m1 0h2.5m11 0h1m1 0h5.5m1 0h1m1 0h4m1 0h2m2.5 0h2m10.5 0h1m1.5 0h1.5m3 0h9.5m1 0h5m.5 0h6m3 0h15.5m.5 0h3M261.5 603.38h3.5m.5 0h2m.5 0h1.5m.5 0h1m1 0h1m2 0h2m.5 0h2.5m2.5 0h1m.5 0h1m3 0h1m.5 0h6.5m.5 0h4.5m.5 0h5.5m2 0h1.5m4 0h1m4.5 0h1m1.5 0h1m1 0h1m1 0h1m5 0h5m1 0h6m.5 0h4.5m.5 0h1.5m1 0h1m2 0h3.5m.5 0h2m1 0h3.5m1 0h2.5m.5 0h3M260.5 603.88h1m.5 0h3.5m.5 0h4m4.5 0h4.5m1 0h1m.5 0h1.5m.5 0h1m.5 0h1m2 0h1m1.5 0h8.5m1.5 0h1.5m1.5 0h2m1 0h1m1.5 0h4m1 0h1m.5 0h1m7.5 0h1m.5 0h1.5m2 0h1m1 0h5m.5 0h2m.5 0h8m1 0h3m1 0h1m3 0h4m2 0h3.5m3.5 0h1.5m.5 0h1.5M260.5 604.38h5m.5 0h4m2 0h1m1 0h2m1.5 0h4.5m1 0h1m2 0h1m.5 0h2.5m1 0h2.5m.5 0h4m.5 0h7.5m3.5 0h2m.5 0h2.5m1.5 0h1m1 0h2m4.5 0h3m.5 0h1m2.5 0h7m1 0h12m4.5 0h17M260.5 604.88h3.5m1 0h1m.5 0h1m1.5 0h1.5m.5 0h5.5m1.5 0h3.5m.5 0h1m.5 0h1.5m3 0h2m1.5 0h7m1 0h2m.5 0h5m4 0h3m4.5 0h1m1 0h1m3 0h1.5m5 0h16m.5 0h2m.5 0h2.5m3.5 0h14.5m1 0h1.5M260 605.38h7.5m1.5 0h2.5m3.5 0h1.5m4.5 0h2m3 0h4m1.5 0h14.5m1.5 0h2m.5 0h1m6 0h1m.5 0h2m3.5 0h1.5m1 0h1m4 0h2.5m2 0h2m.5 0h5.5m2 0h2.5m.5 0h1m6.5 0h1m.5 0h15.5M262 605.88h1.5m.5 0h1.5m1 0h1m1.5 0h4.5m1.5 0h2m1 0h2m.5 0h1m4 0h2m.5 0h2m2 0h9.5m.5 0h4m1 0h1m2.5 0h2m.5 0h1m1.5 0h1.5m5 0h2m1 0h1.5m5 0h3.5m2 0h1m.5 0h2.5m.5 0h6.5m.5 0h1m8.5 0h1m1 0h4.5m.5 0h4m2.5 0h2.5M260 606.38h4m1 0h1m.5 0h1m1 0h1m1 0h4m.5 0h3m3 0h1m3.5 0h1m.5 0h3.5m1 0h1m.5 0h9m.5 0h4m3.5 0h1.5m3.5 0h3m.5 0h1.5m8 0h1m.5 0h1m2.5 0h2m2.5 0h4.5m.5 0h6m7.5 0h1.5m1 0h6.5m.5 0h1m.5 0h1.5m2 0h2.5M259.5 606.88h8.5m1 0h5m1.5 0h1m2.5 0h1m.5 0h2m.5 0h1m1 0h8m.5 0h3m.5 0h5m1.5 0h1m1 0h1m1 0h1m2.5 0h2m1 0h3m5.5 0h4m.5 0h2m1 0h1m2.5 0h2m1 0h6m.5 0h5m8 0h3m1.5 0h1.5m1.5 0h2m1.5 0h1m.5 0h2m1.5 0h1M262 607.38h2m.5 0h1.5m.5 0h1m.5 0h1.5m.5 0h4m1 0h1m4.5 0h1m2.5 0h3m.5 0h2.5m.5 0h12m1 0h1m1 0h1.5m4 0h1m1 0h3m.5 0h1m5.5 0h3m1.5 0h3m5 0h1.5m1.5 0h2m2 0h2m.5 0h3.5m.5 0h1m7.5 0h1.5m1.5 0h2m1.5 0h1m1 0h1M259.5 607.88h1m2 0h1.5m.5 0h4m.5 0h2m.5 0h3m.5 0h3m3 0h1m.5 0h6.5m.5 0h11.5m.5 0h1m1.5 0h1m6 0h3m2 0h2m1 0h1m.5 0h1m4 0h1m1 0h1.5m3.5 0h8.5m2 0h3m.5 0h2m9 0h2m1.5 0h3m.5 0h1m2 0h1M259.5 608.38h2m1 0h1.5m.5 0h5.5m1.5 0h1m2 0h2.5m.5 0h1m.5 0h1.5m2.5 0h2.5m.5 0h1.5m2.5 0h6m1 0h4.5m2 0h3m1.5 0h1m1 0h1m1.5 0h2.5m.5 0h1m.5 0h1m1.5 0h1m3.5 0h3m9 0h2.5m1.5 0h3m.5 0h4.5m8.5 0h7m1 0h1.5M261 608.88h1.5m1 0h1m1.5 0h4.5m2.5 0h2m.5 0h1.5m1.5 0h1m4.5 0h5m.5 0h8.5m.5 0h3m4.5 0h1m2 0h3.5m3 0h1.5m7 0h1.5m4.5 0h2.5m.5 0h2.5m1.5 0h1.5m3.5 0h6.5m9.5 0h6.5m.5 0h1M259.5 609.38h1.5m.5 0h3.5m1 0h1m.5 0h3m3.5 0h2m1 0h1m.5 0h4m3 0h3m1.5 0h2m1 0h1m.5 0h4m.5 0h2.5m.5 0h1m5 0h1.5m.5 0h1m4 0h2.5m1 0h1m12.5 0h2m3 0h1.5m.5 0h2m1.5 0h4.5m11 0h4m.5 0h2m1 0h1M261 609.88h7.5m1 0h2.5m5.5 0h5m3 0h3m1 0h4m.5 0h4.5m1 0h5.5m5.5 0h1m1 0h5m5 0h2m7.5 0h2m.5 0h1.5m2 0h2m.5 0h2m2 0h3.5m8.5 0h8.5M261 610.38h9.5m.5 0h1m4 0h3m1 0h3.5m2 0h4.5m.5 0h1m1.5 0h5.5m1 0h5m4 0h1.5m1 0h3m3.5 0h2m11.5 0h3m.5 0h5m1 0h3m1 0h1m13 0h1.5m.5 0h1.5M261.5 610.88h4.5m.5 0h6m2.5 0h1m.5 0h2.5m.5 0h1m1.5 0h1.5m2.5 0h1m.5 0h1m.5 0h5.5m.5 0h3m.5 0h1.5m1 0h1m1.5 0h1m3 0h2m.5 0h1.5m1.5 0h1m2.5 0h1m5 0h2m5.5 0h8.5m1 0h4m1 0h2m11 0h1m.5 0h4.5M260.5 611.38h2m1 0h6m1.5 0h1.5m3.5 0h5.5m4 0h3.5m3 0h5.5m1 0h1.5m6.5 0h3.5m1 0h1.5m.5 0h3.5m1 0h1.5m10 0h1m4 0h4.5m.5 0h5m14.5 0h1.5m.5 0h1.5m.5 0h1M261 611.88h3.5m1 0h3.5m.5 0h1m1 0h1m3.5 0h1m1 0h3m1.5 0h1m2.5 0h1m.5 0h3m2 0h3.5m.5 0h2m1 0h1m2 0h1.5m1 0h1m4 0h1.5m.5 0h1.5m.5 0h3m1.5 0h1m5.5 0h1m5.5 0h1m1 0h12m11 0h2m1 0h2.5M260.5 612.38h1m1 0h9m3.5 0h3m3 0h2.5m3.5 0h2m3 0h8m4 0h1m6 0h1m2.5 0h2m3 0h1m9.5 0h1m3 0h7.5m3 0h1m11.5 0h1.5m1.5 0h1.5m.5 0h1M261 612.88h9.5m4.5 0h2.5m1.5 0h2m1 0h2m.5 0h3m1 0h12.5m12 0h3.5m15 0h9m17 0h1.5m2 0h1.5M261 613.38h3.5m.5 0h6m3 0h3m.5 0h1.5m.5 0h1m2.5 0h5.5m1 0h1m1.5 0h6.5m1 0h2.5m1 0h1m7 0h1m11 0h1m7.5 0h1m1.5 0h1.5m.5 0h1.5m1 0h2m17.5 0h1M262 613.88h3m1 0h4.5m1 0h1m1.5 0h4m.5 0h2m1 0h1m1 0h5.5m2.5 0h5.5m.5 0h1m.5 0h4m.5 0h1m2 0h1m5 0h2.5m7 0h2.5m2.5 0h1m3 0h3.5m.5 0h1.5m.5 0h4m17.5 0h1m.5 0h1M262 614.38h3.5m1 0h4.5m1 0h1m2 0h1m1 0h3.5m3 0h2m.5 0h2m1 0h11m1.5 0h3m8 0h1m1 0h1m6 0h1m.5 0h2m1.5 0h1m2.5 0h1m.5 0h2m1 0h4m.5 0h1m1 0h1m18 0h1M263 614.88h11m1.5 0h2m1.5 0h1.5m2 0h5.5m1.5 0h1m.5 0h7.5m.5 0h7.5m7 0h2m.5 0h1.5m6.5 0h1m2 0h1m.5 0h3.5m1.5 0h5m1 0h1M263 615.38h15.5m.5 0h1m3 0h1m2.5 0h1m3 0h2.5m.5 0h8.5m.5 0h3m6.5 0h2.5m.5 0h1m.5 0h2m2 0h1m9 0h1m.5 0h1.5m.5 0h6m1.5 0h1M264 615.88h1m.5 0h1m.5 0h6.5m1.5 0h1m.5 0h1m6 0h5m2 0h6.5m.5 0h6.5m6.5 0h1m1 0h2m2 0h1.5m.5 0h1m4 0h1m3.5 0h5m1 0h4.5M267 616.38h10m3.5 0h1.5m1 0h5.5m1 0h1.5m.5 0h2.5m.5 0h3m.5 0h6m5.5 0h1m5 0h1m1 0h3m2.5 0h1m3.5 0h11.5m10.5 0h1M266 616.88h2m1 0h7.5m4.5 0h2.5m1.5 0h3m.5 0h16m2 0h1m3 0h1m3 0h1m1.5 0h2m3 0h2m3.5 0h1m.5 0h2.5m.5 0h6m.5 0h1m8.5 0h1m3 0h2M265.5 617.38h1.5m1 0h8.5m5.5 0h7m.5 0h1m.5 0h3.5m1 0h7.5m1 0h1m10 0h2m.5 0h1.5m3.5 0h1.5m4.5 0h3.5m.5 0h2.5m1.5 0h3.5m.5 0h1m1.5 0h1m4.5 0h1m3 0h1M265.5 617.88h2m.5 0h8m5.5 0h2m2 0h4.5m2 0h1.5m1.5 0h9.5m2 0h1m9 0h2.5m8 0h1m1.5 0h4m1.5 0h1.5m.5 0h2m3 0h1m.5 0h2m.5 0h2.5m5 0h2.5M266.5 618.38h1m.5 0h9.5m1.5 0h1m1 0h26.5m1 0h1m19.5 0h2m.5 0h2m.5 0h5.5m9.5 0h1m2.5 0h2M267.5 618.88h3.5m.5 0h4.5m.5 0h1m2.5 0h5.5m.5 0h4.5m.5 0h9.5m.5 0h3.5m.5 0h1.5m2.5 0h1m20.5 0h7m1 0h1m3 0h1.5m.5 0h1m1 0h2.5m4 0h1M268 619.38h2m.5 0h1m.5 0h1.5m.5 0h1m.5 0h6m.5 0h25m11 0h1m5.5 0h1m2 0h1m1.5 0h2.5m.5 0h7m4 0h1m1.5 0h2.5m.5 0h1M269.5 619.88h8.5m1.5 0h12.5m.5 0h4m.5 0h10.5m4.5 0h1m10.5 0h4m4 0h7.5m8.5 0h1m6.5 0h1M272 620.38h9m1.5 0h3m.5 0h4.5m1 0h13m1 0h1m1 0h1m1.5 0h2.5m9.5 0h6m2.5 0h4m.5 0h2.5m1.5 0h1m2 0h1m1.5 0h1.5m1 0h2M271 620.88h1.5m.5 0h10m.5 0h2.5m.5 0h8.5m.5 0h2m.5 0h7.5m1 0h2.5m2 0h1m9 0h2m.5 0h2m1.5 0h1m1 0h7.5m10.5 0h1M270.5 621.38h2m.5 0h10.5m.5 0h2.5m.5 0h2.5m1 0h16.5m1 0h4.5m8 0h1m2 0h2m2 0h1m1.5 0h6m4 0h3m2 0h1m.5 0h1M271.5 621.88h1m.5 0h1m.5 0h1m.5 0h2.5m1 0h1.5m.5 0h1m2 0h11m.5 0h3m.5 0h2m.5 0h11.5m.5 0h1m6 0h3m4 0h4.5m.5 0h1.5m.5 0h1m1 0h2m1 0h1m1 0h1m1 0h2m.5 0h1m.5 0h1M271 622.38h4.5m1 0h2m.5 0h7.5m.5 0h7.5m.5 0h2.5m.5 0h4m1 0h5.5m1 0h1.5m1.5 0h1m6.5 0h2.5m4.5 0h1m1 0h2.5m.5 0h1m.5 0h1m4 0h1m1 0h1m3 0h1m4 0h1M270.5 622.88h1m1.5 0h2m.5 0h2.5m.5 0h3.5m.5 0h2.5m2 0h1m.5 0h13.5m.5 0h6m2.5 0h1m1 0h1.5m3.5 0h1m.5 0h1m1 0h1m3 0h1m1 0h6m1.5 0h1m1.5 0h2.5m1 0h2.5m.5 0h1m2 0h2.5M273.5 623.38h1m2 0h4m2.5 0h2.5m3 0h13m1 0h4.5m.5 0h2.5m.5 0h1m2 0h1m3.5 0h5m1.5 0h2.5m.5 0h7m6.5 0h1m2.5 0h1m1.5 0h1M273 623.88h1m2.5 0h5m.5 0h1m.5 0h1.5m2 0h9.5m.5 0h5m1 0h1m.5 0h5.5m2 0h2m5 0h4.5m4 0h6.5m6.5 0h2.5m3 0h1M275 624.38h1m2 0h1m2.5 0h1.5m3 0h1m.5 0h18m1 0h5.5m1 0h1m4.5 0h1.5m1 0h1m1 0h3.5m1.5 0h6m4 0h1m3 0h1M276 624.88h4.5m.5 0h3m1 0h1m1 0h11m.5 0h3m.5 0h7.5m.5 0h2m3 0h1.5m3 0h1m2 0h1.5m1 0h1.5m1 0h2m.5 0h3.5m7.5 0h1M275 625.38h7.5m.5 0h1.5m.5 0h3.5m1 0h13m.5 0h3m1 0h5m1 0h3m3 0h1.5m.5 0h1m6 0h4.5m7 0h1m.5 0h1M275.5 625.88h1m2 0h5.5m1.5 0h3.5m3 0h14m1 0h1m.5 0h4m2 0h2m8 0h8m4.5 0h2m1.5 0h2M278 626.38h1m.5 0h5m1 0h3m3 0h10.5m.5 0h2m1.5 0h6.5m.5 0h2.5m.5 0h1m1 0h1m2 0h1m2 0h3m1.5 0h3M278 626.88h4.5m.5 0h1.5m.5 0h4.5m1.5 0h1m.5 0h5.5m.5 0h5.5m.5 0h1m2 0h2m.5 0h5.5m.5 0h2.5m4.5 0h2.5m2.5 0h5m8 0h1M276.5 627.38h1m.5 0h1m1 0h1m.5 0h3.5m1 0h2.5m4.5 0h3m.5 0h2.5m.5 0h2m1.5 0h2m1.5 0h2m.5 0h2m.5 0h3.5m1.5 0h2m2.5 0h7.5m2.5 0h1M280 627.88h5.5m.5 0h2.5m4.5 0h5m1.5 0h2m.5 0h2.5m1.5 0h3m1 0h2m3 0h4m4 0h6.5m11.5 0h1M280 628.38h1m.5 0h2.5m.5 0h3.5m1.5 0h1m2 0h12.5m.5 0h1m4 0h1m1.5 0h2m2 0h1m.5 0h1m2.5 0h3m.5 0h4m6.5 0h2M279 628.88h1m.5 0h2.5m.5 0h6.5m4.5 0h1m1 0h3m1.5 0h8m.5 0h5.5m1.5 0h2.5m3 0h1.5m.5 0h5m6 0h1m.5 0h1m1 0h1M281 629.38h7m1 0h1.5m4 0h4m.5 0h3m.5 0h3.5m.5 0h1.5m1.5 0h3m.5 0h2m1.5 0h1m.5 0h1m1.5 0h9m6.5 0h1m1.5 0h1M282 629.88h8.5m.5 0h2m2.5 0h1.5m.5 0h2m1.5 0h7.5m.5 0h5m1 0h1.5m1.5 0h1m1 0h10m6.5 0h1M282 630.38h2.5m.5 0h1m.5 0h3m1.5 0h1.5m1 0h1m5 0h9m1 0h2m.5 0h1m1 0h2m5 0h6m8.5 0h1M284.5 630.88h5.5m1.5 0h2m.5 0h1.5m2 0h1m.5 0h1m.5 0h1.5m1.5 0h3.5m.5 0h2.5m.5 0h1m2.5 0h4m1 0h1.5m1 0h1.5m.5 0h1m1 0h1.5M283.5 631.38h1m.5 0h3m2.5 0h5m1.5 0h1.5m.5 0h8m1 0h4m.5 0h3m2.5 0h3.5m1.5 0h1M284.5 631.88h5.5m1 0h3.5m.5 0h1m2 0h7m.5 0h5m.5 0h2.5m.5 0h2m1.5 0h4m.5 0h2m2.5 0h1M286 632.38h9.5m.5 0h1m.5 0h6.5m2 0h3m.5 0h7m1 0h2.5m1.5 0h2m3.5 0h1M285.5 632.88h8.5m1.5 0h1m2.5 0h1.5m.5 0h3m.5 0h1m.5 0h4.5m.5 0h3m.5 0h2.5m.5 0h6m2.5 0h2M286 633.38h1.5m.5 0h6m1.5 0h2.5m1.5 0h1.5m.5 0h1.5m1 0h3.5m.5 0h13m1 0h4m1 0h1M287 633.88h10.5m1.5 0h1m1.5 0h6.5m.5 0h13.5m.5 0h5M287 634.38h10m3 0h9m.5 0h3m1 0h14M288 634.88h7m1 0h1m.5 0h1.5m2 0h17.5m.5 0h8.5M289 635.38h6.5m1.5 0h1m.5 0h1m.5 0h19m.5 0h1m.5 0h6M288.5 635.88h3.5m.5 0h5m.5 0h1m1.5 0h10.5m.5 0h11.5m.5 0h2.5M289.5 636.38h8.5m4 0h6m.5 0h3.5m.5 0h11m1 0h1M289 636.88h6.5m1 0h1m.5 0h1m.5 0h2.5m1 0h4m.5 0h3.5m1 0h5.5m1.5 0h2m1.5 0h2M291 637.38h2m.5 0h3m2.5 0h9m.5 0h11m.5 0h4.5m.5 0h1M290 637.88h1m1 0h1.5m1 0h2.5m.5 0h7.5m.5 0h1m1 0h8m2 0h1m.5 0h5M291 638.38h1m1 0h2m.5 0h1.5m1 0h2.5m1.5 0h2.5m.5 0h3.5m.5 0h4m1 0h1.5m1 0h1.5m1 0h1m.5 0h4.5M294.5 638.88h6.5m1 0h8m.5 0h12.5m1 0h2.5M292.5 639.38h9m1.5 0h17.5m.5 0h3M293 639.88h2m1 0h5m2 0h16.5m.5 0h2.5m.5 0h1m.5 0h1M294.5 640.38h18.5m.5 0h1.5m.5 0h6m1 0h1M295 640.88h4m.5 0h3m1 0h4m1 0h8m.5 0h1.5m.5 0h3m.5 0h1M293.5 641.38h6.5m.5 0h8.5m.5 0h6.5m.5 0h7.5M295 641.88h1.5m.5 0h8m1 0h9.5m.5 0h1m1 0h4.5m1 0h1M294.5 642.38h7.5m.5 0h1m.5 0h2.5m.5 0h1m.5 0h12m.5 0h2M295 642.88h11m1.5 0h1m.5 0h15M295 643.38h1m.5 0h6.5m1.5 0h3m.5 0h6m.5 0h7m1 0h2M295 643.88h6m.5 0h2m.5 0h3m.5 0h1.5m.5 0h14.5M296 644.38h2.5m1 0h5m1 0h1m.5 0h2m.5 0h13m.5 0h2M296 644.88h1m1 0h2m2 0h1m.5 0h2m.5 0h6.5m1 0h2m.5 0h7M297.5 645.38h1.5m.5 0h3m5 0h1m.5 0h4.5m2 0h9M298.5 645.88h5m.5 0h2m1.5 0h2m.5 0h4m.5 0h8m.5 0h1M299 646.38h9.5m.5 0h4.5m.5 0h7.5m1 0h1M298 646.88h2.5m1 0h3m1 0h2.5m.5 0h1m.5 0h6m.5 0h3m2 0h1.5m1.5 0h2M299 647.38h7.5m.5 0h6.5m1 0h3.5m.5 0h5m1 0h2M298 647.88h23.5m1 0h3.5M298.5 648.38h17.5m.5 0h4m.5 0h4m.5 0h1.5M299.5 648.88h5m1 0h11.5m.5 0h11M300.5 649.38h19.5m.5 0h7.5M300.5 649.88h6.5m.5 0h1m.5 0h10m1 0h4.5m1 0h2.5M300.5 650.38h6m.5 0h10.5m.5 0h11.5M300 650.88h28.5M300.5 651.38h1m.5 0h2.5m1 0h6m1 0h6m.5 0h1m.5 0h7.5m.5 0h1m2 0h1M301 651.88h6m1 0h9.5m.5 0h1.5m1 0h10m1 0h1M301.5 652.38h4m1 0h1.5m.5 0h1m1 0h9.5m.5 0h10.5M301.5 652.88h3.5m1 0h5.5m.5 0h6m.5 0h1m.5 0h12M302.5 653.38h2m2.5 0h2.5m.5 0h18.5m1 0h3M302.5 653.88h1m.5 0h1m1 0h9.5m.5 0h3.5m1.5 0h11M250 654.38h1m3 0h1m2.5 0h2m3.5 0h1m38.5 0h2m1.5 0h12m.5 0h2m1 0h11.5M253 654.88h2.5m1 0h1.5m2.5 0h3m40.5 0h1.5m.5 0h9m.5 0h5.5m.5 0h10.5M251.5 655.38h4m1.5 0h3.5m.5 0h4.5m38.5 0h17.5m.5 0h7.5m.5 0h4m3.5 0h1M253 655.88h12.5m38.5 0h2.5m.5 0h21m.5 0h2m1.5 0h2.5M249 656.38h1m1.5 0h5m.5 0h10m36 0h1.5m2 0h4m.5 0h21m.5 0h1.5m.5 0h1m2 0h3.5M251.5 656.88h16.5m38.5 0h13m.5 0h8.5m1.5 0h1m.5 0h4.5m1 0h3.5m.5 0h1.5M250.5 657.38h11.5m.5 0h4.5m38.5 0h8m.5 0h11.5m.5 0h4m.5 0h6m.5 0h3m.5 0h2.5M250 657.88h5m1 0h2.5m.5 0h5.5m.5 0h2.5m38 0h14m.5 0h6m.5 0h6m.5 0h10M250.5 658.38h9.5m.5 0h1m.5 0h1.5m.5 0h4.5m36 0h20m.5 0h1m.5 0h4m.5 0h10.5m4.5 0h1M251 658.88h18m36.5 0h7.5m.5 0h2.5m.5 0h6m1 0h17.5m.5 0h1m.5 0h1m10 0h1M250 659.38h15.5m.5 0h3.5m35.5 0h21.5m.5 0h2m.5 0h8m.5 0h3.5m.5 0h2m2.5 0h3m9 0h1M250.5 659.88h1.5m.5 0h7.5m1 0h1m.5 0h1.5m.5 0h6m36 0h3m.5 0h2m.5 0h14.5m.5 0h10.5m.5 0h1.5m.5 0h1m5 0h5.5m2 0h5.5m2.5 0h2.5M250 660.38h11m.5 0h1m2 0h1m.5 0h1.5m.5 0h2m36 0h6.5m1 0h6.5m1 0h2.5m.5 0h18.5m1 0h1.5m2 0h2.5m1 0h1m.5 0h1m.5 0h6.5m1 0h1.5M250.5 660.88h2m1 0h1m.5 0h7m.5 0h1.5m2 0h4.5m36.5 0h11m1 0h18.5m.5 0h2m.5 0h2m3 0h1m.5 0h5m1.5 0h1.5m.5 0h3.5m1 0h8M250.5 661.38h3m.5 0h3.5m1.5 0h4m.5 0h2m1 0h4m36.5 0h4m.5 0h22.5m.5 0h7.5m2 0h2m.5 0h2.5m.5 0h2m.5 0h2.5m.5 0h4.5m.5 0h1m2 0h5.5M250.5 661.88h2m.5 0h10m.5 0h6.5m38 0h4m.5 0h7.5m.5 0h5m1 0h14.5m.5 0h1m.5 0h1.5m1 0h5m.5 0h8m1 0h1.5m1.5 0h5.5M253.5 662.38h14m.5 0h1.5m39.5 0h4.5m.5 0h6.5m.5 0h29m1 0h7.5m.5 0h2.5m1 0h1m.5 0h4.5M251 662.88h7m.5 0h2.5m.5 0h9.5m37.5 0h3m2 0h2.5m.5 0h3.5m1 0h3m.5 0h10.5m.5 0h3m1 0h1.5m.5 0h1m.5 0h2.5m.5 0h1m.5 0h2.5m.5 0h1m.5 0h16.5M251 663.38h1m1 0h8m1 0h9m38.5 0h3m.5 0h21.5m.5 0h3m.5 0h1m1.5 0h10m.5 0h1.5m.5 0h5m.5 0h3m.5 0h7.5M251.5 663.88h3.5m.5 0h5m2 0h9m36.5 0h42m1 0h8m1 0h1m1 0h7.5M252 664.38h2m.5 0h7m1 0h1.5m.5 0h4m.5 0h3.5m36.5 0h11.5m.5 0h12m.5 0h1.5m3.5 0h3.5m1 0h6m.5 0h3m1 0h6m.5 0h8.5M251.5 664.88h1m1 0h2.5m.5 0h4m.5 0h1.5m.5 0h2m.5 0h1m.5 0h2.5m.5 0h1m.5 0h1m37.5 0h1m.5 0h25.5m.5 0h7.5m.5 0h3m.5 0h4.5m1 0h2.5m1 0h2.5m.5 0h5m1.5 0h1.5M251.5 665.38h3m.5 0h2m.5 0h1m.5 0h2.5m1.5 0h5.5m.5 0h3.5m37 0h27m2.5 0h2m.5 0h17.5m.5 0h2m.5 0h5.5M254 665.88h7.5m.5 0h2m1.5 0h1.5m1 0h4m38.5 0h1.5m.5 0h33.5m.5 0h4m1.5 0h4m.5 0h2.5m.5 0h2m.5 0h5.5M252.5 666.38h1m.5 0h5m.5 0h13m38.5 0h11.5m.5 0h3.5m1.5 0h4m.5 0h14.5m.5 0h7m.5 0h1m.5 0h12M254 666.88h8m1 0h5m.5 0h4m39 0h3.5m1.5 0h2m1 0h2m.5 0h15.5m3 0h27.5M254 667.38h1.5m.5 0h9.5m.5 0h1m1 0h4.5m40.5 0h4m.5 0h13m.5 0h1.5m.5 0h2.5m.5 0h11m.5 0h3.5m.5 0h2.5m1 0h3.5m1.5 0h6m.5 0h1M253 667.88h1m.5 0h1m1 0h4.5m.5 0h3m.5 0h8m38.5 0h1m1 0h1m.5 0h4m.5 0h18m.5 0h6m.5 0h2.5m.5 0h5m1 0h1m.5 0h4.5m1 0h6.5M254.5 668.38h10m1 0h8m41 0h2.5m1 0h12.5m2 0h8m.5 0h4m.5 0h7.5m1 0h11.5M255.5 668.88h1m1 0h9m.5 0h4.5m1 0h1m40.5 0h16m2 0h1.5m.5 0h1m1 0h3m1.5 0h7.5m.5 0h10.5m1 0h4m1.5 0h2M254 669.38h1m1.5 0h10.5m.5 0h2m.5 0h2m.5 0h1m42.5 0h15.5m.5 0h3m.5 0h10.5m1 0h1.5m1 0h4.5m.5 0h5.5m.5 0h5M256.5 669.88h11.5m.5 0h3m1 0h1m42.5 0h3m.5 0h2m.5 0h12.5m1 0h17.5m.5 0h11.5M257 670.38h3m.5 0h9m1 0h2m43.5 0h1m1.5 0h2m1 0h3m.5 0h10.5m2 0h11m1 0h14M257.5 670.88h3.5m.5 0h8.5m48.5 0h16m1 0h6.5m.5 0h8.5m.5 0h2.5m.5 0h5.5m.5 0h4M257.5 671.38h1m.5 0h1m1 0h3.5m1 0h5.5m51.5 0h6.5m.5 0h5.5m.5 0h2.5m.5 0h6m.5 0h17M259.5 671.88h1m1 0h2.5m1 0h1m1 0h2.5m55.5 0h14.5m.5 0h21M260 672.38h2m2 0h3m.5 0h2m53.5 0h1m.5 0h5.5m.5 0h3m.5 0h20m1 0h2.5M265 672.88h1m1.5 0h1m55 0h13m1 0h8m1.5 0h5m1 0h3m2 0h2.5M324 673.38h4.5m.5 0h7m2 0h2m.5 0h1.5m1 0h2.5m1 0h3.5m.5 0h1m1 0h3.5M327.5 673.88h3m.5 0h20m2.5 0h1M328.5 674.38h9m1.5 0h1.5m1 0h12M328.5 674.88h1m2.5 0h5m.5 0h1m1 0h1.5m.5 0h3.5m1 0h2m.5 0h4M333 675.38h4m2 0h1m.5 0h1.5m3.5 0h2m2 0h1m1.5 0h1M336.5 675.88h1m1.5 0h1m6.5 0h1" stroke="#000" stroke-width="0.75" fill="none"/>
<path d="M271.5 546.38h1M274.5 546.88h1M273.5 547.38h1M273 548.38h1m.5 0h1m2 0h1.5M269.5 548.88h1M272.5 549.38h1M269.5 549.88h1m12.5 0h1m.5 0h1M277.5 550.88h1m3 0h1M280.5 551.38h1M272.5 551.88h2m4 0h1m3.5 0h1M288.5 552.88h1m2.5 0h1M282 553.38h1M274 553.88h1m2 0h1M269.5 554.38h1m2 0h1m17 0h1M270.5 554.88h1m3 0h1m.5 0h1m6 0h1m11.5 0h1M276 555.38h1m13.5 0h1m2 0h1M279.5 555.88h1m.5 0h1m2 0h1M282 556.38h1m9.5 0h1M279.5 556.88h1M270.5 557.38h1m2 0h1m18 0h1m2.5 0h1M267.5 557.88h1m3 0h1.5m14 0h1M267.5 558.38h1m13.5 0h1m8 0h1m9 0h1M286 558.88h1m12 0h1M283 559.38h1m6.5 0h1m11.5 0h1M280.5 559.88h2m16 0h1M284 560.38h1m11.5 0h1m.5 0h1m6.5 0h1M274 560.88h1m9 0h1m10.5 0h1m2.5 0h1m2.5 0h1M281.5 561.38h1m1.5 0h1m6 0h1m8.5 0h1M282 561.88h1m2.5 0h1m18 0h1M290 562.38h1M281.5 562.88h1m2 0h2m4.5 0h1m9 0h1m1 0h1m1 0h1M266.5 563.38h1m13 0h2.5m.5 0h1m2.5 0h1m18.5 0h1M284.5 563.88h2m21 0h1M270.5 564.38h1m9 0h1m14 0h1m7 0h1M266.5 564.88h1m30.5 0h2M271.5 565.38h1m10.5 0h1m1.5 0h1m1.5 0h2m3.5 0h1m6 0h1M272 565.88h1m15.5 0h1m4 0h1m4.5 0h1m2.5 0h1m.5 0h1m2 0h1M274 566.38h1m3.5 0h1m5.5 0h1.5m6.5 0h1.5m2 0h1m3 0h1M270.5 566.88h1m6.5 0h1m7 0h1m7.5 0h1m8.5 0h1m2 0h1M270 567.38h1m13.5 0h1m26.5 0h2M271.5 567.88h2m12.5 0h1.5m17.5 0h1m19 0h1M269.5 568.38h1m.5 0h1m1 0h1m.5 0h1m2 0h1m5.5 0h1m9 0h1m9 0h1m2.5 0h1M271 568.88h2m14.5 0h1m7.5 0h1m21.5 0h1M287 569.38h1m2 0h1m1 0h2m1 0h1m.5 0h2m6 0h1m20.5 0h1m1.5 0h1M302.5 569.88h1m7.5 0h1m11.5 0h1M274.5 570.38h1m2.5 0h1m6 0h1m16.5 0h1m1 0h2m7 0h1m19.5 0h1M288.5 570.88h1m3.5 0h1m1.5 0h1m33 0h1M278.5 571.38h1.5m15 0h1.5m9 0h1m7 0h1m22 0h1M283 571.88h1m7.5 0h1m11 0h1m16.5 0h1m2.5 0h1m3.5 0h1m37.5 0h1.5M278.5 572.38h1m5.5 0h1m.5 0h2m4 0h1m3.5 0h1m25 0h1M274 572.88h1m2.5 0h1m3 0h1m9 0h1m2 0h1m11.5 0h1m16 0h1m5.5 0h1M277 573.38h1m13.5 0h1m4 0h1m2.5 0h1m3 0h1m25.5 0h1m6 0h1M279 573.88h1m24.5 0h1m16 0h1m6.5 0h1m43 0h1M278 574.38h1m8 0h1m40 0h1M324.5 574.88h1m2.5 0h1m11 0h1m26.5 0h1M279 575.38h1m22 0h1m19.5 0h1.5m7.5 0h1m9.5 0h1M278.5 575.88h1m11.5 0h1m2.5 0h1m5.5 0h1m29.5 0h1m6.5 0h1m27 0h1m8 0h1M277 576.38h1m9 0h1m15 0h1m61.5 0h1m1 0h1M290 576.88h1m5 0h1m3 0h1m20 0h1m7.5 0h1m36.5 0h1M278.5 577.38h1m5 0h1m16.5 0h1m35.5 0h1m5.5 0h1M290.5 577.88h1m31.5 0h1m2 0h1m6.5 0h1M281 578.38h1m4 0h1m38.5 0h1m9.5 0h2m1 0h1m2 0h1m3.5 0h1m26.5 0h1M281 578.88h1m7.5 0h1.5m4 0h1m4.5 0h1m24 0h1m9 0h1m4 0h1m25.5 0h1m3.5 0h1M288.5 579.38h1m3.5 0h1m5.5 0h1m16.5 0h1m16 0h1m41.5 0h1M297 579.88h1m39 0h1m6.5 0h1m2 0h1m22.5 0h1M279 580.38h1m1.5 0h1m5 0h1m9.5 0h1m46 0h1M300.5 580.88h1m32.5 0h1m34.5 0h1M280 581.38h1m.5 0h1m6 0h2m37 0h1m46.5 0h1M282.5 581.88h1m5 0h1m11.5 0h1m30 0h1m1 0h1m9.5 0h1m22 0h1m5 0h1M279.5 582.38h1m14.5 0h1m3.5 0h1m24 0h1m4 0h1m11.5 0h1m22 0h1m11.5 0h1M292.5 582.88h1.5m50.5 0h1m2.5 0h1M280.5 583.38h1.5m12.5 0h1m35 0h1m1.5 0h2m8 0h1M278 583.88h1m8 0h1m6 0h1m44.5 0h1m3.5 0h1.5m33.5 0h1m2 0h1M280 584.38h1m7 0h1m43 0h1m13 0h1M280.5 584.88h1m8 0h2m6.5 0h1m32.5 0h2m2 0h1m13 0h1m1 0h1m12.5 0h1m11 0h1m3 0h1M281 585.38h1m55.5 0h1m4.5 0h1m9 0h1m27 0h1M286 585.88h1m66.5 0h1m21 0h1m1 0h1m1.5 0h1M286.5 586.38h1m3 0h1m43.5 0h1m36 0h1m2.5 0h2M282.5 586.88h1m6.5 0h1m32 0h1.5m1.5 0h1m8.5 0h1m7 0h1m.5 0h1m9 0h2m7 0h1m9.5 0h1M284 587.38h1m56.5 0h1m2 0h1m23 0h1M296.5 587.88h1m14.5 0h1m24.5 0h1m8.5 0h1m5 0h1m2.5 0h1m6 0h1M347 588.38h1m19.5 0h1m10 0h1M282.5 588.88h1m11.5 0h1m30 0h1m4 0h1m3.5 0h1m5 0h1m3.5 0h1m14.5 0h1m9.5 0h2M287 589.38h1m44 0h1m10 0h1.5m13 0h1m20 0h1M288.5 589.88h1m32.5 0h1m12.5 0h1M324.5 590.38h1m15 0h1m2.5 0h2M287.5 590.88h1m40 0h1m11 0h1M280.5 591.38h1m36.5 0h1m8.5 0h1m5.5 0h1m13 0h1m21 0h1M270.5 591.88h1m60 0h2m2.5 0h1m4 0h1m9.5 0h1m15 0h1m8 0h1M330.5 592.38h1m13.5 0h1m.5 0h1m2 0h1m25.5 0h1M333 592.88h1m1 0h1m3 0h1m9 0h1m2 0h1m8 0h1M304.5 593.38h1m58.5 0h1M330.5 593.88h1m1.5 0h1m7 0h1M288 594.38h1m7.5 0h1m32 0h2m11 0h1m4.5 0h1m.5 0h1m11.5 0h1M283 594.88h1m55.5 0h1m26.5 0h1m5 0h1M289.5 595.38h1m41.5 0h1m1.5 0h1m5.5 0h1M267 595.88h1m16 0h1m51 0h1m3 0h1m22 0h1M299.5 596.38h1m49.5 0h1m12 0h1m5.5 0h1m5 0h1M329 596.88h1m1 0h1m7.5 0h1m3.5 0h1m28.5 0h1M345 597.38h1m6.5 0h1M325 597.88h1m16 0h1m20 0h1m3.5 0h1M268 598.38h1m62 0h1m8 0h1m4.5 0h2M274 598.88h1m53.5 0h1m15.5 0h1m22 0h1M278.5 599.38h2m9 0h1m77 0h1m4 0h1M267 599.88h2m59.5 0h1m13 0h1m6.5 0h1m17 0h1m.5 0h1M334 600.38h1m34.5 0h1M341 600.88h1m7.5 0h1m15 0h1M347 601.38h1M293 601.88h1m44.5 0h1m3 0h1M327 602.38h1m35 0h1m3 0h1M343 603.38h1m28.5 0h1M349 603.88h1M280 604.88h1m80 0h1m10.5 0h1M340 605.38h1m21.5 0h1m1.5 0h1M339.5 605.88h1m22.5 0h1m4.5 0h1M266 606.88h1m20 0h1M285.5 607.88h1M292.5 608.38h1M260 608.88h1M297 609.88h1M266.5 610.38h1M267.5 610.88h1m19 0h1M263 613.38h1M293.5 613.88h1m18.5 0h1M291.5 616.38h1m21 0h1M296 617.38h1M298.5 618.38h1M271.5 618.88h1m21 0h1M324 619.88h1M298 620.38h1M291.5 621.38h1M296.5 622.88h1m6.5 0h1M306.5 623.88h1M289.5 624.38h1m19.5 0h1M297 624.88h1m12.5 0h1M301.5 625.38h1M301 625.88h1M322.5 629.38h1M288.5 630.88h1M307.5 632.38h1M310.5 634.38h1m7 0h1m2.5 0h1M293.5 635.88h1m2 0h1m25.5 0h1M316 636.38h1M311.5 636.88h1M309.5 637.38h1M314.5 637.88h1M315.5 638.38h1M305.5 640.88h1M297 641.38h1m4.5 0h1M296 641.88h1M312.5 642.38h1M311.5 643.38h1m5 0h1M314.5 646.38h1M312 647.38h1M314 647.88h1M311.5 650.88h1m9.5 0h1M309.5 651.38h1M317.5 652.38h1m10 0h1M328 653.88h1M307 654.88h1M258 655.38h1.5m67.5 0h1M256.5 655.88h1.5m6.5 0h1m63 0h1M311.5 656.38h1m3 0h1m1 0h1M256.5 656.88h1m1 0h1M258.5 657.38h1M253 657.88h1m68.5 0h1m12 0h1M252 658.38h1m5 0h1m47.5 0h1m29 0h1M254.5 658.88h2m9.5 0h1M252 659.38h2m.5 0h1.5m10 0h1m73 0h1M253 659.88h1m.5 0h1m62 0h1M254.5 660.38h2m66.5 0h1m30.5 0h1M255 660.88h1m5 0h1m47 0h1M310 661.38h1m13 0h1m9.5 0h1M254 661.88h2.5m7.5 0h1m46.5 0h1m33.5 0h1m9 0h1M254.5 662.38h1m72 0h1m19.5 0h1M254.5 662.88h1m1 0h1m73.5 0h1M255.5 663.38h1m9.5 0h1m63.5 0h1m24.5 0h1M258.5 663.88h1m7 0h1m97.5 0h1M255 664.38h2m10 0h1M267 664.88h1M322.5 665.38h1m1.5 0h1m26 0h1M270 666.38h1m45 0h1M344 666.88h1.5M258.5 667.88h1m61 0h1m42 0h1M265.5 668.38h1m72 0h1m4 0h1m7 0h1M326.5 668.88h1m13 0h1m19.5 0h1M266 669.38h1m1 0h1m.5 0h1m52.5 0h1m9.5 0h1m17.5 0h1M264 669.88h1m66.5 0h1m3.5 0h1m21 0h1M333 670.88h1m2 0h1M268.5 671.38h1m58 0h1M268 671.88h1m57 0h1m18.5 0h1M350.5 672.38h1m2 0h1M355 672.88h1" stroke="#2c3fc4" stroke-width="0.75" fill="none"/>
<path d="M275.5 545.88h1M277.5 547.88h1M281.5 548.38h1M279 549.88h1M270.5 550.38h1M274 551.38h1M269 551.88h1M292 552.88h1M277.5 554.38h1m9.5 0h1M271 554.88h1M287.5 555.38h1m2.5 0h1M270 556.38h1M279 556.88h1M297.5 557.38h1M268 557.88h1M276.5 558.38h1m1 0h1M279 558.88h1M305 559.38h1M283 560.38h1m8.5 0h1M279 560.88h1m10.5 0h1M299.5 561.38h1M299 561.88h1M267 562.88h1m37.5 0h1m2 0h1M286 563.38h1m14.5 0h1M300 563.88h1m6.5 0h1M310 564.38h1M310.5 564.88h1M273.5 565.38h1m13.5 0h1M276.5 565.88h1m33 0h1M298 566.38h1m14.5 0h1M270 566.88h2m9 0h1M275.5 567.38h1m7.5 0h1M296 567.88h1m5 0h1m2.5 0h1M293.5 568.38h1m11 0h1M323.5 568.88h1m8.5 0h1M282 569.38h1m21.5 0h1M309 569.88h1M301.5 570.38h1m2 0h1m18.5 0h1M296.5 570.88h1m22.5 0h1M279 571.38h1m7 0h1M281.5 571.88h1m12.5 0h1M293.5 572.38h1m16 0h1m13.5 0h1M287.5 572.88h1m.5 0h1m35.5 0h1M299.5 573.38h1m5.5 0h1m21.5 0h1M373 573.88h1M367.5 574.38h1M371.5 574.88h1M279 575.38h1m15 0h1M281 575.88h1m13 0h1m45 0h1M303.5 576.38h1m33 0h1M276.5 576.88h1m59.5 0h1M283 577.38h1m6.5 0h1M337 577.88h1m8 0h1M296 578.38h1m31 0h1M334 578.88h1m8.5 0h2M292 579.38h1m53.5 0h1m23.5 0h1M285 579.88h1m31.5 0h1M289 580.38h1M288.5 580.88h1M300.5 581.38h1m21 0h1m41.5 0h1M280.5 581.88h1m14.5 0h1M281.5 582.38h1m37.5 0h1m28.5 0h1M284.5 582.88h1M286 583.38h1m7 0h1m31 0h1M377.5 583.88h1m2 0h1M329.5 584.38h1m33 0h1m8.5 0h1M281.5 584.88h1m85.5 0h1m7.5 0h1M326.5 585.38h1M321 585.88h1m23 0h1M283 586.38h1m45.5 0h1M289.5 586.88h1m38 0h1m3.5 0h1m10 0h1M342.5 587.38h1M321.5 587.88h1m18 0h1M322.5 588.38h1m26 0h1M298 588.88h1m40.5 0h1m12.5 0h1M350 589.38h1m25.5 0h1M357 589.88h1M280 590.38h1m15.5 0h1M306 590.88h1M348 591.38h2M346.5 591.88h1m16.5 0h1M351 592.38h1m9.5 0h1M347 592.88h1m1 0h1M330 593.88h1.5M279 594.38h1m19.5 0h1m50.5 0h1M372 594.88h1.5M334 595.38h1M369.5 595.88h1M355 596.38h1M277.5 596.88h1m64 0h2M293.5 597.88h1m53 0h1M352.5 598.38h1M367 598.88h1M307.5 599.38h1m25.5 0h1M335 599.88h1m30.5 0h1M351.5 600.38h1M368 600.88h1M331.5 601.88h1M352 602.38h1M364 602.88h1M273 603.88h1M301 604.88h1M270 605.88h1M339 606.38h1M295 607.88h1M266 610.38h1M262.5 611.88h1M293 614.38h1M319 617.38h1M302.5 619.38h1M320 622.88h1M319 624.38h1M289.5 624.88h1M329 626.38h1M293 633.88h1M306 634.88h1M308 636.38h1M302.5 637.88h1M310 640.88h1M303.5 642.38h1M297.5 643.38h1M315 649.38h1M306 651.88h1M315 654.88h1M317.5 655.38h1M263 655.88h1M252 656.38h1M252.5 656.88h1M261 657.88h1M257 658.38h1m2.5 0h1M256.5 658.88h1M252.5 659.38h1M257.5 659.88h1M255.5 660.38h1m58 0h1M255 660.88h1M258 661.38h1M254.5 661.88h1m1 0h1M255.5 662.38h1m7.5 0h1M262.5 662.88h1M354 663.38h1M353 663.88h1M264 664.38h1m48 0h1M261 665.38h1M321 666.88h1M357 667.88h1M266 668.38h1M255 668.88h1m1.5 0h1M258.5 669.38h1m8.5 0h1M360.5 669.88h1M264.5 671.38h1m69 0h1M335.5 672.38h1" stroke="#4672e2" stroke-width="0.75" fill="none"/>
<path d="M485.5 543.38h1M483 543.88h1.5m2.5 0h2M485.5 544.38h1m2 0h1M483.5 544.88h1m.5 0h3.5m.5 0h1m2 0h1M482 545.38h2m1 0h5.5m.5 0h2M482.5 545.88h2.5m1 0h1.5m.5 0h2m.5 0h2m1 0h1M482 546.38h12.5M482.5 546.88h12.5m1 0h2M482 547.38h7m.5 0h4.5m1 0h1.5M482 547.88h12m.5 0h1m.5 0h1m.5 0h2.5M482 548.38h14.5m.5 0h2M482.5 548.88h17.5M483 549.38h6.5m.5 0h6m.5 0h1m.5 0h2M482 549.88h6m.5 0h12m1 0h1M482 550.38h3m1.5 0h1.5m1 0h6.5m2 0h5.5m1.5 0h2M481.5 550.88h23.5m.5 0h1.5m.5 0h1M480.5 551.38h2m1 0h2.5m.5 0h22M481 551.88h2.5m1 0h1.5m.5 0h21.5M481 552.38h29M481 552.88h8.5m.5 0h3.5m1 0h3.5m.5 0h13M481 553.38h1m.5 0h26.5m1 0h1.5M481.5 553.88h7m2 0h2.5m.5 0h4.5m.5 0h13.5M481.5 554.38h3m.5 0h10.5m.5 0h17M480.5 554.88h2m1.5 0h7m.5 0h3m1.5 0h14m.5 0h1m.5 0h1m.5 0h1M480.5 555.38h25.5m.5 0h4.5m.5 0h1.5M480 555.88h34.5m.5 0h1M481.5 556.38h35M480.5 556.88h24m.5 0h11M481.5 557.38h18.5m.5 0h12m.5 0h4.5M479.5 557.88h21.5m.5 0h15.5m.5 0h1M481 558.38h21.5m2 0h11m.5 0h4M481 558.88h1m1 0h5m.5 0h13.5m.5 0h4m1 0h12.5M481 559.38h16.5m.5 0h16m.5 0h2m1 0h3M480.5 559.88h8.5m.5 0h1.5m1 0h5.5m.5 0h9.5m.5 0h4.5m.5 0h4m.5 0h3M480.5 560.38h1.5m.5 0h6.5m1 0h12m.5 0h11.5m.5 0h8M481 560.88h7m.5 0h15.5m.5 0h3m1 0h5.5m1 0h6m.5 0h3.5M481 561.38h8.5m.5 0h1m.5 0h12m.5 0h13m.5 0h9.5M480 561.88h6m.5 0h1.5m.5 0h12m.5 0h8m.5 0h10.5m2 0h3m1 0h1M482.5 562.38h1m.5 0h6.5m.5 0h1m1.5 0h8m.5 0h20m.5 0h5.5M481 562.88h2m1 0h6m1 0h20m.5 0h15.5M480.5 563.38h1m.5 0h8m.5 0h15.5m.5 0h3m.5 0h1.5m.5 0h1m.5 0h15M480.5 563.88h7m1.5 0h1m.5 0h2.5m.5 0h2m.5 0h2.5m.5 0h2.5m1 0h2.5m.5 0h1.5m1 0h10.5m.5 0h3m.5 0h2m.5 0h5M481 564.38h6.5m.5 0h5.5m1.5 0h1.5m.5 0h14.5m1 0h3.5m1 0h1m.5 0h11M482.5 564.88h13.5m.5 0h1.5m.5 0h13m.5 0h5m.5 0h12M483.5 565.38h11.5m.5 0h1.5m.5 0h18.5m.5 0h11.5m.5 0h2M484.5 565.88h3.5m.5 0h3m.5 0h8.5m.5 0h1m.5 0h8.5m.5 0h17.5M483 566.38h9.5m.5 0h19m.5 0h3m1 0h3.5m.5 0h6.5m.5 0h2.5m10 0h1M484.5 566.88h11m.5 0h2m1 0h26.5m.5 0h5M483.5 567.38h46m.5 0h1m7.5 0h1m.5 0h1m.5 0h1m3 0h1M483 567.88h6.5m.5 0h4m3 0h10m.5 0h6m.5 0h14m7.5 0h3m.5 0h2.5m.5 0h2.5m2.5 0h1M483.5 568.38h10.5m.5 0h17.5m.5 0h12.5m.5 0h2.5m1 0h1m4 0h9m1 0h1m1 0h3M483.5 568.88h9.5m1 0h1.5m.5 0h10m1 0h14m.5 0h4m1 0h2m3.5 0h2m.5 0h11.5m.5 0h2.5m.5 0h1M484.5 569.38h10m1 0h8m1 0h17.5m.5 0h3.5m.5 0h4m.5 0h13m1 0h5m2 0h1m28.5 0h1m.5 0h2M485 569.88h1m.5 0h15.5m.5 0h7.5m.5 0h17m.5 0h4m.5 0h12.5m2 0h2m.5 0h3m.5 0h1m28 0h1m.5 0h1M485.5 570.38h4.5m1 0h33m.5 0h1m.5 0h2m1.5 0h3m.5 0h20m28 0h4M486.5 570.88h1m1.5 0h3m.5 0h7.5m.5 0h12m.5 0h12m1 0h4.5m.5 0h21m2 0h1m24 0h1m.5 0h1.5m.5 0h2.5M486 571.38h1m1.5 0h13.5m.5 0h21.5m.5 0h1.5m1.5 0h4m1.5 0h20m27 0h3.5m2 0h1M486.5 571.88h2m1.5 0h5.5m.5 0h24m.5 0h6.5m1.5 0h1m1 0h2.5m1 0h18m.5 0h1m1.5 0h1m24.5 0h4.5m1 0h1M487.5 572.38h1.5m.5 0h6.5m.5 0h19m1 0h3m.5 0h13m.5 0h4m.5 0h6m.5 0h11m24.5 0h3.5m1 0h1m1 0h1.5M488 572.88h8.5m1 0h9m.5 0h4m.5 0h13.5m.5 0h2m.5 0h1m.5 0h4m1 0h11m.5 0h2.5m.5 0h8.5m23 0h5.5m1.5 0h2M488 573.38h8m.5 0h2m.5 0h12m1.5 0h8m.5 0h2m1 0h1.5m.5 0h8m.5 0h6m.5 0h12m.5 0h1m.5 0h3m22 0h8m.5 0h2M488 573.88h17m1 0h4.5m.5 0h6m.5 0h2.5m.5 0h5.5m.5 0h4m1.5 0h1m.5 0h3m.5 0h16m.5 0h5m21 0h11.5M489 574.38h17m.5 0h1.5m.5 0h14.5m.5 0h2.5m2 0h9m2.5 0h4m.5 0h15.5m21 0h12M488 574.88h9m1.5 0h3m.5 0h16m.5 0h4m1.5 0h1.5m7.5 0h5m.5 0h2.5m.5 0h1.5m.5 0h16m20.5 0h2.5m.5 0h3m.5 0h6M490 575.38h21m.5 0h12m.5 0h2m4.5 0h20m.5 0h7.5m.5 0h1m19.5 0h1.5m.5 0h1.5m.5 0h2m1.5 0h3.5m.5 0h1M491 575.88h1.5m.5 0h1.5m.5 0h4m.5 0h3.5m.5 0h15m2 0h5m1.5 0h1m4.5 0h21.5m.5 0h7m18 0h4m1.5 0h2m.5 0h5.5M490.5 576.38h15m.5 0h14.5m.5 0h1m.5 0h2.5m8.5 0h7m.5 0h13.5m.5 0h6.5m18.5 0h6m1 0h7M489 576.88h1m.5 0h1m1 0h13.5m.5 0h7m.5 0h7m1 0h1m10 0h1m.5 0h7.5m.5 0h18m1 0h1m17.5 0h8.5m.5 0h2m.5 0h3M491.5 577.38h6m.5 0h22.5m2.5 0h2m6 0h1m.5 0h16m.5 0h6m.5 0h2m.5 0h4.5m17.5 0h3.5m.5 0h10M490.5 577.88h1m.5 0h27.5m.5 0h2m.5 0h1m.5 0h1m5.5 0h1.5m2 0h29m17.5 0h6.5m.5 0h1.5m.5 0h5.5M493 578.38h14m.5 0h6.5m.5 0h10m2.5 0h2.5m2 0h1m1 0h8m.5 0h4.5m1.5 0h15.5m17 0h14M491.5 578.88h1m.5 0h4.5m.5 0h8.5m.5 0h16m1 0h1.5m.5 0h1.5m4 0h14m.5 0h17.5m16 0h1m.5 0h4m.5 0h10M491.5 579.38h20.5m.5 0h3.5m1 0h2.5m.5 0h1m.5 0h2.5m.5 0h2m2 0h1m.5 0h3.5m1 0h10m.5 0h7.5m2 0h8.5m.5 0h1m17 0h7m1 0h5.5M490.5 579.88h12m.5 0h10m1 0h4.5m1 0h1m1 0h1m.5 0h2.5m2 0h1m.5 0h2m1.5 0h11.5m.5 0h3.5m.5 0h3.5m.5 0h4.5m.5 0h7.5m16 0h1m.5 0h1m.5 0h5.5m1 0h5M491 580.38h35.5m1.5 0h3m.5 0h2.5m.5 0h7m1 0h4m1.5 0h2.5m.5 0h1m2 0h3.5m.5 0h1m.5 0h4m17 0h1m.5 0h6.5m.5 0h7.5M492 580.88h20.5m.5 0h1m1 0h5m.5 0h2.5m.5 0h6.5m.5 0h17m1 0h1.5m.5 0h1.5m.5 0h2.5m1 0h5.5m2.5 0h1m17.5 0h6.5m.5 0h6.5M492 581.38h23.5m.5 0h4m1.5 0h2m1 0h2m1 0h1m.5 0h1m2 0h9.5m.5 0h13m.5 0h9m1 0h1.5m13 0h1.5m.5 0h5.5m.5 0h9M491.5 581.88h1m1 0h1m.5 0h8.5m.5 0h2m1 0h4.5m1.5 0h3.5m.5 0h3.5m1 0h5m4 0h24m.5 0h5m.5 0h4m1 0h2m12.5 0h8.5m.5 0h8M492 582.38h15m.5 0h3.5m.5 0h1m.5 0h4m.5 0h2m3 0h1m.5 0h2m7 0h10m1 0h1.5m.5 0h3m.5 0h1m.5 0h3.5m2 0h12m11 0h15m.5 0h2M492.5 582.88h17.5m1 0h8m1.5 0h2.5m2 0h1m5.5 0h8.5m.5 0h14m.5 0h9m.5 0h4m11 0h1.5m.5 0h7m.5 0h9M492 583.38h2.5m.5 0h1.5m1 0h9m.5 0h8.5m.5 0h3.5m2 0h1m1 0h1m2 0h1m1.5 0h1m.5 0h1m1.5 0h18.5m1.5 0h8m.5 0h1m1 0h4m1 0h1m11 0h8.5m.5 0h8M492.5 583.88h19.5m1.5 0h1.5m.5 0h4.5m.5 0h1m1 0h2.5m2.5 0h1.5m3.5 0h2m1 0h19.5m.5 0h13m9 0h7m.5 0h1.5m.5 0h11M492 584.38h16m.5 0h2m1 0h4m.5 0h4m1 0h8m1 0h2m1.5 0h1m.5 0h4m1 0h9m1 0h5m1 0h9m.5 0h2m.5 0h1.5m9 0h5.5m1 0h2m.5 0h9.5M492 584.88h16m.5 0h5.5m1 0h1m1 0h2m3.5 0h6m3.5 0h1m1 0h2m.5 0h9m.5 0h3m.5 0h5.5m.5 0h15.5m5.5 0h4.5m.5 0h3m.5 0h3.5m.5 0h8M493.5 585.38h4.5m1 0h7.5m.5 0h1m.5 0h2.5m1 0h4m1.5 0h1.5m.5 0h1m2 0h2m.5 0h2.5m1.5 0h1m3.5 0h34.5m.5 0h2m7 0h6m.5 0h2.5m1 0h2m1.5 0h6M491 585.88h1m1 0h18m.5 0h6m1.5 0h2.5m.5 0h1m.5 0h1m.5 0h3m5 0h12.5m.5 0h5.5m.5 0h9.5m.5 0h9.5m5.5 0h7m.5 0h6.5m.5 0h3m.5 0h2M490.5 586.38h3m.5 0h3m.5 0h1.5m1 0h3.5m.5 0h1.5m1 0h2m.5 0h1m.5 0h5.5m3.5 0h2m1 0h5m2.5 0h1m.5 0h1m.5 0h17m.5 0h1m1 0h3.5m.5 0h11.5m.5 0h4m4 0h1m.5 0h1m.5 0h7m.5 0h4m.5 0h5M489.5 586.88h4.5m.5 0h2.5m.5 0h9m.5 0h1m1 0h7.5m3 0h1.5m3 0h1m.5 0h2.5m2 0h1.5m1.5 0h3.5m.5 0h7.5m1 0h12.5m.5 0h13.5m4 0h1.5m.5 0h7.5m1 0h1.5m1.5 0h8M489 587.38h2.5m.5 0h4m.5 0h11m.5 0h2m.5 0h6m2 0h1.5m1 0h1m.5 0h1m.5 0h1.5m.5 0h2m.5 0h2.5m2.5 0h16.5m.5 0h18m1 0h3.5m1 0h5.5m.5 0h7.5m.5 0h6.5m1 0h1.5M488.5 587.88h19.5m1 0h6m.5 0h2m3.5 0h1m2.5 0h1m.5 0h1.5m4.5 0h17.5m1 0h2.5m1 0h1m1 0h10m.5 0h3.5m.5 0h2.5m1 0h22M490.5 588.38h1m.5 0h16.5m.5 0h4m1 0h3m.5 0h4.5m3.5 0h3m1 0h1m2.5 0h31m.5 0h3m.5 0h5m.5 0h4.5m.5 0h2.5m1.5 0h1.5m.5 0h5m.5 0h3m.5 0h1m1 0h1m.5 0h1M486.5 588.88h1m1 0h1.5m.5 0h8.5m.5 0h6.5m1.5 0h5m.5 0h2.5m2 0h4.5m3 0h3.5m3 0h13m.5 0h24m.5 0h12m1.5 0h3.5m.5 0h4m.5 0h3m.5 0h2M486.5 589.38h1m1 0h1.5m.5 0h2m.5 0h4.5m.5 0h15m1.5 0h1.5m.5 0h1m.5 0h1m.5 0h2.5m2.5 0h3m3 0h2m1.5 0h18m1 0h2.5m.5 0h8.5m.5 0h13m2 0h1m.5 0h5m.5 0h9M487 589.88h3m1.5 0h4m.5 0h1m1 0h14.5m1 0h1.5m1.5 0h5.5m3.5 0h1m.5 0h1m2.5 0h6.5m1 0h13.5m2.5 0h1m1 0h5m.5 0h12m.5 0h6m.5 0h5.5m.5 0h1m.5 0h8M486 590.38h2m.5 0h8.5m1.5 0h1.5m.5 0h11.5m1 0h1.5m.5 0h1m1.5 0h5.5m1.5 0h2.5m2 0h1m1 0h1m.5 0h3m.5 0h15.5m2.5 0h6m.5 0h8.5m1 0h3m.5 0h5m.5 0h1m1 0h1m.5 0h13M484.5 590.88h6.5m.5 0h5m.5 0h1m.5 0h15m.5 0h1.5m.5 0h8m.5 0h3.5m1.5 0h1m.5 0h3m.5 0h2m.5 0h7.5m.5 0h5m.5 0h1.5m.5 0h1m2.5 0h14.5m.5 0h3m.5 0h6m.5 0h1.5m1.5 0h10M486.5 591.38h1.5m.5 0h5.5m.5 0h3.5m2 0h6m1.5 0h3m1 0h10.5m.5 0h1m1.5 0h1.5m.5 0h1.5m2 0h21m1 0h3m.5 0h9m.5 0h3m.5 0h1m1.5 0h1m2 0h7.5m3 0h4.5m1 0h3M485 591.88h2m.5 0h1m1 0h5.5m1 0h1m1 0h6m1 0h4m.5 0h2.5m1 0h4m.5 0h6.5m1.5 0h6m.5 0h4.5m.5 0h4m1 0h4m.5 0h8m1.5 0h2m1 0h11.5m.5 0h2m2.5 0h7m.5 0h2.5m.5 0h7M483 592.38h13.5m3.5 0h10m3 0h4.5m1.5 0h7m.5 0h11m1 0h1m.5 0h1m.5 0h2.5m.5 0h1m.5 0h4m.5 0h7m.5 0h1m1 0h9.5m.5 0h1.5m.5 0h1m1 0h1.5m.5 0h3m1 0h1.5m.5 0h1m.5 0h10.5M483.5 592.88h9.5m1 0h3.5m2 0h1m.5 0h9.5m.5 0h7m.5 0h1m.5 0h2.5m1 0h2m1.5 0h1.5m.5 0h4m.5 0h2.5m1 0h3m.5 0h4.5m.5 0h5m.5 0h2.5m1 0h4.5m.5 0h3m1.5 0h5m1 0h1m4 0h1.5m.5 0h3m.5 0h1.5m.5 0h4.5m.5 0h1m.5 0h4.5M483.5 593.38h3m3 0h2.5m1 0h1m.5 0h2m4.5 0h7m.5 0h1m.5 0h1m2 0h1m.5 0h1m.5 0h1m.5 0h1m2 0h5.5m4 0h1m1.5 0h3m.5 0h4m1 0h9m1 0h8m1 0h8.5m1.5 0h1m1.5 0h2m.5 0h5m4 0h4m.5 0h4M484 593.88h2.5m1 0h3m.5 0h2m1 0h2m.5 0h3m1 0h2.5m.5 0h6m.5 0h3.5m.5 0h3m.5 0h1m1 0h2.5m.5 0h1m.5 0h1.5m6 0h1m.5 0h1.5m1 0h1m2.5 0h9.5m.5 0h9m.5 0h5.5m.5 0h5.5m5.5 0h7.5m.5 0h5m.5 0h3.5M482.5 594.38h7.5m.5 0h4.5m1 0h2.5m1.5 0h9m.5 0h7m.5 0h3m.5 0h1m.5 0h3.5m3 0h2m.5 0h1m1 0h1m5.5 0h1m1 0h9.5m.5 0h6.5m.5 0h9.5m.5 0h3.5m.5 0h1m2 0h1.5m.5 0h7.5m.5 0h7M482 594.88h1m2 0h3.5m.5 0h3.5m.5 0h3m.5 0h2.5m.5 0h3m.5 0h7.5m.5 0h4.5m.5 0h2.5m1 0h3m3 0h1m4.5 0h1m7.5 0h1m2 0h2m.5 0h9m.5 0h1.5m1 0h5m1 0h9m4 0h5m1 0h8M482.5 595.38h1m1.5 0h2m2 0h4.5m.5 0h2m.5 0h1.5m1 0h11m2 0h6m2 0h1m1.5 0h1m2 0h1m11.5 0h2m3 0h1m1 0h3m1 0h1.5m.5 0h5.5m1.5 0h2m.5 0h4m.5 0h2m.5 0h3m.5 0h2m2 0h1m.5 0h4m1.5 0h10.5M483 595.88h2m.5 0h2.5m1 0h5.5m.5 0h1m.5 0h3m.5 0h6m.5 0h11.5m2.5 0h1.5m.5 0h2m5 0h1m3 0h1m3 0h4m.5 0h4m.5 0h1.5m1.5 0h6.5m.5 0h3.5m.5 0h3m.5 0h8.5m4 0h4.5m1.5 0h2m.5 0h7M481 596.38h2m2 0h1.5m2 0h1m1.5 0h1m1 0h1m.5 0h3.5m.5 0h7m1 0h5.5m.5 0h4m4.5 0h3.5m.5 0h1.5m13 0h1m1.5 0h1m.5 0h3.5m.5 0h7m.5 0h6.5m1 0h1m.5 0h8.5m.5 0h1m2 0h2.5m2 0h4m1.5 0h4M479.5 596.88h1m.5 0h2.5m1 0h3.5m.5 0h1.5m1 0h1m.5 0h2m.5 0h2m.5 0h4m.5 0h3.5m1 0h1.5m1 0h1m.5 0h6.5m4.5 0h1m.5 0h2m1.5 0h1m1.5 0h1m3.5 0h1m1.5 0h1m1.5 0h1m1.5 0h4m.5 0h3.5m1 0h1.5m.5 0h1m1 0h7m.5 0h6m1 0h5.5m2.5 0h1.5m.5 0h4.5m1 0h4.5m.5 0h2.5M479 597.38h4m2 0h2m1.5 0h5.5m1 0h1m.5 0h9m.5 0h3m.5 0h3m.5 0h2.5m9 0h2m10.5 0h1m1 0h1m.5 0h1m1 0h6m1.5 0h13.5m.5 0h9m.5 0h2m2 0h1m.5 0h1m.5 0h1.5m.5 0h6M479.5 597.88h4m.5 0h6m1 0h2.5m.5 0h17m1 0h5m2.5 0h1m4 0h2m1.5 0h1m1.5 0h3m1.5 0h1m1 0h1m2.5 0h7m1 0h19m1 0h5.5m3.5 0h8m.5 0h1m.5 0h3.5M479 598.38h8m1.5 0h1.5m1 0h4m.5 0h8.5m2.5 0h7m1.5 0h2m.5 0h2.5m5 0h2.5m1.5 0h1m2.5 0h1m1.5 0h1m5 0h11m.5 0h4m.5 0h1.5m1.5 0h8.5m1 0h5.5m1.5 0h3m2 0h9M479.5 598.88h5.5m.5 0h1m1.5 0h3.5m.5 0h5m1 0h8.5m.5 0h3.5m1 0h1m3 0h4.5m5 0h2m6.5 0h3.5m4 0h24.5m.5 0h3.5m.5 0h4.5m.5 0h1m2.5 0h2m.5 0h1m.5 0h6M478.5 599.38h8.5m.5 0h4.5m.5 0h2.5m.5 0h1m.5 0h1.5m.5 0h4m.5 0h1m1.5 0h8.5m.5 0h2m.5 0h2m8.5 0h1m1 0h1m2.5 0h1m2 0h1.5m3.5 0h6.5m2.5 0h1m.5 0h7.5m1 0h15.5m1 0h2m.5 0h1.5m.5 0h2m.5 0h4M478 599.88h1m1.5 0h5.5m.5 0h5.5m1.5 0h2m.5 0h4m.5 0h4m1 0h9m1 0h1m.5 0h2.5m1.5 0h1m3.5 0h2.5m5.5 0h3m.5 0h2m1.5 0h4.5m.5 0h1m1 0h13m.5 0h1.5m.5 0h2m1.5 0h1m2 0h6.5m.5 0h12.5M478 600.38h3m.5 0h4m.5 0h3.5m.5 0h6.5m1.5 0h1m3.5 0h1m.5 0h1m1.5 0h8.5m.5 0h4.5m2 0h1m1 0h2m1.5 0h1m7.5 0h1m.5 0h2.5m2.5 0h3m.5 0h8.5m1.5 0h12m.5 0h1m.5 0h3.5m.5 0h4.5m.5 0h10.5M477.5 600.88h1.5m1 0h7.5m3.5 0h2m.5 0h1m2 0h3.5m2 0h1.5m1.5 0h5.5m.5 0h2m1 0h1m.5 0h3.5m.5 0h2m.5 0h1m.5 0h2m1.5 0h1m10 0h1m4.5 0h1m3 0h12.5m.5 0h2m.5 0h2.5m.5 0h10.5m1 0h11M477.5 601.38h1.5m.5 0h7m2 0h1m.5 0h1m.5 0h4.5m3 0h2m1 0h1m1 0h9m1 0h7.5m3.5 0h3m6.5 0h1.5m4.5 0h1m3 0h1m1.5 0h8.5m.5 0h9.5m.5 0h5.5m1 0h3.5m1.5 0h1m.5 0h2.5m.5 0h4m.5 0h2.5M477 601.88h1m1 0h1.5m.5 0h2.5m8 0h4.5m4 0h4.5m1 0h8m1 0h3m1 0h6m.5 0h3.5m3 0h1m3 0h1m1 0h1m2 0h2.5m2 0h1m1 0h14.5m1 0h1m.5 0h3m.5 0h1m.5 0h17.5m1 0h1.5M476 602.38h5m1 0h2.5m3 0h1m.5 0h2m2 0h3m2 0h5.5m2.5 0h7m1 0h1m.5 0h6m.5 0h2m.5 0h3.5m8 0h1m4.5 0h1m4.5 0h10.5m.5 0h8m.5 0h2.5m.5 0h5.5m1.5 0h2m1.5 0h9.5M475.5 602.88h3.5m1 0h5m.5 0h2m3 0h1m1 0h2m1 0h2m1 0h1m1 0h1m.5 0h2.5m2.5 0h4m.5 0h3m.5 0h2m1 0h6m.5 0h1.5m.5 0h1m7.5 0h1m.5 0h2.5m.5 0h1m1.5 0h1m3.5 0h4m.5 0h3m.5 0h13.5m3 0h4m1.5 0h12.5M476.5 603.38h6m.5 0h2.5m2 0h1m2 0h1m1 0h1m.5 0h2m6 0h1m3 0h5m.5 0h2m3 0h1m1 0h5m1 0h1m.5 0h1m1 0h1m4 0h1m2.5 0h1.5m.5 0h2.5m.5 0h1m2.5 0h2m.5 0h4m1 0h8.5m.5 0h5.5m3 0h15m.5 0h3M475.5 603.88h7m.5 0h4m1.5 0h2m2 0h3m1 0h1m5.5 0h2m2 0h12.5m1 0h1.5m.5 0h2m1 0h3m7.5 0h1m2.5 0h2m.5 0h1m1.5 0h3m.5 0h3.5m1.5 0h4.5m.5 0h4.5m1 0h3.5m3 0h14.5m.5 0h4M475.5 604.38h3.5m2 0h2m.5 0h1m1.5 0h1m2 0h1m.5 0h2m.5 0h5m.5 0h1m1 0h3.5m.5 0h2m.5 0h5m1 0h5m1.5 0h1m2 0h1.5m2 0h1.5m1 0h1.5m4.5 0h1m.5 0h1m2.5 0h1m1 0h1m1.5 0h2.5m.5 0h19m.5 0h2m2.5 0h5m.5 0h3.5m.5 0h5.5m.5 0h2M475.5 604.88h2.5m.5 0h1.5m1 0h6m2 0h2m2 0h1m.5 0h2m6.5 0h1.5m.5 0h1m.5 0h1.5m1 0h2m1 0h2m1 0h5.5m7 0h1m.5 0h2m1.5 0h3m5 0h2m4 0h3.5m2 0h9.5m1 0h1.5m.5 0h2.5m4.5 0h3m.5 0h6.5m.5 0h2.5m.5 0h4M475 605.38h7m3 0h2.5m.5 0h1m1 0h4.5m9 0h2m1.5 0h13m1 0h1m4 0h1m3.5 0h1m1 0h1m1 0h1m11 0h2.5m.5 0h1m1 0h1m.5 0h7m1 0h4.5m6.5 0h7m.5 0h2m.5 0h2.5m.5 0h3M474.5 605.88h5m.5 0h3m1 0h4.5m1 0h2m.5 0h2m.5 0h2m4 0h2.5m1 0h1.5m1 0h4m.5 0h1m.5 0h5.5m.5 0h3.5m1.5 0h1m.5 0h1.5m1.5 0h2m1 0h2m1 0h1m2 0h1m8.5 0h1m5.5 0h9m.5 0h1m10 0h7m1 0h3.5m1.5 0h1.5M475.5 606.38h2.5m.5 0h3.5m1.5 0h4.5m1.5 0h1m2 0h1m1.5 0h1m4 0h3m1 0h15m.5 0h2m1 0h1m2.5 0h1m.5 0h2.5m.5 0h5m3 0h1m1 0h1m5 0h1m.5 0h1m2.5 0h2.5m.5 0h10m6.5 0h3m1 0h2m.5 0h6m1 0h1m1.5 0h1M476.5 606.88h2m.5 0h3.5m2 0h2m.5 0h4.5m3 0h1.5m4 0h6m.5 0h11m.5 0h1m7 0h1m1 0h2m2.5 0h1m4.5 0h1m1 0h1m.5 0h4m.5 0h2m1 0h1.5m.5 0h5.5m1 0h6m7.5 0h1m.5 0h1m2 0h1.5m1.5 0h1m3 0h2m2 0h1M475 607.38h3m.5 0h5m.5 0h5m6 0h2m1.5 0h5m.5 0h12m3 0h2m5 0h2.5m3.5 0h2.5m1.5 0h1m.5 0h1m.5 0h1m2 0h2m4 0h1m1.5 0h12.5m8 0h2.5m1 0h1m4 0h1M475 607.88h1m.5 0h2m.5 0h10m1.5 0h1m6.5 0h18m2.5 0h1.5m.5 0h2m.5 0h1m.5 0h1m4.5 0h3m4 0h1m1.5 0h1m.5 0h1m.5 0h1.5m2 0h1m4 0h1m.5 0h4m1 0h1m.5 0h1m.5 0h3.5m8.5 0h1m.5 0h4.5m2.5 0h1M475.5 608.38h4m.5 0h2m1 0h1.5m.5 0h1m1 0h4.5m2.5 0h1.5m1.5 0h2m.5 0h1m.5 0h1m1.5 0h13m1.5 0h1.5m.5 0h1m2 0h1.5m.5 0h2m.5 0h1m1 0h1m.5 0h1m2.5 0h1.5m5.5 0h1m2 0h1m1.5 0h1m2 0h2m.5 0h1m1.5 0h3m.5 0h4.5m9 0h7.5M475.5 608.88h1m1.5 0h8m.5 0h1m1.5 0h4.5m1 0h1m1.5 0h1m1 0h9.5m.5 0h7.5m1.5 0h2m1.5 0h3m.5 0h1.5m.5 0h2.5m.5 0h1m.5 0h2m7 0h1m5.5 0h1.5m3.5 0h2m.5 0h1.5m3.5 0h3m.5 0h1m7.5 0h1m.5 0h2m2.5 0h2M474.5 609.38h2.5m.5 0h3m.5 0h4.5m.5 0h1m2 0h8m3.5 0h1m.5 0h1.5m2 0h2.5m.5 0h3m.5 0h1m.5 0h3.5m1.5 0h1m3 0h3.5m1.5 0h4m.5 0h1.5m2.5 0h2m8 0h2m2 0h1m.5 0h2.5m.5 0h1.5m1.5 0h4m12.5 0h2.5m.5 0h1m.5 0h1m1.5 0h1.5M475 609.88h11m.5 0h1m2.5 0h3m1 0h1.5m.5 0h2.5m2 0h4.5m.5 0h7m.5 0h3m2.5 0h1m2.5 0h1m3.5 0h3m2 0h1m6 0h1m7 0h6.5m1 0h1.5m1 0h1m.5 0h3.5m11 0h1.5m.5 0h2m.5 0h1m.5 0h1m.5 0h1M476 610.38h10m.5 0h1m2 0h1m.5 0h4m1.5 0h1m4 0h11.5m.5 0h1m1 0h1.5m1 0h2m2.5 0h1m1.5 0h3.5m2 0h4m2.5 0h2m8 0h6.5m.5 0h4m.5 0h3m12 0h5.5M475 610.88h1.5m.5 0h10m4 0h1.5m.5 0h2m.5 0h2m4 0h2.5m.5 0h2.5m1 0h5.5m1 0h2m2 0h1m2 0h2.5m.5 0h1m.5 0h1m2 0h1m17 0h3m.5 0h6m.5 0h3.5m12 0h1.5m.5 0h1m.5 0h2.5M475.5 611.38h8.5m6 0h1m2 0h1m.5 0h3.5m3 0h5m.5 0h7.5m1.5 0h1m5 0h4.5m.5 0h1m2.5 0h1m13 0h1m4 0h10.5m13 0h3m1 0h1M475.5 611.88h5m.5 0h4.5m.5 0h1m4 0h1m.5 0h1.5m.5 0h3m.5 0h2m1 0h3.5m2.5 0h3m1 0h3m.5 0h2.5m3 0h1m2.5 0h1m1 0h2m.5 0h1m11 0h1m4.5 0h1.5m1.5 0h10.5m14.5 0h2m1 0h1M476.5 612.38h9m.5 0h1m3 0h2m.5 0h5.5m1 0h1m.5 0h3.5m2.5 0h6.5m1.5 0h2m8.5 0h1m1 0h3.5m.5 0h1.5m8 0h1m4 0h1m.5 0h2m.5 0h2m.5 0h3.5m1.5 0h1m1 0h1m16 0h2M476.5 612.88h9m4.5 0h1.5m.5 0h1m.5 0h8m1 0h4m.5 0h7m3 0h1m.5 0h1.5m6.5 0h1m1 0h2m11 0h1m4.5 0h1m.5 0h2.5m1 0h2m.5 0h1.5m16.5 0h1m1 0h1m.5 0h1M476.5 613.38h2.5m.5 0h7m3.5 0h1m1.5 0h1m.5 0h1m1 0h1m.5 0h2.5m.5 0h1.5m1.5 0h1m2 0h6m.5 0h1m1 0h5m8.5 0h2.5m3.5 0h1m6 0h1m3.5 0h1m1 0h1m1.5 0h1m.5 0h3.5m17 0h1M478 613.88h8.5m1 0h1m1 0h2m2 0h1m.5 0h1m2 0h2m.5 0h2.5m1.5 0h9m.5 0h1.5m1 0h3m8.5 0h1.5m.5 0h1m14.5 0h4m.5 0h5.5m17 0h1m1.5 0h2M477.5 614.38h8m1 0h1m2.5 0h3m1 0h2m2 0h4m1.5 0h1m.5 0h1m2 0h5m1 0h1m1.5 0h1m1 0h2m6 0h1m1 0h1m1 0h1.5m4.5 0h1m4.5 0h1m4 0h2m1 0h5.5M478 614.88h2m.5 0h7m2 0h2.5m2.5 0h1m1 0h3m1 0h2.5m2.5 0h4m.5 0h8m.5 0h2m7.5 0h1m1.5 0h1m7 0h1.5m3 0h2m.5 0h2m.5 0h1.5m1 0h1.5m.5 0h1m.5 0h4M478.5 615.38h1m.5 0h4.5m.5 0h6m1 0h2m.5 0h1m1.5 0h3m.5 0h1.5m.5 0h1m2 0h7.5m2.5 0h4.5m10 0h1m.5 0h2.5m.5 0h1m3 0h1m2.5 0h1m.5 0h3.5m1.5 0h5m.5 0h2m1 0h1M478.5 615.88h5m1 0h3.5m1 0h2.5m4.5 0h5m1 0h2m1 0h11m2.5 0h2m6 0h1m.5 0h1m4 0h1m1.5 0h1m3 0h1m2.5 0h11.5m1 0h1m.5 0h1M478.5 616.38h1m1 0h2.5m1 0h6m3 0h1.5m1 0h1m1.5 0h5.5m2 0h13.5m10 0h2.5m1 0h2m.5 0h1.5m6 0h1m.5 0h2.5m3 0h4.5m.5 0h1m.5 0h1m4.5 0h1m8 0h1M480 616.88h2.5m.5 0h1.5m.5 0h4.5m1 0h1m.5 0h1m3.5 0h2m1 0h1m.5 0h2m.5 0h1m2 0h3m.5 0h1.5m.5 0h7.5m6 0h1m3.5 0h1m1.5 0h1m3.5 0h1m4 0h1m1 0h2.5m3 0h5m2 0h1m8.5 0h1.5m2 0h1m1 0h1M483 617.38h3.5m.5 0h3.5m5.5 0h3m.5 0h5m.5 0h2m.5 0h2m.5 0h5.5m.5 0h3.5m2 0h1m2 0h1m5.5 0h2m5 0h1m4.5 0h3.5m1 0h1m.5 0h1m1.5 0h3m5 0h2m4.5 0h2m.5 0h1m1 0h1M481 617.88h1m2 0h7m.5 0h1m4 0h1m.5 0h4.5m1 0h5.5m.5 0h6.5m.5 0h3.5m1.5 0h1m2 0h1.5m5.5 0h2.5m10.5 0h1m.5 0h2.5m1 0h5m4.5 0h1.5m1.5 0h1m3 0h3M481 618.38h1m1.5 0h7.5m6 0h1m2 0h3.5m.5 0h1.5m.5 0h2m1.5 0h3.5m.5 0h7m.5 0h1m2 0h1m6.5 0h1.5m5.5 0h1m8 0h1.5m.5 0h5.5m1.5 0h1m1.5 0h1m2.5 0h1m4.5 0h2M482.5 618.88h3m.5 0h2m.5 0h2.5m.5 0h2m2.5 0h1m.5 0h1.5m.5 0h1.5m.5 0h3.5m.5 0h1.5m1 0h11m.5 0h3.5m15.5 0h1m2 0h1m.5 0h1m1.5 0h2.5m.5 0h3.5m1 0h1m3.5 0h1m.5 0h2m2 0h1m4 0h1M482.5 619.38h9.5m1 0h6m.5 0h2m1 0h21.5m.5 0h2m11 0h2.5m5.5 0h4.5m1 0h2m9.5 0h1M482.5 619.88h1m1 0h1m.5 0h4m.5 0h2m.5 0h1m.5 0h6.5m.5 0h1.5m.5 0h2m1.5 0h11.5m.5 0h4.5m3.5 0h1m9.5 0h3m2 0h1m3 0h2.5m1 0h3.5m1 0h1m4.5 0h2m1.5 0h1M485.5 620.38h3m1 0h1m.5 0h2m.5 0h4m.5 0h7m1.5 0h3.5m1 0h12.5m1.5 0h2m10 0h2m.5 0h1.5m3.5 0h2.5m.5 0h1m1 0h1m.5 0h2m1 0h3.5m4 0h3m5.5 0h1M485 620.88h2.5m1.5 0h3.5m.5 0h1m1 0h1.5m1 0h1m.5 0h1m2 0h2m.5 0h10m.5 0h2m1 0h3.5m1.5 0h1m1 0h3.5m8 0h3m5 0h8.5m.5 0h1m.5 0h1m4 0h2.5m.5 0h1M484.5 621.38h10.5m.5 0h6.5m.5 0h21.5m.5 0h1.5m.5 0h2m5.5 0h1m1 0h4m2.5 0h1m.5 0h1m.5 0h5m3.5 0h1m8 0h1.5M485.5 621.88h9m.5 0h3m1 0h5.5m.5 0h2.5m1 0h6.5m2 0h3m1 0h7m8.5 0h1m1 0h1m5.5 0h2m1 0h3.5m2 0h4m1 0h1m2 0h1m.5 0h1M485.5 622.38h1m1.5 0h9.5m.5 0h4m.5 0h11.5m.5 0h3m.5 0h10m5 0h1m2 0h2m6 0h3m.5 0h1m.5 0h1.5m4.5 0h1.5m1 0h1m7 0h1M489 622.88h1.5m.5 0h3.5m.5 0h4m.5 0h5m.5 0h10m.5 0h1m.5 0h8m2 0h1.5m5.5 0h1m1 0h1m.5 0h1.5m2 0h1m1.5 0h6m3 0h1m2 0h3m1 0h1m2.5 0h1M490.5 623.38h5.5m2 0h1.5m1 0h6m.5 0h16.5m.5 0h2m1.5 0h1.5m1.5 0h1m3 0h2m2 0h1m.5 0h1m1 0h6m.5 0h1m4 0h4m.5 0h1m.5 0h1.5m1 0h2m2.5 0h1M490 623.88h6.5m1 0h1.5m1 0h4.5m.5 0h6.5m1 0h2.5m1 0h1.5m1.5 0h5.5m.5 0h1m1 0h1m3.5 0h1m.5 0h1.5m1.5 0h2m3 0h1.5m.5 0h5m1 0h1m4 0h1m1.5 0h2m.5 0h1M487.5 624.38h1m2 0h1m.5 0h1m1 0h5m2 0h2.5m1 0h2m.5 0h11m.5 0h1m.5 0h6.5m1 0h1m1 0h1m6 0h1m1.5 0h1m1 0h8m7.5 0h1m6 0h1M490 624.88h3.5m1 0h1.5m.5 0h1.5m1 0h1m.5 0h1m.5 0h26m.5 0h3m1.5 0h1m3.5 0h1m.5 0h1m1.5 0h1m.5 0h5.5m8 0h1.5M490 625.38h4.5m.5 0h4.5m2 0h2m2.5 0h12.5m1 0h2m.5 0h5.5m.5 0h1m.5 0h1.5m.5 0h1m8 0h7.5m2 0h1m1.5 0h1m2.5 0h1M492 625.88h1m.5 0h5m1 0h3m.5 0h1m2 0h2.5m.5 0h8.5m.5 0h2.5m1.5 0h2.5m.5 0h2m2 0h1m.5 0h1m2 0h1m3 0h1.5m.5 0h2m1.5 0h5.5m6.5 0h1M492 626.38h7m.5 0h4m3 0h2m.5 0h8m.5 0h2m.5 0h2m.5 0h3m.5 0h2m.5 0h1m2 0h1m5.5 0h3m1 0h4m4.5 0h1m1 0h1.5m.5 0h1m.5 0h1M492 626.88h5m1 0h1m1 0h3.5m4 0h9.5m.5 0h2.5m2.5 0h1m1.5 0h1m.5 0h1m2.5 0h3m4 0h4.5m1 0h1.5m.5 0h1.5m9.5 0h2.5M492.5 627.38h1m1 0h5m2.5 0h1.5m3.5 0h4.5m1 0h4.5m.5 0h2m1.5 0h6.5m1.5 0h1m.5 0h1.5m.5 0h1.5m3 0h7.5M493.5 627.88h9m.5 0h1.5m3.5 0h13m.5 0h1m1.5 0h4m.5 0h1m.5 0h1m.5 0h2.5m3 0h6.5M494.5 628.38h1m.5 0h3.5m1.5 0h3.5m2.5 0h3m1 0h4.5m.5 0h6.5m2 0h9.5m2.5 0h2.5m.5 0h2.5m1.5 0h1M494 628.88h1m.5 0h7m1 0h1m4.5 0h6.5m.5 0h4.5m4.5 0h4.5m.5 0h1m.5 0h2m3 0h3m1 0h4.5m5 0h2.5M497 629.38h4.5m.5 0h3m1.5 0h1.5m1.5 0h1.5m.5 0h1m1 0h1m1.5 0h4.5m.5 0h2.5m1.5 0h3.5m.5 0h1m1.5 0h2m2 0h6m9 0h1.5M496.5 629.88h4m.5 0h1.5m.5 0h1.5m1 0h1m1 0h1.5m1 0h1m.5 0h1m.5 0h2m.5 0h1m2 0h5m1.5 0h2m.5 0h1m1 0h1m1 0h1m.5 0h1.5m2.5 0h4.5m1 0h1m7 0h2M496.5 630.38h7.5m2 0h1m.5 0h2m4.5 0h3.5m.5 0h2m1.5 0h1m1.5 0h2.5m2.5 0h2m1.5 0h6.5m1 0h3.5M499 630.88h2m.5 0h2.5m1.5 0h1m.5 0h1.5m1 0h1m2.5 0h1.5m.5 0h2.5m.5 0h6m.5 0h3.5m.5 0h4.5m.5 0h1m1 0h4m.5 0h2M500 631.38h4.5m2.5 0h3.5m2 0h13m1 0h3.5m.5 0h1m.5 0h4.5m.5 0h4.5M499 631.88h11.5m1.5 0h4.5m.5 0h5.5m.5 0h3m.5 0h6.5m.5 0h1.5m1.5 0h1m.5 0h1.5m1.5 0h1.5m.5 0h1M499.5 632.38h6m.5 0h6m.5 0h8m.5 0h5m.5 0h1m2 0h4m.5 0h1m.5 0h3.5m2 0h1M500 632.88h4m2 0h4m1.5 0h2.5m1 0h4m1 0h1m2 0h1m.5 0h1m1.5 0h6.5m.5 0h6m.5 0h2.5M501.5 633.38h1m1 0h7.5m.5 0h2m1.5 0h1m1 0h2.5m.5 0h3.5m.5 0h5.5m.5 0h3.5m.5 0h1m.5 0h4.5m.5 0h1m.5 0h1M503 633.88h9m1 0h1.5m.5 0h6m.5 0h20.5M501.5 634.38h1m.5 0h8.5m5 0h22.5m.5 0h3M503.5 634.88h7.5m5 0h7m1 0h18.5M503.5 635.38h6m.5 0h1m1.5 0h1m.5 0h2m.5 0h7.5m.5 0h17.5M504 635.88h6m1 0h3m1 0h8.5m.5 0h3m.5 0h13m.5 0h1M505 636.38h8.5m1.5 0h3m.5 0h19.5m.5 0h3.5M505 636.88h5.5m.5 0h2m1 0h6m.5 0h11.5m.5 0h3m.5 0h1m.5 0h2.5M505.5 637.38h4m.5 0h3.5m2 0h25.5M506.5 637.88h2.5m1 0h1.5m.5 0h9.5m1 0h15.5m.5 0h1.5M509.5 638.38h1.5m1.5 0h1m.5 0h2m.5 0h7m.5 0h1.5m1.5 0h10.5m.5 0h1M508 638.88h2m.5 0h2m.5 0h11m1 0h6m.5 0h9M508 639.38h1m.5 0h8m.5 0h6.5m.5 0h1.5m2.5 0h5m.5 0h1m.5 0h2m.5 0h1m.5 0h1M508.5 639.88h1m.5 0h7.5m.5 0h13m.5 0h3.5m.5 0h3M508.5 640.38h14m.5 0h4m.5 0h12M509 640.88h5.5m.5 0h7m1 0h6.5m.5 0h3.5m.5 0h3.5m.5 0h1M509.5 641.38h11m.5 0h8.5m.5 0h1m.5 0h8M509.5 641.88h8m.5 0h2.5m1 0h5.5m.5 0h5.5m1 0h5M511 642.38h7m.5 0h11.5m1 0h9.5M510.5 642.88h8.5m1.5 0h7.5m.5 0h1m1.5 0h1.5m.5 0h5M510.5 643.38h5m.5 0h1.5m.5 0h1.5m.5 0h1m.5 0h3.5m.5 0h3.5m2.5 0h8M511.5 643.88h10.5m1 0h8.5m.5 0h5.5m.5 0h1M511 644.38h7.5m.5 0h1m.5 0h3.5m.5 0h13.5m.5 0h1M511 644.88h3.5m2.5 0h3m.5 0h1m.5 0h7m1 0h4m.5 0h3.5M511.5 645.38h3.5m1 0h1m.5 0h1m1 0h1m.5 0h4.5m1.5 0h9m2 0h2.5M513 645.88h2m.5 0h4m1 0h2.5m1 0h3.5m1 0h10m.5 0h1M512.5 646.38h1m.5 0h2m.5 0h3.5m.5 0h4.5m.5 0h1m.5 0h5.5m.5 0h7M513.5 646.88h9m1 0h4.5m.5 0h4.5m.5 0h6M513 647.38h6.5m.5 0h14m.5 0h3m2.5 0h1.5M514 647.88h1.5m.5 0h11.5m1 0h1.5m.5 0h4m.5 0h2.5m1.5 0h3M513.5 648.38h1m.5 0h1.5m.5 0h3m1 0h16m.5 0h4.5M514 648.88h1m.5 0h4.5m1 0h3.5m.5 0h2.5m1 0h10m.5 0h3M514.5 649.38h4m.5 0h1.5m.5 0h16m.5 0h1m1.5 0h3M515 649.88h7m.5 0h1.5m1 0h11m.5 0h4.5m1 0h1.5M515.5 650.38h1.5m.5 0h11.5m.5 0h15M516 650.88h20.5m.5 0h2.5m.5 0h5M516.5 651.38h3m.5 0h2.5m.5 0h3.5m.5 0h4.5m.5 0h12m.5 0h1m.5 0h1M517 651.88h8m.5 0h6.5m.5 0h12m1.5 0h1M517 652.38h8m.5 0h9.5m1 0h10M516.5 652.88h3.5m.5 0h21m1 0h2.5m.5 0h1.5M516 653.38h1m.5 0h2.5m.5 0h1.5m.5 0h19m.5 0h4M472 653.88h1.5m44.5 0h3m.5 0h13.5m.5 0h5m.5 0h3m.5 0h3.5M464.5 654.38h1m1.5 0h1m3 0h1m5 0h1m39 0h1.5m1 0h12.5m.5 0h3.5m.5 0h11.5m4.5 0h1M468.5 654.88h1.5m1.5 0h3m1.5 0h2.5m40 0h4m.5 0h7m.5 0h6.5m1 0h8.5m1 0h2m2.5 0h1M464 655.38h1m.5 0h1m1 0h6.5m.5 0h4.5m39 0h1m2 0h14.5m.5 0h3m.5 0h10m2 0h2M465.5 655.88h1m.5 0h3m.5 0h11.5m36.5 0h3m.5 0h11m1.5 0h10.5m.5 0h4.5m3 0h1M464.5 656.38h6m.5 0h2.5m.5 0h9m35.5 0h9.5m.5 0h6.5m.5 0h15.5m.5 0h2.5m.5 0h2M465.5 656.88h17m36.5 0h1m1 0h3m1.5 0h2m.5 0h6m.5 0h10.5m.5 0h5m.5 0h1m1 0h2.5m1 0h1.5M465.5 657.38h12m.5 0h3.5m1.5 0h1m34 0h1m1.5 0h10m.5 0h8.5m.5 0h6.5m.5 0h3.5m1 0h4.5m.5 0h1.5M465 657.88h10.5m.5 0h3m.5 0h3.5m37.5 0h3.5m.5 0h32M466 658.38h3.5m.5 0h13m37.5 0h1m.5 0h21m.5 0h13.5m4.5 0h1M465.5 658.88h13.5m2 0h3m36.5 0h13.5m1 0h1.5m.5 0h13.5m1 0h5.5m4.5 0h1.5m2 0h1m6 0h1M466 659.38h7.5m.5 0h8m.5 0h1m36.5 0h7m.5 0h12m.5 0h13m.5 0h4m5 0h1m7.5 0h1m4.5 0h1M466 659.88h7.5m1 0h4m1 0h5m36.5 0h5.5m.5 0h23m.5 0h8.5m4 0h1m.5 0h3m.5 0h1.5m1.5 0h1.5m.5 0h1M467 660.38h10.5m.5 0h1m1.5 0h2.5m1 0h1m36 0h2.5m.5 0h10.5m.5 0h14m1.5 0h1.5m.5 0h2.5m1.5 0h2m2.5 0h2.5m1 0h2m2 0h7m1.5 0h2.5M465.5 660.88h13m.5 0h2m.5 0h2.5m.5 0h1m36.5 0h2m.5 0h3.5m1 0h22m.5 0h1.5m.5 0h2m.5 0h7m.5 0h3m.5 0h4m.5 0h9m1 0h1.5M466 661.38h10m.5 0h9m36 0h12.5m1 0h5.5m.5 0h10m.5 0h6.5m.5 0h1m.5 0h1m1 0h3m.5 0h8.5m.5 0h2m.5 0h4m.5 0h1.5M466 661.88h9.5m1.5 0h2.5m.5 0h5.5m36.5 0h1.5m1.5 0h16.5m1 0h8m.5 0h1m.5 0h4m1 0h2m.5 0h3.5m1 0h1.5m.5 0h2.5m.5 0h12m.5 0h1.5M466.5 662.38h18.5m38 0h8m.5 0h4m.5 0h18m1.5 0h3m.5 0h2.5m.5 0h8m.5 0h5m.5 0h5m.5 0h3M467.5 662.88h9m.5 0h9.5m37.5 0h2.5m.5 0h14.5m.5 0h8.5m1 0h33M466 663.38h1m.5 0h3.5m.5 0h15m36 0h1.5m1.5 0h11m1 0h3.5m.5 0h10m.5 0h1m1 0h4m.5 0h9m1 0h6.5m1.5 0h8M468 663.88h9m1.5 0h9m38 0h1m.5 0h7.5m1.5 0h12.5m1 0h1.5m.5 0h1m1 0h3.5m.5 0h1m.5 0h8.5m.5 0h7.5m1.5 0h7M468.5 664.38h7.5m1.5 0h8.5m37.5 0h27m1 0h2m.5 0h5.5m1.5 0h1m2 0h10.5m.5 0h4.5m.5 0h5M467 664.88h2.5m.5 0h6m.5 0h9.5m38.5 0h24m3.5 0h1m.5 0h1.5m.5 0h2m.5 0h4m1 0h1m1.5 0h3.5m1 0h3.5m.5 0h10M467 665.38h1.5m.5 0h4m2 0h1m1 0h10m38.5 0h4.5m1 0h2m.5 0h17m2 0h10.5m.5 0h3m.5 0h7m.5 0h6m.5 0h1.5m.5 0h1M468 665.88h19m39 0h1m.5 0h9.5m.5 0h12m.5 0h2m1 0h5.5m.5 0h3m1.5 0h17.5m.5 0h1M468.5 666.38h3m.5 0h2.5m.5 0h2.5m1 0h7.5m.5 0h1m39.5 0h15.5m1 0h11m.5 0h13m.5 0h12m2.5 0h1M468 666.88h13.5m.5 0h5.5m40.5 0h22.5m.5 0h1m.5 0h11.5m.5 0h5.5m1 0h1.5m.5 0h9.5M468 667.38h1.5m.5 0h9.5m2.5 0h2m.5 0h2m41 0h17m1.5 0h1m.5 0h1m.5 0h2.5m.5 0h1.5m.5 0h4m.5 0h3.5m.5 0h1m.5 0h2.5m.5 0h4.5m.5 0h2m1 0h3m.5 0h3.5M469 667.88h8m.5 0h1.5m1.5 0h3.5m.5 0h3m41 0h2m.5 0h1m.5 0h11.5m.5 0h2m1 0h3.5m1 0h20m1 0h7.5M469.5 668.38h1m.5 0h6.5m.5 0h1.5m1 0h7m41.5 0h17m1.5 0h5.5m.5 0h11m.5 0h16.5M470.5 668.88h8.5m1 0h4m1 0h1m1 0h1m41 0h1.5m.5 0h5.5m.5 0h7m2 0h3.5m.5 0h12.5m.5 0h1.5m.5 0h10m.5 0h6M470.5 669.38h7.5m.5 0h2m.5 0h7.5m42 0h5.5m.5 0h14m1 0h11m1.5 0h2.5m.5 0h2.5m.5 0h5.5m.5 0h5M472 669.88h6.5m1.5 0h1m1 0h1m.5 0h3m45.5 0h1.5m1 0h7m.5 0h4m.5 0h1.5m.5 0h2m.5 0h15.5m1 0h12.5M473.5 670.38h7.5m2 0h4.5m46 0h4m.5 0h7.5m.5 0h2.5m1 0h14.5m.5 0h16M472 670.88h1m1 0h13.5m46 0h1.5m1 0h1.5m.5 0h14m.5 0h1.5m.5 0h23.5M472.5 671.38h1m1 0h2.5m1 0h1.5m.5 0h5.5m52 0h35.5m1 0h3M474 671.88h8.5m.5 0h2m48.5 0h1m5.5 0h14.5m.5 0h4m.5 0h4m.5 0h13M476.5 672.38h1.5m1.5 0h2.5m55 0h1m.5 0h13m1 0h5.5m.5 0h10.5m.5 0h6M539 672.88h1.5m1 0h1.5m.5 0h13m.5 0h1.5m.5 0h2.5m.5 0h7.5m.5 0h2m2.5 0h1M540.5 673.38h3m.5 0h23m1 0h3M540.5 673.88h1m3 0h5m.5 0h1m2.5 0h1m.5 0h14.5M541.5 674.38h2m1.5 0h5.5m.5 0h5m1.5 0h1m.5 0h7m.5 0h2.5M545.5 674.88h1m.5 0h5m1 0h1m2 0h1m.5 0h2.5m.5 0h1m.5 0h1m.5 0h2m1.5 0h2.5M550 675.38h1m1 0h4.5m.5 0h2m.5 0h2m.5 0h1.5m1 0h1M550 675.88h1m6 0h1m2.5 0h2.5M552.5 676.38h1" stroke="#000" stroke-width="0.75" fill="none"/>
<path d="M505.5 560.88h1M521 565.38h1M522 570.38h1M514 572.38h1M492.5 573.88h1M514.5 579.38h1M512 586.38h1M534.5 586.88h1M556 587.38h1M586.5 591.88h1M591 593.88h1M509 597.38h1M500.5 598.88h1M478.5 608.88h1M533 609.88h1M487 616.38h1M499.5 617.38h1M517 626.38h1M526.5 650.38h1m7.5 0h1M536 652.38h1M534 661.88h1M560 664.88h1M550 667.38h1M566.5 671.88h1" stroke="#2c3fc4" stroke-width="0.75" fill="none"/>
<path d="M485.5 559.88h1M532.5 572.38h1M540.5 580.38h1M562 589.88h1M556 597.88h1M527.5 614.38h1M529.5 632.38h1M517 652.88h1M570.5 671.38h1" stroke="#4672e2" stroke-width="0.75" fill="none"/>
<text x="1.5" y="16.9" font-family="Liberation Sans, sans-serif" font-size="28" text-anchor="start" font-weight="bold" fill="#000" >a</text>
<path d="M99 19.5h1M44.5 29.5h1M85 36.5h1M43.5 38h1M50.5 38.5h1M36.5 41.5h1M36 42h1M48 43h1M71 48h1M48 48.5h1M53.5 50h1M63.5 51h1M39.5 51.5h1M45 52h1M40.5 52.5h1M52.5 53h1M80 53.5h1M44.5 54h1m36.5 0h1m2.5 0h1M67 54.5h1M68.5 56.5h1M37 57h1M54.5 57.5h1M69 58.5h1m4 0h1m3.5 0h1M60.5 59h1m24 0h1m8 0h1M58 59.5h1m.5 0h2m5 0h1M57.5 60h1m9.5 0h2M63 60.5h1m5.5 0h2m9 0h1M67 61h1m1.5 0h1m5.5 0h1M57.5 61.5h1m8 0h1m3.5 0h1m3.5 0h1M45 62h1m20.5 0h1.5m3.5 0h1M59 62.5h1m1.5 0h1m14 0h1m6.5 0h1m9 0h1M56 63h1m2.5 0h2m1 0h1m1.5 0h1m5.5 0h1.5m4.5 0h1m3 0h1.5m2 0h1M57 63.5h1m4.5 0h1m5 0h1m10.5 0h1M48.5 64h1m6.5 0h1m6.5 0h1m.5 0h1m3 0h1m12 0h1M49 64.5h1m26.5 0h1m.5 0h1m4.5 0h1M43 65h1m10.5 0h1m8 0h1m6 0h1.5m12 0h1m16 0h1M50.5 65.5h1m5.5 0h1m9.5 0h1m1.5 0h1M45 66h1m6 0h1m2 0h2m2.5 0h1m2.5 0h1m2 0h1M56.5 66.5h1.5m.5 0h1.5m3 0h1m7 0h1m1.5 0h1m12 0h1M53.5 67h2.5m10.5 0h1m11.5 0h1m2.5 0h1m.5 0h1m2.5 0h1m11.5 0h1M46.5 67.5h1m.5 0h1m5 0h1m1 0h1m5 0h1m4.5 0h1m4.5 0h1m5.5 0h2m6.5 0h1M49.5 68h1m16.5 0h1m4 0h1m6 0h1m.5 0h1m.5 0h1m2.5 0h1m3.5 0h1m1.5 0h1M55.5 68.5h1m2 0h1m8 0h3m15 0h1M46 69h1m2 0h1m1.5 0h1m6 0h1m6 0h1.5m11 0h1m12 0h1M48.5 69.5h1m2 0h1m5.5 0h1m1.5 0h1m.5 0h1m6 0h1m8.5 0h1m11.5 0h1M47.5 70h2m2.5 0h1m.5 0h2m11.5 0h1m1.5 0h1m4 0h1m7.5 0h1m7 0h1m12 0h1M46 70.5h1m1 0h1m7.5 0h1m5 0h1m1 0h2m15 0h1m2.5 0h1m7.5 0h2M49.5 71h1m.5 0h1m1 0h1m8.5 0h1m.5 0h1m4.5 0h2m6.5 0h1.5m10 0h1M64 71.5h1m20 0h1m4.5 0h1M42.5 72h1.5m3.5 0h1m6 0h1m2.5 0h1m1 0h1m3 0h1m5.5 0h1m7.5 0h1m21.5 0h1M42.5 72.5h1m7.5 0h1m7 0h1m3 0h1.5m.5 0h1m2 0h1M40 73h2.5m.5 0h1m2 0h1m9 0h2m.5 0h1m1.5 0h2m.5 0h1m5.5 0h1m.5 0h1m11 0h1.5m5.5 0h1m3.5 0h1M38 73.5h1m4 0h1m3 0h1m3 0h1m.5 0h1m3.5 0h1m4 0h1m5.5 0h1m14 0h1.5m7 0h1m.5 0h1m.5 0h1M38 74h1m6 0h1m2.5 0h2m.5 0h1.5m.5 0h1m7.5 0h1m.5 0h2m10 0h1m3 0h1m4 0h1m4.5 0h1M48 74.5h1m6.5 0h1m8 0h1m4.5 0h1m11 0h1m6.5 0h1M38.5 75h1m8 0h1m2.5 0h1m10.5 0h1m5.5 0h1m8 0h1m16 0h1m1 0h1m.5 0h1M41 75.5h1m3 0h2.5m4 0h1m.5 0h1m4 0h1m8 0h1m13 0h1m.5 0h1m13.5 0h1M40.5 76h1m3.5 0h1m7 0h1m5 0h1m7 0h1m1 0h1m.5 0h1m25 0h1M41 76.5h1m2.5 0h1m5 0h1m.5 0h1m4 0h1m2 0h1m5 0h1m1 0h1m.5 0h1m6.5 0h1m5 0h1.5m10 0h1M50.5 77h1.5m3.5 0h1m2.5 0h2m1.5 0h1m2.5 0h1m3 0h1.5m4 0h1m.5 0h1m17.5 0h1M36.5 77.5h1.5m7 0h1m.5 0h1m1.5 0h1m.5 0h3m.5 0h1m3.5 0h2m12.5 0h1m9.5 0h3m8.5 0h1M35.5 78h2.5m2.5 0h1m2 0h1m1.5 0h1m.5 0h1.5m3 0h2m6 0h1m6 0h1m1 0h1m14.5 0h1m1 0h2m.5 0h1m2.5 0h1m4 0h1M30.5 78.5h1m4 0h1m1.5 0h3m1.5 0h1m7.5 0h1m.5 0h1m2 0h1.5m1.5 0h1m4 0h1m15.5 0h1m15.5 0h1m2 0h1M30.5 79h1m4 0h1m3 0h1m4.5 0h1m2 0h1m3 0h1m2.5 0h1m4.5 0h2m3.5 0h1m12.5 0h1m10 0h1m1 0h1M36.5 79.5h1.5m2.5 0h1m3 0h1m2.5 0h1m4 0h1m9.5 0h1m5 0h1m10.5 0h1M33.5 80h2m2 0h1m4 0h1m.5 0h1m4.5 0h2m8 0h1m5.5 0h1m27 0h1M36 80.5h1m.5 0h1m5.5 0h1m1.5 0h1m1.5 0h1m6 0h2m9.5 0h1m12.5 0h1m1 0h2M33 81h1m1.5 0h1.5m1.5 0h1m2 0h1m6 0h1m.5 0h1m4 0h1m1 0h2m3.5 0h1m1.5 0h1m14.5 0h1m3 0h1m4 0h1M34 81.5h2m4 0h1m5 0h1m2.5 0h1m1 0h1m3.5 0h1m4 0h1.5m.5 0h1m5.5 0h1m6 0h1m.5 0h2m3.5 0h1m3.5 0h1m7 0h1M34 82h1m1.5 0h1m2.5 0h1m6 0h1m1.5 0h2m9.5 0h3m2.5 0h2m1.5 0h1m12.5 0h1m6.5 0h1m4 0h1.5m2.5 0h1M31.5 82.5h1m7.5 0h2m7 0h1m3.5 0h1m1.5 0h1m2 0h1m5.5 0h1m7.5 0h1m4.5 0h1m6.5 0h1m1.5 0h1m8 0h1M31 83h1m6 0h1m2 0h1m4 0h1m1 0h1m3.5 0h2m.5 0h1.5m1.5 0h1m12.5 0h1m8 0h1m2 0h1m2 0h1m8.5 0h1M37.5 83.5h1m5 0h1m4.5 0h1m2 0h1m7.5 0h1m.5 0h1m1.5 0h1.5m4 0h1m3 0h1m1.5 0h1m1.5 0h1m3 0h1m1 0h2m1 0h1m1 0h1m5 0h1.5m.5 0h1M39 84h2m3.5 0h1m1 0h2m4.5 0h1m7.5 0h1m2.5 0h1m2 0h1.5m4 0h1m3.5 0h1m10.5 0h1m.5 0h1m1.5 0h1M35.5 84.5h1m5.5 0h1m2 0h1m1 0h1m5 0h1m.5 0h1m7 0h2m5.5 0h1m3.5 0h1m2.5 0h1m11 0h1m3.5 0h1M29 85h1m3.5 0h1m1 0h1m5.5 0h1.5m1.5 0h2m4 0h1m13.5 0h1m2 0h1.5m2.5 0h2.5m10.5 0h1m4.5 0h1m2.5 0h1m2.5 0h1M32 85.5h1.5m.5 0h1m1.5 0h2m1 0h1m3 0h2m3 0h1m.5 0h1m1.5 0h1m2 0h1m11 0h1m7.5 0h1m1.5 0h1m6.5 0h1M30 86h1m.5 0h1m1.5 0h2m1 0h2m1.5 0h1m.5 0h1m7 0h1m1 0h1.5m2.5 0h1m3.5 0h1m4.5 0h2.5m2 0h1m.5 0h1m6.5 0h1m2 0h1M27 86.5h1m4.5 0h1m3 0h1m8 0h2m7.5 0h1m21.5 0h1m16 0h1m1.5 0h2M34.5 87h2m1.5 0h1.5m11 0h1m.5 0h1m4 0h1m4 0h1m19.5 0h1m8.5 0h1M32 87.5h1m.5 0h1m6 0h1.5m.5 0h1m.5 0h1m2.5 0h1m4 0h1.5m3 0h1m3.5 0h1m27 0h1M29.5 88h2m3 0h1m9.5 0h1m.5 0h1m4 0h2.5m4 0h1m2.5 0h1m2.5 0h1m4 0h2m4 0h1m3 0h1m5.5 0h1M31 88.5h1.5m2 0h1m1 0h1m1 0h1m8.5 0h1m.5 0h1.5m2.5 0h2m1 0h1m3.5 0h1m.5 0h1m17 0h1m.5 0h1M31 89h3m2 0h1m4 0h1m.5 0h1m.5 0h1m2.5 0h1m12 0h1m3 0h1.5m4 0h1m5 0h1m8.5 0h1M29 89.5h1m5 0h1m2 0h1m1.5 0h1m3.5 0h1m16 0h2.5m9.5 0h1m4.5 0h1.5m3 0h1M35 90h1m2 0h1m11 0h1m1 0h1m1 0h1m2 0h1m2 0h2m3 0h3m5 0h1m1 0h1.5m3 0h1m2.5 0h1M28 90.5h1m2.5 0h1m11 0h1m2 0h1m.5 0h1m6 0h1m12 0h2m.5 0h1m1 0h2m7.5 0h1m4 0h1m5.5 0h1M25.5 91h1m6 0h1m1.5 0h1m1 0h1m4.5 0h1m3.5 0h3m3.5 0h1m3 0h1m10 0h1.5M26 91.5h1m1 0h1m4 0h2m5 0h1m4.5 0h1m8 0h1m8.5 0h1m2 0h1M40 92h2m7.5 0h1.5m1 0h1.5m1.5 0h1m1 0h1m11.5 0h1m2.5 0h1m3.5 0h1m6 0h1M29.5 92.5h1.5m3.5 0h1m1 0h2m2.5 0h2m1.5 0h1m.5 0h1m1 0h1m.5 0h1m15 0h1m5 0h1m10 0h1M28 93h1m.5 0h1m.5 0h1m2.5 0h1.5m1.5 0h1m.5 0h1m1.5 0h1m1 0h1m1 0h1m2 0h1m.5 0h3.5m19 0h1m5.5 0h1m16 0h1M28.5 93.5h1.5m7.5 0h1.5m2 0h1m.5 0h1m3.5 0h1m7.5 0h1m1 0h2m12 0h1m1.5 0h1.5m2.5 0h1M21.5 94h1m4.5 0h1m2.5 0h2.5m.5 0h1m.5 0h1m1 0h1m1 0h1m5.5 0h1m1 0h1.5m1 0h1m4.5 0h2.5m1.5 0h1m5.5 0h1m2.5 0h1m4.5 0h2M27 94.5h1m5 0h1m1 0h1m2.5 0h1m1.5 0h1m.5 0h1m5 0h1m2 0h1m12.5 0h1m12.5 0h1M25.5 95h2m19.5 0h1m1 0h1m.5 0h1m6 0h1m15.5 0h1M26 95.5h1m3.5 0h1m3 0h1m1.5 0h2m16.5 0h1m2.5 0h1m.5 0h1m14 0h1m2.5 0h1M27 96h1m12 0h1m2.5 0h1m.5 0h1.5m2.5 0h2m9.5 0h1m2.5 0h1m3.5 0h1m3.5 0h1m4.5 0h1M26.5 96.5h1.5m8.5 0h1m3 0h1m3 0h2m2 0h1m1.5 0h1m10 0h1m9.5 0h1m3.5 0h1M30.5 97h1m.5 0h1m2 0h1m6.5 0h2m3.5 0h2.5m9.5 0h1m2 0h1m8 0h1M26 97.5h3m1 0h1m2 0h1m4.5 0h1m2 0h1.5m1.5 0h2m.5 0h1m2.5 0h1m8.5 0h1m.5 0h1m1.5 0h1m5.5 0h1m6 0h1m.5 0h1m3.5 0h1m4 0h1M30 98h1m4 0h1m2.5 0h1m5 0h1m.5 0h1.5m4 0h1m22 0h1M27 98.5h1m5.5 0h1m2.5 0h1m9 0h1M25 99h1m1 0h1m2 0h1m8 0h1m2.5 0h1m6 0h1m5.5 0h1m13 0h1m.5 0h1m2.5 0h1M28 99.5h1m5.5 0h1m12 0h1m9.5 0h1.5m3.5 0h1m1.5 0h1m9.5 0h2m1.5 0h1M26.5 100h1m1 0h1m6.5 0h1m.5 0h1.5m2.5 0h1m.5 0h1m2 0h1m1 0h1m4.5 0h1m12.5 0h1m10 0h1M24.5 100.5h1m4 0h1m9 0h2m11 0h1m3.5 0h1m1 0h1m6.5 0h1M24 101h1m3 0h1m2 0h1m3.5 0h1m3.5 0h1m1 0h1m3 0h1m4.5 0h1m23.5 0h1M30.5 101.5h1m4.5 0h1m4 0h1m7 0h1m.5 0h1m12 0h1m2.5 0h1M30.5 102h2m2.5 0h1m8.5 0h1.5m5 0h1m2.5 0h1.5m.5 0h1m6 0h1m3.5 0h1m3.5 0h1m2 0h1m.5 0h1M32.5 102.5h1m9 0h1m7 0h1m1 0h1.5m1 0h1m9.5 0h1m5 0h1m1.5 0h1m2 0h2M27.5 103h1m13.5 0h1m1 0h1m5 0h1m.5 0h1.5m1 0h1.5m2.5 0h1m2.5 0h1m16.5 0h1M22.5 103.5h1m3 0h1m21 0h2m.5 0h1.5m11.5 0h1m9.5 0h2.5M28.5 104h1m3.5 0h1m1 0h1m15.5 0h1m1 0h1m1 0h1m3.5 0h1m8 0h1m2.5 0h1m3.5 0h1M30.5 104.5h1m1.5 0h1m.5 0h1m1.5 0h1m11.5 0h1m2 0h1m1.5 0h1m8 0h1m.5 0h1m8 0h1M31.5 105h1m2 0h1.5m13 0h2m1 0h1.5m2.5 0h1m2.5 0h1M22.5 105.5h1m3 0h1m4.5 0h1m15.5 0h1m1 0h1m1.5 0h2m18 0h1m4 0h1M20.5 106h1m2 0h1m.5 0h1m12.5 0h1m1.5 0h1m7 0h2.5m1 0h1.5m6.5 0h1m7 0h1M30 106.5h1m16.5 0h1m1 0h2.5m1.5 0h2.5m.5 0h1m7.5 0h1m9.5 0h1m.5 0h1m4.5 0h1M36 107h1m8.5 0h1m2 0h1m1 0h2m1 0h1m.5 0h1M27.5 107.5h1m20 0h1m1.5 0h3m4 0h1M43 108h1m1 0h1.5m2 0h1m4.5 0h1m7 0h1m1.5 0h2m1.5 0h1m6 0h1m2.5 0h1M31 108.5h1m12.5 0h1m1.5 0h1.5m1.5 0h1.5m.5 0h1m.5 0h1m.5 0h1.5m2 0h1m17 0h1m1 0h1M50 109h2m2.5 0h1m6.5 0h1m1.5 0h1m7 0h1m.5 0h1M22.5 109.5h1m2.5 0h1m7 0h1m5.5 0h1m3.5 0h1m1.5 0h1m5.5 0h2m11.5 0h1m2 0h2m14 0h1M18.5 110h1m6.5 0h1m9 0h1m10 0h1m.5 0h2.5m3 0h2.5m3 0h1m5.5 0h1m5.5 0h1m3.5 0h1M30.5 110.5h2.5m17.5 0h1m1 0h2m.5 0h2m10.5 0h1.5M28 111h1m16 0h1m7 0h1.5m23.5 0h1M44.5 111.5h1m1 0h1m.5 0h3m4 0h1m4.5 0h1m1 0h1m8 0h1m.5 0h1M22.5 112h1m6 0h1.5m7 0h1m7 0h1m8.5 0h1M33 112.5h1m14 0h1m1 0h1.5m2 0h1m2.5 0h1m2.5 0h1m9.5 0h1m3 0h1m2.5 0h1M46.5 113h5.5m.5 0h1.5m4 0h1m.5 0h1m8 0h1M18.5 113.5h1m11.5 0h1m5.5 0h1m8.5 0h3.5m.5 0h4m19 0h1m3 0h2M48 114h1.5m.5 0h2m1 0h2m2.5 0h1m19.5 0h2M47 114.5h3.5m2 0h2m11 0h1m2.5 0h1m7.5 0h1M47.5 115h2.5m1 0h1m16.5 0h1m6.5 0h1m1.5 0h1M26.5 115.5h1m19 0h1m1.5 0h2.5m1 0h2m4 0h1m21 0h1M37.5 116h1m7 0h1m1 0h1.5m1 0h1m.5 0h1m.5 0h1.5m23 0h1m3 0h1M17 116.5h1m13.5 0h1m2 0h1m2.5 0h1m1 0h1m5 0h1m2.5 0h2m.5 0h1m11 0h1m6.5 0h2m2.5 0h1M22.5 117h1m26.5 0h1m.5 0h1m1 0h1m3 0h1m2.5 0h1m2.5 0h1m8.5 0h1.5m1.5 0h1m4.5 0h1M22 117.5h1m2.5 0h1m9 0h1m10.5 0h2.5m.5 0h1.5m14 0h1m1.5 0h1m4 0h1m4 0h1M47 118h1m2.5 0h1m6 0h1m1.5 0h1m11 0h1M22 118.5h1m5.5 0h1m18 0h1.5m2.5 0h1m8.5 0h1m11 0h1m2 0h1M22 119h1m2 0h1m20.5 0h1m1 0h1m1.5 0h1m3 0h1m4 0h1m7 0h1m9.5 0h1M21.5 119.5h1m24 0h2.5m22.5 0h1m4 0h1M25.5 120h1m1 0h1.5m21 0h1m1 0h3m4.5 0h1m8.5 0h1m4.5 0h1m7 0h1M26 120.5h1m5 0h1m10.5 0h1m2.5 0h1.5m1 0h1m.5 0h1m1.5 0h1.5m5 0h1m4 0h1m7 0h1M22 121h1m5.5 0h1m13.5 0h1m3.5 0h1m3 0h1m9.5 0h1m12 0h1m4.5 0h1M35.5 121.5h1m10 0h1m1 0h1m.5 0h1.5m2 0h1.5m5.5 0h2m8.5 0h1m4 0h1M23.5 122h1m13 0h1m7.5 0h1m.5 0h4m1 0h2m1 0h1m12.5 0h1M19 122.5h1m26 0h1.5m1.5 0h1.5m11 0h1m1.5 0h1m2 0h1M23.5 123h1m1 0h1m4.5 0h1m3 0h1m9.5 0h1.5m3.5 0h1.5m20.5 0h1m1 0h2.5M47.5 123.5h1.5m4.5 0h1m11 0h1m10 0h1M18.5 124h1m26 0h1m1 0h1.5m1 0h1.5m2 0h1m21 0h1M21.5 124.5h1m6.5 0h1m14.5 0h1m7 0h2m5 0h1m8 0h1m6.5 0h1M35.5 125h1m7.5 0h1m4 0h3.5m2 0h1m17 0h1m12 0h1M49.5 125.5h1m.5 0h1m1.5 0h1m.5 0h1m14.5 0h1m4.5 0h1M26.5 126h1m22 0h4.5m3 0h1m16.5 0h2M33.5 126.5h1m1.5 0h1m6 0h1m5 0h1m4 0h2m4.5 0h1m4 0h1m.5 0h1m5.5 0h1M33 127h1m13.5 0h1m1.5 0h1m.5 0h1.5m2.5 0h1m7 0h1m7.5 0h1M26 127.5h1m4.5 0h1m1 0h1m5.5 0h1m7.5 0h1.5m1.5 0h1m1.5 0h1m25 0h1M44.5 128h1m5.5 0h3m1 0h1m1 0h1m6.5 0h1m13.5 0h1M24.5 128.5h1m21.5 0h1.5m.5 0h1m1 0h1m1 0h2.5m18.5 0h1M36.5 129h1m13 0h1.5m1.5 0h2m.5 0h1m9 0h1.5M23 129.5h1m8.5 0h1m3.5 0h1m13.5 0h1.5M25.5 130h1m22 0h1m3.5 0h1m1.5 0h1m.5 0h1m6 0h1m3 0h1M52.5 130.5h1m19 0h1M43.5 131h1m3.5 0h1m.5 0h1m2.5 0h2m.5 0h3M33 131.5h1m18.5 0h1.5m5.5 0h1m4 0h1m2.5 0h1M36 132h1m15 0h2.5m1 0h1m.5 0h1m.5 0h1m5 0h1M46.5 132.5h1m2.5 0h2m2.5 0h1m2 0h1m.5 0h1M34 133h1m21.5 0h1m.5 0h1M25.5 133.5h1m6.5 0h1m4 0h1m12 0h1m2.5 0h4m2.5 0h1M50.5 134h2m.5 0h2m.5 0h1m1.5 0h1m2.5 0h1M31 134.5h1m19.5 0h1m1 0h1m.5 0h1m3.5 0h1m.5 0h1M51 135h2.5m.5 0h1.5m.5 0h1m.5 0h1.5m1 0h1.5M33.5 135.5h1m12 0h1m5 0h1m1 0h1m4.5 0h1m1.5 0h1M50 136h1m.5 0h1m4 0h1m4.5 0h1.5M34 136.5h2.5m7 0h1m10 0h2m.5 0h1m1.5 0h2m.5 0h1M31.5 137h1m26 0h3m3 0h2M30 137.5h1.5m8 0h1m12 0h1m3 0h1M27 138h1m28.5 0h1m1 0h2m4.5 0h1M34 138.5h1m23 0h1M30.5 139h1m2.5 0h1m18.5 0h1m5 0h1M36 139.5h1m20 0h1m1 0h1M62.5 140h1m1 0h1M46 140.5h1m3 0h1m7.5 0h1m.5 0h1m.5 0h2m1.5 0h1M42.5 141h1.5m5.5 0h1m4 0h1m4 0h1m2.5 0h2M44.5 141.5h1m13.5 0h1m2.5 0h1M46.5 142h1m11.5 0h1m1.5 0h1m3 0h1M66 142.5h1M40 143h1M53.5 145h1M59 146h1" stroke="#7cf59c" stroke-width="1" fill="none"/>
<text x="19.2" y="157" font-family="Liberation Serif, sans-serif" font-size="8.8" text-anchor="start" font-weight="normal" fill="#222" >1,913 podocytes</text>
<path d="M94 104.7L105.5 92.5V98.8H117.8V111H105.5V117Z" fill="#fff" stroke="#8a8a8a" stroke-width="0.8" stroke-linejoin="miter"/>
<path d="M80 182V227.4H125" stroke="#222" stroke-width="0.9" fill="none"/>
<path d="M80 180L78.2 183.6H81.8Z M127.4 227.4L123.8 225.6V229.2Z" fill="#222"/>
<text x="102" y="240.8" font-family="Liberation Sans, sans-serif" font-size="9.6" text-anchor="middle" font-weight="normal" fill="#222" >UMAP1</text>
<text transform="translate(72.4 208) rotate(-90)" font-family="Liberation Sans, sans-serif" font-size="9.6" text-anchor="middle" fill="#222">UMAP2</text>
<rect x="264.2" y="167.5" width="84.8" height="6.4" rx="0.8" fill="url(#turbo)"/>
<text x="265.0" y="162.6" font-family="Liberation Sans, sans-serif" font-size="7.3" text-anchor="start" font-weight="normal" fill="#27304c" textLength="90.8" lengthAdjust="spacingAndGlyphs" stroke="#27304c" stroke-width="0.15">Log2 Sum Exp - Podocyte</text>
<text x="265.0" y="182.8" font-family="Liberation Sans, sans-serif" font-size="7.3" text-anchor="start" font-weight="normal" fill="#2b3350" textLength="9.6" lengthAdjust="spacingAndGlyphs">0.0</text>
<text x="349.0" y="182.8" font-family="Liberation Sans, sans-serif" font-size="7.3" text-anchor="end" font-weight="normal" fill="#2b3350" textLength="13" lengthAdjust="spacingAndGlyphs">10.0</text>
<rect x="161.2" y="641.4" width="81.4" height="6.0" rx="0.8" fill="url(#turbo)"/>
<text x="162.0" y="636.5" font-family="Liberation Sans, sans-serif" font-size="7.3" text-anchor="start" font-weight="normal" fill="#27304c" textLength="57.8" lengthAdjust="spacingAndGlyphs" stroke="#27304c" stroke-width="0.15">Log2 Exp - GPX4</text>
<text x="162.0" y="656.3" font-family="Liberation Sans, sans-serif" font-size="7.3" text-anchor="start" font-weight="normal" fill="#2b3350" textLength="9.6" lengthAdjust="spacingAndGlyphs">0.0</text>
<text x="242.6" y="656.3" font-family="Liberation Sans, sans-serif" font-size="7.3" text-anchor="end" font-weight="normal" fill="#2b3350" textLength="13" lengthAdjust="spacingAndGlyphs">10.0</text>
<rect x="363.0" y="640.0" width="83.2" height="6.2" rx="0.8" fill="url(#turbo)"/>
<text x="363.8" y="635.1" font-family="Liberation Sans, sans-serif" font-size="7.3" text-anchor="start" font-weight="normal" fill="#27304c" textLength="68.5" lengthAdjust="spacingAndGlyphs" stroke="#27304c" stroke-width="0.15">Log2 Exp - MAPK14</text>
<text x="363.8" y="655.1" font-family="Liberation Sans, sans-serif" font-size="7.3" text-anchor="start" font-weight="normal" fill="#2b3350" textLength="9.6" lengthAdjust="spacingAndGlyphs">0.0</text>
<text x="446.2" y="655.1" font-family="Liberation Sans, sans-serif" font-size="7.3" text-anchor="end" font-weight="normal" fill="#2b3350" textLength="13" lengthAdjust="spacingAndGlyphs">10.0</text>
<rect x="571.8" y="639.3" width="75.4" height="5.8" rx="0.8" fill="url(#turbo)"/>
<text x="572.5999999999999" y="634.4" font-family="Liberation Sans, sans-serif" font-size="7.3" text-anchor="start" font-weight="normal" fill="#27304c" textLength="62.2" lengthAdjust="spacingAndGlyphs" stroke="#27304c" stroke-width="0.15">Log2 Exp - SLC7A11</text>
<text x="572.5999999999999" y="653.9999999999999" font-family="Liberation Sans, sans-serif" font-size="7.3" text-anchor="start" font-weight="normal" fill="#2b3350" textLength="9.6" lengthAdjust="spacingAndGlyphs">0.0</text>
<text x="647.1999999999999" y="653.9999999999999" font-family="Liberation Sans, sans-serif" font-size="7.3" text-anchor="end" font-weight="normal" fill="#2b3350" textLength="13" lengthAdjust="spacingAndGlyphs">10.0</text>
<text x="2.1" y="558.0" font-family="Liberation Sans, sans-serif" font-size="28" text-anchor="start" font-weight="bold" fill="#000" >g</text>
<text x="2.6" y="248.0" font-family="Liberation Sans, sans-serif" font-size="28" text-anchor="start" font-weight="bold" fill="#000" >b</text>
<text x="42.3" y="251.1" font-family="Liberation Sans, sans-serif" font-size="6.0" text-anchor="middle" font-weight="normal" fill="#222" >6</text>
<path d="M47 248.6H393" stroke="#ececec" stroke-width="0.6"/>
<text x="42.3" y="273.1" font-family="Liberation Sans, sans-serif" font-size="6.0" text-anchor="middle" font-weight="normal" fill="#222" >4</text>
<path d="M47 270.6H393" stroke="#ececec" stroke-width="0.6"/>
<text x="42.3" y="294.8" font-family="Liberation Sans, sans-serif" font-size="6.0" text-anchor="middle" font-weight="normal" fill="#222" >2</text>
<path d="M47 292.3H393" stroke="#ececec" stroke-width="0.6"/>
<text x="42.3" y="316.70000000000005" font-family="Liberation Sans, sans-serif" font-size="6.0" text-anchor="middle" font-weight="normal" fill="#222" >0</text>
<path d="M47 316.3H393" stroke="#cfcfcf" stroke-width="0.8"/>
<path d="M54.6 316.3C58.6 315.6 64.6 315.6 68.6 316.3Z" fill="#1f2a80" stroke="#1f2a80" stroke-width="0.2" opacity="0.7"/>
<path d="M61.6 294.2V316.3" stroke="#777" stroke-width="0.4"/>
<circle cx="61.6" cy="305.3" r="0.5" fill="#444"/>
<text x="61.7" y="324.0" font-family="Liberation Sans, sans-serif" font-size="5.0" text-anchor="middle" font-weight="normal" fill="#222" >Erythroblast</text>
<path d="M89.4 316.3C93.4 315.6 99.4 315.6 103.4 316.3Z" fill="#8a8a20" stroke="#8a8a20" stroke-width="0.2" opacity="0.7"/>
<path d="M96.4 289.8V316.3" stroke="#777" stroke-width="0.4"/>
<circle cx="96.4" cy="305.3" r="0.5" fill="#444"/>
<text x="96.4" y="324.0" font-family="Liberation Sans, sans-serif" font-size="5.0" text-anchor="middle" font-weight="normal" fill="#222" >Loop of Henle cell</text>
<path d="M124.4 316.3C128.4 315.6 134.4 315.6 138.4 316.3Z" fill="#2a40b0" stroke="#2a40b0" stroke-width="0.2" opacity="0.7"/>
<path d="M131.4 294.2V316.3" stroke="#777" stroke-width="0.4"/>
<circle cx="131.4" cy="305.3" r="0.5" fill="#444"/>
<text x="134.7" y="324.0" font-family="Liberation Sans, sans-serif" font-size="5.0" text-anchor="middle" font-weight="normal" fill="#222" >Classical B cell</text>
<path d="M159.4 316.3C163.4 315.6 169.4 315.6 173.4 316.3Z" fill="#e0901a" stroke="#e0901a" stroke-width="0.2" opacity="0.7"/>
<path d="M166.4 278.4V316.3" stroke="#777" stroke-width="0.4"/>
<circle cx="166.4" cy="305.3" r="0.5" fill="#444"/>
<text x="174.9" y="324.0" font-family="Liberation Sans, sans-serif" font-size="5.0" text-anchor="middle" font-weight="normal" fill="#222" >Cortical stromal cell</text>
<path d="M194 316.3C198 315.6 204 315.6 208 316.3Z" fill="#3070c0" stroke="#3070c0" stroke-width="0.2" opacity="0.7"/>
<path d="M201 298.6V316.3" stroke="#777" stroke-width="0.4"/>
<circle cx="201" cy="305.3" r="0.5" fill="#444"/>
<text x="208" y="324.0" font-family="Liberation Sans, sans-serif" font-size="5.0" text-anchor="middle" font-weight="normal" fill="#222" >PST cell</text>
<path d="M228.7 316.3C232.7 315.6 238.7 315.6 242.7 316.3Z" fill="#e05a20" stroke="#e05a20" stroke-width="0.2" opacity="0.7"/>
<path d="M235.7 287.2V316.3" stroke="#777" stroke-width="0.4"/>
<circle cx="235.7" cy="305.3" r="0.5" fill="#444"/>
<text x="234.8" y="324.0" font-family="Liberation Sans, sans-serif" font-size="5.0" text-anchor="middle" font-weight="normal" fill="#222" >PSC</text>
<path d="M263.6 316.3C267.6 315.6 273.6 315.6 277.6 316.3Z" fill="#209090" stroke="#209090" stroke-width="0.2" opacity="0.7"/>
<path d="M270.6 290V316.3" stroke="#777" stroke-width="0.4"/>
<circle cx="270.6" cy="305.3" r="0.5" fill="#444"/>
<text x="269" y="324.0" font-family="Liberation Sans, sans-serif" font-size="5.0" text-anchor="middle" font-weight="normal" fill="#222" >T cell</text>
<path d="M298.6 316.3C302.6 315.6 308.6 315.6 312.6 316.3Z" fill="#d03020" stroke="#d03020" stroke-width="0.2" opacity="0.7"/>
<path d="M305.6 298V316.3" stroke="#777" stroke-width="0.4"/>
<circle cx="305.6" cy="305.3" r="0.5" fill="#444"/>
<text x="307" y="324.0" font-family="Liberation Sans, sans-serif" font-size="5.0" text-anchor="middle" font-weight="normal" fill="#222" >Myofibroblast</text>
<path d="M340.2 252C340.59999999999997 285 341.8 300 342.4 309C343.2 313 346.2 315.5 349.7 316.4H330.7C334.2 315.5 337.2 313 338.0 309C338.59999999999997 300 339.8 285 340.2 252Z" fill="#35dc68"/>
<rect x="337.9" y="305.3" width="4.6" height="10.6" fill="#6b7a70" opacity="0.85"/>
<path d="M340.2 245V316.3" stroke="#444" stroke-width="0.5"/>
<text x="341.3" y="324.0" font-family="Liberation Sans, sans-serif" font-size="5.0" text-anchor="middle" font-weight="normal" fill="#222" >Podocyte</text>
<path d="M367.9 316.3C371.9 315.6 377.9 315.6 381.9 316.3Z" fill="#c02020" stroke="#c02020" stroke-width="0.2" opacity="0.7"/>
<path d="M374.9 294V316.3" stroke="#777" stroke-width="0.4"/>
<circle cx="374.9" cy="305.3" r="0.5" fill="#444"/>
<text x="377" y="324.0" font-family="Liberation Sans, sans-serif" font-size="5.0" text-anchor="middle" font-weight="normal" fill="#222" >Principal cell</text>
<text x="0.8" y="352.0" font-family="Liberation Sans, sans-serif" font-size="28" text-anchor="start" font-weight="bold" fill="#000" >c</text>
<rect x="31.5" y="359.5" width="184.1" height="154.0" fill="none" stroke="#333" stroke-width="1"/>
<path d="M29.7 513.5H31.5" stroke="#222" stroke-width="0.6"/>
<text x="28.7" y="515.1" font-family="Liberation Sans, sans-serif" font-size="4.9" text-anchor="end" font-weight="normal" fill="#111" >0</text>
<path d="M29.7 487.8333333333333H31.5" stroke="#222" stroke-width="0.6"/>
<text x="28.7" y="489.43333333333334" font-family="Liberation Sans, sans-serif" font-size="4.9" text-anchor="end" font-weight="normal" fill="#111" >2</text>
<path d="M29.7 462.1666666666667H31.5" stroke="#222" stroke-width="0.6"/>
<text x="28.7" y="463.7666666666667" font-family="Liberation Sans, sans-serif" font-size="4.9" text-anchor="end" font-weight="normal" fill="#111" >4</text>
<path d="M29.7 436.5H31.5" stroke="#222" stroke-width="0.6"/>
<text x="28.7" y="438.1" font-family="Liberation Sans, sans-serif" font-size="4.9" text-anchor="end" font-weight="normal" fill="#111" >6</text>
<path d="M29.7 410.8333333333333H31.5" stroke="#222" stroke-width="0.6"/>
<text x="28.7" y="412.43333333333334" font-family="Liberation Sans, sans-serif" font-size="4.9" text-anchor="end" font-weight="normal" fill="#111" >8</text>
<path d="M29.7 385.16666666666663H31.5" stroke="#222" stroke-width="0.6"/>
<text x="28.7" y="386.76666666666665" font-family="Liberation Sans, sans-serif" font-size="4.9" text-anchor="end" font-weight="normal" fill="#111" >10</text>
<path d="M29.7 359.5H31.5" stroke="#222" stroke-width="0.6"/>
<text x="28.7" y="361.1" font-family="Liberation Sans, sans-serif" font-size="4.9" text-anchor="end" font-weight="normal" fill="#111" >12</text>
<path d="M31.5 513.5V515.3" stroke="#222" stroke-width="0.6"/>
<text x="31.5" y="520.8" font-family="Liberation Sans, sans-serif" font-size="4.9" text-anchor="middle" font-weight="normal" fill="#111" >0</text>
<path d="M68.32 513.5V515.3" stroke="#222" stroke-width="0.6"/>
<text x="68.32" y="520.8" font-family="Liberation Sans, sans-serif" font-size="4.9" text-anchor="middle" font-weight="normal" fill="#111" >2</text>
<path d="M105.14 513.5V515.3" stroke="#222" stroke-width="0.6"/>
<text x="105.14" y="520.8" font-family="Liberation Sans, sans-serif" font-size="4.9" text-anchor="middle" font-weight="normal" fill="#111" >4</text>
<path d="M141.95999999999998 513.5V515.3" stroke="#222" stroke-width="0.6"/>
<text x="141.95999999999998" y="520.8" font-family="Liberation Sans, sans-serif" font-size="4.9" text-anchor="middle" font-weight="normal" fill="#111" >6</text>
<path d="M178.78 513.5V515.3" stroke="#222" stroke-width="0.6"/>
<text x="178.78" y="520.8" font-family="Liberation Sans, sans-serif" font-size="4.9" text-anchor="middle" font-weight="normal" fill="#111" >8</text>
<path d="M215.6 513.5V515.3" stroke="#222" stroke-width="0.6"/>
<text x="215.6" y="520.8" font-family="Liberation Sans, sans-serif" font-size="4.9" text-anchor="middle" font-weight="normal" fill="#111" >10</text>
<path d="M50.4 360V513.5" stroke="#222" stroke-width="0.8" stroke-dasharray="1 1" fill="none"/>
<path d="M32 500.7H215.6" stroke="#222" stroke-width="0.8" stroke-dasharray="1 1" fill="none"/>
<text x="123.6" y="530.4" font-family="Liberation Sans, sans-serif" font-size="5.7" text-anchor="middle" font-weight="bold" fill="#222" >Log2FC</text>
<text transform="translate(16.9 436.4) rotate(-90)" font-family="Liberation Sans, sans-serif" font-size="5.7" font-weight="bold" text-anchor="middle" fill="#222">-Log10(p-value)</text>
<path d="M31.5 513.5L34.3 512.0L37.0 508.1L39.2 503.5L41.1 498.1L42.9 491.8L44.4 486.6L45.9 482.6L47.3 480.4L49.0 479.4L55.4 479.4L59.1 480.8L60.6 485.3L61.0 493.0L62.8 500.7L64.6 507.1L66.5 510.9L68.3 513.5Z" fill="url(#cloud)"/>
<circle cx="59.1" cy="481.2" r="1.35" fill="#54aee2"/>
<circle cx="59.1" cy="484.6" r="1.35" fill="#4d9fdd"/>
<circle cx="61.4" cy="482.2" r="1.35" fill="#52a9e0"/>
<circle cx="59.1" cy="487.9" r="1.35" fill="#4591d7"/>
<circle cx="61.4" cy="485.8" r="1.35" fill="#4a9adb"/>
<circle cx="64.3" cy="483.1" r="1.35" fill="#50a5df"/>
<circle cx="59.1" cy="490.8" r="1.35" fill="#4185d1"/>
<circle cx="62.0" cy="488.4" r="1.35" fill="#458fd6"/>
<circle cx="64.3" cy="486.5" r="1.35" fill="#4997da"/>
<circle cx="66.9" cy="484.4" r="1.35" fill="#4da0dd"/>
<circle cx="69.7" cy="482.1" r="1.35" fill="#52aae0"/>
<circle cx="71.9" cy="480.3" r="1.35" fill="#56b1e3"/>
<circle cx="59.1" cy="493.3" r="1.35" fill="#3e7bcb"/>
<circle cx="61.9" cy="491.3" r="1.35" fill="#4183cf"/>
<circle cx="64.3" cy="489.5" r="1.35" fill="#438ad4"/>
<circle cx="71.9" cy="483.9" r="1.35" fill="#4ea2de"/>
<circle cx="76.9" cy="480.3" r="1.35" fill="#56b1e3"/>
<circle cx="59.1" cy="495.6" r="1.35" fill="#3b71c5"/>
<circle cx="62.0" cy="493.7" r="1.35" fill="#3d79ca"/>
<circle cx="64.6" cy="492.1" r="1.35" fill="#4080ce"/>
<circle cx="67.0" cy="490.5" r="1.35" fill="#4286d1"/>
<circle cx="69.2" cy="489.0" r="1.35" fill="#448cd5"/>
<circle cx="80.0" cy="482.1" r="1.35" fill="#52aae1"/>
<circle cx="59.1" cy="497.7" r="1.35" fill="#3868c0"/>
<circle cx="61.9" cy="496.1" r="1.35" fill="#3a6fc4"/>
<circle cx="64.3" cy="494.7" r="1.35" fill="#3c74c7"/>
<circle cx="67.1" cy="493.2" r="1.35" fill="#3e7bcb"/>
<circle cx="69.8" cy="491.6" r="1.35" fill="#4082cf"/>
<circle cx="72.2" cy="490.2" r="1.35" fill="#4287d2"/>
<circle cx="83.6" cy="483.7" r="1.35" fill="#4fa3de"/>
<circle cx="59.1" cy="499.6" r="1.35" fill="#3560bc"/>
<circle cx="61.9" cy="498.2" r="1.35" fill="#3766bf"/>
<circle cx="65.0" cy="496.7" r="1.35" fill="#396cc3"/>
<circle cx="67.2" cy="495.6" r="1.35" fill="#3b71c5"/>
<circle cx="69.8" cy="494.3" r="1.35" fill="#3c76c8"/>
<circle cx="78.3" cy="490.0" r="1.35" fill="#4288d2"/>
<circle cx="92.2" cy="483.0" r="1.35" fill="#50a6df"/>
<circle cx="59.1" cy="501.4" r="1.35" fill="#3359b7"/>
<circle cx="61.6" cy="500.3" r="1.35" fill="#345dba"/>
<circle cx="64.2" cy="499.1" r="1.35" fill="#3662bd"/>
<circle cx="66.4" cy="498.2" r="1.35" fill="#3766bf"/>
<circle cx="69.2" cy="497.0" r="1.35" fill="#396bc2"/>
<circle cx="75.2" cy="494.3" r="1.35" fill="#3c76c8"/>
<circle cx="59.1" cy="502.9" r="1.35" fill="#3155b2"/>
<circle cx="61.8" cy="501.9" r="1.35" fill="#3258b5"/>
<circle cx="64.7" cy="500.8" r="1.35" fill="#335bb9"/>
<circle cx="67.1" cy="499.9" r="1.35" fill="#355fbb"/>
<circle cx="69.9" cy="498.8" r="1.35" fill="#3663be"/>
<circle cx="72.3" cy="497.8" r="1.35" fill="#3767c0"/>
<circle cx="83.9" cy="493.4" r="1.35" fill="#3e7aca"/>
<circle cx="87.9" cy="491.9" r="1.35" fill="#4081ce"/>
<circle cx="96.1" cy="488.7" r="1.35" fill="#448ed5"/>
<circle cx="105.0" cy="485.3" r="1.35" fill="#4b9cdb"/>
<circle cx="59.1" cy="504.5" r="1.35" fill="#3050ad"/>
<circle cx="61.7" cy="503.6" r="1.35" fill="#3153b0"/>
<circle cx="64.2" cy="502.8" r="1.35" fill="#3155b2"/>
<circle cx="66.8" cy="501.9" r="1.35" fill="#3258b5"/>
<circle cx="69.4" cy="501.1" r="1.35" fill="#335ab8"/>
<circle cx="71.9" cy="500.3" r="1.35" fill="#345dba"/>
<circle cx="59.1" cy="505.8" r="1.35" fill="#2e4ca8"/>
<circle cx="61.6" cy="505.1" r="1.35" fill="#2f4eab"/>
<circle cx="64.0" cy="504.4" r="1.35" fill="#3050ad"/>
<circle cx="66.9" cy="503.6" r="1.35" fill="#3153b0"/>
<circle cx="69.6" cy="502.9" r="1.35" fill="#3155b2"/>
<circle cx="72.3" cy="502.1" r="1.35" fill="#3257b5"/>
<circle cx="78.4" cy="500.4" r="1.35" fill="#345dba"/>
<circle cx="81.6" cy="499.5" r="1.35" fill="#3560bc"/>
<circle cx="85.5" cy="498.5" r="1.35" fill="#3765bf"/>
<circle cx="89.5" cy="497.3" r="1.35" fill="#386ac1"/>
<circle cx="97.9" cy="495.0" r="1.35" fill="#3b73c7"/>
<circle cx="102.5" cy="493.7" r="1.35" fill="#3d79ca"/>
<circle cx="59.1" cy="507.1" r="1.35" fill="#2d48a4"/>
<circle cx="61.4" cy="506.6" r="1.35" fill="#2d49a6"/>
<circle cx="63.8" cy="506.1" r="1.35" fill="#2e4ba7"/>
<circle cx="66.2" cy="505.5" r="1.35" fill="#2f4da9"/>
<circle cx="69.0" cy="504.9" r="1.35" fill="#2f4fab"/>
<circle cx="74.5" cy="503.6" r="1.35" fill="#3153b0"/>
<circle cx="77.3" cy="503.0" r="1.35" fill="#3154b2"/>
<circle cx="83.7" cy="501.5" r="1.35" fill="#3359b7"/>
<circle cx="116.1" cy="494.0" r="1.35" fill="#3d77c9"/>
<circle cx="59.1" cy="508.3" r="1.35" fill="#2c44a0"/>
<circle cx="61.6" cy="507.8" r="1.35" fill="#2c46a1"/>
<circle cx="63.9" cy="507.4" r="1.35" fill="#2d47a3"/>
<circle cx="66.8" cy="506.9" r="1.35" fill="#2d49a5"/>
<circle cx="69.5" cy="506.4" r="1.35" fill="#2e4aa6"/>
<circle cx="72.0" cy="505.9" r="1.35" fill="#2e4ca8"/>
<circle cx="74.6" cy="505.4" r="1.35" fill="#2f4daa"/>
<circle cx="77.9" cy="504.8" r="1.35" fill="#2f4fac"/>
<circle cx="113.2" cy="498.1" r="1.35" fill="#3766bf"/>
<circle cx="59.1" cy="509.5" r="1.35" fill="#2b419c"/>
<circle cx="61.3" cy="509.1" r="1.35" fill="#2b429d"/>
<circle cx="63.7" cy="508.8" r="1.35" fill="#2b439e"/>
<circle cx="66.0" cy="508.4" r="1.35" fill="#2c449f"/>
<circle cx="68.3" cy="508.1" r="1.35" fill="#2c45a1"/>
<circle cx="70.8" cy="507.7" r="1.35" fill="#2c46a2"/>
<circle cx="79.1" cy="506.5" r="1.35" fill="#2e4aa6"/>
<circle cx="82.4" cy="506.1" r="1.35" fill="#2e4ba7"/>
<circle cx="90.3" cy="504.9" r="1.35" fill="#2f4fab"/>
<circle cx="94.4" cy="504.3" r="1.35" fill="#3050ad"/>
<circle cx="59.1" cy="510.6" r="1.35" fill="#293d98"/>
<circle cx="61.9" cy="510.3" r="1.35" fill="#2a3e99"/>
<circle cx="64.3" cy="510.1" r="1.35" fill="#2a3f9a"/>
<circle cx="67.0" cy="509.8" r="1.35" fill="#2a409b"/>
<circle cx="70.0" cy="509.5" r="1.35" fill="#2b419c"/>
<circle cx="75.1" cy="508.9" r="1.35" fill="#2b429e"/>
<circle cx="81.2" cy="508.3" r="1.35" fill="#2c44a0"/>
<circle cx="84.9" cy="507.9" r="1.35" fill="#2c45a1"/>
<circle cx="88.4" cy="507.5" r="1.35" fill="#2d47a2"/>
<circle cx="92.7" cy="507.1" r="1.35" fill="#2d48a4"/>
<circle cx="97.2" cy="506.6" r="1.35" fill="#2d49a6"/>
<circle cx="59.1" cy="511.6" r="1.35" fill="#283a95"/>
<circle cx="62.1" cy="511.4" r="1.35" fill="#293b96"/>
<circle cx="64.6" cy="511.2" r="1.35" fill="#293c96"/>
<circle cx="67.1" cy="511.0" r="1.35" fill="#293c97"/>
<circle cx="70.1" cy="510.8" r="1.35" fill="#293d98"/>
<circle cx="73.2" cy="510.6" r="1.35" fill="#293d98"/>
<circle cx="76.1" cy="510.4" r="1.35" fill="#2a3e99"/>
<circle cx="108.6" cy="508.1" r="1.35" fill="#2c45a1"/>
<circle cx="59.1" cy="512.5" r="1.35" fill="#273792"/>
<circle cx="61.4" cy="512.5" r="1.35" fill="#283892"/>
<circle cx="63.9" cy="512.4" r="1.35" fill="#283892"/>
<circle cx="66.5" cy="512.3" r="1.35" fill="#283893"/>
<circle cx="69.1" cy="512.2" r="1.35" fill="#283893"/>
<circle cx="72.0" cy="512.1" r="1.35" fill="#283993"/>
<circle cx="75.1" cy="512.0" r="1.35" fill="#283994"/>
<circle cx="77.7" cy="511.9" r="1.35" fill="#283994"/>
<circle cx="81.0" cy="511.8" r="1.35" fill="#283a94"/>
<circle cx="59.1" cy="513.5" r="1.35" fill="#27358f"/>
<circle cx="61.6" cy="513.5" r="1.35" fill="#27358f"/>
<circle cx="64.3" cy="513.5" r="1.35" fill="#27358f"/>
<circle cx="66.5" cy="513.5" r="1.35" fill="#27358f"/>
<circle cx="68.9" cy="513.5" r="1.35" fill="#27358f"/>
<circle cx="74.2" cy="513.5" r="1.35" fill="#27358f"/>
<circle cx="77.1" cy="513.5" r="1.35" fill="#27358f"/>
<circle cx="86.9" cy="513.5" r="1.35" fill="#27358f"/>
<circle cx="95.2" cy="513.5" r="1.35" fill="#27358f"/>
<circle cx="100.1" cy="513.5" r="1.35" fill="#27358f"/>
<circle cx="104.8" cy="513.5" r="1.35" fill="#27358f"/>
<circle cx="53.6" cy="480.1" r="1.35" fill="#57b2e4"/>
<circle cx="56.4" cy="480.8" r="1.35" fill="#55afe3"/>
<circle cx="59.1" cy="480.1" r="1.35" fill="#57b2e4"/>
<circle cx="62.8" cy="482.1" r="1.35" fill="#52aae1"/>
<circle cx="66.5" cy="481.4" r="1.35" fill="#54ade2"/>
<circle cx="68.3" cy="480.8" r="1.35" fill="#55afe3"/>
<circle cx="76.6" cy="481.4" r="1.35" fill="#54ade2"/>
<circle cx="79.4" cy="482.7" r="1.35" fill="#51a7e0"/>
<circle cx="79.4" cy="485.9" r="1.35" fill="#4a9adb"/>
<circle cx="92.3" cy="486.6" r="1.35" fill="#4897da"/>
<circle cx="96.9" cy="482.7" r="1.35" fill="#51a7e0"/>
<circle cx="99.6" cy="481.4" r="1.35" fill="#54ade2"/>
<circle cx="100.5" cy="486.6" r="1.35" fill="#4897da"/>
<circle cx="102.4" cy="487.2" r="1.35" fill="#4794d9"/>
<circle cx="109.7" cy="483.3" r="1.35" fill="#50a5df"/>
<circle cx="113.4" cy="486.6" r="1.35" fill="#4897da"/>
<circle cx="108.8" cy="491.7" r="1.35" fill="#4081cf"/>
<circle cx="114.3" cy="493.6" r="1.35" fill="#3d79ca"/>
<circle cx="120.8" cy="491.7" r="1.35" fill="#4081cf"/>
<circle cx="122.6" cy="496.2" r="1.35" fill="#3a6ec4"/>
<circle cx="125.4" cy="495.5" r="1.35" fill="#3b71c6"/>
<circle cx="132.8" cy="482.1" r="1.35" fill="#52aae1"/>
<circle cx="143.8" cy="490.4" r="1.35" fill="#4287d2"/>
<circle cx="132.8" cy="504.5" r="1.35" fill="#3050ad"/>
<circle cx="114.3" cy="498.7" r="1.35" fill="#3664be"/>
<circle cx="114.3" cy="507.1" r="1.35" fill="#2d48a4"/>
<circle cx="114.3" cy="513.5" r="1.35" fill="#27358f"/>
<circle cx="105.1" cy="501.3" r="1.35" fill="#335ab7"/>
<circle cx="106.1" cy="509.0" r="1.35" fill="#2b429e"/>
<circle cx="103.3" cy="513.5" r="1.35" fill="#27358f"/>
<circle cx="95.9" cy="513.5" r="1.35" fill="#27358f"/>
<circle cx="86.7" cy="513.5" r="1.35" fill="#27358f"/>
<circle cx="157.6" cy="471.4" r="1.6" fill="#67d1d8"/>
<circle cx="162.2" cy="469.9" r="1.6" fill="#69d3d0"/>
<circle cx="163.1" cy="475.0" r="1.35" fill="#61c5df"/>
<circle cx="165.9" cy="472.4" r="1.6" fill="#65cdda"/>
<circle cx="164.1" cy="478.2" r="1.35" fill="#5bbae4"/>
<circle cx="174.2" cy="472.7" r="1.6" fill="#65ccda"/>
<circle cx="175.1" cy="466.0" r="1.6" fill="#6ed6b7"/>
<circle cx="31.6" cy="379.4" r="3.1" fill="#c2283a"/>
<circle cx="175.3" cy="383" r="2.5" fill="#c42a40"/>
<circle cx="195" cy="441.1" r="1.7" fill="#f2e23c"/>
<circle cx="186.7" cy="455.6" r="1.5" fill="#bfe85e"/>
<text x="175.3" y="377.9" font-family="Liberation Sans, sans-serif" font-size="4.5" text-anchor="middle" font-weight="normal" fill="#333" >GPX4</text>
<text x="195" y="436.6" font-family="Liberation Sans, sans-serif" font-size="4.5" text-anchor="middle" font-weight="normal" fill="#333" >MAPK14</text>
<text x="186.7" y="451.0" font-family="Liberation Sans, sans-serif" font-size="4.5" text-anchor="middle" font-weight="normal" fill="#333" >SLC7A11</text>
<text x="218.5" y="352.0" font-family="Liberation Sans, sans-serif" font-size="28" text-anchor="start" font-weight="bold" fill="#000" >d</text>
<rect x="247.5" y="349.3" width="173.8" height="164.49999999999994" fill="none" stroke="#333" stroke-width="1"/>
<path d="M245.7 513.8H247.5" stroke="#222" stroke-width="0.6"/>
<text x="244.7" y="515.4" font-family="Liberation Sans, sans-serif" font-size="4.9" text-anchor="end" font-weight="normal" fill="#111" >0</text>
<path d="M245.7 490.3H247.5" stroke="#222" stroke-width="0.6"/>
<text x="244.7" y="491.9" font-family="Liberation Sans, sans-serif" font-size="4.9" text-anchor="end" font-weight="normal" fill="#111" >0.5</text>
<path d="M245.7 466.8H247.5" stroke="#222" stroke-width="0.6"/>
<text x="244.7" y="468.4" font-family="Liberation Sans, sans-serif" font-size="4.9" text-anchor="end" font-weight="normal" fill="#111" >1</text>
<path d="M245.7 443.3H247.5" stroke="#222" stroke-width="0.6"/>
<text x="244.7" y="444.9" font-family="Liberation Sans, sans-serif" font-size="4.9" text-anchor="end" font-weight="normal" fill="#111" >1.5</text>
<path d="M245.7 419.8H247.5" stroke="#222" stroke-width="0.6"/>
<text x="244.7" y="421.4" font-family="Liberation Sans, sans-serif" font-size="4.9" text-anchor="end" font-weight="normal" fill="#111" >2</text>
<path d="M245.7 396.3H247.5" stroke="#222" stroke-width="0.6"/>
<text x="244.7" y="397.9" font-family="Liberation Sans, sans-serif" font-size="4.9" text-anchor="end" font-weight="normal" fill="#111" >2.5</text>
<path d="M245.7 372.8H247.5" stroke="#222" stroke-width="0.6"/>
<text x="244.7" y="374.4" font-family="Liberation Sans, sans-serif" font-size="4.9" text-anchor="end" font-weight="normal" fill="#111" >3</text>
<path d="M245.7 349.3H247.5" stroke="#222" stroke-width="0.6"/>
<text x="244.7" y="350.9" font-family="Liberation Sans, sans-serif" font-size="4.9" text-anchor="end" font-weight="normal" fill="#111" >3.5</text>
<path d="M247.5 513.8V515.5999999999999" stroke="#222" stroke-width="0.6"/>
<text x="247.5" y="521.5999999999999" font-family="Liberation Sans, sans-serif" font-size="4.9" text-anchor="middle" font-weight="normal" fill="#111" >0</text>
<path d="M276.5 513.8V515.5999999999999" stroke="#222" stroke-width="0.6"/>
<text x="276.5" y="521.5999999999999" font-family="Liberation Sans, sans-serif" font-size="4.9" text-anchor="middle" font-weight="normal" fill="#111" >2</text>
<path d="M305.4 513.8V515.5999999999999" stroke="#222" stroke-width="0.6"/>
<text x="305.4" y="521.5999999999999" font-family="Liberation Sans, sans-serif" font-size="4.9" text-anchor="middle" font-weight="normal" fill="#111" >4</text>
<path d="M334.4 513.8V515.5999999999999" stroke="#222" stroke-width="0.6"/>
<text x="334.4" y="521.5999999999999" font-family="Liberation Sans, sans-serif" font-size="4.9" text-anchor="middle" font-weight="normal" fill="#111" >6</text>
<path d="M363.4 513.8V515.5999999999999" stroke="#222" stroke-width="0.6"/>
<text x="363.4" y="521.5999999999999" font-family="Liberation Sans, sans-serif" font-size="4.9" text-anchor="middle" font-weight="normal" fill="#111" >8</text>
<path d="M392.3 513.8V515.5999999999999" stroke="#222" stroke-width="0.6"/>
<text x="392.3" y="521.5999999999999" font-family="Liberation Sans, sans-serif" font-size="4.9" text-anchor="middle" font-weight="normal" fill="#111" >10</text>
<path d="M421.3 513.8V515.5999999999999" stroke="#222" stroke-width="0.6"/>
<text x="421.3" y="521.5999999999999" font-family="Liberation Sans, sans-serif" font-size="4.9" text-anchor="middle" font-weight="normal" fill="#111" >12</text>
<path d="M262.0 349V513.8" stroke="#222" stroke-width="0.8" stroke-dasharray="1 1" fill="none"/>
<path d="M248 466.8H421.3" stroke="#222" stroke-width="0.8" stroke-dasharray="1 1" fill="none"/>
<text x="334.6" y="532.8" font-family="Liberation Sans, sans-serif" font-size="5.7" text-anchor="middle" font-weight="bold" fill="#222" >Log2FC</text>
<text transform="translate(230.7 431) rotate(-90)" font-family="Liberation Sans, sans-serif" font-size="5.7" font-weight="bold" text-anchor="middle" fill="#222">-Log10(p-value)</text>
<circle cx="285.6" cy="403.8" r="2.3" fill="#e39a4e"/>
<circle cx="302.1" cy="406.4" r="2.3" fill="#e39a4e"/>
<circle cx="311.6" cy="407.3" r="2.3" fill="#e39a4e"/>
<circle cx="334.5" cy="402.9" r="2.3" fill="#e39a4e"/>
<circle cx="319.5" cy="416.5" r="2.3" fill="#ece23a"/>
<circle cx="286.5" cy="428.6" r="2.0" fill="#cfe652"/>
<circle cx="291.4" cy="427.1" r="2.0" fill="#cfe652"/>
<circle cx="297.9" cy="427.6" r="2.0" fill="#cfe652"/>
<circle cx="308.9" cy="427.8" r="2.0" fill="#cfe652"/>
<circle cx="305.1" cy="432.1" r="2.0" fill="#cfe652"/>
<circle cx="302.3" cy="435.3" r="2.0" fill="#cfe652"/>
<circle cx="286.2" cy="438.4" r="1.9" fill="#a4e06c"/>
<circle cx="292.3" cy="436.5" r="1.9" fill="#a4e06c"/>
<circle cx="297.9" cy="441.4" r="1.9" fill="#a4e06c"/>
<circle cx="296.7" cy="442.7" r="1.9" fill="#a4e06c"/>
<circle cx="316.0" cy="439.1" r="1.9" fill="#a4e06c"/>
<circle cx="314.7" cy="440.2" r="1.9" fill="#a4e06c"/>
<circle cx="308.9" cy="444.9" r="1.9" fill="#a4e06c"/>
<circle cx="280.6" cy="444.6" r="1.9" fill="#a4e06c"/>
<circle cx="287.9" cy="444.6" r="1.9" fill="#a4e06c"/>
<circle cx="293.7" cy="446.3" r="1.9" fill="#a4e06c"/>
<circle cx="285.6" cy="448.8" r="1.8" fill="#7edca0"/>
<circle cx="284.9" cy="450.7" r="1.8" fill="#7edca0"/>
<circle cx="290.9" cy="450.5" r="1.8" fill="#7edca0"/>
<circle cx="289.7" cy="451.9" r="1.8" fill="#7edca0"/>
<circle cx="301.9" cy="451.1" r="1.8" fill="#7edca0"/>
<circle cx="297.6" cy="454.9" r="1.8" fill="#7edca0"/>
<circle cx="295.8" cy="456.7" r="1.8" fill="#7edca0"/>
<circle cx="323.8" cy="454.9" r="1.8" fill="#7edca0"/>
<circle cx="285.3" cy="458.9" r="1.6" fill="#5fd0d4"/>
<circle cx="284.4" cy="460.7" r="1.6" fill="#5fd0d4"/>
<circle cx="294.1" cy="458.9" r="1.6" fill="#5fd0d4"/>
<circle cx="292.3" cy="460.7" r="1.6" fill="#5fd0d4"/>
<circle cx="290.9" cy="462.1" r="1.6" fill="#5fd0d4"/>
<circle cx="289.7" cy="463.3" r="1.6" fill="#5fd0d4"/>
<circle cx="278.6" cy="463.0" r="1.6" fill="#5fd0d4"/>
<circle cx="281.3" cy="464.7" r="1.6" fill="#5fd0d4"/>
<circle cx="307.2" cy="463.3" r="1.6" fill="#5fd0d4"/>
<circle cx="305.4" cy="464.7" r="1.6" fill="#5fd0d4"/>
<circle cx="303.7" cy="466.0" r="1.6" fill="#5fd0d4"/>
<circle cx="302.5" cy="466.7" r="1.6" fill="#5fd0d4"/>
<circle cx="275.7" cy="470.3" r="1.4" fill="#52b4e2"/>
<circle cx="278.3" cy="470.3" r="1.4" fill="#52b4e2"/>
<circle cx="283.9" cy="470.7" r="1.4" fill="#52b4e2"/>
<circle cx="282.7" cy="471.7" r="1.4" fill="#52b4e2"/>
<circle cx="281.4" cy="473.0" r="1.4" fill="#52b4e2"/>
<circle cx="297.0" cy="470.3" r="1.4" fill="#52b4e2"/>
<circle cx="274.8" cy="476.5" r="1.4" fill="#52b4e2"/>
<circle cx="273.0" cy="477.7" r="1.4" fill="#52b4e2"/>
<circle cx="290.9" cy="474.7" r="1.4" fill="#52b4e2"/>
<circle cx="289.7" cy="475.6" r="1.4" fill="#52b4e2"/>
<circle cx="288.4" cy="476.5" r="1.4" fill="#52b4e2"/>
<circle cx="287.0" cy="477.7" r="1.4" fill="#52b4e2"/>
<circle cx="285.6" cy="478.7" r="1.4" fill="#52b4e2"/>
<circle cx="284.4" cy="479.6" r="1.4" fill="#52b4e2"/>
<circle cx="330.5" cy="476.8" r="1.4" fill="#52b4e2"/>
<circle cx="341.7" cy="474.4" r="1.4" fill="#52b4e2"/>
<circle cx="280.0" cy="474.2" r="1.4" fill="#52b4e2"/>
<circle cx="278.8" cy="475.6" r="1.4" fill="#52b4e2"/>
<circle cx="271.3" cy="480.8" r="1.4" fill="#52b4e2"/>
<circle cx="269.5" cy="482.1" r="1.4" fill="#52b4e2"/>
<circle cx="268.3" cy="483.5" r="1.4" fill="#52b4e2"/>
<circle cx="273.9" cy="480.5" r="1.4" fill="#52b4e2"/>
<circle cx="308.9" cy="482.1" r="1.2" fill="#4a90d6"/>
<circle cx="301.4" cy="484.7" r="1.2" fill="#4a90d6"/>
<circle cx="299.3" cy="485.6" r="1.2" fill="#4a90d6"/>
<circle cx="295.8" cy="486.5" r="1.2" fill="#4a90d6"/>
<circle cx="292.3" cy="487.3" r="1.2" fill="#4a90d6"/>
<circle cx="287.9" cy="489.6" r="1.2" fill="#4a90d6"/>
<circle cx="280.0" cy="483.5" r="1.2" fill="#4a90d6"/>
<circle cx="278.3" cy="485.2" r="1.2" fill="#4a90d6"/>
<circle cx="276.5" cy="487.0" r="1.2" fill="#4a90d6"/>
<circle cx="271.3" cy="484.3" r="1.2" fill="#4a90d6"/>
<circle cx="269.5" cy="486.1" r="1.2" fill="#4a90d6"/>
<circle cx="267.8" cy="490.5" r="1.2" fill="#4a90d6"/>
<circle cx="266.0" cy="491.7" r="1.2" fill="#4a90d6"/>
<circle cx="247.5" cy="514.7" r="1.0" fill="#223090"/>
<circle cx="248.0" cy="514.3" r="1.0" fill="#223090"/>
<circle cx="248.5" cy="513.9" r="1.0" fill="#223191"/>
<circle cx="249.0" cy="513.5" r="1.0" fill="#233292"/>
<circle cx="249.6" cy="513.1" r="1.0" fill="#233393"/>
<circle cx="250.1" cy="512.7" r="1.0" fill="#233493"/>
<circle cx="250.6" cy="512.3" r="1.0" fill="#243594"/>
<circle cx="251.1" cy="511.9" r="1.0" fill="#243695"/>
<circle cx="251.7" cy="511.5" r="1.0" fill="#253796"/>
<circle cx="252.2" cy="511.1" r="1.0" fill="#253896"/>
<circle cx="252.7" cy="510.7" r="1.0" fill="#253997"/>
<circle cx="253.2" cy="510.3" r="1.0" fill="#263a98"/>
<circle cx="253.8" cy="509.9" r="1.0" fill="#263b99"/>
<circle cx="254.3" cy="509.5" r="1.0" fill="#263c99"/>
<circle cx="254.8" cy="509.1" r="1.0" fill="#273d9a"/>
<circle cx="255.3" cy="508.7" r="1.0" fill="#273d9b"/>
<circle cx="255.9" cy="508.3" r="1.0" fill="#283e9c"/>
<circle cx="256.4" cy="507.8" r="1.0" fill="#283f9c"/>
<circle cx="256.9" cy="507.4" r="1.0" fill="#28409d"/>
<circle cx="257.4" cy="507.0" r="1.0" fill="#29419e"/>
<circle cx="258.0" cy="506.6" r="1.0" fill="#29429f"/>
<circle cx="258.5" cy="506.2" r="1.0" fill="#29439f"/>
<circle cx="259.0" cy="505.8" r="1.0" fill="#2a44a0"/>
<circle cx="259.5" cy="505.4" r="1.0" fill="#2a45a1"/>
<circle cx="260.1" cy="505.0" r="1.0" fill="#2b46a2"/>
<circle cx="260.6" cy="504.6" r="1.0" fill="#2b47a2"/>
<circle cx="261.1" cy="504.2" r="1.0" fill="#2b48a3"/>
<circle cx="261.6" cy="503.8" r="1.0" fill="#2c49a4"/>
<circle cx="262.2" cy="503.4" r="1.0" fill="#2c4aa5"/>
<circle cx="262.7" cy="503.0" r="1.0" fill="#2c4ba5"/>
<circle cx="263.2" cy="502.6" r="1.0" fill="#2d4ba6"/>
<circle cx="263.7" cy="502.3" r="1.0" fill="#2d4ca7"/>
<circle cx="264.3" cy="501.9" r="1.0" fill="#2e4da8"/>
<circle cx="264.8" cy="501.5" r="1.0" fill="#2e4ea8"/>
<circle cx="265.3" cy="501.2" r="1.0" fill="#2e4fa9"/>
<circle cx="265.8" cy="500.8" r="1.0" fill="#2f50aa"/>
<circle cx="266.4" cy="500.5" r="1.0" fill="#2f51ab"/>
<circle cx="266.9" cy="500.1" r="1.0" fill="#3052ac"/>
<circle cx="267.4" cy="499.8" r="1.0" fill="#3053ac"/>
<circle cx="268.0" cy="499.4" r="1.0" fill="#3054ad"/>
<circle cx="268.5" cy="499.0" r="1.0" fill="#3155ae"/>
<circle cx="269.0" cy="498.7" r="1.0" fill="#3156af"/>
<circle cx="269.5" cy="498.3" r="1.0" fill="#3157af"/>
<circle cx="270.1" cy="498.0" r="1.0" fill="#3258b0"/>
<circle cx="270.6" cy="497.6" r="1.0" fill="#3259b1"/>
<circle cx="271.1" cy="497.3" r="1.0" fill="#3359b2"/>
<circle cx="271.6" cy="497.0" r="1.0" fill="#335ab2"/>
<circle cx="272.2" cy="496.7" r="1.0" fill="#335bb3"/>
<circle cx="272.7" cy="496.4" r="1.0" fill="#345cb4"/>
<circle cx="273.2" cy="496.2" r="1.0" fill="#345db5"/>
<circle cx="273.7" cy="495.9" r="1.0" fill="#345eb5"/>
<circle cx="274.3" cy="495.6" r="1.0" fill="#355fb6"/>
<circle cx="274.8" cy="495.4" r="1.0" fill="#3560b7"/>
<circle cx="275.3" cy="495.1" r="1.0" fill="#3661b8"/>
<circle cx="275.8" cy="494.9" r="1.0" fill="#3662b8"/>
<circle cx="276.4" cy="494.6" r="1.0" fill="#3663b9"/>
<circle cx="276.9" cy="494.3" r="1.0" fill="#3764ba"/>
<circle cx="277.4" cy="494.1" r="1.0" fill="#3765bb"/>
<circle cx="277.9" cy="493.8" r="1.0" fill="#3766bb"/>
<circle cx="278.5" cy="493.5" r="1.0" fill="#3866bc"/>
<circle cx="279.0" cy="493.3" r="1.0" fill="#3867bd"/>
<circle cx="279.5" cy="493.0" r="1.0" fill="#3968be"/>
<circle cx="280.0" cy="492.8" r="1.0" fill="#3969be"/>
<circle cx="280.6" cy="492.5" r="1.0" fill="#396abf"/>
<circle cx="281.1" cy="492.2" r="1.0" fill="#3a6bc0"/>
<circle cx="281.6" cy="492.0" r="1.0" fill="#3a6cc1"/>
<circle cx="282.1" cy="491.7" r="1.0" fill="#3a6dc1"/>
<circle cx="282.7" cy="491.4" r="1.0" fill="#3b6ec2"/>
<circle cx="283.2" cy="491.2" r="1.0" fill="#3b6fc3"/>
<circle cx="252.0" cy="511.5" r="1.0" fill="#243496"/>
<circle cx="252.6" cy="510.9" r="1.0" fill="#243597"/>
<circle cx="253.2" cy="510.3" r="1.0" fill="#253798"/>
<circle cx="253.8" cy="509.8" r="1.0" fill="#26399a"/>
<circle cx="254.5" cy="509.2" r="1.0" fill="#263b9b"/>
<circle cx="255.1" cy="508.6" r="1.0" fill="#273d9c"/>
<circle cx="255.7" cy="508.0" r="1.0" fill="#283f9e"/>
<circle cx="256.3" cy="507.4" r="1.0" fill="#29419f"/>
<circle cx="256.9" cy="506.8" r="1.0" fill="#2943a0"/>
<circle cx="257.5" cy="506.3" r="1.0" fill="#2a45a2"/>
<circle cx="258.1" cy="505.7" r="1.0" fill="#2b47a3"/>
<circle cx="258.8" cy="505.1" r="1.0" fill="#2c49a4"/>
<circle cx="259.4" cy="504.5" r="1.0" fill="#2c4ba6"/>
<circle cx="260.0" cy="503.9" r="1.0" fill="#2d4da7"/>
<circle cx="260.6" cy="503.3" r="1.0" fill="#2e4ea8"/>
<circle cx="261.2" cy="502.8" r="1.0" fill="#2f50aa"/>
<circle cx="261.8" cy="502.2" r="1.0" fill="#2f52ab"/>
<circle cx="262.4" cy="501.6" r="1.0" fill="#3054ad"/>
<circle cx="263.0" cy="501.0" r="1.0" fill="#3156ae"/>
<circle cx="263.7" cy="500.3" r="1.0" fill="#3258af"/>
<circle cx="264.3" cy="499.7" r="1.0" fill="#325ab1"/>
<circle cx="264.9" cy="499.0" r="1.0" fill="#335cb2"/>
<circle cx="265.5" cy="498.4" r="1.0" fill="#345eb3"/>
<circle cx="266.1" cy="497.7" r="1.0" fill="#3560b5"/>
<circle cx="266.7" cy="497.1" r="1.0" fill="#3562b6"/>
<circle cx="267.3" cy="496.4" r="1.0" fill="#3664b7"/>
<circle cx="268.0" cy="495.8" r="1.0" fill="#3766b9"/>
<circle cx="268.6" cy="495.1" r="1.0" fill="#3867ba"/>
<circle cx="269.2" cy="494.5" r="1.0" fill="#3869bb"/>
<circle cx="269.8" cy="493.8" r="1.0" fill="#396bbd"/>
<circle cx="270.4" cy="493.2" r="1.0" fill="#3a6dbe"/>
<circle cx="271.0" cy="492.5" r="1.0" fill="#3b6fc0"/>
<circle cx="271.6" cy="491.9" r="1.0" fill="#3b71c1"/>
<circle cx="272.2" cy="491.3" r="1.0" fill="#3c73c2"/>
<circle cx="272.9" cy="490.7" r="1.0" fill="#3d75c4"/>
<circle cx="273.5" cy="490.1" r="1.0" fill="#3e77c5"/>
<circle cx="274.1" cy="489.5" r="1.0" fill="#3e79c6"/>
<circle cx="274.7" cy="489.0" r="1.0" fill="#3f7bc8"/>
<circle cx="275.3" cy="488.4" r="1.0" fill="#407dc9"/>
<circle cx="275.9" cy="487.8" r="1.0" fill="#417fca"/>
<circle cx="276.5" cy="487.2" r="1.0" fill="#4181cc"/>
<circle cx="277.1" cy="486.6" r="1.0" fill="#4282cd"/>
<circle cx="277.8" cy="486.0" r="1.0" fill="#4384ce"/>
<circle cx="278.4" cy="485.4" r="1.0" fill="#4386d0"/>
<circle cx="279.0" cy="484.8" r="1.0" fill="#4488d1"/>
<circle cx="279.6" cy="484.2" r="1.0" fill="#458ad3"/>
<circle cx="260.8" cy="503.3" r="1.0" fill="#2c48a8"/>
<circle cx="261.6" cy="501.9" r="1.0" fill="#2d4caa"/>
<circle cx="262.5" cy="500.5" r="1.0" fill="#2f51ad"/>
<circle cx="263.4" cy="499.1" r="1.0" fill="#3155af"/>
<circle cx="264.3" cy="497.8" r="1.0" fill="#325ab2"/>
<circle cx="265.1" cy="496.4" r="1.0" fill="#345fb5"/>
<circle cx="266.0" cy="495.0" r="1.0" fill="#3663b7"/>
<circle cx="266.9" cy="493.6" r="1.0" fill="#3768ba"/>
<circle cx="267.8" cy="492.2" r="1.0" fill="#396cbc"/>
<circle cx="268.7" cy="490.9" r="1.0" fill="#3b71bf"/>
<circle cx="269.5" cy="489.6" r="1.0" fill="#3d76c2"/>
<circle cx="270.4" cy="488.3" r="1.0" fill="#3e7ac4"/>
<circle cx="271.3" cy="487.0" r="1.0" fill="#407fc7"/>
<circle cx="272.2" cy="485.7" r="1.0" fill="#4283c9"/>
<circle cx="273.0" cy="484.3" r="1.0" fill="#4388cc"/>
<circle cx="273.9" cy="483.2" r="1.0" fill="#458dcf"/>
<circle cx="274.8" cy="482.0" r="1.0" fill="#4791d1"/>
<circle cx="275.7" cy="480.8" r="1.0" fill="#4896d4"/>
<circle cx="276.5" cy="479.7" r="1.0" fill="#4a9ad6"/>
<circle cx="277.4" cy="478.5" r="1.0" fill="#4c9fd9"/>
<circle cx="278.3" cy="477.3" r="1.0" fill="#4ea4dc"/>
<circle cx="262.5" cy="500.1" r="1.0" fill="#3050b0"/>
<circle cx="263.6" cy="498.0" r="1.0" fill="#3359b5"/>
<circle cx="264.6" cy="495.9" r="1.0" fill="#3763ba"/>
<circle cx="265.7" cy="493.8" r="1.0" fill="#3a6cbf"/>
<circle cx="266.7" cy="491.7" r="1.0" fill="#3e76c4"/>
<circle cx="267.8" cy="489.6" r="1.0" fill="#4280c9"/>
<circle cx="268.8" cy="487.5" r="1.0" fill="#4589ce"/>
<circle cx="269.9" cy="485.4" r="1.0" fill="#4993d3"/>
<circle cx="270.9" cy="483.3" r="1.0" fill="#4c9cd8"/>
<circle cx="404.5" cy="427.2" r="2" fill="#d8e84c"/>
<circle cx="323.5" cy="392.5" r="2.4" fill="#e7755a"/>
<circle cx="356" cy="359.4" r="2.8" fill="#e23a86"/>
<circle cx="329.7" cy="363.1" r="2.8" fill="#e23a86"/>
<circle cx="382" cy="369.9" r="2.8" fill="#e23a86"/>
<circle cx="304.2" cy="372.3" r="2.8" fill="#e23a86"/>
<circle cx="320.8" cy="376.6" r="2.8" fill="#e23a86"/>
<text x="356" y="353.6" font-family="Liberation Sans, sans-serif" font-size="5.2" text-anchor="middle" font-weight="normal" fill="#222" >MAPK signaling pathway</text>
<text x="329.7" y="357.8" font-family="Liberation Sans, sans-serif" font-size="5.2" text-anchor="middle" font-weight="normal" fill="#222" >Glutathione metabolism</text>
<text x="382" y="364" font-family="Liberation Sans, sans-serif" font-size="5.2" text-anchor="middle" font-weight="normal" fill="#222" >Ferroptosis</text>
<text x="304.2" y="366.4" font-family="Liberation Sans, sans-serif" font-size="5.2" text-anchor="middle" font-weight="normal" fill="#222" >Glycerophospholipid metabolism</text>
<text x="320.8" y="370.8" font-family="Liberation Sans, sans-serif" font-size="5.2" text-anchor="middle" font-weight="normal" fill="#222" >Glutamatergic synapse</text>
<text x="455.6" y="364.6" font-family="Liberation Sans, sans-serif" font-size="28" text-anchor="start" font-weight="bold" fill="#000" >f</text>
<path d="M465.0 376.3C530.0 376.3 530.0 381.6 595.0 381.6V391.5C530.0 391.5 530.0 386.0 465.0 386.0Z" fill="#b6f387" opacity="0.5"/>
<path d="M465.0 387.9C530.0 387.9 530.0 391.5 595.0 391.5V401.3C530.0 401.3 530.0 397.4 465.0 397.4Z" fill="#b6f387" opacity="0.5"/>
<path d="M465.0 408.6C530.0 408.6 530.0 401.3 595.0 401.3V411.1C530.0 411.1 530.0 418.9 465.0 418.9Z" fill="#b6f387" opacity="0.5"/>
<path d="M465.0 419.9C530.0 419.9 530.0 411.1 595.0 411.1V421.0C530.0 421.0 530.0 429.6 465.0 429.6Z" fill="#b6f387" opacity="0.5"/>
<path d="M465.0 430.7C530.0 430.7 530.0 422.0 595.0 422.0V431.9C530.0 431.9 530.0 440.7 465.0 440.7Z" fill="#e6bccd" opacity="0.5"/>
<path d="M465.0 442.0C530.0 442.0 530.0 431.9 595.0 431.9V441.8C530.0 441.8 530.0 451.7 465.0 451.7Z" fill="#e6bccd" opacity="0.5"/>
<path d="M465.0 463.0C530.0 463.0 530.0 441.8 595.0 441.8V451.7C530.0 451.7 530.0 472.7 465.0 472.7Z" fill="#e6bccd" opacity="0.5"/>
<path d="M465.0 474.0C530.0 474.0 530.0 453.0 595.0 453.0V462.9C530.0 462.9 530.0 483.8 465.0 483.8Z" fill="#62a384" opacity="0.5"/>
<path d="M465.0 485.0C530.0 485.0 530.0 462.9 595.0 462.9V472.7C530.0 472.7 530.0 494.8 465.0 494.8Z" fill="#62a384" opacity="0.5"/>
<path d="M465.0 397.4C530.0 397.4 530.0 473.8 595.0 473.8V483.8C530.0 483.8 530.0 407.0 465.0 407.0Z" fill="#b4b4e6" opacity="0.5"/>
<path d="M465.0 496.0C530.0 496.0 530.0 483.8 595.0 483.8V493.7C530.0 493.7 530.0 506.0 465.0 506.0Z" fill="#b4b4e6" opacity="0.5"/>
<path d="M465.0 451.7C530.0 451.7 530.0 495.0 595.0 495.0V504.8C530.0 504.8 530.0 461.4 465.0 461.4Z" fill="#9468c4" opacity="0.5"/>
<rect x="458.4" y="376.3" width="6.6" height="9.7" fill="#2e2a86"/>
<text x="457" y="382.6" font-family="Liberation Sans, sans-serif" font-size="4.55" text-anchor="end" font-weight="normal" fill="#111" >SLC7A11</text>
<rect x="458.4" y="387.9" width="6.6" height="19.1" fill="#bdf25c"/>
<text x="457" y="398.9" font-family="Liberation Sans, sans-serif" font-size="4.55" text-anchor="end" font-weight="normal" fill="#111" >GPX4</text>
<rect x="458.4" y="408.6" width="6.6" height="10.3" fill="#3c1fa8"/>
<text x="457" y="415.2" font-family="Liberation Sans, sans-serif" font-size="4.55" text-anchor="end" font-weight="normal" fill="#111" >ACSL5</text>
<rect x="458.4" y="419.9" width="6.6" height="9.7" fill="#9a7a48"/>
<text x="457" y="426.2" font-family="Liberation Sans, sans-serif" font-size="4.55" text-anchor="end" font-weight="normal" fill="#111" >ATG5</text>
<rect x="458.4" y="430.7" width="6.6" height="10.0" fill="#5ab8e8"/>
<text x="457" y="437.2" font-family="Liberation Sans, sans-serif" font-size="4.55" text-anchor="end" font-weight="normal" fill="#111" >CDS2</text>
<rect x="458.4" y="442" width="6.6" height="19.4" fill="#8a7a62"/>
<text x="457" y="453.2" font-family="Liberation Sans, sans-serif" font-size="4.55" text-anchor="end" font-weight="normal" fill="#111" >PLD1</text>
<rect x="458.4" y="463" width="6.6" height="9.7" fill="#3a3a98"/>
<text x="457" y="469.4" font-family="Liberation Sans, sans-serif" font-size="4.55" text-anchor="end" font-weight="normal" fill="#111" >DGKG</text>
<rect x="458.4" y="474" width="6.6" height="9.8" fill="#a0ffe0"/>
<text x="457" y="480.4" font-family="Liberation Sans, sans-serif" font-size="4.55" text-anchor="end" font-weight="normal" fill="#111" >MAPK14</text>
<rect x="458.4" y="485" width="6.6" height="9.8" fill="#2f6a4f"/>
<text x="457" y="491.4" font-family="Liberation Sans, sans-serif" font-size="4.55" text-anchor="end" font-weight="normal" fill="#111" >DUSP4</text>
<rect x="458.4" y="496" width="6.6" height="10.0" fill="#b08a5a"/>
<text x="457" y="502.5" font-family="Liberation Sans, sans-serif" font-size="4.55" text-anchor="end" font-weight="normal" fill="#111" >GSTA3</text>
<rect x="595" y="381.6" width="6" height="39.4" fill="#ff2a10"/>
<text x="593.4" y="402.8" font-family="Liberation Sans, sans-serif" font-size="4.55" text-anchor="end" font-weight="normal" fill="#111" >Ferroptosis</text>
<rect x="595" y="422" width="6" height="29.7" fill="#e8e85c"/>
<text x="593.4" y="438.4" font-family="Liberation Sans, sans-serif" font-size="4.55" text-anchor="end" font-weight="normal" fill="#111" >Glycerophospholipid metabolism</text>
<rect x="595" y="453" width="6" height="19.7" fill="#70ffff"/>
<text x="593.4" y="464.4" font-family="Liberation Sans, sans-serif" font-size="4.55" text-anchor="end" font-weight="normal" fill="#111" >MAPK signaling pathway</text>
<rect x="595" y="473.8" width="6" height="19.9" fill="#b080c8"/>
<text x="593.4" y="485.2" font-family="Liberation Sans, sans-serif" font-size="4.55" text-anchor="end" font-weight="normal" fill="#111" >Glutathione metabolism</text>
<rect x="595" y="495" width="6" height="9.8" fill="#2f7a5a"/>
<text x="593.4" y="501.4" font-family="Liberation Sans, sans-serif" font-size="4.55" text-anchor="end" font-weight="normal" fill="#111" >Glutamatergic synapse</text>
<rect x="606.5" y="381.3" width="44.5" height="123.6" fill="#fff" stroke="#333" stroke-width="0.6"/>
<circle cx="632" cy="401.4" r="1.4" fill="#48dcc0"/>
<circle cx="628.7" cy="437.6" r="1.4" fill="#a8e850"/>
<circle cx="638.6" cy="463.7" r="1.2" fill="#1a20a0"/>
<circle cx="623.5" cy="484.7" r="1.2" fill="#f03020"/>
<circle cx="643.6" cy="500.8" r="1.2" fill="#181a90"/>
<text x="607.5" y="511.2" font-family="Liberation Sans, sans-serif" font-size="3.4" text-anchor="middle" font-weight="normal" fill="#222" >0.00</text>
<text x="620.3" y="511.2" font-family="Liberation Sans, sans-serif" font-size="3.4" text-anchor="middle" font-weight="normal" fill="#222" >0.20</text>
<text x="633.4" y="511.2" font-family="Liberation Sans, sans-serif" font-size="3.4" text-anchor="middle" font-weight="normal" fill="#222" >0.40</text>
<text x="646.6" y="511.2" font-family="Liberation Sans, sans-serif" font-size="3.4" text-anchor="middle" font-weight="normal" fill="#222" >0.60</text>
<text x="628.7" y="516" font-family="Liberation Sans, sans-serif" font-size="3.9" text-anchor="middle" font-weight="bold" fill="#111" >Rich factor</text>
<text x="655" y="387.2" font-family="Liberation Sans, sans-serif" font-size="5.9" text-anchor="start" font-weight="normal" fill="#000" >Pvalue</text>
<rect x="661.5" y="393.7" width="4.3" height="43" fill="url(#pval)"/>
<text x="667" y="400.1" font-family="Liberation Sans, sans-serif" font-size="5.0" text-anchor="start" font-weight="normal" fill="#111" >0.9</text>
<text x="667" y="412.7" font-family="Liberation Sans, sans-serif" font-size="5.0" text-anchor="start" font-weight="normal" fill="#111" >0.6</text>
<text x="667" y="425.6" font-family="Liberation Sans, sans-serif" font-size="5.0" text-anchor="start" font-weight="normal" fill="#111" >0.3</text>
<text x="659" y="471.2" font-family="Liberation Sans, sans-serif" font-size="5.9" text-anchor="start" font-weight="normal" fill="#000" >Count</text>
<circle cx="661.5" cy="480.4" r="0.7" fill="#000"/>
<text x="667" y="482.0" font-family="Liberation Sans, sans-serif" font-size="4.9" text-anchor="start" font-weight="normal" fill="#111" >0</text>
<circle cx="661.5" cy="489.5" r="1.4" fill="#000"/>
<text x="667" y="491.1" font-family="Liberation Sans, sans-serif" font-size="4.9" text-anchor="start" font-weight="normal" fill="#111" >5</text>
<circle cx="661.5" cy="498.7" r="2.5" fill="#000"/>
<text x="667" y="500.3" font-family="Liberation Sans, sans-serif" font-size="4.9" text-anchor="start" font-weight="normal" fill="#111" >10</text>
<text x="363.2" y="19.6" font-family="Liberation Sans, sans-serif" font-size="28" text-anchor="start" font-weight="bold" fill="#000" >e</text>
<path d="M413.6 103L396.7 45.2M413.6 103L375 65.2M413.6 103L362.5 95.3M413.6 103L363.5 127.7M413.6 103L449 129.5M413.6 103L472 125.2M489 60.6L467.2 9.5M489 60.6L493.8 10.7M489 60.6L445.3 22.5M489 60.6L526.6 15.3M489 60.6L524 88M489 60.6L472 125.2M472 68.5L467.2 9.5M472 68.5L493.8 10.7M472 68.5L445.3 22.5M472 68.5L524 88M472 68.5L472 125.2M592.3 56.7L586 20.4M592.3 56.7L560.6 32.7M592.3 56.7L624.2 68.2M592.3 56.7L608.4 94M520.7 133.6L524 88M520.7 133.6L572.6 111.6M520.7 133.6L472 125.2M520.7 133.6L524.6 205M514.6 147.7L524 88M514.6 147.7L472 125.2M514.6 147.7L449 129.5M514.6 147.7L524.6 205M514.6 147.7L566.7 176.9M507.3 178.2L472 125.2M507.3 178.2L467 173.2M507.3 178.2L486.9 225.7M507.3 178.2L471 227.5M507.3 178.2L503 230.6M507.3 178.2L566.7 176.9M445.3 190L391.9 196.8M445.3 190L467 173.2M445.3 190L486.9 225.7M445.3 190L471 227.5M445.3 190L503 230.6M445.3 190L427.6 242.3M445.3 190L439.6 251.8M445.3 190L472 125.2M488.2 269.1L486.9 225.7M488.2 269.1L471 227.5M488.2 269.1L503 230.6M488.2 269.1L427.6 242.3M488.2 269.1L439.6 251.8M488.2 269.1L524.6 205M488.2 269.1L452.4 313.6M488.2 269.1L483 323.3M488.2 269.1L513.8 318.2M488.2 269.1L536.8 300.6M621.9 199.4L566.7 176.9M621.9 199.4L663.3 162.2M621.9 199.4L673.5 197.3M621.9 199.4L663.5 235.9M621.9 199.4L639.8 259.4" stroke="#d4d4d4" stroke-width="0.6" fill="none"/>
<circle cx="413.6" cy="103" r="6.4" fill="#3cae22"/>
<circle cx="489" cy="60.6" r="6.4" fill="#3cae22"/>
<circle cx="472" cy="68.5" r="5.4" fill="#3cae22"/>
<circle cx="592.3" cy="56.7" r="4.6" fill="#3cae22"/>
<circle cx="520.7" cy="133.6" r="5.9" fill="#3cae22"/>
<circle cx="514.6" cy="147.7" r="6.1" fill="#3cae22"/>
<circle cx="507.3" cy="178.2" r="6.4" fill="#3cae22"/>
<circle cx="445.3" cy="190" r="7.2" fill="#3cae22"/>
<circle cx="488.2" cy="269.1" r="7.7" fill="#3cae22"/>
<circle cx="621.9" cy="199.4" r="6.4" fill="#3cae22"/>
<circle cx="467.2" cy="9.5" r="2.7" fill="#f4a9b4"/>
<circle cx="493.8" cy="10.7" r="2.7" fill="#f5b3be"/>
<circle cx="445.3" cy="22.5" r="2.7" fill="#f07c7c"/>
<circle cx="396.7" cy="45.2" r="2.7" fill="#f29aa2"/>
<circle cx="375" cy="65.2" r="2.7" fill="#f18c92"/>
<circle cx="362.5" cy="95.3" r="2.7" fill="#f4adb8"/>
<circle cx="363.5" cy="127.7" r="2.7" fill="#f08a90"/>
<circle cx="449" cy="129.5" r="2.7" fill="#ff2a1a"/>
<circle cx="472" cy="125.2" r="2.7" fill="#f4aab6"/>
<circle cx="467" cy="173.2" r="2.7" fill="#f4a4b0"/>
<circle cx="526.6" cy="15.3" r="2.7" fill="#f4aab6"/>
<circle cx="586" cy="20.4" r="2.7" fill="#ff3a24"/>
<circle cx="560.6" cy="32.7" r="2.7" fill="#ff2f1c"/>
<circle cx="624.2" cy="68.2" r="2.7" fill="#fb4a36"/>
<circle cx="608.4" cy="94" r="2.7" fill="#fb3a28"/>
<circle cx="524" cy="88" r="2.7" fill="#f4665c"/>
<circle cx="572.6" cy="111.6" r="2.7" fill="#f4a8b4"/>
<circle cx="663.3" cy="162.2" r="2.7" fill="#fa4632"/>
<circle cx="566.7" cy="176.9" r="2.7" fill="#fb3a28"/>
<circle cx="524.6" cy="205" r="2.7" fill="#f4a0ac"/>
<circle cx="673.5" cy="197.3" r="2.7" fill="#f5b0bc"/>
<circle cx="663.5" cy="235.9" r="2.7" fill="#fb3a28"/>
<circle cx="639.8" cy="259.4" r="2.7" fill="#fc3020"/>
<circle cx="391.9" cy="196.8" r="2.7" fill="#f4a8b4"/>
<circle cx="486.9" cy="225.7" r="2.7" fill="#f39aa4"/>
<circle cx="471" cy="227.5" r="2.7" fill="#f2564a"/>
<circle cx="503" cy="230.6" r="2.7" fill="#f4a0ac"/>
<circle cx="427.6" cy="242.3" r="2.7" fill="#f3949e"/>
<circle cx="439.6" cy="251.8" r="2.7" fill="#f4a8b4"/>
<circle cx="452.4" cy="313.6" r="2.7" fill="#f39aa4"/>
<circle cx="483" cy="323.3" r="2.7" fill="#f4a4b0"/>
<circle cx="513.8" cy="318.2" r="2.7" fill="#f18c94"/>
<circle cx="536.8" cy="300.6" r="2.7" fill="#f4a8b4"/>
<text x="470.3" y="6.3" font-family="Liberation Sans, sans-serif" font-size="4.85" text-anchor="middle" font-weight="normal" fill="#000" >PDE8B</text>
<text x="490" y="16.2" font-family="Liberation Sans, sans-serif" font-size="4.85" text-anchor="middle" font-weight="normal" fill="#000" >NR4A1</text>
<text x="441.7" y="28.2" font-family="Liberation Sans, sans-serif" font-size="4.85" text-anchor="middle" font-weight="normal" fill="#000" >KCNA4</text>
<text x="400.5" y="42.2" font-family="Liberation Sans, sans-serif" font-size="4.85" text-anchor="middle" font-weight="normal" fill="#000" >TLR4</text>
<text x="378.3" y="62.6" font-family="Liberation Sans, sans-serif" font-size="4.85" text-anchor="middle" font-weight="normal" fill="#000" >NOS2</text>
<text x="359.2" y="101" font-family="Liberation Sans, sans-serif" font-size="4.85" text-anchor="middle" font-weight="normal" fill="#000" >SERPINE1</text>
<text x="366.8" y="125.3" font-family="Liberation Sans, sans-serif" font-size="4.85" text-anchor="middle" font-weight="normal" fill="#000" >ENG</text>
<text x="452.4" y="127" font-family="Liberation Sans, sans-serif" font-size="4.85" text-anchor="middle" font-weight="normal" fill="#000" >MAPK14</text>
<text x="475.4" y="122" font-family="Liberation Sans, sans-serif" font-size="4.85" text-anchor="middle" font-weight="normal" fill="#000" >PLCB4</text>
<text x="470.3" y="170.3" font-family="Liberation Sans, sans-serif" font-size="4.85" text-anchor="middle" font-weight="normal" fill="#000" >GNGT2</text>
<text x="530.4" y="12.3" font-family="Liberation Sans, sans-serif" font-size="4.85" text-anchor="middle" font-weight="normal" fill="#000" >WNT5B</text>
<text x="589" y="18.5" font-family="Liberation Sans, sans-serif" font-size="3.7" text-anchor="middle" font-weight="normal" fill="#000" >GPX4</text>
<text x="563" y="30.4" font-family="Liberation Sans, sans-serif" font-size="3.7" text-anchor="middle" font-weight="normal" fill="#000" >SLC7A11</text>
<text x="627" y="66" font-family="Liberation Sans, sans-serif" font-size="3.7" text-anchor="middle" font-weight="normal" fill="#000" >ATG5</text>
<text x="605.8" y="98.7" font-family="Liberation Sans, sans-serif" font-size="3.7" text-anchor="middle" font-weight="normal" fill="#000" >ACSL5</text>
<text x="520" y="93.6" font-family="Liberation Sans, sans-serif" font-size="4.85" text-anchor="middle" font-weight="normal" fill="#000" >CACNA1S</text>
<text x="569.3" y="117.6" font-family="Liberation Sans, sans-serif" font-size="4.85" text-anchor="middle" font-weight="normal" fill="#000" >TRPC4</text>
<text x="667" y="159.7" font-family="Liberation Sans, sans-serif" font-size="4.85" text-anchor="middle" font-weight="normal" fill="#000" >GPAT2</text>
<text x="562.9" y="182.9" font-family="Liberation Sans, sans-serif" font-size="4.85" text-anchor="middle" font-weight="normal" fill="#000" >PLD1</text>
<text x="521.5" y="211" font-family="Liberation Sans, sans-serif" font-size="4.85" text-anchor="middle" font-weight="normal" fill="#000" >GNRH2</text>
<text x="670.4" y="203.4" font-family="Liberation Sans, sans-serif" font-size="4.85" text-anchor="middle" font-weight="normal" fill="#000" >LPCAT2</text>
<text x="667" y="233" font-family="Liberation Sans, sans-serif" font-size="4.85" text-anchor="middle" font-weight="normal" fill="#000" >DGKG</text>
<text x="643.4" y="256.4" font-family="Liberation Sans, sans-serif" font-size="4.85" text-anchor="middle" font-weight="normal" fill="#000" >CDS2</text>
<text x="388.5" y="202.6" font-family="Liberation Sans, sans-serif" font-size="4.85" text-anchor="middle" font-weight="normal" fill="#000" >SLC6A9</text>
<text x="490.7" y="223.2" font-family="Liberation Sans, sans-serif" font-size="4.85" text-anchor="middle" font-weight="normal" fill="#000" >GRIN2C</text>
<text x="467" y="233.4" font-family="Liberation Sans, sans-serif" font-size="4.85" text-anchor="middle" font-weight="normal" fill="#000" >GRIK1</text>
<text x="506.6" y="236" font-family="Liberation Sans, sans-serif" font-size="4.85" text-anchor="middle" font-weight="normal" fill="#000" >GRIK2</text>
<text x="431.2" y="239.5" font-family="Liberation Sans, sans-serif" font-size="4.85" text-anchor="middle" font-weight="normal" fill="#000" >DRD1</text>
<text x="435.8" y="257" font-family="Liberation Sans, sans-serif" font-size="4.85" text-anchor="middle" font-weight="normal" fill="#000" >HTR2B</text>
<text x="449.4" y="319.1" font-family="Liberation Sans, sans-serif" font-size="4.85" text-anchor="middle" font-weight="normal" fill="#000" >F2RL3</text>
<text x="487" y="320.4" font-family="Liberation Sans, sans-serif" font-size="4.85" text-anchor="middle" font-weight="normal" fill="#000" >S1PR5</text>
<text x="517.7" y="315.1" font-family="Liberation Sans, sans-serif" font-size="4.85" text-anchor="middle" font-weight="normal" fill="#000" >APLN</text>
<text x="540" y="297.6" font-family="Liberation Sans, sans-serif" font-size="4.85" text-anchor="middle" font-weight="normal" fill="#000" >PTGER2</text>
<text x="409" y="110" font-family="Liberation Sans, sans-serif" font-size="6.25" text-anchor="middle" font-weight="normal" fill="#000" >Chagas disease</text>
<text x="484.9" y="66.6" font-family="Liberation Sans, sans-serif" font-size="6.25" text-anchor="middle" font-weight="normal" fill="#000" >Cushing syndrome</text>
<text x="467.2" y="74.8" font-family="Liberation Sans, sans-serif" font-size="6.25" text-anchor="middle" font-weight="normal" fill="#000" >Cortisol synthesis and secretion</text>
<text x="595" y="55.2" font-family="Liberation Sans, sans-serif" font-size="5.2" text-anchor="middle" font-weight="normal" fill="#000" >Ferroptosis</text>
<text x="525" y="131.4" font-family="Liberation Sans, sans-serif" font-size="6.25" text-anchor="middle" font-weight="normal" fill="#000" >GnRH secretion</text>
<text x="510.2" y="154.6" font-family="Liberation Sans, sans-serif" font-size="6.25" text-anchor="middle" font-weight="normal" fill="#000" >GnRH signaling pathway</text>
<text x="511.2" y="176.2" font-family="Liberation Sans, sans-serif" font-size="6.25" text-anchor="middle" font-weight="normal" fill="#000" >Glutamatergic synapse</text>
<text x="441" y="197.6" font-family="Liberation Sans, sans-serif" font-size="6.25" text-anchor="middle" font-weight="normal" fill="#000" >Neuroactive ligand signaling</text>
<text x="484" y="276" font-family="Liberation Sans, sans-serif" font-size="6.25" text-anchor="middle" font-weight="normal" fill="#000" >Neuroactive ligand-receptor interaction</text>
<text x="617.3" y="206.4" font-family="Liberation Sans, sans-serif" font-size="6.25" text-anchor="middle" font-weight="normal" fill="#000" >Glycerophospholipid metabolism</text>
<text x="652.3" y="15" font-family="Liberation Sans, sans-serif" font-size="5.2" text-anchor="start" font-weight="normal" fill="#222" >log2(FC)</text>
<rect x="652.3" y="17.9" width="8.4" height="41.4" fill="url(#redleg)"/>
<text x="663.4" y="24.5" font-family="Liberation Sans, sans-serif" font-size="4.2" text-anchor="start" font-weight="normal" fill="#333" >8</text>
<text x="663.4" y="35.2" font-family="Liberation Sans, sans-serif" font-size="4.2" text-anchor="start" font-weight="normal" fill="#333" >6</text>
<text x="663.4" y="45.7" font-family="Liberation Sans, sans-serif" font-size="4.2" text-anchor="start" font-weight="normal" fill="#333" >4</text>
<text x="663.4" y="55.9" font-family="Liberation Sans, sans-serif" font-size="4.2" text-anchor="start" font-weight="normal" fill="#333" >2</text>
<text x="652.3" y="67.6" font-family="Liberation Sans, sans-serif" font-size="5.0" text-anchor="start" font-weight="normal" fill="#222" >size</text>
<circle cx="663.3" cy="78" r="5.6" fill="#000"/>
<text x="676" y="79.5" font-family="Liberation Sans, sans-serif" font-size="4.2" text-anchor="start" font-weight="normal" fill="#333" >5</text>
<circle cx="663.3" cy="94.5" r="7.2" fill="#000"/>
<text x="676" y="96.0" font-family="Liberation Sans, sans-serif" font-size="4.2" text-anchor="start" font-weight="normal" fill="#333" >10</text>
<circle cx="663.3" cy="115" r="8.4" fill="#000"/>
<text x="676" y="116.5" font-family="Liberation Sans, sans-serif" font-size="4.2" text-anchor="start" font-weight="normal" fill="#333" >15</text>
</svg></body></html>
